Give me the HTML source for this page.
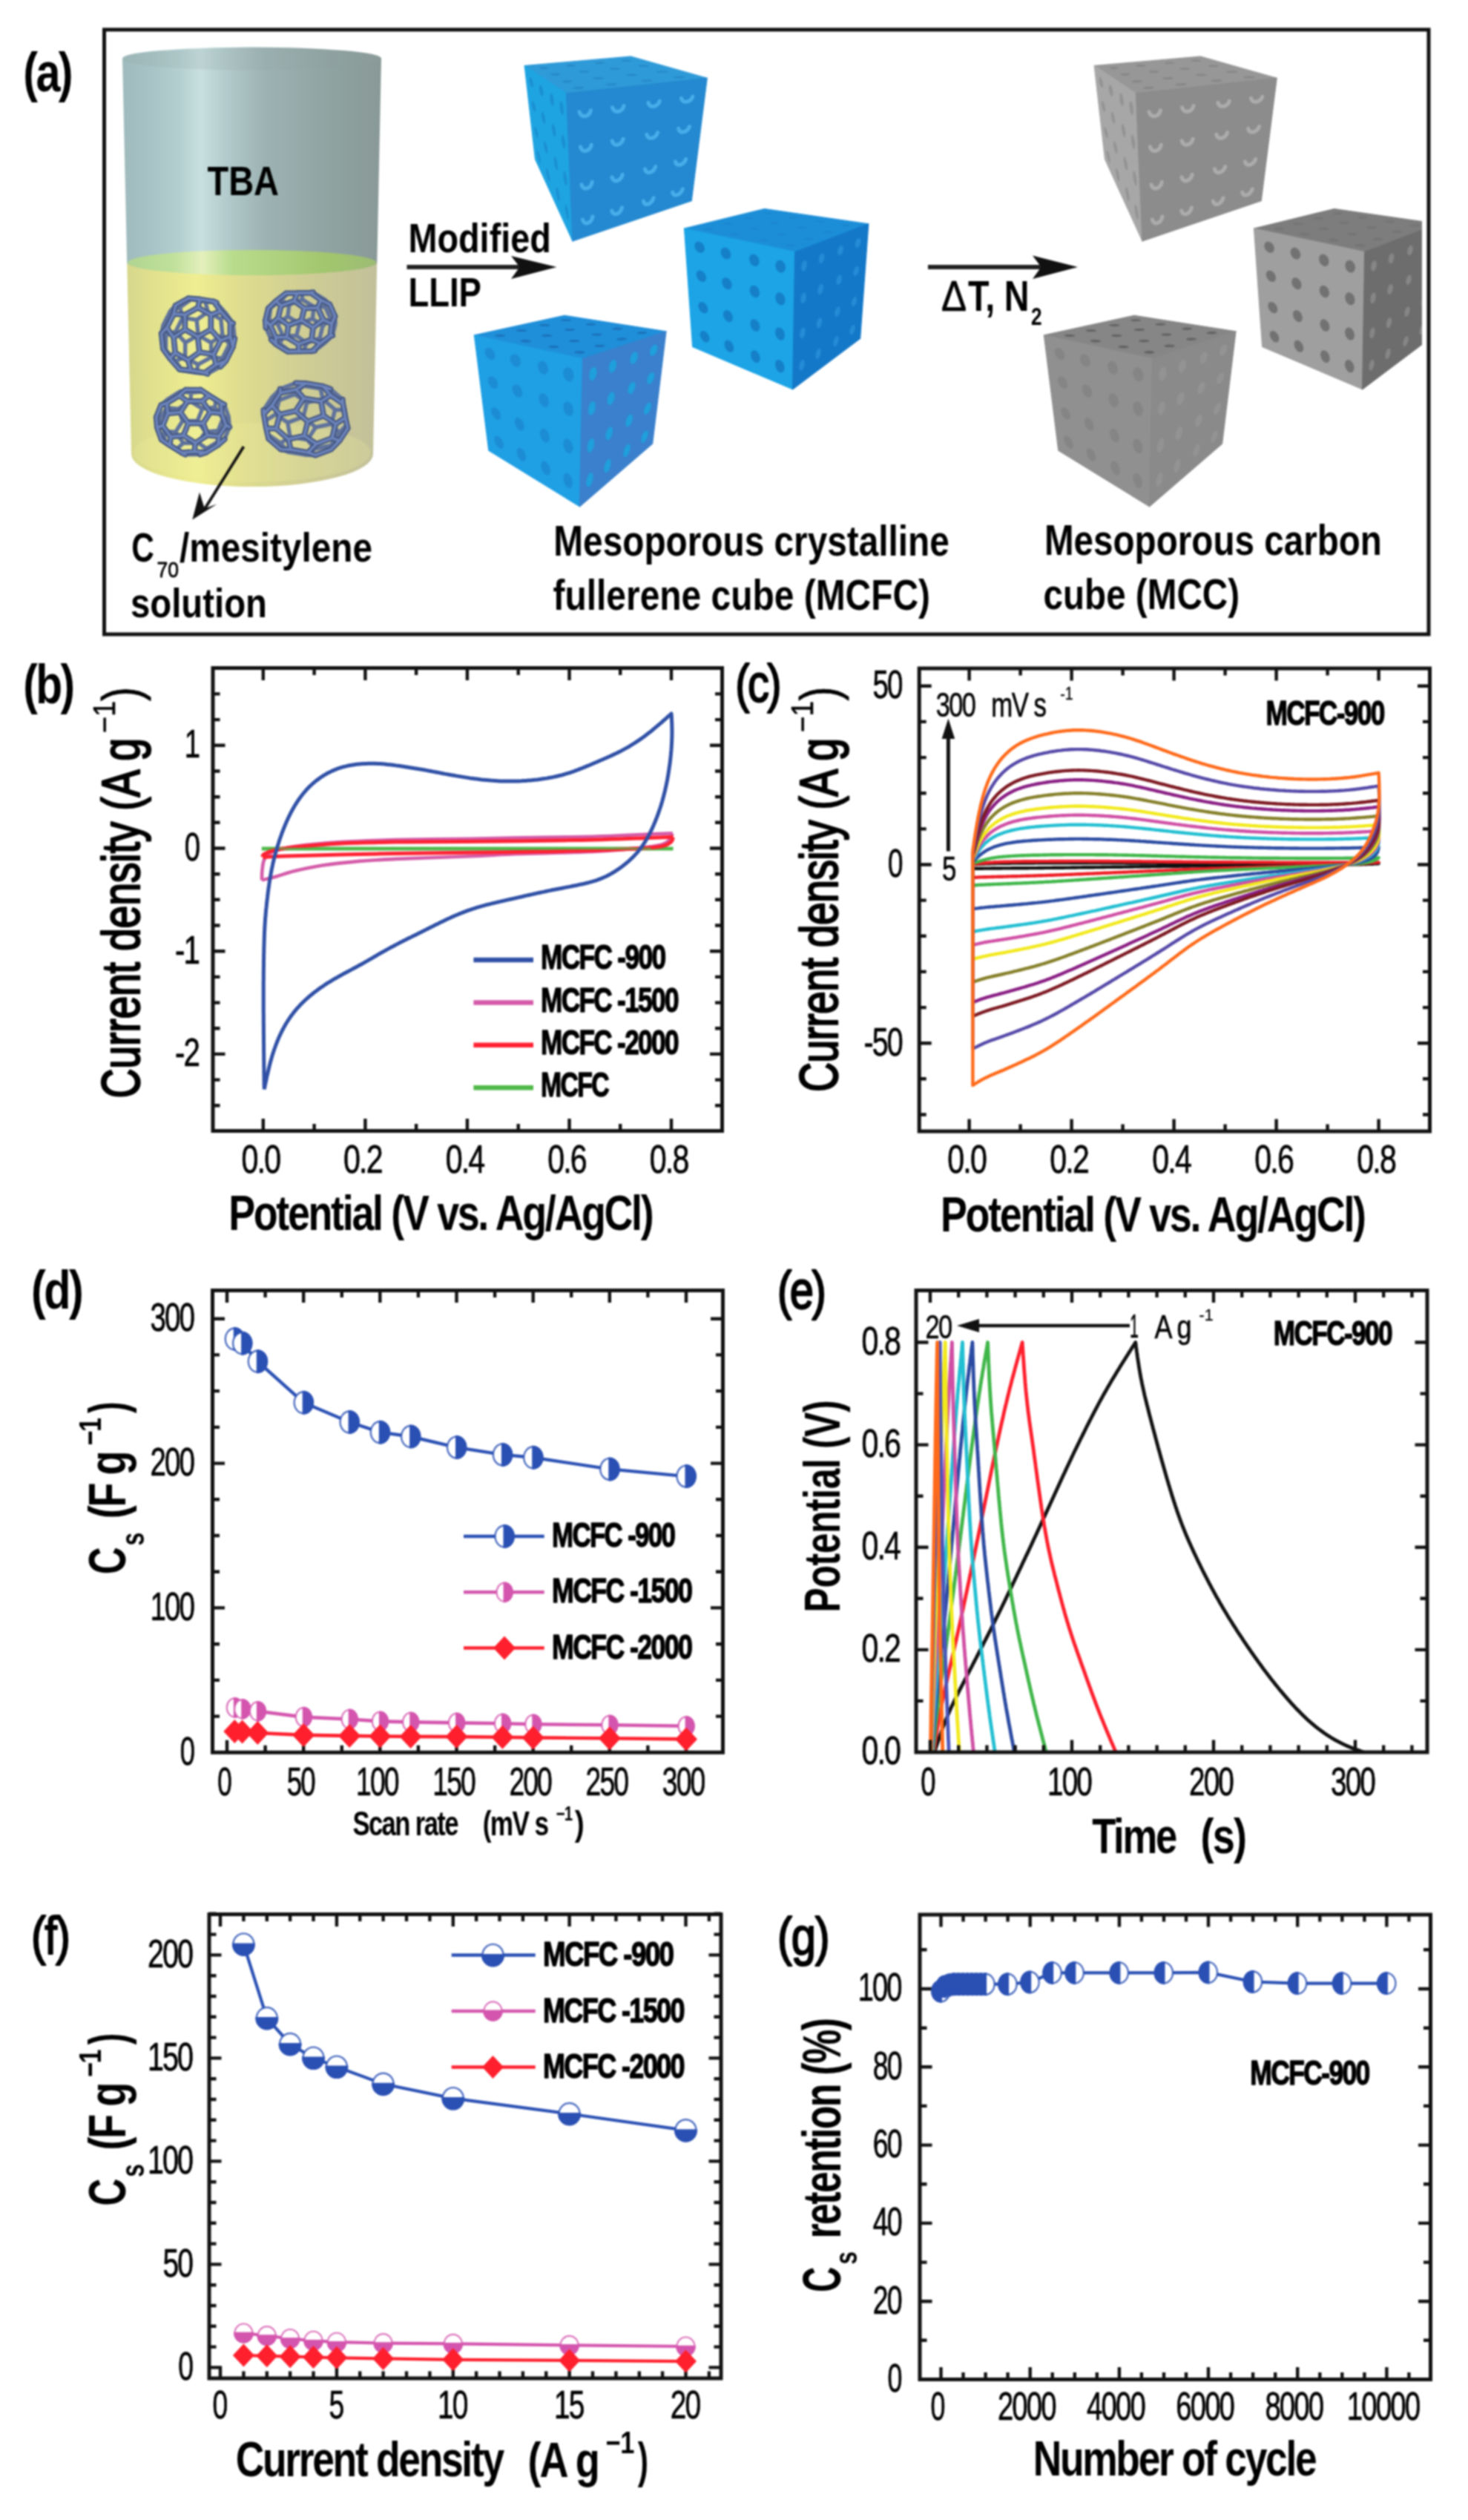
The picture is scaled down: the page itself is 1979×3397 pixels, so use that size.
<!DOCTYPE html>
<html><head><meta charset="utf-8"><title>Figure</title>
<style>
html,body{margin:0;padding:0;background:#fff;}
svg{display:block;font-family:"Liberation Sans",sans-serif;filter:blur(0.9px);}
</style></head><body>
<svg width="1979" height="3397" viewBox="0 0 1979 3397">
<defs><filter id="soft" x="0" y="0" width="1979" height="3397" filterUnits="userSpaceOnUse"><feGaussianBlur stdDeviation="0.9"/></filter></defs>
<rect width="1979" height="3397" fill="#fff"/>
<g id="fig">
<defs>
<linearGradient id="gTBA" x1="0" x2="1" y1="0" y2="0">
<stop offset="0" stop-color="#9fbabc"/><stop offset="0.10" stop-color="#a6c2c4"/><stop offset="0.22" stop-color="#b4cfd0"/>
<stop offset="0.30" stop-color="#c8e0df"/><stop offset="0.40" stop-color="#b3cbcc"/><stop offset="0.55" stop-color="#9db3b3"/>
<stop offset="0.80" stop-color="#8fa3a1"/><stop offset="1" stop-color="#899997"/>
</linearGradient>
<linearGradient id="gYEL" x1="0" x2="1" y1="0" y2="0">
<stop offset="0" stop-color="#d6d78c"/><stop offset="0.12" stop-color="#e2e28e"/><stop offset="0.28" stop-color="#efee92"/>
<stop offset="0.45" stop-color="#dfdd8e"/><stop offset="0.70" stop-color="#d0ce94"/><stop offset="1" stop-color="#c2c09a"/>
</linearGradient>
<linearGradient id="gGRN" x1="0" x2="1" y1="0" y2="0">
<stop offset="0" stop-color="#b0d590"/><stop offset="0.18" stop-color="#bfe09a"/><stop offset="0.30" stop-color="#e4f0bc"/>
<stop offset="0.42" stop-color="#b8dc8c"/><stop offset="0.80" stop-color="#a2c66e"/><stop offset="1" stop-color="#9cbd74"/>
</linearGradient>
<clipPath id="clipA"><rect x="143" y="42" width="1774" height="810"/></clipPath>
</defs>
<rect x="140.5" y="40" width="1785.5" height="815" fill="#fff" stroke="#111" stroke-width="5"/>
<path d="M171.2 354.0L508.3 354.0L503.0 612.0A163.0 44 0 0 1 177.0 612.0Z" fill="url(#gYEL)"/>
<ellipse cx="340.0" cy="610.0" rx="160.0" ry="40" fill="#f2f0a0" opacity="0.22"/>
<path d="M165.0 78.6A174.5 15 0 0 1 514.0 78.6L508.3 354.0A168.6 17 0 0 1 171.2 354.0Z" fill="url(#gTBA)"/>
<ellipse cx="339.5" cy="79.6" rx="173.5" ry="15" fill="#8fa09e" opacity="0.18"/>
<ellipse cx="339.8" cy="354.0" rx="167.6" ry="17" fill="url(#gGRN)"/>
<path d="M309.2 464.2L316.4 456.5M309.2 464.2L299.7 483.0M309.2 464.2L299.9 451.1M297.4 494.2L279.9 504.0M297.4 494.2L299.7 483.0M316.4 456.5L314.2 435.8M284.7 461.9L267.3 452.0M284.7 461.9L284.6 481.6M284.7 461.9L299.9 451.1M220.0 438.3L223.6 452.1M220.0 438.3L229.5 419.4M220.0 438.3L217.6 449.5M257.8 403.6L254.1 402.0M257.8 403.6L242.6 414.4M257.8 403.6L276.7 406.6M236.5 486.5L245.8 499.6M236.5 486.5L249.6 481.5M236.5 486.5L223.5 471.9M304.9 422.7L297.8 430.4M304.9 422.7L291.9 408.0M304.9 422.7L314.2 435.8M245.8 499.6L242.1 498.0M245.8 499.6L264.7 502.6M279.9 504.0L264.7 502.6M297.8 430.4L280.4 420.4M297.8 430.4L299.9 451.1M265.1 431.2L267.3 452.0M265.1 431.2L246.2 428.2M265.1 431.2L280.4 420.4M267.3 452.0L249.7 461.8M291.9 408.0L276.7 406.6M246.2 428.2L242.6 414.4M246.2 428.2L236.7 447.1M223.6 452.1L236.7 447.1M223.6 452.1L223.5 471.9M249.6 481.5L267.0 491.4M249.6 481.5L249.7 461.8M280.4 420.4L276.7 406.6M267.0 491.4L284.6 481.6M267.0 491.4L264.7 502.6M299.7 483.0L284.6 481.6M249.7 461.8L236.7 447.1M242.6 414.4L229.5 419.4M236.6 411.8L229.5 419.4M219.8 470.2L223.5 471.9" stroke="#5f729c" stroke-width="5.4" stroke-linecap="round" fill="none"/>
<path d="M297.4 494.2L304.5 486.6M253.6 485.6L268.9 474.8M253.6 485.6L257.3 499.4M253.6 485.6L236.2 475.6M316.4 456.5L314.0 467.7M304.5 486.6L314.0 467.7M304.5 486.6L291.4 491.6M267.0 414.6L249.4 424.4M267.0 414.6L269.3 403.4M267.0 414.6L284.4 424.5M268.9 474.8L266.7 454.0M268.9 474.8L287.8 477.8M266.7 454.0L284.3 444.2M266.7 454.0L249.3 444.1M276.2 502.4L279.9 504.0M276.2 502.4L257.3 499.4M276.2 502.4L291.4 491.6M242.1 498.0L257.3 499.4M242.1 498.0L229.1 483.3M249.4 424.4L234.3 423.0M249.4 424.4L249.3 444.1M288.2 406.4L291.9 408.0M288.2 406.4L269.3 403.4M288.2 406.4L297.5 419.5M314.0 467.7L310.4 453.9M269.3 403.4L254.1 402.0M297.5 419.5L310.5 434.1M297.5 419.5L284.4 424.5M314.2 435.8L310.5 434.1M254.1 402.0L236.6 411.8M310.4 453.9L297.3 458.9M310.4 453.9L310.5 434.1M234.1 454.9L236.2 475.6M234.1 454.9L249.3 444.1M234.1 454.9L224.8 441.8M284.3 444.2L297.3 458.9M284.3 444.2L284.4 424.5M297.3 458.9L287.8 477.8M229.1 483.3L236.2 475.6M229.1 483.3L219.8 470.2M234.3 423.0L224.8 441.8M234.3 423.0L236.6 411.8M291.4 491.6L287.8 477.8M224.8 441.8L217.6 449.5M217.6 449.5L219.8 470.2" stroke="#42547f" stroke-width="7.6" stroke-linecap="round" fill="none"/>
<path d="M297.4 494.2L304.5 486.6M253.6 485.6L268.9 474.8M253.6 485.6L257.3 499.4M253.6 485.6L236.2 475.6M316.4 456.5L314.0 467.7M304.5 486.6L314.0 467.7M304.5 486.6L291.4 491.6M267.0 414.6L249.4 424.4M267.0 414.6L269.3 403.4M267.0 414.6L284.4 424.5M268.9 474.8L266.7 454.0M268.9 474.8L287.8 477.8M266.7 454.0L284.3 444.2M266.7 454.0L249.3 444.1M276.2 502.4L279.9 504.0M276.2 502.4L257.3 499.4M276.2 502.4L291.4 491.6M242.1 498.0L257.3 499.4M242.1 498.0L229.1 483.3M249.4 424.4L234.3 423.0M249.4 424.4L249.3 444.1M288.2 406.4L291.9 408.0M288.2 406.4L269.3 403.4M288.2 406.4L297.5 419.5M314.0 467.7L310.4 453.9M269.3 403.4L254.1 402.0M297.5 419.5L310.5 434.1M297.5 419.5L284.4 424.5M314.2 435.8L310.5 434.1M254.1 402.0L236.6 411.8M310.4 453.9L297.3 458.9M310.4 453.9L310.5 434.1M234.1 454.9L236.2 475.6M234.1 454.9L249.3 444.1M234.1 454.9L224.8 441.8M284.3 444.2L297.3 458.9M284.3 444.2L284.4 424.5M297.3 458.9L287.8 477.8M229.1 483.3L236.2 475.6M229.1 483.3L219.8 470.2M234.3 423.0L224.8 441.8M234.3 423.0L236.6 411.8M291.4 491.6L287.8 477.8M224.8 441.8L217.6 449.5M217.6 449.5L219.8 470.2" stroke="#6c84bb" stroke-width="3.6" stroke-linecap="round" fill="none"/>
<path d="M437.8 462.3L448.3 452.3M437.8 462.3L424.2 472.8M437.8 462.3L431.1 455.9M448.3 452.3L452.2 435.9M413.4 462.4L399.7 452.5M413.4 462.4L409.1 472.9M413.4 462.4L431.1 455.9M364.8 415.2L362.7 431.4M364.8 415.2L378.4 404.8M364.8 415.2L361.7 415.7M407.6 403.9L407.0 394.2M407.6 403.9L389.9 410.4M407.6 403.9L423.3 413.5M365.7 457.9L377.3 463.5M365.7 457.9L358.4 441.8M445.6 429.5L435.0 439.5M445.6 429.5L438.3 413.4M445.6 429.5L452.2 435.9M435.0 439.5L421.3 429.6M435.0 439.5L431.1 455.9M403.6 436.1L399.7 452.5M403.6 436.1L387.9 426.5M403.6 436.1L421.3 429.6M437.7 403.7L438.3 413.4M437.7 403.7L422.0 394.1M437.7 403.7L444.3 410.1M399.7 452.5L381.6 453.1M438.3 413.4L423.3 413.5M422.0 394.1L407.0 394.2M387.9 426.5L389.9 410.4M387.9 426.5L374.3 437.0M362.7 431.4L374.3 437.0M362.7 431.4L358.4 441.8M452.2 435.9L451.6 426.2M377.3 463.5L391.0 473.4M377.3 463.5L381.6 453.1M421.3 429.6L423.3 413.5M391.0 473.4L409.1 472.9M391.0 473.4L388.0 473.9M407.0 394.2L388.9 394.8M424.2 472.8L409.1 472.9M381.6 453.1L374.3 437.0M389.9 410.4L378.4 404.8M385.8 395.2L388.9 394.8M388.9 394.8L378.4 404.8" stroke="#5f729c" stroke-width="5.4" stroke-linecap="round" fill="none"/>
<path d="M421.1 473.2L431.6 463.2M421.1 473.2L403.0 473.8M421.1 473.2L424.2 472.8M388.7 438.4L406.4 431.9M388.7 438.4L386.7 454.5M388.7 438.4L375.0 428.5M448.3 452.3L445.2 452.8M431.6 463.2L445.2 452.8M431.6 463.2L420.1 457.6M419.0 394.6L400.9 395.1M419.0 394.6L422.0 394.1M419.0 394.6L432.7 404.5M365.7 457.9L372.3 464.3M406.4 431.9L410.3 415.5M406.4 431.9L422.1 441.5M410.3 415.5L428.4 414.9M410.3 415.5L396.6 405.6M402.4 464.1L403.0 473.8M402.4 464.1L386.7 454.5M402.4 464.1L420.1 457.6M372.3 464.3L371.7 454.6M372.3 464.3L388.0 473.9M403.0 473.8L388.0 473.9M371.7 454.6L386.7 454.5M371.7 454.6L364.4 438.5M400.9 395.1L385.8 395.2M400.9 395.1L396.6 405.6M445.2 452.8L447.3 436.6M444.3 410.1L451.6 426.2M444.3 410.1L432.7 404.5M447.3 436.6L435.7 431.0M447.3 436.6L451.6 426.2M378.9 412.1L375.0 428.5M378.9 412.1L396.6 405.6M378.9 412.1L372.2 405.7M428.4 414.9L435.7 431.0M428.4 414.9L432.7 404.5M435.7 431.0L422.1 441.5M364.4 438.5L375.0 428.5M364.4 438.5L357.8 432.1M385.8 395.2L372.2 405.7M420.1 457.6L422.1 441.5M372.2 405.7L361.7 415.7M361.7 415.7L357.8 432.1M357.8 432.1L358.4 441.8" stroke="#42547f" stroke-width="7.6" stroke-linecap="round" fill="none"/>
<path d="M421.1 473.2L431.6 463.2M421.1 473.2L403.0 473.8M421.1 473.2L424.2 472.8M388.7 438.4L406.4 431.9M388.7 438.4L386.7 454.5M388.7 438.4L375.0 428.5M448.3 452.3L445.2 452.8M431.6 463.2L445.2 452.8M431.6 463.2L420.1 457.6M419.0 394.6L400.9 395.1M419.0 394.6L422.0 394.1M419.0 394.6L432.7 404.5M365.7 457.9L372.3 464.3M406.4 431.9L410.3 415.5M406.4 431.9L422.1 441.5M410.3 415.5L428.4 414.9M410.3 415.5L396.6 405.6M402.4 464.1L403.0 473.8M402.4 464.1L386.7 454.5M402.4 464.1L420.1 457.6M372.3 464.3L371.7 454.6M372.3 464.3L388.0 473.9M403.0 473.8L388.0 473.9M371.7 454.6L386.7 454.5M371.7 454.6L364.4 438.5M400.9 395.1L385.8 395.2M400.9 395.1L396.6 405.6M445.2 452.8L447.3 436.6M444.3 410.1L451.6 426.2M444.3 410.1L432.7 404.5M447.3 436.6L435.7 431.0M447.3 436.6L451.6 426.2M378.9 412.1L375.0 428.5M378.9 412.1L396.6 405.6M378.9 412.1L372.2 405.7M428.4 414.9L435.7 431.0M428.4 414.9L432.7 404.5M435.7 431.0L422.1 441.5M364.4 438.5L375.0 428.5M364.4 438.5L357.8 432.1M385.8 395.2L372.2 405.7M420.1 457.6L422.1 441.5M372.2 405.7L361.7 415.7M361.7 415.7L357.8 432.1M357.8 432.1L358.4 441.8" stroke="#6c84bb" stroke-width="3.6" stroke-linecap="round" fill="none"/>
<path d="M294.0 580.6L300.6 564.2M294.0 580.6L295.1 594.5M294.0 580.6L276.8 582.2M302.8 592.1L309.4 575.7M302.8 592.1L295.1 594.5M300.6 564.2L308.2 561.7M300.6 564.2L289.9 549.3M309.4 575.7L308.2 561.7M267.3 597.1L247.2 597.3M267.3 597.1L278.6 604.8M267.3 597.1L276.8 582.2M250.2 525.5L242.5 527.9M224.8 549.8L226.0 538.2M224.8 549.8L215.3 564.7M224.8 549.8L240.2 551.2M272.7 550.9L266.2 567.4M272.7 550.9L256.7 540.9M272.7 550.9L289.9 549.3M266.2 567.4L246.1 567.5M266.2 567.4L276.8 582.2M236.6 582.4L247.2 597.3M236.6 582.4L221.2 581.1M236.6 582.4L246.1 567.5M257.8 529.3L256.7 540.9M257.8 529.3L242.5 527.9M257.8 529.3L275.0 527.7M308.2 561.7L302.4 545.4M247.2 597.3L238.4 605.0M256.7 540.9L240.2 551.2M242.5 527.9L226.0 538.2M221.2 581.1L215.3 564.7M221.2 581.1L222.3 595.0M217.6 592.6L222.3 595.0M275.0 527.7L291.1 537.7M275.0 527.7L270.3 525.3M289.9 549.3L291.1 537.7M249.7 612.7L269.8 612.5M249.7 612.7L238.4 605.0M246.1 567.5L240.2 551.2M269.8 612.5L278.6 604.8M226.0 538.2L217.2 545.9M302.4 545.4L291.1 537.7M295.1 594.5L278.6 604.8M238.4 605.0L222.3 595.0M215.3 564.7L210.6 562.3" stroke="#5f729c" stroke-width="5.4" stroke-linecap="round" fill="none"/>
<path d="M302.8 592.1L294.0 599.8M273.9 570.5L283.4 555.6M273.9 570.5L279.8 586.8M273.9 570.5L253.8 570.6M309.4 575.7L304.7 573.3M211.8 576.3L217.6 592.6M211.8 576.3L210.6 562.3M211.8 576.3L219.4 573.8M250.2 525.5L241.4 533.2M250.2 525.5L270.3 525.3M245.0 610.3L262.2 608.7M245.0 610.3L249.7 612.7M245.0 610.3L228.9 600.3M283.4 555.6L272.8 540.7M283.4 555.6L298.8 556.9M272.8 540.7L281.6 533.0M272.8 540.7L252.7 540.9M295.2 588.2L294.0 599.8M295.2 588.2L279.8 586.8M295.2 588.2L304.7 573.3M262.2 608.7L263.3 597.1M262.2 608.7L277.5 610.1M294.0 599.8L277.5 610.1M263.3 597.1L279.8 586.8M263.3 597.1L247.3 587.1M241.4 533.2L224.9 543.5M241.4 533.2L252.7 540.9M217.6 592.6L228.9 600.3M269.8 612.5L277.5 610.1M302.4 545.4L297.7 543.0M243.2 555.8L253.8 570.6M243.2 555.8L252.7 540.9M243.2 555.8L226.0 557.4M281.6 533.0L297.7 543.0M281.6 533.0L270.3 525.3M297.7 543.0L298.8 556.9M247.3 587.1L253.8 570.6M247.3 587.1L230.1 588.7M224.9 543.5L226.0 557.4M224.9 543.5L217.2 545.9M304.7 573.3L298.8 556.9M226.0 557.4L219.4 573.8M217.2 545.9L210.6 562.3M219.4 573.8L230.1 588.7M230.1 588.7L228.9 600.3" stroke="#42547f" stroke-width="7.6" stroke-linecap="round" fill="none"/>
<path d="M302.8 592.1L294.0 599.8M273.9 570.5L283.4 555.6M273.9 570.5L279.8 586.8M273.9 570.5L253.8 570.6M309.4 575.7L304.7 573.3M211.8 576.3L217.6 592.6M211.8 576.3L210.6 562.3M211.8 576.3L219.4 573.8M250.2 525.5L241.4 533.2M250.2 525.5L270.3 525.3M245.0 610.3L262.2 608.7M245.0 610.3L249.7 612.7M245.0 610.3L228.9 600.3M283.4 555.6L272.8 540.7M283.4 555.6L298.8 556.9M272.8 540.7L281.6 533.0M272.8 540.7L252.7 540.9M295.2 588.2L294.0 599.8M295.2 588.2L279.8 586.8M295.2 588.2L304.7 573.3M262.2 608.7L263.3 597.1M262.2 608.7L277.5 610.1M294.0 599.8L277.5 610.1M263.3 597.1L279.8 586.8M263.3 597.1L247.3 587.1M241.4 533.2L224.9 543.5M241.4 533.2L252.7 540.9M217.6 592.6L228.9 600.3M269.8 612.5L277.5 610.1M302.4 545.4L297.7 543.0M243.2 555.8L253.8 570.6M243.2 555.8L252.7 540.9M243.2 555.8L226.0 557.4M281.6 533.0L297.7 543.0M281.6 533.0L270.3 525.3M297.7 543.0L298.8 556.9M247.3 587.1L253.8 570.6M247.3 587.1L230.1 588.7M224.9 543.5L226.0 557.4M224.9 543.5L217.2 545.9M304.7 573.3L298.8 556.9M226.0 557.4L219.4 573.8M217.2 545.9L210.6 562.3M219.4 573.8L230.1 588.7M230.1 588.7L228.9 600.3" stroke="#6c84bb" stroke-width="3.6" stroke-linecap="round" fill="none"/>
<path d="M425.5 576.0L446.8 571.3M425.5 576.0L414.4 592.9M425.5 576.0L409.0 561.7M424.8 605.0L446.2 600.3M424.8 605.0L411.8 613.2M424.8 605.0L414.4 592.9M446.8 571.3L457.2 583.4M446.8 571.3L451.7 552.2M446.2 600.3L457.2 583.4M446.2 600.3L446.4 605.6M387.8 569.6L371.4 558.6M387.8 569.6L391.1 588.9M387.8 569.6L409.0 561.7M398.8 516.4L377.6 524.4M398.8 516.4L408.8 520.0M362.1 591.4L361.8 586.1M435.2 537.9L413.8 542.6M435.2 537.9L432.1 523.9M435.2 537.9L451.7 552.2M425.2 613.6L411.8 613.2M378.6 605.7L388.5 609.3M411.8 613.2L388.5 609.3M413.8 542.6L397.5 531.5M413.8 542.6L409.0 561.7M376.3 539.5L371.4 558.6M376.3 539.5L366.3 535.9M376.3 539.5L397.5 531.5M445.4 524.3L432.1 523.9M445.4 524.3L461.9 538.6M457.2 583.4L468.4 571.9M371.4 558.6L358.5 566.8M432.1 523.9L408.8 520.0M366.3 535.9L377.6 524.4M366.3 535.9L355.3 552.8M461.9 538.6L465.1 552.6M451.7 552.2L465.1 552.6M361.8 586.1L378.2 597.2M361.8 586.1L358.5 566.8M397.5 531.5L408.8 520.0M378.2 597.2L391.1 588.9M378.2 597.2L388.5 609.3M468.4 571.9L468.7 577.2M468.4 571.9L465.1 552.6M414.4 592.9L391.1 588.9M358.5 566.8L355.3 552.8" stroke="#5f729c" stroke-width="5.4" stroke-linecap="round" fill="none"/>
<path d="M426.5 598.5L447.7 590.5M426.5 598.5L415.2 610.0M426.5 598.5L410.2 587.4M366.8 546.6L355.6 558.1M366.8 546.6L377.8 529.7M366.8 546.6L377.2 558.7M445.8 532.8L432.9 541.1M445.8 532.8L435.5 520.7M445.8 532.8L462.2 543.9M398.8 516.4L412.2 516.8M362.1 591.4L378.6 605.7M362.1 591.4L358.9 577.4M447.7 590.5L452.6 571.4M447.7 590.5L457.7 594.1M452.6 571.4L465.5 563.2M452.6 571.4L436.2 560.4M425.2 613.6L415.2 610.0M425.2 613.6L446.4 605.6M378.6 605.7L391.9 606.1M391.9 606.1L415.2 610.0M391.9 606.1L388.8 592.1M432.9 541.1L409.6 537.1M432.9 541.1L436.2 560.4M445.4 524.3L435.5 520.7M435.5 520.7L412.2 516.8M355.6 558.1L355.3 552.8M355.6 558.1L358.9 577.4M461.9 538.6L462.2 543.9M412.2 516.8L399.2 525.0M415.0 568.3L410.2 587.4M415.0 568.3L436.2 560.4M415.0 568.3L398.5 554.0M465.5 563.2L468.7 577.2M465.5 563.2L462.2 543.9M468.7 577.2L457.7 594.1M388.8 592.1L410.2 587.4M388.8 592.1L372.3 577.8M377.6 524.4L377.8 529.7M409.6 537.1L398.5 554.0M409.6 537.1L399.2 525.0M446.4 605.6L457.7 594.1M398.5 554.0L377.2 558.7M399.2 525.0L377.8 529.7M377.2 558.7L372.3 577.8M372.3 577.8L358.9 577.4" stroke="#42547f" stroke-width="7.6" stroke-linecap="round" fill="none"/>
<path d="M426.5 598.5L447.7 590.5M426.5 598.5L415.2 610.0M426.5 598.5L410.2 587.4M366.8 546.6L355.6 558.1M366.8 546.6L377.8 529.7M366.8 546.6L377.2 558.7M445.8 532.8L432.9 541.1M445.8 532.8L435.5 520.7M445.8 532.8L462.2 543.9M398.8 516.4L412.2 516.8M362.1 591.4L378.6 605.7M362.1 591.4L358.9 577.4M447.7 590.5L452.6 571.4M447.7 590.5L457.7 594.1M452.6 571.4L465.5 563.2M452.6 571.4L436.2 560.4M425.2 613.6L415.2 610.0M425.2 613.6L446.4 605.6M378.6 605.7L391.9 606.1M391.9 606.1L415.2 610.0M391.9 606.1L388.8 592.1M432.9 541.1L409.6 537.1M432.9 541.1L436.2 560.4M445.4 524.3L435.5 520.7M435.5 520.7L412.2 516.8M355.6 558.1L355.3 552.8M355.6 558.1L358.9 577.4M461.9 538.6L462.2 543.9M412.2 516.8L399.2 525.0M415.0 568.3L410.2 587.4M415.0 568.3L436.2 560.4M415.0 568.3L398.5 554.0M465.5 563.2L468.7 577.2M465.5 563.2L462.2 543.9M468.7 577.2L457.7 594.1M388.8 592.1L410.2 587.4M388.8 592.1L372.3 577.8M377.6 524.4L377.8 529.7M409.6 537.1L398.5 554.0M409.6 537.1L399.2 525.0M446.4 605.6L457.7 594.1M398.5 554.0L377.2 558.7M399.2 525.0L377.8 529.7M377.2 558.7L372.3 577.8M372.3 577.8L358.9 577.4" stroke="#6c84bb" stroke-width="3.6" stroke-linecap="round" fill="none"/>
<path d="M328.5 602L275.3 686.9" stroke="#111" stroke-width="3.8" fill="none"/>
<path d="M259.3 700.4L269 663.6L275.8 685.5L292.4 679.5Z" fill="#111"/>
<path d="M548.5 360H704" stroke="#222" stroke-width="6" fill="none"/>
<path d="M750.5 360L689 345L700.5 360L689 376Z" fill="#111"/>
<path d="M1251 360H1406" stroke="#222" stroke-width="6" fill="none"/>
<path d="M1453 360L1392 344.5L1403.5 360L1392 376Z" fill="#111"/>
<polygon points="707.2,88.6 850.2,76.2 953.2,105.4 763.4,125.8" fill="#2f9ad8" stroke="#2f9ad8" stroke-width="1.2" stroke-linejoin="round"/>
<polygon points="707.2,88.6 763.4,125.8 772.0,325.0 721.5,214.5" fill="#1fa4e2" stroke="#1fa4e2" stroke-width="1.2" stroke-linejoin="round"/>
<polygon points="763.4,125.8 953.2,105.4 932.2,270.8 772.0,325.0" fill="#2489d0" stroke="#2489d0" stroke-width="1.2" stroke-linejoin="round"/>
<path d="M736.4 93.1L739.4 92.5L740.4 91.6L738.8 90.7L735.3 90.2L731.4 90.2L728.4 90.8L727.5 91.7L729.0 92.7L732.4 93.2ZM772.6 89.8L775.6 89.2L776.3 88.4L774.4 87.5L770.8 87.0L766.7 87.1L763.8 87.7L763.1 88.5L764.9 89.4L768.5 89.9ZM811.9 86.3L814.7 85.7L815.2 84.9L813.0 84.1L809.1 83.6L805.0 83.7L802.2 84.2L801.7 85.1L803.8 85.9L807.7 86.3ZM848.1 83.0L850.9 82.4L851.1 81.6L848.7 80.9L844.5 80.5L840.3 80.5L837.6 81.1L837.4 81.9L839.7 82.6L843.8 83.0ZM751.3 101.8L754.7 101.2L755.7 100.2L754.1 99.3L750.6 98.8L746.3 98.9L743.1 99.6L742.0 100.5L743.5 101.4L747.0 101.9ZM790.3 98.1L793.5 97.4L794.3 96.5L792.5 95.7L788.7 95.2L784.4 95.3L781.2 95.9L780.3 96.8L782.1 97.7L785.9 98.2ZM832.4 94.0L835.6 93.4L836.2 92.5L834.0 91.7L830.0 91.3L825.6 91.4L822.5 92.0L821.9 92.9L823.9 93.7L828.0 94.1ZM871.3 90.2L874.4 89.6L874.8 88.8L872.3 88.0L868.1 87.7L863.6 87.8L860.6 88.4L860.2 89.2L862.5 90.0L866.8 90.3ZM767.5 111.2L771.1 110.5L772.4 109.5L770.8 108.7L767.0 108.2L762.5 108.3L759.0 109.0L757.7 110.0L759.2 110.9L763.0 111.4ZM809.4 107.0L812.9 106.3L813.9 105.3L812.1 104.5L808.1 104.1L803.5 104.2L800.0 104.9L799.0 105.8L800.8 106.7L804.7 107.1ZM854.7 102.3L858.1 101.7L858.9 100.8L856.8 100.0L852.5 99.6L847.8 99.8L844.5 100.4L843.7 101.3L845.7 102.1L850.0 102.5ZM896.5 98.1L899.9 97.4L900.4 96.6L898.0 95.8L893.6 95.5L888.8 95.7L885.5 96.3L884.9 97.1L887.3 97.9L891.7 98.3ZM782.5 119.9L786.3 119.2L787.8 118.2L786.2 117.3L782.2 116.8L777.5 117.0L773.7 117.7L772.2 118.7L773.7 119.6L777.6 120.1ZM827.0 115.2L830.8 114.4L832.0 113.5L830.1 112.6L826.0 112.2L821.1 112.4L817.4 113.1L816.2 114.1L818.0 115.0L822.1 115.4ZM875.3 110.1L879.0 109.3L879.9 108.4L877.7 107.6L873.3 107.3L868.4 107.5L864.8 108.2L863.8 109.1L865.9 109.9L870.3 110.3ZM919.8 105.3L923.4 104.6L924.1 103.8L921.7 103.0L917.1 102.7L912.1 102.9L908.5 103.6L907.8 104.5L910.1 105.2L914.7 105.6Z" fill="#2689c8"/>
<path d="M719.0 113.4L718.9 117.0L717.8 118.3L716.1 116.7L714.4 113.0L713.5 108.7L713.6 105.3L714.8 103.9L716.5 105.3L718.1 108.9ZM722.2 146.8L722.1 150.2L721.0 151.0L719.3 148.9L717.7 144.8L716.8 140.3L716.9 137.0L718.0 136.2L719.7 138.0L721.3 142.1ZM725.7 182.9L725.6 186.2L724.5 186.5L722.9 183.9L721.3 179.3L720.4 174.6L720.5 171.5L721.6 171.1L723.2 173.6L724.8 178.1ZM728.9 216.3L728.8 219.4L727.7 219.3L726.2 216.1L724.6 211.1L723.7 206.2L723.8 203.3L724.9 203.3L726.5 206.3L728.0 211.3ZM732.4 124.6L732.2 128.7L731.0 130.3L729.3 128.8L727.7 124.8L726.8 119.9L727.0 116.0L728.1 114.3L729.9 115.6L731.5 119.6ZM735.2 162.2L735.0 166.2L733.9 167.3L732.3 165.2L730.7 160.8L729.8 155.8L730.0 152.0L731.1 150.8L732.8 152.6L734.3 157.0ZM738.3 202.9L738.2 206.7L737.1 207.4L735.4 204.7L733.9 199.8L733.0 194.6L733.2 191.0L734.3 190.3L735.9 192.7L737.5 197.6ZM741.2 240.5L741.0 244.2L740.0 244.4L738.4 241.2L736.9 235.8L736.0 230.4L736.2 227.0L737.2 226.7L738.8 229.7L740.3 235.0ZM746.8 136.7L746.5 141.4L745.4 143.4L743.7 141.8L742.1 137.5L741.2 132.1L741.4 127.5L742.6 125.6L744.4 126.9L745.9 131.2ZM749.3 178.9L749.1 183.5L747.9 184.9L746.2 182.8L744.7 178.1L743.9 172.5L744.1 168.1L745.2 166.6L746.9 168.5L748.4 173.2ZM752.0 224.6L751.8 229.0L750.7 230.0L749.1 227.3L747.5 222.0L746.7 216.3L746.9 212.1L748.0 211.0L749.7 213.5L751.2 218.7ZM754.5 266.8L754.3 271.0L753.2 271.5L751.6 268.3L750.2 262.6L749.4 256.7L749.5 252.7L750.6 252.1L752.2 255.1L753.7 260.7ZM760.1 148.0L759.8 153.2L758.6 155.4L756.9 153.9L755.3 149.2L754.5 143.3L754.8 138.2L756.0 135.9L757.7 137.3L759.3 141.9ZM762.3 194.4L762.0 199.4L760.8 201.2L759.2 199.1L757.6 194.0L756.8 187.9L757.1 183.1L758.3 181.2L759.9 183.1L761.5 188.1ZM764.6 244.6L764.4 249.5L763.2 250.8L761.6 248.1L760.1 242.6L759.3 236.3L759.6 231.6L760.7 230.2L762.4 232.7L763.8 238.2ZM766.8 291.0L766.6 295.7L765.5 296.6L763.9 293.4L762.4 287.4L761.7 280.9L761.9 276.4L763.0 275.5L764.6 278.5L766.0 284.4Z" fill="#1a8fd2"/>
<path d="M796.4 148.7L795.1 152.4L792.4 155.3L788.9 156.7L785.3 156.3L782.5 154.2L781.0 150.8M797.3 195.1L796.0 198.9L793.4 201.9L790.0 203.4L786.6 203.2L783.9 201.2L782.5 197.9M798.2 245.4L797.0 249.2L794.5 252.3L791.3 254.1L788.0 254.0L785.4 252.1L784.0 248.9M799.0 291.8L797.9 295.7L795.5 298.9L792.4 300.8L789.3 300.9L786.8 299.2L785.4 296.0M841.0 142.7L839.6 146.3L836.8 149.0L833.2 150.4L829.7 150.0L827.0 148.0L825.6 144.8M840.2 187.2L838.7 190.8L836.1 193.7L832.7 195.2L829.3 195.0L826.6 193.1L825.3 189.9M839.2 235.4L837.9 239.0L835.3 242.0L832.0 243.7L828.8 243.7L826.3 241.9L825.0 238.8M838.4 279.8L837.1 283.6L834.6 286.7L831.5 288.5L828.4 288.6L826.0 287.0L824.8 284.0M889.3 136.2L887.7 139.6L884.8 142.2L881.2 143.5L877.8 143.2L875.1 141.3L873.9 138.3M886.6 178.6L885.1 182.0L882.3 184.8L878.8 186.2L875.5 186.1L873.0 184.3L871.8 181.3M883.7 224.5L882.2 228.0L879.5 230.9L876.2 232.5L873.0 232.5L870.6 230.9L869.5 227.9M881.0 266.8L879.5 270.4L877.0 273.4L873.8 275.2L870.7 275.4L868.4 273.8L867.4 271.0M933.9 130.2L932.2 133.4L929.2 136.0L925.6 137.3L922.1 137.0L919.6 135.2L918.5 132.3M929.5 170.6L927.8 173.9L924.9 176.6L921.5 178.0L918.1 177.9L915.7 176.2L914.7 173.4M924.7 214.4L923.1 217.8L920.3 220.6L917.0 222.2L913.8 222.2L911.5 220.7L910.5 217.9M920.3 254.8L918.7 258.2L916.1 261.2L912.9 262.9L909.9 263.1L907.6 261.7L906.7 259.0" fill="none" stroke="#48aeea" stroke-width="5" stroke-linecap="round"/>
<polygon points="922.5,308.0 1030.8,281.5 1170.8,301.9 1071.7,339.7" fill="#1c8ed8" stroke="#1c8ed8" stroke-width="1.2" stroke-linejoin="round"/>
<polygon points="922.5,308.0 1071.7,339.7 1068.6,524.7 933.7,467.4" fill="#1ca4e6" stroke="#1ca4e6" stroke-width="1.2" stroke-linejoin="round"/>
<polygon points="1071.7,339.7 1170.8,301.9 1159.6,456.2 1068.6,524.7" fill="#1478c8" stroke="#1478c8" stroke-width="1.2" stroke-linejoin="round"/>
<path d="M961.7 309.7L963.1 308.8L961.7 307.8L958.1 307.1L953.6 306.9L949.9 307.3L948.5 308.2L949.9 309.2L953.6 309.9L958.1 310.1ZM987.4 302.9L988.8 302.0L987.4 301.0L983.8 300.4L979.3 300.2L975.7 300.7L974.3 301.5L975.6 302.5L979.3 303.2L983.7 303.3ZM1015.1 295.5L1016.5 294.6L1015.2 293.7L1011.7 293.1L1007.3 293.1L1003.6 293.5L1002.2 294.4L1003.5 295.3L1007.1 295.9L1011.5 296.0ZM1040.7 288.7L1042.2 287.8L1040.9 287.0L1037.4 286.5L1033.0 286.4L1029.4 286.9L1028.0 287.7L1029.3 288.6L1032.8 289.1L1037.1 289.2ZM997.3 316.9L998.6 316.0L997.2 314.9L993.5 314.2L989.0 314.0L985.4 314.5L984.1 315.5L985.5 316.5L989.2 317.3L993.7 317.4ZM1022.3 309.5L1023.7 308.5L1022.3 307.5L1018.7 306.9L1014.3 306.8L1010.7 307.3L1009.3 308.2L1010.7 309.2L1014.3 309.9L1018.8 310.0ZM1049.5 301.4L1050.9 300.5L1049.5 299.5L1046.0 298.9L1041.6 298.9L1038.1 299.4L1036.7 300.3L1038.0 301.3L1041.6 301.9L1046.0 301.9ZM1074.6 293.9L1076.0 293.0L1074.7 292.1L1071.2 291.6L1066.9 291.6L1063.3 292.2L1061.9 293.0L1063.2 293.9L1066.7 294.5L1071.1 294.5ZM1035.7 324.8L1037.0 323.8L1035.5 322.7L1031.9 322.0L1027.4 321.8L1023.9 322.4L1022.6 323.4L1024.1 324.5L1027.8 325.3L1032.2 325.4ZM1060.3 316.6L1061.5 315.6L1060.1 314.6L1056.5 313.9L1052.1 313.9L1048.6 314.4L1047.3 315.4L1048.7 316.5L1052.3 317.2L1056.7 317.2ZM1086.8 307.8L1088.1 306.8L1086.7 305.8L1083.2 305.2L1078.8 305.2L1075.3 305.8L1074.0 306.8L1075.4 307.8L1079.0 308.4L1083.3 308.4ZM1111.3 299.6L1112.6 298.6L1111.3 297.7L1107.8 297.2L1103.5 297.2L1100.0 297.8L1098.7 298.8L1100.0 299.7L1103.5 300.3L1107.8 300.2ZM1071.3 332.1L1072.5 331.0L1071.0 329.8L1067.3 329.1L1062.9 329.0L1059.4 329.6L1058.2 330.7L1059.7 331.9L1063.4 332.6L1067.8 332.7ZM1095.2 323.2L1096.5 322.2L1095.0 321.1L1091.4 320.4L1087.1 320.4L1083.6 321.0L1082.3 322.1L1083.8 323.2L1087.4 323.9L1091.8 323.9ZM1121.2 313.7L1122.5 312.6L1121.1 311.6L1117.5 311.0L1113.2 311.0L1109.8 311.7L1108.5 312.7L1109.9 313.8L1113.5 314.4L1117.8 314.3ZM1145.2 304.8L1146.5 303.8L1145.1 302.9L1141.6 302.3L1137.4 302.4L1133.9 303.1L1132.6 304.1L1134.0 305.1L1137.5 305.6L1141.8 305.5Z" fill="#1a88d0"/>
<path d="M950.0 334.9L949.0 339.1L945.7 341.1L941.4 340.0L937.8 336.4L936.2 331.6L937.2 327.5L940.5 325.5L944.8 326.5L948.5 330.1ZM952.1 374.3L951.1 378.4L947.9 380.2L943.7 379.0L940.2 375.2L938.6 370.4L939.6 366.3L942.8 364.5L947.0 365.6L950.6 369.4ZM954.4 416.9L953.4 421.0L950.2 422.6L946.2 421.2L942.7 417.3L941.2 412.4L942.2 408.4L945.3 406.7L949.4 408.0L952.9 411.9ZM956.5 456.2L955.5 460.3L952.4 461.8L948.5 460.2L945.1 456.1L943.6 451.2L944.5 447.2L947.6 445.7L951.6 447.2L955.0 451.2ZM985.4 343.3L984.2 347.7L980.9 349.8L976.6 348.7L973.0 345.0L971.5 340.0L972.7 335.7L976.1 333.6L980.4 334.6L983.9 338.3ZM986.7 384.1L985.5 388.5L982.2 390.4L978.1 389.1L974.6 385.3L973.1 380.3L974.2 376.0L977.5 374.1L981.7 375.2L985.2 379.1ZM988.0 428.4L986.9 432.6L983.7 434.4L979.7 433.0L976.3 428.9L974.8 423.9L975.9 419.7L979.1 417.9L983.2 419.2L986.6 423.2ZM989.3 469.2L988.2 473.4L985.1 475.0L981.1 473.4L977.8 469.2L976.4 464.1L977.5 460.0L980.6 458.3L984.6 459.9L987.9 464.0ZM1023.7 352.4L1022.4 357.0L1019.0 359.2L1014.7 358.1L1011.3 354.3L1009.9 349.1L1011.1 344.6L1014.5 342.5L1018.8 343.4L1022.3 347.2ZM1024.1 394.9L1022.8 399.4L1019.5 401.4L1015.3 400.1L1011.9 396.2L1010.5 391.0L1011.8 386.5L1015.1 384.5L1019.3 385.7L1022.7 389.6ZM1024.5 440.8L1023.3 445.2L1020.0 447.1L1015.9 445.7L1012.6 441.6L1011.3 436.3L1012.5 431.9L1015.7 430.0L1019.8 431.4L1023.2 435.5ZM1024.8 483.2L1023.6 487.6L1020.5 489.3L1016.5 487.7L1013.3 483.5L1012.0 478.1L1013.1 473.8L1016.3 472.1L1020.3 473.6L1023.6 477.9ZM1059.1 360.8L1057.7 365.6L1054.2 367.8L1050.0 366.8L1046.5 362.9L1045.2 357.6L1046.6 352.9L1050.0 350.6L1054.3 351.6L1057.8 355.5ZM1058.6 404.7L1057.3 409.4L1053.9 411.5L1049.7 410.3L1046.4 406.2L1045.1 400.9L1046.4 396.2L1049.8 394.1L1054.0 395.3L1057.4 399.3ZM1058.1 452.3L1056.8 456.9L1053.5 458.9L1049.4 457.4L1046.2 453.2L1044.9 447.8L1046.2 443.2L1049.5 441.2L1053.6 442.6L1056.9 446.8ZM1057.7 496.2L1056.4 500.7L1053.1 502.6L1049.2 501.0L1046.0 496.6L1044.8 491.1L1046.0 486.6L1049.3 484.7L1053.3 486.3L1056.5 490.6Z" fill="#157fc8"/>
<path d="M1088.0 356.6L1087.1 361.2L1085.1 364.7L1082.7 365.7L1080.8 363.9L1080.1 360.0L1081.0 355.4L1083.0 351.9L1085.4 350.9L1087.3 352.7ZM1086.9 399.8L1086.1 404.4L1084.1 408.0L1081.7 409.3L1079.8 407.6L1079.2 403.7L1080.0 399.1L1082.0 395.5L1084.4 394.3L1086.3 395.9ZM1085.7 446.5L1084.9 451.2L1083.0 455.0L1080.7 456.4L1078.8 454.9L1078.2 451.1L1079.0 446.4L1081.0 442.6L1083.3 441.2L1085.1 442.7ZM1084.7 489.7L1083.8 494.4L1081.9 498.3L1079.7 500.0L1077.9 498.6L1077.3 494.8L1078.1 490.1L1080.0 486.2L1082.3 484.6L1084.1 485.9ZM1111.5 346.6L1110.6 351.0L1108.6 354.4L1106.1 355.4L1104.3 353.7L1103.7 350.0L1104.5 345.5L1106.6 342.2L1109.0 341.2L1110.9 342.9ZM1110.0 388.0L1109.1 392.4L1107.1 395.9L1104.7 397.2L1102.9 395.7L1102.3 391.9L1103.1 387.4L1105.2 383.9L1107.5 382.8L1109.4 384.3ZM1108.3 432.8L1107.4 437.3L1105.5 441.0L1103.1 442.4L1101.3 441.1L1100.8 437.4L1101.6 432.9L1103.6 429.2L1105.9 427.8L1107.7 429.2ZM1106.7 474.2L1105.9 478.8L1104.0 482.6L1101.7 484.2L1099.9 483.0L1099.4 479.4L1100.2 474.8L1102.2 471.0L1104.4 469.4L1106.2 470.6ZM1137.0 335.8L1136.0 339.9L1134.0 343.2L1131.5 344.3L1129.7 342.7L1129.1 339.1L1130.1 334.9L1132.2 331.6L1134.6 330.6L1136.4 332.2ZM1134.9 375.2L1134.0 379.5L1132.0 382.9L1129.6 384.1L1127.8 382.7L1127.3 379.1L1128.2 374.9L1130.2 371.5L1132.6 370.3L1134.4 371.7ZM1132.7 418.0L1131.8 422.3L1129.8 425.8L1127.5 427.3L1125.7 426.0L1125.2 422.5L1126.1 418.2L1128.1 414.6L1130.4 413.3L1132.2 414.5ZM1130.7 457.4L1129.8 461.8L1127.8 465.5L1125.6 467.1L1123.8 466.0L1123.3 462.6L1124.2 458.2L1126.2 454.5L1128.5 452.9L1130.2 454.1ZM1160.5 325.7L1159.5 329.7L1157.4 332.9L1155.0 333.9L1153.2 332.5L1152.7 329.1L1153.7 325.0L1155.8 321.9L1158.2 320.9L1160.0 322.3ZM1158.0 363.4L1157.0 367.5L1155.0 370.8L1152.6 372.0L1150.8 370.7L1150.3 367.3L1151.3 363.2L1153.4 360.0L1155.7 358.8L1157.5 360.1ZM1155.3 404.3L1154.3 408.4L1152.3 411.8L1150.0 413.3L1148.3 412.1L1147.8 408.8L1148.7 404.6L1150.7 401.2L1153.1 399.8L1154.8 401.0ZM1152.8 441.9L1151.8 446.1L1149.8 449.7L1147.6 451.4L1145.9 450.4L1145.4 447.1L1146.3 442.9L1148.3 439.3L1150.6 437.7L1152.3 438.7Z" fill="#248cd6"/>
<polygon points="639.4,451.9 761.0,425.3 898.0,446.8 785.5,483.6" fill="#1f8fda" stroke="#1f8fda" stroke-width="1.2" stroke-linejoin="round"/>
<polygon points="639.4,451.9 785.5,483.6 781.5,682.8 658.8,607.2" fill="#1f9fe4" stroke="#1f9fe4" stroke-width="1.2" stroke-linejoin="round"/>
<polygon points="785.5,483.6 898.0,446.8 879.6,598.0 781.5,682.8" fill="#3a80cc" stroke="#3a80cc" stroke-width="1.2" stroke-linejoin="round"/>
<path d="M679.8 453.6L681.6 452.7L680.4 451.7L676.8 451.0L672.2 450.8L668.3 451.2L666.5 452.1L667.7 453.1L671.3 453.8L675.9 454.0ZM708.7 446.8L710.4 445.9L709.3 445.0L705.8 444.3L701.2 444.1L697.2 444.6L695.5 445.4L696.6 446.4L700.1 447.1L704.7 447.3ZM739.9 439.4L741.6 438.6L740.6 437.7L737.1 437.1L732.6 437.0L728.6 437.4L726.9 438.3L727.9 439.2L731.4 439.8L736.0 439.9ZM768.7 432.6L770.5 431.8L769.4 430.9L766.0 430.4L761.5 430.3L757.6 430.8L755.8 431.6L756.9 432.5L760.3 433.1L764.8 433.1ZM714.6 460.9L716.3 459.9L715.1 458.9L711.5 458.2L706.9 458.0L703.0 458.5L701.4 459.4L702.5 460.5L706.1 461.2L710.7 461.4ZM742.9 453.5L744.6 452.6L743.5 451.6L739.9 450.9L735.4 450.8L731.5 451.3L729.8 452.2L730.9 453.2L734.5 453.9L739.0 454.0ZM773.6 445.5L775.3 444.6L774.2 443.6L770.7 443.0L766.2 443.0L762.3 443.5L760.6 444.4L761.7 445.3L765.2 446.0L769.7 446.0ZM801.8 438.1L803.6 437.2L802.5 436.3L799.1 435.8L794.6 435.8L790.8 436.3L789.1 437.2L790.1 438.1L793.5 438.6L798.0 438.7ZM752.3 468.8L753.9 467.8L752.7 466.7L749.1 466.0L744.5 465.8L740.7 466.4L739.1 467.4L740.3 468.5L743.9 469.2L748.5 469.3ZM780.0 460.8L781.6 459.8L780.5 458.7L777.0 458.1L772.4 458.0L768.6 458.5L767.0 459.5L768.1 460.6L771.7 461.3L776.2 461.3ZM810.1 452.1L811.7 451.1L810.6 450.1L807.1 449.5L802.6 449.5L798.8 450.1L797.2 451.0L798.3 452.0L801.8 452.6L806.3 452.7ZM837.8 444.1L839.4 443.1L838.4 442.2L835.0 441.6L830.5 441.6L826.7 442.2L825.0 443.2L826.1 444.1L829.6 444.7L834.0 444.7ZM787.1 476.1L788.6 475.0L787.4 473.9L783.8 473.1L779.3 473.1L775.5 473.7L773.9 474.7L775.2 475.8L778.8 476.6L783.3 476.7ZM814.3 467.5L815.9 466.4L814.7 465.3L811.1 464.7L806.6 464.6L802.9 465.2L801.3 466.3L802.5 467.4L806.0 468.1L810.5 468.1ZM843.7 458.1L845.3 457.1L844.2 456.1L840.7 455.5L836.3 455.5L832.5 456.1L830.9 457.1L832.1 458.2L835.5 458.8L840.0 458.8ZM870.9 449.5L872.5 448.5L871.4 447.5L868.0 447.0L863.6 447.1L859.9 447.7L858.3 448.7L859.4 449.7L862.8 450.3L867.2 450.2Z" fill="#1b72ba"/>
<path d="M667.7 478.8L666.8 483.2L663.5 485.2L659.1 484.0L655.2 480.1L653.4 475.1L654.2 470.8L657.5 468.7L662.0 469.8L665.9 473.7ZM671.3 518.0L670.5 522.3L667.3 524.0L663.1 522.5L659.4 518.3L657.6 513.2L658.4 509.0L661.5 507.2L665.8 508.6L669.6 512.7ZM675.3 560.4L674.5 564.6L671.5 566.1L667.5 564.2L663.9 559.7L662.1 554.5L662.9 550.4L665.9 548.9L670.0 550.7L673.6 555.1ZM678.9 599.6L678.2 603.7L675.3 604.9L671.5 602.6L668.0 597.9L666.3 592.6L667.0 588.6L669.9 587.4L673.8 589.5L677.3 594.1ZM702.0 487.8L700.9 492.5L697.6 494.7L693.2 493.5L689.4 489.4L687.7 484.1L688.7 479.4L692.1 477.2L696.6 478.3L700.4 482.3ZM704.3 529.5L703.3 534.1L700.0 536.0L695.8 534.5L692.2 530.1L690.6 524.7L691.5 520.2L694.8 518.2L699.1 519.7L702.7 523.9ZM706.8 574.7L705.8 579.2L702.7 580.8L698.7 578.9L695.3 574.3L693.7 568.7L694.6 564.3L697.7 562.7L701.8 564.4L705.3 569.0ZM709.1 616.4L708.2 620.8L705.2 622.1L701.4 619.9L698.1 615.0L696.5 609.4L697.4 605.1L700.3 603.7L704.3 605.8L707.6 610.6ZM739.2 497.5L737.9 502.6L734.5 505.0L730.1 503.7L726.4 499.5L724.9 493.8L726.1 488.8L729.6 486.4L734.1 487.5L737.7 491.7ZM740.0 542.0L738.8 546.9L735.5 549.0L731.3 547.5L727.8 543.0L726.3 537.2L727.4 532.3L730.8 530.2L735.1 531.6L738.6 536.1ZM740.9 590.1L739.8 595.0L736.6 596.8L732.6 594.9L729.2 590.1L727.8 584.2L728.9 579.4L732.1 577.5L736.2 579.3L739.6 584.1ZM741.8 634.5L740.7 639.3L737.6 640.9L733.8 638.6L730.6 633.5L729.2 627.5L730.2 622.9L733.3 621.3L737.2 623.4L740.5 628.4ZM773.5 506.5L772.1 511.9L768.5 514.4L764.1 513.2L760.6 508.8L759.2 502.8L760.6 497.5L764.2 494.9L768.7 496.0L772.2 500.4ZM773.0 553.5L771.7 558.7L768.2 561.0L764.0 559.5L760.6 554.8L759.3 548.7L760.6 543.5L764.1 541.2L768.3 542.6L771.8 547.3ZM772.5 604.3L771.2 609.5L767.9 611.5L763.8 609.6L760.6 604.6L759.3 598.4L760.6 593.3L763.9 591.3L768.0 593.1L771.3 598.0ZM772.0 651.3L770.7 656.4L767.6 658.1L763.7 655.9L760.6 650.6L759.4 644.3L760.6 639.4L763.8 637.6L767.7 639.7L770.8 644.9Z" fill="#1c8cd4"/>
<path d="M804.7 501.8L803.5 507.6L800.7 512.0L797.5 513.4L794.9 511.1L794.1 506.0L795.2 500.1L798.0 495.7L801.3 494.5L803.8 496.8ZM803.1 547.6L801.9 553.5L799.3 558.2L796.1 559.9L793.6 557.8L792.8 552.8L793.9 546.8L796.6 542.2L799.8 540.6L802.3 542.7ZM801.4 597.2L800.3 603.2L797.7 608.2L794.6 610.2L792.3 608.5L791.5 603.6L792.6 597.5L795.1 592.5L798.2 590.6L800.6 592.4ZM799.8 642.9L798.7 649.0L796.2 654.3L793.3 656.7L791.0 655.2L790.2 650.5L791.3 644.2L793.8 639.0L796.8 636.7L799.1 638.2ZM831.2 491.5L829.9 497.0L827.1 501.2L823.9 502.5L821.4 500.4L820.6 495.6L821.9 490.1L824.7 485.9L828.0 484.7L830.5 486.8ZM828.8 534.5L827.6 540.1L824.8 544.6L821.7 546.2L819.3 544.4L818.5 539.7L819.8 534.1L822.5 529.6L825.7 528.1L828.1 529.9ZM826.2 581.1L825.0 586.8L822.3 591.5L819.3 593.6L817.0 592.1L816.3 587.5L817.5 581.7L820.1 577.0L823.2 575.0L825.5 576.6ZM823.8 624.1L822.6 629.9L820.1 634.9L817.1 637.3L814.9 636.1L814.2 631.6L815.4 625.7L817.9 620.7L820.9 618.4L823.2 619.7ZM860.0 480.3L858.6 485.4L855.7 489.4L852.4 490.8L850.0 488.9L849.4 484.4L850.7 479.2L853.6 475.3L856.9 474.1L859.4 476.0ZM856.7 520.3L855.3 525.5L852.5 529.8L849.4 531.5L847.0 529.9L846.4 525.6L847.7 520.2L850.5 516.0L853.7 514.4L856.1 516.1ZM853.1 563.6L851.8 569.0L849.1 573.5L846.0 575.6L843.8 574.3L843.2 570.1L844.5 564.6L847.2 560.1L850.3 558.2L852.5 559.5ZM849.8 603.6L848.5 609.1L845.9 613.9L842.9 616.3L840.8 615.3L840.2 611.2L841.5 605.6L844.1 600.8L847.1 598.6L849.3 599.6ZM886.5 470.0L885.0 474.8L882.1 478.6L878.8 479.9L876.5 478.2L875.9 474.1L877.4 469.2L880.3 465.5L883.6 464.3L886.0 466.0ZM882.4 507.2L880.9 512.1L878.1 516.2L874.9 517.9L872.6 516.5L872.1 512.5L873.5 507.5L876.4 503.4L879.6 501.9L881.9 503.3ZM877.9 547.6L876.5 552.6L873.7 556.9L870.7 559.0L868.5 557.9L868.0 554.0L869.4 548.9L872.2 544.5L875.3 542.6L877.5 543.8ZM873.8 584.8L872.4 589.9L869.7 594.5L866.8 596.9L864.7 596.1L864.2 592.3L865.6 587.1L868.3 582.5L871.2 580.2L873.4 581.1Z" fill="#1f9fdc"/>
<polygon points="1475.2,88.6 1618.2,76.2 1721.2,105.4 1531.4,125.8" fill="#979797" stroke="#979797" stroke-width="1.2" stroke-linejoin="round"/>
<polygon points="1475.2,88.6 1531.4,125.8 1540.0,325.0 1489.5,214.5" fill="#a7a7a7" stroke="#a7a7a7" stroke-width="1.2" stroke-linejoin="round"/>
<polygon points="1531.4,125.8 1721.2,105.4 1700.2,270.8 1540.0,325.0" fill="#8c8c8c" stroke="#8c8c8c" stroke-width="1.2" stroke-linejoin="round"/>
<path d="M1504.4 93.1L1507.4 92.5L1508.4 91.6L1506.8 90.7L1503.3 90.2L1499.4 90.2L1496.4 90.8L1495.5 91.7L1497.0 92.7L1500.4 93.2ZM1540.6 89.8L1543.6 89.2L1544.3 88.4L1542.4 87.5L1538.8 87.0L1534.7 87.1L1531.8 87.7L1531.1 88.5L1532.9 89.4L1536.5 89.9ZM1579.9 86.3L1582.7 85.7L1583.2 84.9L1581.0 84.1L1577.1 83.6L1573.0 83.7L1570.2 84.2L1569.7 85.1L1571.8 85.9L1575.7 86.3ZM1616.1 83.0L1618.9 82.4L1619.1 81.6L1616.7 80.9L1612.5 80.5L1608.3 80.5L1605.6 81.1L1605.4 81.9L1607.7 82.6L1611.8 83.0ZM1519.3 101.8L1522.7 101.2L1523.7 100.2L1522.1 99.3L1518.6 98.8L1514.3 98.9L1511.1 99.6L1510.0 100.5L1511.5 101.4L1515.0 101.9ZM1558.3 98.1L1561.5 97.4L1562.3 96.5L1560.5 95.7L1556.7 95.2L1552.4 95.3L1549.2 95.9L1548.3 96.8L1550.1 97.7L1553.9 98.2ZM1600.4 94.0L1603.6 93.4L1604.2 92.5L1602.0 91.7L1598.0 91.3L1593.6 91.4L1590.5 92.0L1589.9 92.9L1591.9 93.7L1596.0 94.1ZM1639.3 90.2L1642.4 89.6L1642.8 88.8L1640.3 88.0L1636.1 87.7L1631.6 87.8L1628.6 88.4L1628.2 89.2L1630.5 90.0L1634.8 90.3ZM1535.5 111.2L1539.1 110.5L1540.4 109.5L1538.8 108.7L1535.0 108.2L1530.5 108.3L1527.0 109.0L1525.7 110.0L1527.2 110.9L1531.0 111.4ZM1577.4 107.0L1580.9 106.3L1581.9 105.3L1580.1 104.5L1576.1 104.1L1571.5 104.2L1568.0 104.9L1567.0 105.8L1568.8 106.7L1572.7 107.1ZM1622.7 102.3L1626.1 101.7L1626.9 100.8L1624.8 100.0L1620.5 99.6L1615.8 99.8L1612.5 100.4L1611.7 101.3L1613.7 102.1L1618.0 102.5ZM1664.5 98.1L1667.9 97.4L1668.4 96.6L1666.0 95.8L1661.6 95.5L1656.8 95.7L1653.5 96.3L1652.9 97.1L1655.3 97.9L1659.7 98.3ZM1550.5 119.9L1554.3 119.2L1555.8 118.2L1554.2 117.3L1550.2 116.8L1545.5 117.0L1541.7 117.7L1540.2 118.7L1541.7 119.6L1545.6 120.1ZM1595.0 115.2L1598.8 114.4L1600.0 113.5L1598.1 112.6L1594.0 112.2L1589.1 112.4L1585.4 113.1L1584.2 114.1L1586.0 115.0L1590.1 115.4ZM1643.3 110.1L1647.0 109.3L1647.9 108.4L1645.7 107.6L1641.3 107.3L1636.4 107.5L1632.8 108.2L1631.8 109.1L1633.9 109.9L1638.3 110.3ZM1687.8 105.3L1691.4 104.6L1692.1 103.8L1689.7 103.0L1685.1 102.7L1680.1 102.9L1676.5 103.6L1675.8 104.5L1678.1 105.2L1682.7 105.6Z" fill="#868686"/>
<path d="M1487.0 113.4L1486.9 117.0L1485.8 118.3L1484.1 116.7L1482.4 113.0L1481.5 108.7L1481.6 105.3L1482.8 103.9L1484.5 105.3L1486.1 108.9ZM1490.2 146.8L1490.1 150.2L1489.0 151.0L1487.3 148.9L1485.7 144.8L1484.8 140.3L1484.9 137.0L1486.0 136.2L1487.7 138.0L1489.3 142.1ZM1493.7 182.9L1493.6 186.2L1492.5 186.5L1490.9 183.9L1489.3 179.3L1488.4 174.6L1488.5 171.5L1489.6 171.1L1491.2 173.6L1492.8 178.1ZM1496.9 216.3L1496.8 219.4L1495.7 219.3L1494.2 216.1L1492.6 211.1L1491.7 206.2L1491.8 203.3L1492.9 203.3L1494.5 206.3L1496.0 211.3ZM1500.4 124.6L1500.2 128.7L1499.0 130.3L1497.3 128.8L1495.7 124.8L1494.8 119.9L1495.0 116.0L1496.1 114.3L1497.9 115.6L1499.5 119.6ZM1503.2 162.2L1503.0 166.2L1501.9 167.3L1500.3 165.2L1498.7 160.8L1497.8 155.8L1498.0 152.0L1499.1 150.8L1500.8 152.6L1502.3 157.0ZM1506.3 202.9L1506.2 206.7L1505.1 207.4L1503.4 204.7L1501.9 199.8L1501.0 194.6L1501.2 191.0L1502.3 190.3L1503.9 192.7L1505.5 197.6ZM1509.2 240.5L1509.0 244.2L1508.0 244.4L1506.4 241.2L1504.9 235.8L1504.0 230.4L1504.2 227.0L1505.2 226.7L1506.8 229.7L1508.3 235.0ZM1514.8 136.7L1514.5 141.4L1513.4 143.4L1511.7 141.8L1510.1 137.5L1509.2 132.1L1509.4 127.5L1510.6 125.6L1512.4 126.9L1513.9 131.2ZM1517.3 178.9L1517.1 183.5L1515.9 184.9L1514.2 182.8L1512.7 178.1L1511.9 172.5L1512.1 168.1L1513.2 166.6L1514.9 168.5L1516.4 173.2ZM1520.0 224.6L1519.8 229.0L1518.7 230.0L1517.1 227.3L1515.5 222.0L1514.7 216.3L1514.9 212.1L1516.0 211.0L1517.7 213.5L1519.2 218.7ZM1522.5 266.8L1522.3 271.0L1521.2 271.5L1519.6 268.3L1518.2 262.6L1517.4 256.7L1517.5 252.7L1518.6 252.1L1520.2 255.1L1521.7 260.7ZM1528.1 148.0L1527.8 153.2L1526.6 155.4L1524.9 153.9L1523.3 149.2L1522.5 143.3L1522.8 138.2L1524.0 135.9L1525.7 137.3L1527.3 141.9ZM1530.3 194.4L1530.0 199.4L1528.8 201.2L1527.2 199.1L1525.6 194.0L1524.8 187.9L1525.1 183.1L1526.3 181.2L1527.9 183.1L1529.5 188.1ZM1532.6 244.6L1532.4 249.5L1531.2 250.8L1529.6 248.1L1528.1 242.6L1527.3 236.3L1527.6 231.6L1528.7 230.2L1530.4 232.7L1531.8 238.2ZM1534.8 291.0L1534.6 295.7L1533.5 296.6L1531.9 293.4L1530.4 287.4L1529.7 280.9L1529.9 276.4L1531.0 275.5L1532.6 278.5L1534.0 284.4Z" fill="#939393"/>
<path d="M1564.4 148.7L1563.1 152.4L1560.4 155.3L1556.9 156.7L1553.3 156.3L1550.5 154.2L1549.0 150.8M1565.3 195.1L1564.0 198.9L1561.4 201.9L1558.0 203.4L1554.6 203.2L1551.9 201.2L1550.5 197.9M1566.2 245.4L1565.0 249.2L1562.5 252.3L1559.3 254.1L1556.0 254.0L1553.4 252.1L1552.0 248.9M1567.0 291.8L1565.9 295.7L1563.5 298.9L1560.4 300.8L1557.3 300.9L1554.8 299.2L1553.4 296.0M1609.0 142.7L1607.6 146.3L1604.8 149.0L1601.2 150.4L1597.7 150.0L1595.0 148.0L1593.6 144.8M1608.2 187.2L1606.7 190.8L1604.1 193.7L1600.7 195.2L1597.3 195.0L1594.6 193.1L1593.3 189.9M1607.2 235.4L1605.9 239.0L1603.3 242.0L1600.0 243.7L1596.8 243.7L1594.3 241.9L1593.0 238.8M1606.4 279.8L1605.1 283.6L1602.6 286.7L1599.5 288.5L1596.4 288.6L1594.0 287.0L1592.8 284.0M1657.3 136.2L1655.7 139.6L1652.8 142.2L1649.2 143.5L1645.8 143.2L1643.1 141.3L1641.9 138.3M1654.6 178.6L1653.1 182.0L1650.3 184.8L1646.8 186.2L1643.5 186.1L1641.0 184.3L1639.8 181.3M1651.7 224.5L1650.2 228.0L1647.5 230.9L1644.2 232.5L1641.0 232.5L1638.6 230.9L1637.5 227.9M1649.0 266.8L1647.5 270.4L1645.0 273.4L1641.8 275.2L1638.7 275.4L1636.4 273.8L1635.4 271.0M1701.9 130.2L1700.2 133.4L1697.2 136.0L1693.6 137.3L1690.1 137.0L1687.6 135.2L1686.5 132.3M1697.5 170.6L1695.8 173.9L1692.9 176.6L1689.5 178.0L1686.1 177.9L1683.7 176.2L1682.7 173.4M1692.7 214.4L1691.1 217.8L1688.3 220.6L1685.0 222.2L1681.8 222.2L1679.5 220.7L1678.5 217.9M1688.3 254.8L1686.7 258.2L1684.1 261.2L1680.9 262.9L1677.9 263.1L1675.6 261.7L1674.7 259.0" fill="none" stroke="#acacac" stroke-width="5" stroke-linecap="round"/>
<g clip-path="url(#clipA)"><polygon points="1690.5,308.0 1798.8,281.5 1938.8,301.9 1839.7,339.7" fill="#7d7d7d" stroke="#7d7d7d" stroke-width="1.2" stroke-linejoin="round"/>
<polygon points="1690.5,308.0 1839.7,339.7 1836.6,524.7 1701.7,467.4" fill="#9f9f9f" stroke="#9f9f9f" stroke-width="1.2" stroke-linejoin="round"/>
<polygon points="1839.7,339.7 1938.8,301.9 1927.6,456.2 1836.6,524.7" fill="#6d6d6d" stroke="#6d6d6d" stroke-width="1.2" stroke-linejoin="round"/>
<path d="M1729.7 309.7L1731.1 308.8L1729.7 307.8L1726.1 307.1L1721.6 306.9L1717.9 307.3L1716.5 308.2L1717.9 309.2L1721.6 309.9L1726.1 310.1ZM1755.4 302.9L1756.8 302.0L1755.4 301.0L1751.8 300.4L1747.3 300.2L1743.7 300.7L1742.3 301.5L1743.6 302.5L1747.3 303.2L1751.7 303.3ZM1783.1 295.5L1784.5 294.6L1783.2 293.7L1779.7 293.1L1775.3 293.1L1771.6 293.5L1770.2 294.4L1771.5 295.3L1775.1 295.9L1779.5 296.0ZM1808.7 288.7L1810.2 287.8L1808.9 287.0L1805.4 286.5L1801.0 286.4L1797.4 286.9L1796.0 287.7L1797.3 288.6L1800.8 289.1L1805.1 289.2ZM1765.3 316.9L1766.6 316.0L1765.2 314.9L1761.5 314.2L1757.0 314.0L1753.4 314.5L1752.1 315.5L1753.5 316.5L1757.2 317.3L1761.7 317.4ZM1790.3 309.5L1791.7 308.5L1790.3 307.5L1786.7 306.9L1782.3 306.8L1778.7 307.3L1777.3 308.2L1778.7 309.2L1782.3 309.9L1786.8 310.0ZM1817.5 301.4L1818.9 300.5L1817.5 299.5L1814.0 298.9L1809.6 298.9L1806.1 299.4L1804.7 300.3L1806.0 301.3L1809.6 301.9L1814.0 301.9ZM1842.6 293.9L1844.0 293.0L1842.7 292.1L1839.2 291.6L1834.9 291.6L1831.3 292.2L1829.9 293.0L1831.2 293.9L1834.7 294.5L1839.1 294.5ZM1803.7 324.8L1805.0 323.8L1803.5 322.7L1799.9 322.0L1795.4 321.8L1791.9 322.4L1790.6 323.4L1792.1 324.5L1795.8 325.3L1800.2 325.4ZM1828.3 316.6L1829.5 315.6L1828.1 314.6L1824.5 313.9L1820.1 313.9L1816.6 314.4L1815.3 315.4L1816.7 316.5L1820.3 317.2L1824.7 317.2ZM1854.8 307.8L1856.1 306.8L1854.7 305.8L1851.2 305.2L1846.8 305.2L1843.3 305.8L1842.0 306.8L1843.4 307.8L1847.0 308.4L1851.3 308.4ZM1879.3 299.6L1880.6 298.6L1879.3 297.7L1875.8 297.2L1871.5 297.2L1868.0 297.8L1866.7 298.8L1868.0 299.7L1871.5 300.3L1875.8 300.2ZM1839.3 332.1L1840.5 331.0L1839.0 329.8L1835.3 329.1L1830.9 329.0L1827.4 329.6L1826.2 330.7L1827.7 331.9L1831.4 332.6L1835.8 332.7ZM1863.2 323.2L1864.5 322.2L1863.0 321.1L1859.4 320.4L1855.1 320.4L1851.6 321.0L1850.3 322.1L1851.8 323.2L1855.4 323.9L1859.8 323.9ZM1889.2 313.7L1890.5 312.6L1889.1 311.6L1885.5 311.0L1881.2 311.0L1877.8 311.7L1876.5 312.7L1877.9 313.8L1881.5 314.4L1885.8 314.3ZM1913.2 304.8L1914.5 303.8L1913.1 302.9L1909.6 302.3L1905.4 302.4L1901.9 303.1L1900.6 304.1L1902.0 305.1L1905.5 305.6L1909.8 305.5Z" fill="#747474"/>
<path d="M1718.0 334.9L1717.0 339.1L1713.7 341.1L1709.4 340.0L1705.8 336.4L1704.2 331.6L1705.2 327.5L1708.5 325.5L1712.8 326.5L1716.5 330.1ZM1720.1 374.3L1719.1 378.4L1715.9 380.2L1711.7 379.0L1708.2 375.2L1706.6 370.4L1707.6 366.3L1710.8 364.5L1715.0 365.6L1718.6 369.4ZM1722.4 416.9L1721.4 421.0L1718.2 422.6L1714.2 421.2L1710.7 417.3L1709.2 412.4L1710.2 408.4L1713.3 406.7L1717.4 408.0L1720.9 411.9ZM1724.5 456.2L1723.5 460.3L1720.4 461.8L1716.5 460.2L1713.1 456.1L1711.6 451.2L1712.5 447.2L1715.6 445.7L1719.6 447.2L1723.0 451.2ZM1753.4 343.3L1752.2 347.7L1748.9 349.8L1744.6 348.7L1741.0 345.0L1739.5 340.0L1740.7 335.7L1744.1 333.6L1748.4 334.6L1751.9 338.3ZM1754.7 384.1L1753.5 388.5L1750.2 390.4L1746.1 389.1L1742.6 385.3L1741.1 380.3L1742.2 376.0L1745.5 374.1L1749.7 375.2L1753.2 379.1ZM1756.0 428.4L1754.9 432.6L1751.7 434.4L1747.7 433.0L1744.3 428.9L1742.8 423.9L1743.9 419.7L1747.1 417.9L1751.2 419.2L1754.6 423.2ZM1757.3 469.2L1756.2 473.4L1753.1 475.0L1749.1 473.4L1745.8 469.2L1744.4 464.1L1745.5 460.0L1748.6 458.3L1752.6 459.9L1755.9 464.0ZM1791.7 352.4L1790.4 357.0L1787.0 359.2L1782.7 358.1L1779.3 354.3L1777.9 349.1L1779.1 344.6L1782.5 342.5L1786.8 343.4L1790.3 347.2ZM1792.1 394.9L1790.8 399.4L1787.5 401.4L1783.3 400.1L1779.9 396.2L1778.5 391.0L1779.8 386.5L1783.1 384.5L1787.3 385.7L1790.7 389.6ZM1792.5 440.8L1791.3 445.2L1788.0 447.1L1783.9 445.7L1780.6 441.6L1779.3 436.3L1780.5 431.9L1783.7 430.0L1787.8 431.4L1791.2 435.5ZM1792.8 483.2L1791.6 487.6L1788.5 489.3L1784.5 487.7L1781.3 483.5L1780.0 478.1L1781.1 473.8L1784.3 472.1L1788.3 473.6L1791.6 477.9ZM1827.1 360.8L1825.7 365.6L1822.2 367.8L1818.0 366.8L1814.5 362.9L1813.2 357.6L1814.6 352.9L1818.0 350.6L1822.3 351.6L1825.8 355.5ZM1826.6 404.7L1825.3 409.4L1821.9 411.5L1817.7 410.3L1814.4 406.2L1813.1 400.9L1814.4 396.2L1817.8 394.1L1822.0 395.3L1825.4 399.3ZM1826.1 452.3L1824.8 456.9L1821.5 458.9L1817.4 457.4L1814.2 453.2L1812.9 447.8L1814.2 443.2L1817.5 441.2L1821.6 442.6L1824.9 446.8ZM1825.7 496.2L1824.4 500.7L1821.1 502.6L1817.2 501.0L1814.0 496.6L1812.8 491.1L1814.0 486.6L1817.3 484.7L1821.3 486.3L1824.5 490.6Z" fill="#727272"/>
<path d="M1856.0 356.6L1855.1 361.2L1853.1 364.7L1850.7 365.7L1848.8 363.9L1848.1 360.0L1849.0 355.4L1851.0 351.9L1853.4 350.9L1855.3 352.7ZM1854.9 399.8L1854.1 404.4L1852.1 408.0L1849.7 409.3L1847.8 407.6L1847.2 403.7L1848.0 399.1L1850.0 395.5L1852.4 394.3L1854.3 395.9ZM1853.7 446.5L1852.9 451.2L1851.0 455.0L1848.7 456.4L1846.8 454.9L1846.2 451.1L1847.0 446.4L1849.0 442.6L1851.3 441.2L1853.1 442.7ZM1852.7 489.7L1851.8 494.4L1849.9 498.3L1847.7 500.0L1845.9 498.6L1845.3 494.8L1846.1 490.1L1848.0 486.2L1850.3 484.6L1852.1 485.9ZM1879.5 346.6L1878.6 351.0L1876.6 354.4L1874.1 355.4L1872.3 353.7L1871.7 350.0L1872.5 345.5L1874.6 342.2L1877.0 341.2L1878.9 342.9ZM1878.0 388.0L1877.1 392.4L1875.1 395.9L1872.7 397.2L1870.9 395.7L1870.3 391.9L1871.1 387.4L1873.2 383.9L1875.5 382.8L1877.4 384.3ZM1876.3 432.8L1875.4 437.3L1873.5 441.0L1871.1 442.4L1869.3 441.1L1868.8 437.4L1869.6 432.9L1871.6 429.2L1873.9 427.8L1875.7 429.2ZM1874.7 474.2L1873.9 478.8L1872.0 482.6L1869.7 484.2L1867.9 483.0L1867.4 479.4L1868.2 474.8L1870.2 471.0L1872.4 469.4L1874.2 470.6ZM1905.0 335.8L1904.0 339.9L1902.0 343.2L1899.5 344.3L1897.7 342.7L1897.1 339.1L1898.1 334.9L1900.2 331.6L1902.6 330.6L1904.4 332.2ZM1902.9 375.2L1902.0 379.5L1900.0 382.9L1897.6 384.1L1895.8 382.7L1895.3 379.1L1896.2 374.9L1898.2 371.5L1900.6 370.3L1902.4 371.7ZM1900.7 418.0L1899.8 422.3L1897.8 425.8L1895.5 427.3L1893.7 426.0L1893.2 422.5L1894.1 418.2L1896.1 414.6L1898.4 413.3L1900.2 414.5ZM1898.7 457.4L1897.8 461.8L1895.8 465.5L1893.6 467.1L1891.8 466.0L1891.3 462.6L1892.2 458.2L1894.2 454.5L1896.5 452.9L1898.2 454.1ZM1928.5 325.7L1927.5 329.7L1925.4 332.9L1923.0 333.9L1921.2 332.5L1920.7 329.1L1921.7 325.0L1923.8 321.9L1926.2 320.9L1928.0 322.3ZM1926.0 363.4L1925.0 367.5L1923.0 370.8L1920.6 372.0L1918.8 370.7L1918.3 367.3L1919.3 363.2L1921.4 360.0L1923.7 358.8L1925.5 360.1ZM1923.3 404.3L1922.3 408.4L1920.3 411.8L1918.0 413.3L1916.3 412.1L1915.8 408.8L1916.7 404.6L1918.7 401.2L1921.1 399.8L1922.8 401.0ZM1920.8 441.9L1919.8 446.1L1917.8 449.7L1915.6 451.4L1913.9 450.4L1913.4 447.1L1914.3 442.9L1916.3 439.3L1918.6 437.7L1920.3 438.7Z" fill="#868686"/></g>
<polygon points="1407.4,451.9 1529.0,425.3 1666.0,446.8 1553.5,483.6" fill="#868686" stroke="#868686" stroke-width="1.2" stroke-linejoin="round"/>
<polygon points="1407.4,451.9 1553.5,483.6 1549.5,682.8 1426.8,607.2" fill="#909090" stroke="#909090" stroke-width="1.2" stroke-linejoin="round"/>
<polygon points="1553.5,483.6 1666.0,446.8 1647.6,598.0 1549.5,682.8" fill="#8a8a8a" stroke="#8a8a8a" stroke-width="1.2" stroke-linejoin="round"/>
<path d="M1447.8 453.6L1449.6 452.7L1448.4 451.7L1444.8 451.0L1440.2 450.8L1436.3 451.2L1434.5 452.1L1435.7 453.1L1439.3 453.8L1443.9 454.0ZM1476.7 446.8L1478.4 445.9L1477.3 445.0L1473.8 444.3L1469.2 444.1L1465.2 444.6L1463.5 445.4L1464.6 446.4L1468.1 447.1L1472.7 447.3ZM1507.9 439.4L1509.6 438.6L1508.6 437.7L1505.1 437.1L1500.6 437.0L1496.6 437.4L1494.9 438.3L1495.9 439.2L1499.4 439.8L1504.0 439.9ZM1536.7 432.6L1538.5 431.8L1537.4 430.9L1534.0 430.4L1529.5 430.3L1525.6 430.8L1523.8 431.6L1524.9 432.5L1528.3 433.1L1532.8 433.1ZM1482.6 460.9L1484.3 459.9L1483.1 458.9L1479.5 458.2L1474.9 458.0L1471.0 458.5L1469.4 459.4L1470.5 460.5L1474.1 461.2L1478.7 461.4ZM1510.9 453.5L1512.6 452.6L1511.5 451.6L1507.9 450.9L1503.4 450.8L1499.5 451.3L1497.8 452.2L1498.9 453.2L1502.5 453.9L1507.0 454.0ZM1541.6 445.5L1543.3 444.6L1542.2 443.6L1538.7 443.0L1534.2 443.0L1530.3 443.5L1528.6 444.4L1529.7 445.3L1533.2 446.0L1537.7 446.0ZM1569.8 438.1L1571.6 437.2L1570.5 436.3L1567.1 435.8L1562.6 435.8L1558.8 436.3L1557.1 437.2L1558.1 438.1L1561.5 438.6L1566.0 438.7ZM1520.3 468.8L1521.9 467.8L1520.7 466.7L1517.1 466.0L1512.5 465.8L1508.7 466.4L1507.1 467.4L1508.3 468.5L1511.9 469.2L1516.5 469.3ZM1548.0 460.8L1549.6 459.8L1548.5 458.7L1545.0 458.1L1540.4 458.0L1536.6 458.5L1535.0 459.5L1536.1 460.6L1539.7 461.3L1544.2 461.3ZM1578.1 452.1L1579.7 451.1L1578.6 450.1L1575.1 449.5L1570.6 449.5L1566.8 450.1L1565.2 451.0L1566.3 452.0L1569.8 452.6L1574.3 452.7ZM1605.8 444.1L1607.4 443.1L1606.4 442.2L1603.0 441.6L1598.5 441.6L1594.7 442.2L1593.0 443.2L1594.1 444.1L1597.6 444.7L1602.0 444.7ZM1555.1 476.1L1556.6 475.0L1555.4 473.9L1551.8 473.1L1547.3 473.1L1543.5 473.7L1541.9 474.7L1543.2 475.8L1546.8 476.6L1551.3 476.7ZM1582.3 467.5L1583.9 466.4L1582.7 465.3L1579.1 464.7L1574.6 464.6L1570.9 465.2L1569.3 466.3L1570.5 467.4L1574.0 468.1L1578.5 468.1ZM1611.7 458.1L1613.3 457.1L1612.2 456.1L1608.7 455.5L1604.3 455.5L1600.5 456.1L1598.9 457.1L1600.1 458.2L1603.5 458.8L1608.0 458.8ZM1638.9 449.5L1640.5 448.5L1639.4 447.5L1636.0 447.0L1631.6 447.1L1627.9 447.7L1626.3 448.7L1627.4 449.7L1630.8 450.3L1635.2 450.2Z" fill="#626262"/>
<path d="M1435.7 478.8L1434.8 483.2L1431.5 485.2L1427.1 484.0L1423.2 480.1L1421.4 475.1L1422.2 470.8L1425.5 468.7L1430.0 469.8L1433.9 473.7ZM1439.3 518.0L1438.5 522.3L1435.3 524.0L1431.1 522.5L1427.4 518.3L1425.6 513.2L1426.4 509.0L1429.5 507.2L1433.8 508.6L1437.6 512.7ZM1443.3 560.4L1442.5 564.6L1439.5 566.1L1435.5 564.2L1431.9 559.7L1430.1 554.5L1430.9 550.4L1433.9 548.9L1438.0 550.7L1441.6 555.1ZM1446.9 599.6L1446.2 603.7L1443.3 604.9L1439.5 602.6L1436.0 597.9L1434.3 592.6L1435.0 588.6L1437.9 587.4L1441.8 589.5L1445.3 594.1ZM1470.0 487.8L1468.9 492.5L1465.6 494.7L1461.2 493.5L1457.4 489.4L1455.7 484.1L1456.7 479.4L1460.1 477.2L1464.6 478.3L1468.4 482.3ZM1472.3 529.5L1471.3 534.1L1468.0 536.0L1463.8 534.5L1460.2 530.1L1458.6 524.7L1459.5 520.2L1462.8 518.2L1467.1 519.7L1470.7 523.9ZM1474.8 574.7L1473.8 579.2L1470.7 580.8L1466.7 578.9L1463.3 574.3L1461.7 568.7L1462.6 564.3L1465.7 562.7L1469.8 564.4L1473.3 569.0ZM1477.1 616.4L1476.2 620.8L1473.2 622.1L1469.4 619.9L1466.1 615.0L1464.5 609.4L1465.4 605.1L1468.3 603.7L1472.3 605.8L1475.6 610.6ZM1507.2 497.5L1505.9 502.6L1502.5 505.0L1498.1 503.7L1494.4 499.5L1492.9 493.8L1494.1 488.8L1497.6 486.4L1502.1 487.5L1505.7 491.7ZM1508.0 542.0L1506.8 546.9L1503.5 549.0L1499.3 547.5L1495.8 543.0L1494.3 537.2L1495.4 532.3L1498.8 530.2L1503.1 531.6L1506.6 536.1ZM1508.9 590.1L1507.8 595.0L1504.6 596.8L1500.6 594.9L1497.2 590.1L1495.8 584.2L1496.9 579.4L1500.1 577.5L1504.2 579.3L1507.6 584.1ZM1509.8 634.5L1508.7 639.3L1505.6 640.9L1501.8 638.6L1498.6 633.5L1497.2 627.5L1498.2 622.9L1501.3 621.3L1505.2 623.4L1508.5 628.4ZM1541.5 506.5L1540.1 511.9L1536.5 514.4L1532.1 513.2L1528.6 508.8L1527.2 502.8L1528.6 497.5L1532.2 494.9L1536.7 496.0L1540.2 500.4ZM1541.0 553.5L1539.7 558.7L1536.2 561.0L1532.0 559.5L1528.6 554.8L1527.3 548.7L1528.6 543.5L1532.1 541.2L1536.3 542.6L1539.8 547.3ZM1540.5 604.3L1539.2 609.5L1535.9 611.5L1531.8 609.6L1528.6 604.6L1527.3 598.4L1528.6 593.3L1531.9 591.3L1536.0 593.1L1539.3 598.0ZM1540.0 651.3L1538.7 656.4L1535.6 658.1L1531.7 655.9L1528.6 650.6L1527.4 644.3L1528.6 639.4L1531.8 637.6L1535.7 639.7L1538.8 644.9Z" fill="#858585"/>
<path d="M1572.7 501.8L1571.5 507.6L1568.7 512.0L1565.5 513.4L1562.9 511.1L1562.1 506.0L1563.2 500.1L1566.0 495.7L1569.3 494.5L1571.8 496.8ZM1571.1 547.6L1569.9 553.5L1567.3 558.2L1564.1 559.9L1561.6 557.8L1560.8 552.8L1561.9 546.8L1564.6 542.2L1567.8 540.6L1570.3 542.7ZM1569.4 597.2L1568.3 603.2L1565.7 608.2L1562.6 610.2L1560.3 608.5L1559.5 603.6L1560.6 597.5L1563.1 592.5L1566.2 590.6L1568.6 592.4ZM1567.8 642.9L1566.7 649.0L1564.2 654.3L1561.3 656.7L1559.0 655.2L1558.2 650.5L1559.3 644.2L1561.8 639.0L1564.8 636.7L1567.1 638.2ZM1599.2 491.5L1597.9 497.0L1595.1 501.2L1591.9 502.5L1589.4 500.4L1588.6 495.6L1589.9 490.1L1592.7 485.9L1596.0 484.7L1598.5 486.8ZM1596.8 534.5L1595.6 540.1L1592.8 544.6L1589.7 546.2L1587.3 544.4L1586.5 539.7L1587.8 534.1L1590.5 529.6L1593.7 528.1L1596.1 529.9ZM1594.2 581.1L1593.0 586.8L1590.3 591.5L1587.3 593.6L1585.0 592.1L1584.3 587.5L1585.5 581.7L1588.1 577.0L1591.2 575.0L1593.5 576.6ZM1591.8 624.1L1590.6 629.9L1588.1 634.9L1585.1 637.3L1582.9 636.1L1582.2 631.6L1583.4 625.7L1585.9 620.7L1588.9 618.4L1591.2 619.7ZM1628.0 480.3L1626.6 485.4L1623.7 489.4L1620.4 490.8L1618.0 488.9L1617.4 484.4L1618.7 479.2L1621.6 475.3L1624.9 474.1L1627.4 476.0ZM1624.7 520.3L1623.3 525.5L1620.5 529.8L1617.4 531.5L1615.0 529.9L1614.4 525.6L1615.7 520.2L1618.5 516.0L1621.7 514.4L1624.1 516.1ZM1621.1 563.6L1619.8 569.0L1617.1 573.5L1614.0 575.6L1611.8 574.3L1611.2 570.1L1612.5 564.6L1615.2 560.1L1618.3 558.2L1620.5 559.5ZM1617.8 603.6L1616.5 609.1L1613.9 613.9L1610.9 616.3L1608.8 615.3L1608.2 611.2L1609.5 605.6L1612.1 600.8L1615.1 598.6L1617.3 599.6ZM1654.5 470.0L1653.0 474.8L1650.1 478.6L1646.8 479.9L1644.5 478.2L1643.9 474.1L1645.4 469.2L1648.3 465.5L1651.6 464.3L1654.0 466.0ZM1650.4 507.2L1648.9 512.1L1646.1 516.2L1642.9 517.9L1640.6 516.5L1640.1 512.5L1641.5 507.5L1644.4 503.4L1647.6 501.9L1649.9 503.3ZM1645.9 547.6L1644.5 552.6L1641.7 556.9L1638.7 559.0L1636.5 557.9L1636.0 554.0L1637.4 548.9L1640.2 544.5L1643.3 542.6L1645.5 543.8ZM1641.8 584.8L1640.4 589.9L1637.7 594.5L1634.8 596.9L1632.7 596.1L1632.2 592.3L1633.6 587.1L1636.3 582.5L1639.2 580.2L1641.4 581.1Z" fill="#939393"/>
<text transform="translate(31.3,123.0) scale(0.7914,1)" font-size="75.0" textLength="85.04" lengthAdjust="spacing" font-weight="bold">(a)</text>
<text transform="translate(279.4,262.5) scale(0.8555,1)" font-size="55.0" textLength="113.04" lengthAdjust="spacing" font-weight="bold">TBA</text>
<text transform="translate(550.4,339.6) scale(0.8438,1)" font-size="55.5" textLength="228.13" lengthAdjust="spacing" font-weight="bold">Modified</text>
<text transform="translate(550.4,412.8) scale(0.8200,1)" font-size="55.5" textLength="120.24" lengthAdjust="spacing" font-weight="bold">LLIP</text>
<text transform="translate(1269.0,419.0) scale(0.8930,1)" font-size="57.0" textLength="38.07" lengthAdjust="spacing" stroke="#000" stroke-width="0.74" stroke-linejoin="round">Δ</text>
<text transform="translate(1305.0,419.0) scale(0.8200,1)" font-size="57.0" textLength="100.61" lengthAdjust="spacing" font-weight="bold">T, N</text>
<text transform="translate(1390.0,437.7) scale(0.7955,1)" font-size="33.0" textLength="18.35" lengthAdjust="spacing" font-weight="bold">2</text>
<text transform="translate(177.2,757.4) scale(0.7566,1)" font-size="56.0" textLength="40.44" lengthAdjust="spacing" font-weight="bold">C</text>
<text transform="translate(211.5,777.8) scale(0.8840,1)" font-size="30.0" textLength="33.37" lengthAdjust="spacing" stroke="#000" stroke-width="0.80" stroke-linejoin="round">70</text>
<text transform="translate(242.0,757.4) scale(0.8523,1)" font-size="56.0" textLength="305.05" lengthAdjust="spacing" font-weight="bold">/mesitylene</text>
<text transform="translate(176.0,831.7) scale(0.8450,1)" font-size="56.0" textLength="217.74" lengthAdjust="spacing" font-weight="bold">solution</text>
<text transform="translate(746.3,748.5) scale(0.8379,1)" font-size="57.0" textLength="636.70" lengthAdjust="spacing" font-weight="bold">Mesoporous crystalline</text>
<text transform="translate(745.5,822.0) scale(0.8406,1)" font-size="57.0" textLength="604.89" lengthAdjust="spacing" font-weight="bold">fullerene cube (MCFC)</text>
<text transform="translate(1407.9,747.5) scale(0.8353,1)" font-size="57.0" textLength="544.74" lengthAdjust="spacing" font-weight="bold">Mesoporous carbon</text>
<text transform="translate(1406.5,821.0) scale(0.8353,1)" font-size="57.0" textLength="316.66" lengthAdjust="spacing" font-weight="bold">cube (MCC)</text>
<path d="M352.8 1144.0L907.5 1144.0" stroke="#4fb848" stroke-width="5" fill="none"/>
<path d="M353.0 1186.5C356.3 1185.6 365.4 1183.6 372.8 1181.5C380.2 1179.4 387.3 1176.5 397.6 1174.1C407.9 1171.6 420.3 1168.8 434.8 1166.6C449.3 1164.4 467.9 1162.4 484.4 1160.9C500.9 1159.5 509.2 1159.1 534.0 1157.9C558.8 1156.8 605.5 1155.4 633.2 1154.2C661.0 1153.1 672.7 1152.0 700.4 1151.0C728.1 1150.0 770.7 1149.5 799.6 1148.0C828.5 1146.5 857.5 1143.9 874.0 1141.8C890.6 1139.7 893.4 1138.7 898.8 1135.6C904.3 1132.5 905.4 1125.3 906.8 1123.2 M906.8 1123.2C901.3 1123.4 891.9 1123.7 874.0 1124.5C856.2 1125.2 828.5 1126.9 799.6 1127.7C770.7 1128.5 728.1 1128.9 700.4 1129.4C672.7 1129.9 661.0 1130.2 633.2 1130.7C605.5 1131.1 563.0 1131.4 534.0 1132.1C505.1 1132.9 482.3 1133.6 459.6 1135.1C436.9 1136.6 412.9 1138.9 397.6 1141.1C382.3 1143.2 374.7 1145.2 367.8 1148.0C361.0 1150.8 359.1 1153.8 356.7 1157.9C354.3 1162.1 354.1 1168.1 353.5 1172.8C352.8 1177.6 353.0 1184.2 353.0 1186.5" stroke="#d45aa8" stroke-width="4.6" fill="none" stroke-linejoin="round"/>
<path d="M354.2 1155.5C359.4 1155.2 367.6 1154.5 385.2 1154.0C402.8 1153.4 434.8 1152.6 459.6 1152.0C484.4 1151.4 505.1 1151.0 534.0 1150.5C563.0 1150.0 601.4 1149.7 633.2 1149.3C665.1 1148.8 693.3 1148.6 725.2 1148.0C757.1 1147.4 797.5 1146.6 824.4 1145.5C851.3 1144.5 873.2 1143.5 886.4 1141.8C899.6 1140.2 900.3 1137.9 903.8 1135.6C907.3 1133.3 906.9 1129.4 907.5 1128.2 M907.5 1128.2C901.9 1128.4 896.1 1128.7 874.0 1129.4C851.9 1130.2 816.1 1131.8 774.8 1132.6C733.5 1133.5 666.1 1134.0 626.0 1134.4C585.9 1134.8 561.7 1134.7 534.0 1135.1C506.3 1135.5 482.3 1135.7 459.6 1136.9C436.9 1138.0 412.9 1140.2 397.6 1141.8C382.3 1143.5 374.9 1145.1 367.8 1146.8C360.8 1148.4 357.7 1150.3 355.4 1151.7C353.2 1153.2 354.4 1154.8 354.2 1155.5" stroke="#ff2233" stroke-width="5" fill="none" stroke-linejoin="round"/>
<path d="M375.4 1144.0L877.5 1144.0" stroke="#4fb848" stroke-width="2.5" fill="none" opacity="0.8"/>
<path d="M356.2 1468.5L356.2 1465.3L356.1 1462.1L356.1 1459.0L356.0 1455.8L356.0 1452.7L356.0 1449.5L355.9 1446.4L355.9 1443.2L355.9 1440.1L355.8 1436.9L355.8 1433.8L355.8 1430.6L355.7 1427.5L355.7 1424.3L355.7 1421.2L355.6 1418.0L355.6 1414.9L355.6 1411.7L355.6 1408.5L355.5 1405.4L355.5 1402.2L355.5 1399.1L355.5 1395.9L355.4 1392.8L355.4 1389.6L355.4 1386.5L355.4 1383.3L355.3 1380.2L355.3 1377.0L355.3 1373.9L355.3 1370.7L355.3 1367.6L355.2 1364.4L355.2 1361.3L355.2 1358.1L355.2 1354.9L355.2 1351.8L355.2 1348.6L355.2 1345.5L355.2 1342.3L355.2 1339.2L355.2 1336.0L355.2 1332.9L355.2 1329.7L355.2 1326.6L355.2 1323.4L355.3 1320.3L355.3 1317.1L355.3 1314.0L355.3 1310.8L355.4 1307.7L355.4 1304.5L355.5 1301.3L355.5 1298.2L355.5 1295.0L355.6 1291.9L355.6 1288.7L355.7 1285.6L355.8 1282.4L355.8 1279.3L355.9 1276.1L356.0 1273.0L356.1 1269.8L356.2 1266.7L356.3 1263.5L356.4 1260.4L356.5 1257.2L356.7 1254.1L356.8 1250.9L357.0 1247.8L357.2 1244.6L357.4 1241.5L357.6 1238.4L357.9 1235.2L358.2 1232.1L358.4 1228.9L358.7 1225.8L359.1 1222.7L359.4 1219.5L359.7 1216.4L360.1 1213.3L360.5 1210.1L360.8 1207.0L361.2 1203.9L361.6 1200.7L362.0 1197.6L362.5 1194.5L362.9 1191.4L363.4 1188.3L363.9 1185.2L364.4 1182.1L364.9 1178.9L365.5 1175.9L366.1 1172.8L366.7 1169.7L367.4 1166.6L368.0 1163.5L368.8 1160.5L369.5 1157.4L370.3 1154.4L371.1 1151.3L371.9 1148.3L372.8 1145.3L373.7 1142.2L374.6 1139.2L375.6 1136.2L376.5 1133.2L377.5 1130.2L378.6 1127.3L379.6 1124.3L380.7 1121.4L381.9 1118.4L383.0 1115.5L384.2 1112.6L385.4 1109.7L386.7 1106.8L388.0 1104.0L389.3 1101.1L390.7 1098.3L392.1 1095.5L393.6 1092.7L395.1 1090.0L396.7 1087.3L398.3 1084.6L400.0 1081.9L401.7 1079.3L403.5 1076.8L405.3 1074.2L407.2 1071.8L409.2 1069.3L411.2 1066.9L413.2 1064.6L415.4 1062.3L417.5 1060.1L419.8 1058.0L422.1 1055.9L424.5 1053.9L426.9 1051.9L429.4 1050.1L431.9 1048.3L434.5 1046.5L437.1 1044.9L439.8 1043.3L442.5 1041.8L445.3 1040.4L448.1 1039.1L450.9 1037.9L453.8 1036.7L456.7 1035.7L459.7 1034.7L462.6 1033.8L465.6 1033.1L468.7 1032.3L471.7 1031.7L474.8 1031.2L477.9 1030.7L481.0 1030.3L484.1 1030.0L487.2 1029.7L490.3 1029.5L493.4 1029.4L496.6 1029.3L499.7 1029.2L502.9 1029.3L506.0 1029.3L509.1 1029.4L512.3 1029.6L515.4 1029.8L518.5 1030.1L521.7 1030.4L524.8 1030.7L527.9 1031.0L531.0 1031.4L534.1 1031.9L537.3 1032.3L540.4 1032.7L543.5 1033.2L546.6 1033.7L549.7 1034.2L552.8 1034.7L555.9 1035.2L559.0 1035.7L562.1 1036.2L565.3 1036.8L568.4 1037.3L571.5 1037.8L574.6 1038.4L577.7 1039.0L580.8 1039.5L583.9 1040.1L587.0 1040.7L590.1 1041.3L593.1 1041.9L596.2 1042.5L599.3 1043.1L602.4 1043.6L605.5 1044.2L608.6 1044.8L611.7 1045.3L614.9 1045.9L618.0 1046.4L621.1 1046.9L624.2 1047.4L627.3 1047.9L630.4 1048.4L633.5 1048.9L636.6 1049.3L639.8 1049.7L642.9 1050.1L646.0 1050.5L649.1 1050.9L652.3 1051.2L655.4 1051.5L658.5 1051.8L661.7 1052.1L664.8 1052.3L668.0 1052.5L671.1 1052.7L674.3 1052.9L677.4 1053.0L680.5 1053.1L683.7 1053.1L686.8 1053.1L690.0 1053.1L693.1 1053.1L696.3 1053.0L699.4 1052.9L702.6 1052.8L705.7 1052.6L708.8 1052.4L712.0 1052.1L715.1 1051.9L718.3 1051.6L721.4 1051.2L724.5 1050.9L727.6 1050.5L730.8 1050.0L733.9 1049.6L737.0 1049.1L740.1 1048.5L743.2 1048.0L746.2 1047.4L749.3 1046.7L752.4 1046.0L755.4 1045.3L758.5 1044.5L761.5 1043.6L764.5 1042.7L767.5 1041.8L770.4 1040.8L773.4 1039.8L776.4 1038.7L779.3 1037.6L782.2 1036.4L785.2 1035.3L788.1 1034.1L791.0 1032.9L793.9 1031.7L796.8 1030.5L799.7 1029.2L802.6 1028.0L805.5 1026.8L808.4 1025.5L811.3 1024.3L814.2 1023.0L817.1 1021.8L819.9 1020.5L822.8 1019.2L825.7 1017.9L828.5 1016.6L831.4 1015.2L834.2 1013.8L837.0 1012.4L839.8 1010.9L842.5 1009.4L845.3 1007.9L848.0 1006.3L850.7 1004.7L853.3 1003.0L856.0 1001.3L858.6 999.6L861.2 997.9L863.8 996.1L866.4 994.3L868.9 992.4L871.4 990.5L873.9 988.6L876.4 986.7L878.9 984.7L881.3 982.7L883.7 980.7L886.1 978.7L888.5 976.6L890.9 974.6L893.3 972.5L895.6 970.4L898.0 968.3L900.3 966.2L902.7 964.1L905.0 962.0L905.0 962.0L905.2 964.8L905.4 967.5L905.5 970.3L905.6 973.0L905.8 975.8L905.8 978.5L905.9 981.3L905.9 984.1L906.0 986.8L905.9 989.6L905.9 992.3L905.8 995.1L905.7 997.9L905.6 1000.6L905.4 1003.4L905.3 1006.1L905.1 1008.9L904.9 1011.7L904.6 1014.4L904.4 1017.2L904.1 1019.9L903.8 1022.7L903.5 1025.4L903.2 1028.2L902.8 1030.9L902.4 1033.6L902.0 1036.4L901.6 1039.1L901.2 1041.8L900.7 1044.6L900.3 1047.3L899.8 1050.0L899.3 1052.7L898.7 1055.4L898.2 1058.1L897.6 1060.8L897.0 1063.5L896.4 1066.2L895.7 1068.9L895.0 1071.6L894.3 1074.3L893.6 1076.9L892.9 1079.6L892.1 1082.3L891.3 1084.9L890.5 1087.5L889.6 1090.2L888.7 1092.8L887.8 1095.4L886.9 1098.0L885.9 1100.6L884.9 1103.2L883.9 1105.7L882.9 1108.3L881.8 1110.8L880.7 1113.4L879.6 1115.9L878.4 1118.4L877.2 1120.9L876.0 1123.3L874.7 1125.8L873.4 1128.2L872.1 1130.6L870.7 1133.0L869.2 1135.3L867.8 1137.6L866.2 1139.9L864.7 1142.1L863.0 1144.3L861.3 1146.5L859.6 1148.6L857.8 1150.6L855.9 1152.6L854.1 1154.6L852.1 1156.5L850.1 1158.4L848.1 1160.3L846.0 1162.1L843.9 1163.8L841.8 1165.6L839.6 1167.3L837.4 1168.9L835.2 1170.5L832.9 1172.1L830.6 1173.6L828.3 1175.1L826.0 1176.5L823.6 1177.9L821.2 1179.2L818.8 1180.5L816.3 1181.7L813.8 1182.8L811.3 1183.9L808.8 1184.9L806.2 1185.9L803.6 1186.8L801.0 1187.6L798.4 1188.4L795.7 1189.1L793.1 1189.8L790.4 1190.5L787.7 1191.2L785.0 1191.8L782.3 1192.3L779.6 1192.9L776.9 1193.5L774.2 1194.0L771.5 1194.5L768.8 1195.1L766.1 1195.6L763.3 1196.1L760.6 1196.6L757.9 1197.2L755.2 1197.7L752.5 1198.2L749.8 1198.7L747.0 1199.3L744.3 1199.8L741.6 1200.4L738.9 1200.9L736.2 1201.5L733.5 1202.1L730.8 1202.6L728.1 1203.2L725.4 1203.8L722.7 1204.4L720.0 1205.0L717.3 1205.6L714.6 1206.2L711.9 1206.8L709.2 1207.4L706.5 1208.0L703.8 1208.7L701.1 1209.3L698.4 1209.9L695.7 1210.5L693.0 1211.1L690.3 1211.7L687.6 1212.3L684.9 1212.9L682.2 1213.5L679.5 1214.1L676.8 1214.7L674.1 1215.4L671.4 1216.0L668.7 1216.6L666.0 1217.3L663.3 1217.9L660.6 1218.6L657.9 1219.2L655.3 1219.9L652.6 1220.7L649.9 1221.4L647.3 1222.1L644.6 1222.9L642.0 1223.7L639.3 1224.6L636.7 1225.4L634.1 1226.3L631.5 1227.2L628.9 1228.1L626.3 1229.1L623.7 1230.1L621.1 1231.1L618.6 1232.1L616.0 1233.2L613.5 1234.3L611.0 1235.4L608.4 1236.5L605.9 1237.7L603.4 1238.8L600.9 1240.0L598.4 1241.2L595.9 1242.4L593.5 1243.6L591.0 1244.9L588.5 1246.1L586.0 1247.3L583.5 1248.6L581.1 1249.8L578.6 1251.0L576.1 1252.3L573.6 1253.5L571.2 1254.7L568.7 1256.0L566.2 1257.2L563.7 1258.4L561.3 1259.7L558.8 1260.9L556.3 1262.1L553.8 1263.4L551.3 1264.6L548.9 1265.8L546.4 1267.1L543.9 1268.3L541.5 1269.6L539.0 1270.8L536.5 1272.1L534.1 1273.4L531.6 1274.7L529.2 1276.0L526.7 1277.3L524.3 1278.6L521.9 1279.9L519.5 1281.3L517.1 1282.6L514.6 1284.0L512.2 1285.3L509.8 1286.7L507.5 1288.1L505.1 1289.5L502.7 1290.9L500.3 1292.3L497.9 1293.7L495.5 1295.1L493.1 1296.4L490.7 1297.8L488.3 1299.2L485.9 1300.5L483.4 1301.8L481.0 1303.2L478.6 1304.5L476.1 1305.8L473.7 1307.1L471.3 1308.4L468.8 1309.7L466.4 1311.0L463.9 1312.3L461.5 1313.6L459.1 1315.0L456.7 1316.3L454.3 1317.7L451.9 1319.0L449.5 1320.4L447.1 1321.8L444.8 1323.3L442.4 1324.7L440.1 1326.2L437.8 1327.7L435.5 1329.3L433.2 1330.8L430.9 1332.4L428.7 1334.0L426.5 1335.7L424.3 1337.3L422.1 1339.0L420.0 1340.8L417.8 1342.5L415.7 1344.3L413.7 1346.1L411.6 1348.0L409.6 1349.9L407.7 1351.8L405.7 1353.8L403.8 1355.8L402.0 1357.8L400.1 1359.8L398.4 1361.9L396.6 1364.0L394.9 1366.2L393.3 1368.4L391.6 1370.6L390.1 1372.9L388.5 1375.2L387.1 1377.5L385.6 1379.8L384.2 1382.2L382.9 1384.6L381.6 1387.0L380.3 1389.5L379.1 1391.9L377.9 1394.4L376.7 1396.9L375.6 1399.4L374.5 1402.0L373.5 1404.5L372.5 1407.1L371.5 1409.7L370.6 1412.3L369.6 1414.9L368.8 1417.5L367.9 1420.1L367.1 1422.7L366.3 1425.4L365.6 1428.0L364.8 1430.7L364.1 1433.4L363.4 1436.1L362.8 1438.7L362.1 1441.4L361.5 1444.1L360.9 1446.8L360.2 1449.5L359.6 1452.2L359.1 1454.9L358.5 1457.6L357.9 1460.3L357.3 1463.0L356.8 1465.7L356.2 1468.5" stroke="#2f50a6" stroke-width="5" fill="none" stroke-linejoin="round"/>
<path d="M354.8 1524.5v-16.5M354.8 900.5v16.5M492.4 1524.5v-16.5M492.4 900.5v16.5M629.9 1524.5v-16.5M629.9 900.5v16.5M767.5 1524.5v-16.5M767.5 900.5v16.5M905.0 1524.5v-16.5M905.0 900.5v16.5M423.6 1524.5v-9.5M423.6 900.5v9.5M561.1 1524.5v-9.5M561.1 900.5v9.5M698.7 1524.5v-9.5M698.7 900.5v9.5M836.2 1524.5v-9.5M836.2 900.5v9.5M287.0 1004.8h16.5M973.5 1004.8h-16.5M287.0 1143.5h16.5M973.5 1143.5h-16.5M287.0 1282.2h16.5M973.5 1282.2h-16.5M287.0 1420.9h16.5M973.5 1420.9h-16.5M287.0 1490.2h9.5M973.5 1490.2h-9.5M287.0 1455.6h9.5M973.5 1455.6h-9.5M287.0 1386.2h9.5M973.5 1386.2h-9.5M287.0 1351.6h9.5M973.5 1351.6h-9.5M287.0 1316.9h9.5M973.5 1316.9h-9.5M287.0 1247.5h9.5M973.5 1247.5h-9.5M287.0 1212.8h9.5M973.5 1212.8h-9.5M287.0 1178.2h9.5M973.5 1178.2h-9.5M287.0 1108.8h9.5M973.5 1108.8h-9.5M287.0 1074.2h9.5M973.5 1074.2h-9.5M287.0 1039.5h9.5M973.5 1039.5h-9.5M287.0 970.1h9.5M973.5 970.1h-9.5M287.0 935.4h9.5M973.5 935.4h-9.5" stroke="#111" stroke-width="4.4" fill="none"/>
<rect x="287.0" y="900.5" width="686.5" height="624.0" fill="none" stroke="#111" stroke-width="5.0"/>
<text transform="translate(248.7,1021.2) scale(0.7211,1)" font-size="53.0" textLength="29.48" lengthAdjust="spacing" stroke="#000" stroke-width="0.69" stroke-linejoin="round">1</text>
<text transform="translate(248.7,1159.9) scale(0.7211,1)" font-size="53.0" textLength="29.48" lengthAdjust="spacing" stroke="#000" stroke-width="0.69" stroke-linejoin="round">0</text>
<text transform="translate(236.0,1298.6) scale(0.7605,1)" font-size="53.0" textLength="44.69" lengthAdjust="spacing" stroke="#000" stroke-width="0.69" stroke-linejoin="round">-1</text>
<text transform="translate(236.0,1437.3) scale(0.7605,1)" font-size="53.0" textLength="44.69" lengthAdjust="spacing" stroke="#000" stroke-width="0.69" stroke-linejoin="round">-2</text>
<text transform="translate(325.6,1580.5) scale(0.7765,1)" font-size="53.0" textLength="68.90" lengthAdjust="spacing" stroke="#000" stroke-width="0.69" stroke-linejoin="round">0.0</text>
<text transform="translate(463.1,1580.5) scale(0.7765,1)" font-size="53.0" textLength="68.90" lengthAdjust="spacing" stroke="#000" stroke-width="0.69" stroke-linejoin="round">0.2</text>
<text transform="translate(600.7,1580.5) scale(0.7765,1)" font-size="53.0" textLength="68.90" lengthAdjust="spacing" stroke="#000" stroke-width="0.69" stroke-linejoin="round">0.4</text>
<text transform="translate(738.2,1580.5) scale(0.7765,1)" font-size="53.0" textLength="68.90" lengthAdjust="spacing" stroke="#000" stroke-width="0.69" stroke-linejoin="round">0.6</text>
<text transform="translate(875.8,1580.5) scale(0.7765,1)" font-size="53.0" textLength="68.90" lengthAdjust="spacing" stroke="#000" stroke-width="0.69" stroke-linejoin="round">0.8</text>
<text transform="translate(308.2,1658.0) scale(0.8154,1)" font-size="66.0" textLength="703.31" lengthAdjust="spacing" font-weight="bold">Potential (V vs. Ag/AgCl)</text>
<text transform="translate(188.0,1480.5) rotate(-90) translate(0.0,0) scale(0.7600,1)" font-size="73.0" textLength="639.08" lengthAdjust="spacing" stroke="#000" stroke-width="2.40" stroke-linejoin="round">Current density (A g</text>
<text transform="translate(155.0,988.0) rotate(-90) translate(0.0,0) scale(0.8980,1)" font-size="42.0" textLength="47.89" lengthAdjust="spacing" stroke="#000" stroke-width="0.55" stroke-linejoin="round">−1</text>
<text transform="translate(188.0,945.0) rotate(-90) translate(0.0,0) scale(0.7815,1)" font-size="73.0" textLength="24.31" lengthAdjust="spacing" stroke="#000" stroke-width="0.95" stroke-linejoin="round">)</text>
<text transform="translate(31.3,947.5) scale(0.7836,1)" font-size="75.0" textLength="89.07" lengthAdjust="spacing" font-weight="bold">(b)</text>
<path d="M638.4 1294.0H719" stroke="#2f50a6" stroke-width="6.5" fill="none"/>
<text transform="translate(729.0,1306.2) scale(0.7500,1)" font-size="47.0" textLength="225.33" lengthAdjust="spacing" font-weight="bold" stroke="#000" stroke-width="1.40" stroke-linejoin="round">MCFC -900</text>
<path d="M638.4 1351.4H719" stroke="#d45aa8" stroke-width="6.5" fill="none"/>
<text transform="translate(729.0,1363.6) scale(0.7483,1)" font-size="47.0" textLength="249.23" lengthAdjust="spacing" font-weight="bold" stroke="#000" stroke-width="1.40" stroke-linejoin="round">MCFC -1500</text>
<path d="M638.4 1408.8H719" stroke="#ff2233" stroke-width="6.5" fill="none"/>
<text transform="translate(729.0,1421.0) scale(0.7483,1)" font-size="47.0" textLength="249.23" lengthAdjust="spacing" font-weight="bold" stroke="#000" stroke-width="1.40" stroke-linejoin="round">MCFC -2000</text>
<path d="M638.4 1466.2H719" stroke="#4fb848" stroke-width="6.5" fill="none"/>
<text transform="translate(729.0,1478.4) scale(0.7185,1)" font-size="47.0" textLength="128.88" lengthAdjust="spacing" font-weight="bold" stroke="#000" stroke-width="1.40" stroke-linejoin="round">MCFC</text>
<path d="M1311.4 1170.8L1311.4 1165.3L1313.9 1165.1L1316.4 1165.0L1318.9 1164.9L1321.4 1164.7L1323.8 1164.6L1326.3 1164.5L1328.8 1164.4L1331.3 1164.3L1333.8 1164.2L1336.3 1164.1L1338.8 1164.1L1341.2 1164.0L1343.7 1163.9L1346.2 1163.9L1348.7 1163.8L1351.2 1163.8L1353.7 1163.8L1356.2 1163.7L1358.6 1163.7L1361.1 1163.7L1363.6 1163.6L1366.1 1163.6L1368.6 1163.6L1371.1 1163.6L1373.6 1163.6L1376.1 1163.5L1378.5 1163.5L1381.0 1163.5L1383.5 1163.5L1386.0 1163.5L1388.5 1163.5L1391.0 1163.5L1393.5 1163.5L1396.0 1163.4L1398.4 1163.4L1400.9 1163.4L1403.4 1163.4L1405.9 1163.4L1408.4 1163.4L1410.9 1163.4L1413.4 1163.4L1415.9 1163.4L1418.3 1163.4L1420.8 1163.4L1423.3 1163.4L1425.8 1163.4L1428.3 1163.4L1430.8 1163.4L1433.3 1163.4L1435.8 1163.4L1438.2 1163.3L1440.7 1163.3L1443.2 1163.3L1445.7 1163.3L1448.2 1163.3L1450.7 1163.3L1453.2 1163.3L1455.7 1163.3L1458.1 1163.3L1460.6 1163.3L1463.1 1163.3L1465.6 1163.3L1468.1 1163.3L1470.6 1163.3L1473.1 1163.4L1475.6 1163.4L1478.0 1163.4L1480.5 1163.4L1483.0 1163.4L1485.5 1163.4L1488.0 1163.4L1490.5 1163.4L1493.0 1163.4L1495.5 1163.4L1497.9 1163.4L1500.4 1163.4L1502.9 1163.4L1505.4 1163.4L1507.9 1163.4L1510.4 1163.4L1512.9 1163.4L1515.4 1163.4L1517.8 1163.5L1520.3 1163.5L1522.8 1163.5L1525.3 1163.5L1527.8 1163.5L1530.3 1163.5L1532.8 1163.5L1535.2 1163.5L1537.7 1163.5L1540.2 1163.5L1542.7 1163.6L1545.2 1163.6L1547.7 1163.6L1550.2 1163.6L1552.7 1163.6L1555.1 1163.6L1557.6 1163.6L1560.1 1163.6L1562.6 1163.6L1565.1 1163.6L1567.6 1163.7L1570.1 1163.7L1572.6 1163.7L1575.0 1163.7L1577.5 1163.7L1580.0 1163.7L1582.5 1163.7L1585.0 1163.7L1587.5 1163.7L1590.0 1163.8L1592.5 1163.8L1594.9 1163.8L1597.4 1163.8L1599.9 1163.8L1602.4 1163.8L1604.9 1163.8L1607.4 1163.8L1609.9 1163.8L1612.4 1163.8L1614.8 1163.9L1617.3 1163.9L1619.8 1163.9L1622.3 1163.9L1624.8 1163.9L1627.3 1163.9L1629.8 1163.9L1632.3 1163.9L1634.7 1163.9L1637.2 1163.9L1639.7 1163.9L1642.2 1164.0L1644.7 1164.0L1647.2 1164.0L1649.7 1164.0L1652.2 1164.0L1654.6 1164.0L1657.1 1164.0L1659.6 1164.0L1662.1 1164.0L1664.6 1164.0L1667.1 1164.0L1669.6 1164.0L1672.1 1164.0L1674.5 1164.0L1677.0 1164.0L1679.5 1164.0L1682.0 1164.0L1684.5 1164.1L1687.0 1164.1L1689.5 1164.1L1691.9 1164.1L1694.4 1164.1L1696.9 1164.1L1699.4 1164.1L1701.9 1164.1L1704.4 1164.1L1706.9 1164.1L1709.4 1164.1L1711.8 1164.1L1714.3 1164.1L1716.8 1164.1L1719.3 1164.1L1721.8 1164.1L1724.3 1164.1L1726.8 1164.1L1729.3 1164.1L1731.7 1164.1L1734.2 1164.1L1736.7 1164.1L1739.2 1164.1L1741.7 1164.1L1744.2 1164.1L1746.7 1164.1L1749.2 1164.1L1751.6 1164.1L1754.1 1164.1L1756.6 1164.1L1759.1 1164.1L1761.6 1164.1L1764.1 1164.1L1766.6 1164.1L1769.1 1164.1L1771.5 1164.1L1774.0 1164.1L1776.5 1164.1L1779.0 1164.1L1781.5 1164.1L1784.0 1164.1L1786.5 1164.1L1789.0 1164.1L1791.4 1164.1L1793.9 1164.1L1796.4 1164.1L1798.9 1164.1L1801.4 1164.1L1803.9 1164.1L1806.4 1164.1L1808.9 1164.1L1811.3 1164.1L1813.8 1164.1L1816.3 1164.1L1818.8 1164.1L1821.3 1164.1L1823.8 1164.1L1826.3 1164.1L1828.8 1164.1L1831.2 1164.1L1833.7 1164.1L1836.2 1164.1L1838.7 1164.1L1841.2 1164.1L1843.7 1164.1L1846.2 1164.1L1848.7 1164.0L1851.1 1164.0L1853.6 1164.0L1856.1 1164.0L1858.6 1164.0L1858.6 1164.0L1857.0 1164.2L1855.3 1164.3L1853.5 1164.4L1851.7 1164.5L1849.8 1164.7L1847.8 1164.8L1845.8 1164.8L1843.8 1164.9L1841.7 1165.0L1839.6 1165.1L1837.5 1165.1L1835.4 1165.2L1833.2 1165.2L1831.1 1165.3L1829.0 1165.3L1826.9 1165.3L1824.8 1165.4L1822.7 1165.4L1820.6 1165.4L1818.5 1165.5L1816.3 1165.5L1814.2 1165.5L1812.1 1165.5L1810.0 1165.6L1807.9 1165.6L1805.8 1165.6L1803.7 1165.6L1801.6 1165.7L1799.4 1165.7L1797.3 1165.7L1795.2 1165.7L1793.1 1165.7L1791.0 1165.8L1788.9 1165.8L1786.8 1165.8L1784.7 1165.8L1782.5 1165.8L1780.4 1165.9L1778.3 1165.9L1776.2 1165.9L1774.1 1165.9L1772.0 1165.9L1769.9 1165.9L1767.8 1166.0L1765.6 1166.0L1763.5 1166.0L1761.4 1166.0L1759.3 1166.0L1757.2 1166.0L1755.1 1166.1L1753.0 1166.1L1750.9 1166.1L1748.7 1166.1L1746.6 1166.1L1744.5 1166.1L1742.4 1166.2L1740.3 1166.2L1738.2 1166.2L1736.1 1166.2L1734.0 1166.2L1731.8 1166.2L1729.7 1166.3L1727.6 1166.3L1725.5 1166.3L1723.4 1166.3L1721.3 1166.3L1719.2 1166.3L1717.0 1166.4L1714.9 1166.4L1712.8 1166.4L1710.7 1166.4L1708.6 1166.4L1706.5 1166.4L1704.4 1166.5L1702.3 1166.5L1700.1 1166.5L1698.0 1166.5L1695.9 1166.5L1693.8 1166.6L1691.7 1166.6L1689.6 1166.6L1687.5 1166.6L1685.4 1166.6L1683.2 1166.7L1681.1 1166.7L1679.0 1166.7L1676.9 1166.7L1674.8 1166.7L1672.7 1166.7L1670.6 1166.8L1668.5 1166.8L1666.3 1166.8L1664.2 1166.8L1662.1 1166.8L1660.0 1166.9L1657.9 1166.9L1655.8 1166.9L1653.7 1166.9L1651.6 1166.9L1649.4 1167.0L1647.3 1167.0L1645.2 1167.0L1643.1 1167.0L1641.0 1167.0L1638.9 1167.1L1636.8 1167.1L1634.7 1167.1L1632.5 1167.1L1630.4 1167.2L1628.3 1167.2L1626.2 1167.2L1624.1 1167.2L1622.0 1167.2L1619.9 1167.3L1617.8 1167.3L1615.6 1167.3L1613.5 1167.3L1611.4 1167.4L1609.3 1167.4L1607.2 1167.4L1605.1 1167.4L1603.0 1167.5L1600.9 1167.5L1598.7 1167.5L1596.6 1167.5L1594.5 1167.6L1592.4 1167.6L1590.3 1167.6L1588.2 1167.7L1586.1 1167.7L1584.0 1167.7L1581.8 1167.7L1579.7 1167.8L1577.6 1167.8L1575.5 1167.8L1573.4 1167.9L1571.3 1167.9L1569.2 1167.9L1567.1 1167.9L1564.9 1168.0L1562.8 1168.0L1560.7 1168.0L1558.6 1168.1L1556.5 1168.1L1554.4 1168.1L1552.3 1168.1L1550.2 1168.2L1548.0 1168.2L1545.9 1168.2L1543.8 1168.3L1541.7 1168.3L1539.6 1168.3L1537.5 1168.3L1535.4 1168.4L1533.3 1168.4L1531.1 1168.4L1529.0 1168.4L1526.9 1168.5L1524.8 1168.5L1522.7 1168.5L1520.6 1168.6L1518.5 1168.6L1516.4 1168.6L1514.2 1168.6L1512.1 1168.7L1510.0 1168.7L1507.9 1168.7L1505.8 1168.8L1503.7 1168.8L1501.6 1168.8L1499.5 1168.8L1497.3 1168.9L1495.2 1168.9L1493.1 1168.9L1491.0 1168.9L1488.9 1169.0L1486.8 1169.0L1484.7 1169.0L1482.6 1169.1L1480.4 1169.1L1478.3 1169.1L1476.2 1169.1L1474.1 1169.2L1472.0 1169.2L1469.9 1169.2L1467.8 1169.2L1465.7 1169.3L1463.5 1169.3L1461.4 1169.3L1459.3 1169.3L1457.2 1169.4L1455.1 1169.4L1453.0 1169.4L1450.9 1169.5L1448.8 1169.5L1446.6 1169.5L1444.5 1169.5L1442.4 1169.6L1440.3 1169.6L1438.2 1169.6L1436.1 1169.6L1434.0 1169.7L1431.9 1169.7L1429.7 1169.7L1427.6 1169.7L1425.5 1169.8L1423.4 1169.8L1421.3 1169.8L1419.2 1169.8L1417.1 1169.9L1414.9 1169.9L1412.8 1169.9L1410.7 1169.9L1408.6 1169.9L1406.5 1170.0L1404.4 1170.0L1402.3 1170.0L1400.2 1170.0L1398.0 1170.1L1395.9 1170.1L1393.8 1170.1L1391.7 1170.1L1389.6 1170.1L1387.5 1170.1L1385.4 1170.2L1383.3 1170.2L1381.1 1170.2L1379.0 1170.2L1376.9 1170.2L1374.8 1170.3L1372.7 1170.3L1370.6 1170.3L1368.5 1170.3L1366.4 1170.3L1364.2 1170.3L1362.1 1170.4L1360.0 1170.4L1357.9 1170.4L1355.8 1170.4L1353.7 1170.4L1351.6 1170.4L1349.5 1170.5L1347.3 1170.5L1345.2 1170.5L1343.1 1170.5L1341.0 1170.5L1338.9 1170.5L1336.8 1170.5L1334.7 1170.6L1332.6 1170.6L1330.4 1170.6L1328.3 1170.6L1326.2 1170.6L1324.1 1170.7L1322.0 1170.7L1319.9 1170.7L1317.8 1170.7L1315.7 1170.7L1313.5 1170.8L1311.4 1170.8Z" stroke="#111111" stroke-width="4.4" fill="none" stroke-linejoin="round"/>
<path d="M1311.4 1182.8L1311.4 1165.0L1313.9 1164.7L1316.4 1164.4L1318.8 1164.2L1321.3 1163.9L1323.8 1163.6L1326.2 1163.4L1328.7 1163.2L1331.2 1163.0L1333.7 1162.8L1336.2 1162.6L1338.6 1162.5L1341.1 1162.3L1343.6 1162.2L1346.1 1162.1L1348.6 1162.0L1351.1 1161.9L1353.6 1161.8L1356.0 1161.8L1358.5 1161.7L1361.0 1161.6L1363.5 1161.6L1366.0 1161.5L1368.5 1161.5L1371.0 1161.5L1373.5 1161.4L1375.9 1161.4L1378.4 1161.3L1380.9 1161.3L1383.4 1161.3L1385.9 1161.3L1388.4 1161.2L1390.9 1161.2L1393.4 1161.2L1395.8 1161.2L1398.3 1161.2L1400.8 1161.1L1403.3 1161.1L1405.8 1161.1L1408.3 1161.1L1410.8 1161.1L1413.3 1161.1L1415.7 1161.0L1418.2 1161.0L1420.7 1161.0L1423.2 1161.0L1425.7 1161.0L1428.2 1161.0L1430.7 1161.0L1433.2 1161.0L1435.6 1161.0L1438.1 1161.0L1440.6 1161.0L1443.1 1160.9L1445.6 1160.9L1448.1 1160.9L1450.6 1160.9L1453.1 1160.9L1455.6 1160.9L1458.0 1160.9L1460.5 1160.9L1463.0 1160.9L1465.5 1160.9L1468.0 1161.0L1470.5 1161.0L1473.0 1161.0L1475.5 1161.0L1477.9 1161.0L1480.4 1161.0L1482.9 1161.0L1485.4 1161.0L1487.9 1161.0L1490.4 1161.0L1492.9 1161.0L1495.4 1161.0L1497.8 1161.1L1500.3 1161.1L1502.8 1161.1L1505.3 1161.1L1507.8 1161.1L1510.3 1161.1L1512.8 1161.1L1515.3 1161.2L1517.8 1161.2L1520.2 1161.2L1522.7 1161.2L1525.2 1161.2L1527.7 1161.3L1530.2 1161.3L1532.7 1161.3L1535.2 1161.3L1537.7 1161.3L1540.1 1161.4L1542.6 1161.4L1545.1 1161.4L1547.6 1161.4L1550.1 1161.5L1552.6 1161.5L1555.1 1161.5L1557.6 1161.5L1560.0 1161.5L1562.5 1161.6L1565.0 1161.6L1567.5 1161.6L1570.0 1161.6L1572.5 1161.7L1575.0 1161.7L1577.5 1161.7L1579.9 1161.7L1582.4 1161.8L1584.9 1161.8L1587.4 1161.8L1589.9 1161.8L1592.4 1161.8L1594.9 1161.9L1597.4 1161.9L1599.9 1161.9L1602.3 1161.9L1604.8 1162.0L1607.3 1162.0L1609.8 1162.0L1612.3 1162.0L1614.8 1162.0L1617.3 1162.1L1619.8 1162.1L1622.2 1162.1L1624.7 1162.1L1627.2 1162.1L1629.7 1162.1L1632.2 1162.2L1634.7 1162.2L1637.2 1162.2L1639.7 1162.2L1642.1 1162.2L1644.6 1162.2L1647.1 1162.3L1649.6 1162.3L1652.1 1162.3L1654.6 1162.3L1657.1 1162.3L1659.6 1162.3L1662.0 1162.3L1664.5 1162.4L1667.0 1162.4L1669.5 1162.4L1672.0 1162.4L1674.5 1162.4L1677.0 1162.4L1679.5 1162.4L1682.0 1162.4L1684.4 1162.4L1686.9 1162.5L1689.4 1162.5L1691.9 1162.5L1694.4 1162.5L1696.9 1162.5L1699.4 1162.5L1701.9 1162.5L1704.3 1162.5L1706.8 1162.5L1709.3 1162.5L1711.8 1162.5L1714.3 1162.5L1716.8 1162.5L1719.3 1162.6L1721.8 1162.6L1724.2 1162.6L1726.7 1162.6L1729.2 1162.6L1731.7 1162.6L1734.2 1162.6L1736.7 1162.6L1739.2 1162.6L1741.7 1162.6L1744.2 1162.6L1746.6 1162.6L1749.1 1162.6L1751.6 1162.6L1754.1 1162.6L1756.6 1162.6L1759.1 1162.6L1761.6 1162.6L1764.1 1162.6L1766.5 1162.6L1769.0 1162.6L1771.5 1162.6L1774.0 1162.6L1776.5 1162.6L1779.0 1162.6L1781.5 1162.6L1784.0 1162.6L1786.4 1162.6L1788.9 1162.6L1791.4 1162.6L1793.9 1162.6L1796.4 1162.6L1798.9 1162.6L1801.4 1162.6L1803.9 1162.6L1806.4 1162.6L1808.8 1162.6L1811.3 1162.6L1813.8 1162.6L1816.3 1162.6L1818.8 1162.6L1821.3 1162.5L1823.8 1162.5L1826.3 1162.5L1828.7 1162.5L1831.2 1162.5L1833.7 1162.5L1836.2 1162.5L1838.7 1162.5L1841.2 1162.5L1843.7 1162.5L1846.2 1162.4L1848.6 1162.4L1851.1 1162.4L1853.6 1162.4L1856.1 1162.4L1858.6 1162.4L1858.6 1162.4L1857.0 1162.5L1855.3 1162.6L1853.6 1162.7L1851.8 1162.8L1850.0 1163.0L1848.0 1163.2L1846.0 1163.4L1844.0 1163.6L1841.9 1163.8L1839.8 1164.0L1837.7 1164.2L1835.6 1164.4L1833.5 1164.6L1831.4 1164.7L1829.3 1164.8L1827.2 1164.9L1825.0 1165.1L1822.9 1165.2L1820.8 1165.3L1818.7 1165.4L1816.6 1165.5L1814.5 1165.6L1812.4 1165.6L1810.3 1165.7L1808.1 1165.8L1806.0 1165.9L1803.9 1166.0L1801.8 1166.0L1799.7 1166.1L1797.6 1166.2L1795.5 1166.2L1793.3 1166.3L1791.2 1166.4L1789.1 1166.4L1787.0 1166.5L1784.9 1166.6L1782.8 1166.6L1780.7 1166.7L1778.5 1166.7L1776.4 1166.8L1774.3 1166.8L1772.2 1166.9L1770.1 1166.9L1768.0 1167.0L1765.9 1167.0L1763.7 1167.1L1761.6 1167.1L1759.5 1167.2L1757.4 1167.3L1755.3 1167.3L1753.2 1167.4L1751.1 1167.4L1748.9 1167.5L1746.8 1167.5L1744.7 1167.6L1742.6 1167.6L1740.5 1167.7L1738.4 1167.7L1736.3 1167.8L1734.1 1167.9L1732.0 1167.9L1729.9 1168.0L1727.8 1168.0L1725.7 1168.1L1723.6 1168.1L1721.5 1168.2L1719.3 1168.2L1717.2 1168.3L1715.1 1168.4L1713.0 1168.4L1710.9 1168.5L1708.8 1168.5L1706.7 1168.6L1704.5 1168.7L1702.4 1168.7L1700.3 1168.8L1698.2 1168.8L1696.1 1168.9L1694.0 1169.0L1691.9 1169.0L1689.7 1169.1L1687.6 1169.1L1685.5 1169.2L1683.4 1169.3L1681.3 1169.3L1679.2 1169.4L1677.1 1169.5L1674.9 1169.5L1672.8 1169.6L1670.7 1169.6L1668.6 1169.7L1666.5 1169.8L1664.4 1169.8L1662.3 1169.9L1660.2 1170.0L1658.0 1170.0L1655.9 1170.1L1653.8 1170.2L1651.7 1170.2L1649.6 1170.3L1647.5 1170.4L1645.4 1170.4L1643.2 1170.5L1641.1 1170.6L1639.0 1170.6L1636.9 1170.7L1634.8 1170.8L1632.7 1170.8L1630.6 1170.9L1628.4 1171.0L1626.3 1171.1L1624.2 1171.1L1622.1 1171.2L1620.0 1171.3L1617.9 1171.4L1615.8 1171.4L1613.6 1171.5L1611.5 1171.6L1609.4 1171.7L1607.3 1171.8L1605.2 1171.8L1603.1 1171.9L1601.0 1172.0L1598.9 1172.1L1596.7 1172.2L1594.6 1172.3L1592.5 1172.4L1590.4 1172.5L1588.3 1172.6L1586.2 1172.7L1584.1 1172.8L1582.0 1172.8L1579.8 1172.9L1577.7 1173.0L1575.6 1173.1L1573.5 1173.2L1571.4 1173.3L1569.3 1173.4L1567.2 1173.5L1565.0 1173.6L1562.9 1173.7L1560.8 1173.8L1558.7 1173.9L1556.6 1174.0L1554.5 1174.1L1552.4 1174.2L1550.3 1174.2L1548.1 1174.3L1546.0 1174.4L1543.9 1174.5L1541.8 1174.6L1539.7 1174.7L1537.6 1174.8L1535.5 1174.9L1533.4 1175.0L1531.2 1175.1L1529.1 1175.1L1527.0 1175.2L1524.9 1175.3L1522.8 1175.4L1520.7 1175.5L1518.6 1175.6L1516.4 1175.7L1514.3 1175.8L1512.2 1175.9L1510.1 1176.0L1508.0 1176.0L1505.9 1176.1L1503.8 1176.2L1501.7 1176.3L1499.5 1176.4L1497.4 1176.5L1495.3 1176.6L1493.2 1176.7L1491.1 1176.8L1489.0 1176.8L1486.9 1176.9L1484.8 1177.0L1482.6 1177.1L1480.5 1177.2L1478.4 1177.3L1476.3 1177.4L1474.2 1177.5L1472.1 1177.6L1470.0 1177.6L1467.8 1177.7L1465.7 1177.8L1463.6 1177.9L1461.5 1178.0L1459.4 1178.1L1457.3 1178.2L1455.2 1178.3L1453.1 1178.3L1450.9 1178.4L1448.8 1178.5L1446.7 1178.6L1444.6 1178.7L1442.5 1178.8L1440.4 1178.9L1438.3 1178.9L1436.2 1179.0L1434.0 1179.1L1431.9 1179.2L1429.8 1179.3L1427.7 1179.4L1425.6 1179.4L1423.5 1179.5L1421.4 1179.6L1419.2 1179.7L1417.1 1179.8L1415.0 1179.8L1412.9 1179.9L1410.8 1180.0L1408.7 1180.1L1406.6 1180.1L1404.4 1180.2L1402.3 1180.3L1400.2 1180.3L1398.1 1180.4L1396.0 1180.5L1393.9 1180.5L1391.8 1180.6L1389.7 1180.6L1387.5 1180.7L1385.4 1180.8L1383.3 1180.8L1381.2 1180.9L1379.1 1180.9L1377.0 1181.0L1374.9 1181.1L1372.7 1181.1L1370.6 1181.2L1368.5 1181.2L1366.4 1181.3L1364.3 1181.3L1362.2 1181.4L1360.1 1181.4L1357.9 1181.5L1355.8 1181.6L1353.7 1181.6L1351.6 1181.7L1349.5 1181.7L1347.4 1181.8L1345.3 1181.8L1343.1 1181.9L1341.0 1181.9L1338.9 1182.0L1336.8 1182.0L1334.7 1182.1L1332.6 1182.1L1330.5 1182.2L1328.3 1182.2L1326.2 1182.3L1324.1 1182.4L1322.0 1182.4L1319.9 1182.5L1317.8 1182.6L1315.7 1182.7L1313.5 1182.7L1311.4 1182.8Z" stroke="#ee1c24" stroke-width="4.4" fill="none" stroke-linejoin="round"/>
<path d="M1311.4 1193.4L1311.4 1164.2L1313.8 1163.3L1316.1 1162.4L1318.4 1161.6L1320.8 1160.8L1323.1 1160.1L1325.5 1159.4L1327.9 1158.8L1330.3 1158.2L1332.7 1157.6L1335.1 1157.1L1337.6 1156.7L1340.0 1156.3L1342.5 1155.9L1345.0 1155.6L1347.4 1155.3L1349.9 1155.1L1352.4 1154.8L1354.9 1154.6L1357.4 1154.4L1359.8 1154.2L1362.3 1154.1L1364.8 1153.9L1367.3 1153.8L1369.8 1153.6L1372.3 1153.5L1374.8 1153.4L1377.3 1153.3L1379.8 1153.2L1382.3 1153.1L1384.8 1153.0L1387.2 1153.0L1389.7 1152.9L1392.2 1152.8L1394.7 1152.8L1397.2 1152.7L1399.7 1152.7L1402.2 1152.6L1404.7 1152.6L1407.2 1152.5L1409.7 1152.5L1412.2 1152.4L1414.7 1152.4L1417.2 1152.3L1419.7 1152.3L1422.2 1152.3L1424.7 1152.2L1427.1 1152.2L1429.6 1152.2L1432.1 1152.2L1434.6 1152.1L1437.1 1152.1L1439.6 1152.1L1442.1 1152.1L1444.6 1152.1L1447.1 1152.1L1449.6 1152.1L1452.1 1152.1L1454.6 1152.1L1457.1 1152.1L1459.6 1152.1L1462.1 1152.1L1464.6 1152.1L1467.1 1152.1L1469.5 1152.1L1472.0 1152.1L1474.5 1152.1L1477.0 1152.2L1479.5 1152.2L1482.0 1152.2L1484.5 1152.2L1487.0 1152.3L1489.5 1152.3L1492.0 1152.3L1494.5 1152.4L1497.0 1152.4L1499.5 1152.4L1502.0 1152.5L1504.5 1152.5L1507.0 1152.6L1509.5 1152.6L1511.9 1152.6L1514.4 1152.7L1516.9 1152.7L1519.4 1152.8L1521.9 1152.9L1524.4 1152.9L1526.9 1153.0L1529.4 1153.0L1531.9 1153.1L1534.4 1153.1L1536.9 1153.2L1539.4 1153.3L1541.9 1153.3L1544.4 1153.4L1546.9 1153.5L1549.3 1153.5L1551.8 1153.6L1554.3 1153.7L1556.8 1153.8L1559.3 1153.8L1561.8 1153.9L1564.3 1154.0L1566.8 1154.0L1569.3 1154.1L1571.8 1154.2L1574.3 1154.2L1576.8 1154.3L1579.3 1154.4L1581.8 1154.4L1584.3 1154.5L1586.7 1154.6L1589.2 1154.6L1591.7 1154.7L1594.2 1154.8L1596.7 1154.8L1599.2 1154.9L1601.7 1155.0L1604.2 1155.0L1606.7 1155.1L1609.2 1155.1L1611.7 1155.2L1614.2 1155.3L1616.7 1155.3L1619.2 1155.4L1621.7 1155.4L1624.2 1155.5L1626.6 1155.5L1629.1 1155.6L1631.6 1155.6L1634.1 1155.7L1636.6 1155.8L1639.1 1155.8L1641.6 1155.8L1644.1 1155.9L1646.6 1155.9L1649.1 1156.0L1651.6 1156.0L1654.1 1156.1L1656.6 1156.1L1659.1 1156.2L1661.6 1156.2L1664.1 1156.2L1666.5 1156.3L1669.0 1156.3L1671.5 1156.3L1674.0 1156.4L1676.5 1156.4L1679.0 1156.4L1681.5 1156.5L1684.0 1156.5L1686.5 1156.5L1689.0 1156.6L1691.5 1156.6L1694.0 1156.6L1696.5 1156.6L1699.0 1156.7L1701.5 1156.7L1704.0 1156.7L1706.5 1156.7L1708.9 1156.7L1711.4 1156.8L1713.9 1156.8L1716.4 1156.8L1718.9 1156.8L1721.4 1156.8L1723.9 1156.8L1726.4 1156.9L1728.9 1156.9L1731.4 1156.9L1733.9 1156.9L1736.4 1156.9L1738.9 1156.9L1741.4 1156.9L1743.9 1156.9L1746.4 1157.0L1748.9 1157.0L1751.3 1157.0L1753.8 1157.0L1756.3 1157.0L1758.8 1157.0L1761.3 1157.0L1763.8 1157.0L1766.3 1157.0L1768.8 1157.0L1771.3 1157.0L1773.8 1157.0L1776.3 1157.0L1778.8 1157.0L1781.3 1157.0L1783.8 1157.0L1786.3 1157.0L1788.8 1157.0L1791.3 1157.0L1793.8 1156.9L1796.2 1156.9L1798.7 1156.9L1801.2 1156.9L1803.7 1156.9L1806.2 1156.9L1808.7 1156.9L1811.2 1156.9L1813.7 1156.8L1816.2 1156.8L1818.7 1156.8L1821.2 1156.8L1823.7 1156.8L1826.2 1156.7L1828.7 1156.7L1831.2 1156.7L1833.7 1156.7L1836.2 1156.6L1838.6 1156.6L1841.1 1156.6L1843.6 1156.5L1846.1 1156.5L1848.6 1156.5L1851.1 1156.4L1853.6 1156.4L1856.1 1156.4L1858.6 1156.3L1858.6 1156.3L1857.3 1157.3L1856.0 1158.2L1854.5 1159.0L1853.0 1159.8L1851.3 1160.5L1849.4 1161.1L1847.5 1161.6L1845.5 1162.1L1843.5 1162.5L1841.4 1162.9L1839.3 1163.2L1837.2 1163.5L1835.1 1163.8L1833.0 1164.0L1830.9 1164.3L1828.8 1164.5L1826.7 1164.7L1824.6 1164.8L1822.5 1165.0L1820.3 1165.2L1818.2 1165.3L1816.1 1165.5L1814.0 1165.6L1811.9 1165.8L1809.8 1165.9L1807.6 1166.0L1805.5 1166.1L1803.4 1166.3L1801.3 1166.4L1799.1 1166.5L1797.0 1166.6L1794.9 1166.7L1792.8 1166.8L1790.7 1166.9L1788.5 1167.0L1786.4 1167.1L1784.3 1167.2L1782.2 1167.3L1780.1 1167.4L1777.9 1167.5L1775.8 1167.6L1773.7 1167.7L1771.6 1167.8L1769.4 1167.8L1767.3 1167.9L1765.2 1168.0L1763.1 1168.1L1761.0 1168.2L1758.8 1168.3L1756.7 1168.4L1754.6 1168.4L1752.5 1168.5L1750.3 1168.6L1748.2 1168.7L1746.1 1168.8L1744.0 1168.9L1741.9 1169.0L1739.7 1169.1L1737.6 1169.1L1735.5 1169.2L1733.4 1169.3L1731.2 1169.4L1729.1 1169.5L1727.0 1169.6L1724.9 1169.7L1722.8 1169.8L1720.6 1169.9L1718.5 1170.0L1716.4 1170.1L1714.3 1170.1L1712.2 1170.2L1710.0 1170.3L1707.9 1170.4L1705.8 1170.5L1703.7 1170.6L1701.5 1170.7L1699.4 1170.8L1697.3 1170.9L1695.2 1171.0L1693.1 1171.1L1690.9 1171.2L1688.8 1171.3L1686.7 1171.4L1684.6 1171.5L1682.4 1171.6L1680.3 1171.7L1678.2 1171.8L1676.1 1171.9L1674.0 1172.0L1671.8 1172.1L1669.7 1172.2L1667.6 1172.3L1665.5 1172.4L1663.4 1172.5L1661.2 1172.6L1659.1 1172.8L1657.0 1172.9L1654.9 1173.0L1652.7 1173.1L1650.6 1173.2L1648.5 1173.3L1646.4 1173.4L1644.3 1173.5L1642.1 1173.6L1640.0 1173.7L1637.9 1173.8L1635.8 1173.9L1633.7 1174.1L1631.5 1174.2L1629.4 1174.3L1627.3 1174.4L1625.2 1174.5L1623.1 1174.6L1620.9 1174.8L1618.8 1174.9L1616.7 1175.0L1614.6 1175.1L1612.5 1175.3L1610.3 1175.4L1608.2 1175.5L1606.1 1175.7L1604.0 1175.8L1601.9 1175.9L1599.7 1176.1L1597.6 1176.2L1595.5 1176.4L1593.4 1176.5L1591.3 1176.7L1589.1 1176.8L1587.0 1177.0L1584.9 1177.1L1582.8 1177.3L1580.7 1177.4L1578.6 1177.6L1576.4 1177.7L1574.3 1177.9L1572.2 1178.0L1570.1 1178.2L1568.0 1178.3L1565.8 1178.5L1563.7 1178.6L1561.6 1178.8L1559.5 1178.9L1557.4 1179.1L1555.2 1179.2L1553.1 1179.4L1551.0 1179.5L1548.9 1179.7L1546.8 1179.8L1544.7 1180.0L1542.5 1180.1L1540.4 1180.3L1538.3 1180.4L1536.2 1180.6L1534.1 1180.7L1531.9 1180.9L1529.8 1181.0L1527.7 1181.1L1525.6 1181.3L1523.5 1181.4L1521.3 1181.6L1519.2 1181.7L1517.1 1181.9L1515.0 1182.0L1512.9 1182.2L1510.8 1182.3L1508.6 1182.4L1506.5 1182.6L1504.4 1182.7L1502.3 1182.9L1500.2 1183.0L1498.0 1183.2L1495.9 1183.3L1493.8 1183.5L1491.7 1183.6L1489.6 1183.7L1487.4 1183.9L1485.3 1184.0L1483.2 1184.2L1481.1 1184.3L1479.0 1184.5L1476.8 1184.6L1474.7 1184.8L1472.6 1184.9L1470.5 1185.0L1468.4 1185.2L1466.3 1185.3L1464.1 1185.5L1462.0 1185.6L1459.9 1185.7L1457.8 1185.9L1455.7 1186.0L1453.5 1186.2L1451.4 1186.3L1449.3 1186.4L1447.2 1186.6L1445.1 1186.7L1442.9 1186.9L1440.8 1187.0L1438.7 1187.1L1436.6 1187.3L1434.5 1187.4L1432.3 1187.5L1430.2 1187.7L1428.1 1187.8L1426.0 1187.9L1423.9 1188.1L1421.7 1188.2L1419.6 1188.3L1417.5 1188.5L1415.4 1188.6L1413.3 1188.7L1411.1 1188.8L1409.0 1188.9L1406.9 1189.1L1404.8 1189.2L1402.7 1189.3L1400.5 1189.4L1398.4 1189.5L1396.3 1189.6L1394.2 1189.7L1392.1 1189.8L1389.9 1189.9L1387.8 1190.0L1385.7 1190.1L1383.6 1190.2L1381.4 1190.3L1379.3 1190.4L1377.2 1190.5L1375.1 1190.6L1373.0 1190.6L1370.8 1190.7L1368.7 1190.8L1366.6 1190.9L1364.5 1191.0L1362.3 1191.1L1360.2 1191.2L1358.1 1191.3L1356.0 1191.4L1353.9 1191.4L1351.7 1191.5L1349.6 1191.6L1347.5 1191.7L1345.4 1191.8L1343.2 1191.9L1341.1 1191.9L1339.0 1192.0L1336.9 1192.1L1334.8 1192.2L1332.6 1192.3L1330.5 1192.4L1328.4 1192.5L1326.3 1192.6L1324.2 1192.7L1322.0 1192.8L1319.9 1192.9L1317.8 1193.0L1315.7 1193.2L1313.5 1193.3L1311.4 1193.4Z" stroke="#3fb649" stroke-width="4.4" fill="none" stroke-linejoin="round"/>
<path d="M1311.4 1225.2L1311.4 1162.0L1313.2 1160.2L1314.9 1158.4L1316.7 1156.7L1318.5 1155.0L1320.3 1153.3L1322.2 1151.7L1324.2 1150.2L1326.2 1148.8L1328.3 1147.4L1330.4 1146.2L1332.6 1145.0L1334.8 1143.9L1337.1 1142.9L1339.4 1141.9L1341.7 1141.1L1344.1 1140.3L1346.5 1139.6L1348.9 1138.9L1351.3 1138.3L1353.8 1137.7L1356.2 1137.2L1358.7 1136.7L1361.2 1136.3L1363.7 1135.9L1366.2 1135.5L1368.7 1135.1L1371.2 1134.8L1373.7 1134.5L1376.2 1134.3L1378.7 1134.0L1381.2 1133.8L1383.7 1133.6L1386.3 1133.4L1388.8 1133.2L1391.3 1133.0L1393.8 1132.8L1396.4 1132.7L1398.9 1132.5L1401.4 1132.4L1403.9 1132.3L1406.4 1132.1L1409.0 1132.0L1411.5 1131.9L1414.0 1131.8L1416.6 1131.7L1419.1 1131.6L1421.6 1131.5L1424.1 1131.4L1426.7 1131.3L1429.2 1131.3L1431.7 1131.2L1434.2 1131.2L1436.8 1131.1L1439.3 1131.1L1441.8 1131.0L1444.3 1131.0L1446.9 1131.0L1449.4 1130.9L1451.9 1130.9L1454.5 1130.9L1457.0 1130.9L1459.5 1131.0L1462.0 1131.0L1464.6 1131.0L1467.1 1131.0L1469.6 1131.1L1472.2 1131.1L1474.7 1131.2L1477.2 1131.2L1479.7 1131.3L1482.3 1131.3L1484.8 1131.4L1487.3 1131.5L1489.8 1131.6L1492.4 1131.7L1494.9 1131.7L1497.4 1131.8L1499.9 1131.9L1502.5 1132.0L1505.0 1132.1L1507.5 1132.3L1510.1 1132.4L1512.6 1132.5L1515.1 1132.6L1517.6 1132.7L1520.2 1132.9L1522.7 1133.0L1525.2 1133.2L1527.7 1133.3L1530.2 1133.5L1532.8 1133.6L1535.3 1133.8L1537.8 1134.0L1540.3 1134.1L1542.9 1134.3L1545.4 1134.5L1547.9 1134.7L1550.4 1134.8L1552.9 1135.0L1555.5 1135.2L1558.0 1135.4L1560.5 1135.6L1563.0 1135.7L1565.6 1135.9L1568.1 1136.1L1570.6 1136.3L1573.1 1136.4L1575.6 1136.6L1578.2 1136.8L1580.7 1137.0L1583.2 1137.2L1585.7 1137.3L1588.3 1137.5L1590.8 1137.7L1593.3 1137.8L1595.8 1138.0L1598.3 1138.2L1600.9 1138.3L1603.4 1138.5L1605.9 1138.7L1608.4 1138.8L1611.0 1139.0L1613.5 1139.1L1616.0 1139.3L1618.5 1139.4L1621.1 1139.6L1623.6 1139.7L1626.1 1139.9L1628.6 1140.0L1631.2 1140.1L1633.7 1140.3L1636.2 1140.4L1638.7 1140.5L1641.2 1140.7L1643.8 1140.8L1646.3 1140.9L1648.8 1141.0L1651.4 1141.1L1653.9 1141.3L1656.4 1141.4L1658.9 1141.5L1661.5 1141.6L1664.0 1141.7L1666.5 1141.8L1669.0 1141.9L1671.6 1142.0L1674.1 1142.0L1676.6 1142.1L1679.1 1142.2L1681.7 1142.3L1684.2 1142.4L1686.7 1142.4L1689.2 1142.5L1691.8 1142.6L1694.3 1142.6L1696.8 1142.7L1699.4 1142.8L1701.9 1142.8L1704.4 1142.9L1706.9 1142.9L1709.5 1143.0L1712.0 1143.0L1714.5 1143.1L1717.0 1143.1L1719.6 1143.2L1722.1 1143.2L1724.6 1143.3L1727.2 1143.3L1729.7 1143.3L1732.2 1143.4L1734.7 1143.4L1737.3 1143.4L1739.8 1143.5L1742.3 1143.5L1744.9 1143.5L1747.4 1143.5L1749.9 1143.5L1752.4 1143.6L1755.0 1143.6L1757.5 1143.6L1760.0 1143.6L1762.6 1143.6L1765.1 1143.6L1767.6 1143.6L1770.1 1143.6L1772.7 1143.6L1775.2 1143.6L1777.7 1143.6L1780.3 1143.6L1782.8 1143.6L1785.3 1143.6L1787.8 1143.5L1790.4 1143.5L1792.9 1143.5L1795.4 1143.5L1797.9 1143.5L1800.5 1143.4L1803.0 1143.4L1805.5 1143.4L1808.1 1143.3L1810.6 1143.3L1813.1 1143.3L1815.6 1143.2L1818.2 1143.2L1820.7 1143.1L1823.2 1143.0L1825.8 1143.0L1828.3 1142.9L1830.8 1142.9L1833.3 1142.8L1835.9 1142.7L1838.4 1142.6L1840.9 1142.5L1843.4 1142.5L1846.0 1142.4L1848.5 1142.3L1851.0 1142.2L1853.5 1142.1L1856.1 1142.0L1858.6 1141.9L1858.6 1141.9L1858.3 1143.9L1857.9 1145.7L1857.4 1147.6L1856.7 1149.3L1855.7 1150.9L1854.5 1152.4L1853.1 1153.8L1851.6 1155.0L1849.8 1156.1L1848.0 1157.2L1846.1 1158.1L1844.2 1158.9L1842.2 1159.7L1840.1 1160.4L1838.1 1161.0L1836.0 1161.6L1833.9 1162.1L1831.8 1162.6L1829.7 1163.1L1827.6 1163.5L1825.4 1163.9L1823.3 1164.3L1821.2 1164.7L1819.0 1165.0L1816.9 1165.3L1814.7 1165.7L1812.6 1166.0L1810.5 1166.3L1808.3 1166.5L1806.2 1166.8L1804.0 1167.1L1801.9 1167.3L1799.7 1167.6L1797.5 1167.8L1795.4 1168.1L1793.2 1168.3L1791.1 1168.5L1788.9 1168.7L1786.8 1168.9L1784.6 1169.1L1782.5 1169.3L1780.3 1169.5L1778.1 1169.7L1776.0 1169.9L1773.8 1170.1L1771.7 1170.3L1769.5 1170.5L1767.4 1170.7L1765.2 1170.9L1763.0 1171.1L1760.9 1171.2L1758.7 1171.4L1756.6 1171.6L1754.4 1171.8L1752.2 1172.0L1750.1 1172.2L1747.9 1172.4L1745.8 1172.6L1743.6 1172.8L1741.5 1173.0L1739.3 1173.1L1737.1 1173.3L1735.0 1173.5L1732.8 1173.7L1730.7 1173.9L1728.5 1174.1L1726.3 1174.3L1724.2 1174.5L1722.0 1174.7L1719.9 1174.9L1717.7 1175.1L1715.6 1175.3L1713.4 1175.5L1711.2 1175.7L1709.1 1175.9L1706.9 1176.1L1704.8 1176.3L1702.6 1176.5L1700.5 1176.8L1698.3 1177.0L1696.2 1177.2L1694.0 1177.4L1691.8 1177.6L1689.7 1177.8L1687.5 1178.0L1685.4 1178.3L1683.2 1178.5L1681.1 1178.7L1678.9 1178.9L1676.8 1179.1L1674.6 1179.4L1672.4 1179.6L1670.3 1179.8L1668.1 1180.0L1666.0 1180.3L1663.8 1180.5L1661.7 1180.7L1659.5 1181.0L1657.4 1181.2L1655.2 1181.4L1653.1 1181.7L1650.9 1181.9L1648.7 1182.1L1646.6 1182.4L1644.4 1182.6L1642.3 1182.8L1640.1 1183.1L1638.0 1183.3L1635.8 1183.5L1633.7 1183.8L1631.5 1184.0L1629.4 1184.3L1627.2 1184.5L1625.1 1184.8L1622.9 1185.1L1620.8 1185.3L1618.6 1185.6L1616.5 1185.9L1614.3 1186.1L1612.2 1186.4L1610.0 1186.7L1607.9 1187.0L1605.7 1187.3L1603.6 1187.6L1601.4 1187.9L1599.3 1188.2L1597.1 1188.5L1595.0 1188.8L1592.9 1189.1L1590.7 1189.5L1588.6 1189.8L1586.4 1190.1L1584.3 1190.4L1582.2 1190.8L1580.0 1191.1L1577.9 1191.4L1575.7 1191.8L1573.6 1192.1L1571.4 1192.4L1569.3 1192.8L1567.2 1193.1L1565.0 1193.4L1562.9 1193.7L1560.7 1194.1L1558.6 1194.4L1556.5 1194.7L1554.3 1195.0L1552.2 1195.3L1550.0 1195.7L1547.9 1196.0L1545.7 1196.3L1543.6 1196.6L1541.5 1196.9L1539.3 1197.2L1537.2 1197.6L1535.0 1197.9L1532.9 1198.2L1530.7 1198.5L1528.6 1198.8L1526.4 1199.1L1524.3 1199.4L1522.2 1199.8L1520.0 1200.1L1517.9 1200.4L1515.7 1200.7L1513.6 1201.0L1511.4 1201.3L1509.3 1201.6L1507.2 1201.9L1505.0 1202.3L1502.9 1202.6L1500.7 1202.9L1498.6 1203.2L1496.4 1203.5L1494.3 1203.8L1492.1 1204.1L1490.0 1204.4L1487.9 1204.8L1485.7 1205.1L1483.6 1205.4L1481.4 1205.7L1479.3 1206.0L1477.1 1206.3L1475.0 1206.6L1472.8 1206.9L1470.7 1207.2L1468.6 1207.5L1466.4 1207.8L1464.3 1208.2L1462.1 1208.5L1460.0 1208.8L1457.8 1209.1L1455.7 1209.4L1453.5 1209.7L1451.4 1210.0L1449.3 1210.3L1447.1 1210.6L1445.0 1210.9L1442.8 1211.2L1440.7 1211.5L1438.5 1211.8L1436.4 1212.1L1434.2 1212.4L1432.1 1212.7L1429.9 1212.9L1427.8 1213.2L1425.6 1213.5L1423.5 1213.8L1421.3 1214.1L1419.2 1214.4L1417.0 1214.6L1414.9 1214.9L1412.7 1215.2L1410.6 1215.4L1408.4 1215.7L1406.3 1215.9L1404.1 1216.2L1402.0 1216.4L1399.8 1216.6L1397.7 1216.9L1395.5 1217.1L1393.4 1217.3L1391.2 1217.5L1389.1 1217.7L1386.9 1217.9L1384.7 1218.2L1382.6 1218.4L1380.4 1218.6L1378.3 1218.8L1376.1 1219.0L1374.0 1219.2L1371.8 1219.4L1369.6 1219.6L1367.5 1219.8L1365.3 1220.0L1363.2 1220.2L1361.0 1220.3L1358.9 1220.5L1356.7 1220.7L1354.5 1220.9L1352.4 1221.1L1350.2 1221.3L1348.1 1221.5L1345.9 1221.6L1343.7 1221.8L1341.6 1222.0L1339.4 1222.2L1337.3 1222.4L1335.1 1222.5L1332.9 1222.7L1330.8 1222.9L1328.6 1223.1L1326.5 1223.4L1324.3 1223.6L1322.2 1223.8L1320.0 1224.1L1317.9 1224.4L1315.7 1224.6L1313.6 1224.9L1311.4 1225.2Z" stroke="#2b4ba2" stroke-width="4.4" fill="none" stroke-linejoin="round"/>
<path d="M1311.4 1256.0L1311.4 1160.1L1312.7 1157.9L1314.0 1155.7L1315.3 1153.5L1316.6 1151.3L1318.0 1149.1L1319.4 1147.0L1320.9 1145.0L1322.4 1143.0L1324.1 1141.1L1325.8 1139.2L1327.5 1137.4L1329.4 1135.7L1331.3 1134.1L1333.3 1132.6L1335.3 1131.1L1337.5 1129.7L1339.6 1128.4L1341.8 1127.2L1344.1 1126.1L1346.4 1125.1L1348.8 1124.1L1351.1 1123.2L1353.5 1122.3L1356.0 1121.5L1358.4 1120.8L1360.9 1120.1L1363.4 1119.5L1365.9 1118.9L1368.4 1118.3L1370.9 1117.8L1373.4 1117.4L1375.9 1116.9L1378.5 1116.5L1381.0 1116.2L1383.6 1115.8L1386.1 1115.5L1388.7 1115.2L1391.2 1114.9L1393.8 1114.7L1396.3 1114.4L1398.9 1114.2L1401.5 1114.0L1404.0 1113.8L1406.6 1113.6L1409.2 1113.4L1411.7 1113.2L1414.3 1113.1L1416.9 1112.9L1419.4 1112.8L1422.0 1112.6L1424.6 1112.5L1427.2 1112.4L1429.7 1112.2L1432.3 1112.1L1434.9 1112.1L1437.4 1112.0L1440.0 1111.9L1442.6 1111.8L1445.2 1111.8L1447.7 1111.8L1450.3 1111.7L1452.9 1111.7L1455.4 1111.7L1458.0 1111.7L1460.6 1111.8L1463.2 1111.8L1465.7 1111.9L1468.3 1111.9L1470.9 1112.0L1473.5 1112.0L1476.0 1112.1L1478.6 1112.2L1481.2 1112.3L1483.7 1112.4L1486.3 1112.5L1488.9 1112.7L1491.4 1112.8L1494.0 1112.9L1496.6 1113.1L1499.2 1113.2L1501.7 1113.4L1504.3 1113.6L1506.9 1113.7L1509.4 1113.9L1512.0 1114.1L1514.6 1114.3L1517.1 1114.5L1519.7 1114.7L1522.2 1114.9L1524.8 1115.2L1527.4 1115.4L1529.9 1115.7L1532.5 1115.9L1535.1 1116.2L1537.6 1116.4L1540.2 1116.7L1542.7 1117.0L1545.3 1117.3L1547.9 1117.5L1550.4 1117.8L1553.0 1118.1L1555.5 1118.4L1558.1 1118.7L1560.6 1118.9L1563.2 1119.2L1565.8 1119.5L1568.3 1119.8L1570.9 1120.1L1573.4 1120.3L1576.0 1120.6L1578.5 1120.9L1581.1 1121.2L1583.7 1121.5L1586.2 1121.7L1588.8 1122.0L1591.3 1122.3L1593.9 1122.5L1596.5 1122.8L1599.0 1123.1L1601.6 1123.3L1604.1 1123.6L1606.7 1123.8L1609.3 1124.1L1611.8 1124.3L1614.4 1124.6L1617.0 1124.8L1619.5 1125.0L1622.1 1125.3L1624.6 1125.5L1627.2 1125.7L1629.8 1125.9L1632.3 1126.2L1634.9 1126.4L1637.5 1126.6L1640.0 1126.8L1642.6 1127.0L1645.2 1127.2L1647.7 1127.4L1650.3 1127.5L1652.9 1127.7L1655.4 1127.9L1658.0 1128.1L1660.6 1128.2L1663.1 1128.4L1665.7 1128.5L1668.3 1128.7L1670.8 1128.8L1673.4 1129.0L1676.0 1129.1L1678.5 1129.2L1681.1 1129.4L1683.7 1129.5L1686.3 1129.6L1688.8 1129.7L1691.4 1129.8L1694.0 1129.9L1696.5 1130.0L1699.1 1130.1L1701.7 1130.2L1704.3 1130.3L1706.8 1130.4L1709.4 1130.5L1712.0 1130.6L1714.5 1130.6L1717.1 1130.7L1719.7 1130.8L1722.3 1130.9L1724.8 1130.9L1727.4 1131.0L1730.0 1131.0L1732.6 1131.1L1735.1 1131.1L1737.7 1131.2L1740.3 1131.2L1742.9 1131.3L1745.4 1131.3L1748.0 1131.3L1750.6 1131.3L1753.1 1131.4L1755.7 1131.4L1758.3 1131.4L1760.9 1131.4L1763.4 1131.4L1766.0 1131.4L1768.6 1131.4L1771.2 1131.4L1773.7 1131.4L1776.3 1131.4L1778.9 1131.4L1781.5 1131.4L1784.0 1131.4L1786.6 1131.4L1789.2 1131.3L1791.7 1131.3L1794.3 1131.3L1796.9 1131.2L1799.5 1131.2L1802.0 1131.1L1804.6 1131.1L1807.2 1131.0L1809.8 1131.0L1812.3 1130.9L1814.9 1130.8L1817.5 1130.8L1820.0 1130.7L1822.6 1130.6L1825.2 1130.5L1827.8 1130.4L1830.3 1130.3L1832.9 1130.2L1835.5 1130.1L1838.0 1129.9L1840.6 1129.8L1843.2 1129.7L1845.8 1129.5L1848.3 1129.4L1850.9 1129.3L1853.5 1129.1L1856.0 1129.0L1858.6 1128.8L1858.6 1128.8L1858.7 1131.0L1858.7 1133.2L1858.6 1135.3L1858.4 1137.4L1858.0 1139.4L1857.4 1141.4L1856.6 1143.3L1855.6 1145.2L1854.5 1146.9L1853.1 1148.5L1851.6 1150.1L1850.1 1151.5L1848.4 1152.8L1846.6 1154.1L1844.7 1155.3L1842.8 1156.4L1840.9 1157.4L1838.9 1158.4L1836.9 1159.2L1834.8 1160.1L1832.8 1160.8L1830.7 1161.5L1828.6 1162.2L1826.4 1162.8L1824.3 1163.4L1822.2 1164.0L1820.0 1164.5L1817.9 1165.0L1815.7 1165.5L1813.5 1166.0L1811.4 1166.5L1809.2 1166.9L1807.0 1167.3L1804.8 1167.7L1802.6 1168.1L1800.5 1168.5L1798.3 1168.9L1796.1 1169.3L1793.9 1169.6L1791.7 1170.0L1789.5 1170.3L1787.3 1170.6L1785.1 1171.0L1782.9 1171.3L1780.7 1171.6L1778.5 1171.9L1776.3 1172.2L1774.1 1172.5L1771.9 1172.8L1769.7 1173.1L1767.5 1173.3L1765.3 1173.6L1763.1 1173.9L1760.9 1174.2L1758.7 1174.5L1756.5 1174.8L1754.3 1175.1L1752.1 1175.4L1749.9 1175.7L1747.7 1176.0L1745.5 1176.3L1743.3 1176.6L1741.1 1176.8L1738.9 1177.1L1736.7 1177.4L1734.5 1177.7L1732.3 1178.0L1730.1 1178.3L1727.9 1178.6L1725.7 1178.9L1723.5 1179.2L1721.3 1179.6L1719.1 1179.9L1716.9 1180.2L1714.7 1180.5L1712.5 1180.8L1710.3 1181.1L1708.2 1181.4L1706.0 1181.8L1703.8 1182.1L1701.6 1182.4L1699.4 1182.7L1697.2 1183.1L1695.0 1183.4L1692.8 1183.7L1690.6 1184.0L1688.4 1184.4L1686.2 1184.7L1684.0 1185.1L1681.8 1185.4L1679.6 1185.7L1677.4 1186.1L1675.2 1186.4L1673.0 1186.8L1670.9 1187.1L1668.7 1187.5L1666.5 1187.8L1664.3 1188.2L1662.1 1188.5L1659.9 1188.9L1657.7 1189.2L1655.5 1189.6L1653.3 1189.9L1651.1 1190.3L1648.9 1190.7L1646.8 1191.0L1644.6 1191.4L1642.4 1191.8L1640.2 1192.1L1638.0 1192.5L1635.8 1192.9L1633.6 1193.2L1631.4 1193.6L1629.3 1194.0L1627.1 1194.4L1624.9 1194.8L1622.7 1195.2L1620.5 1195.6L1618.3 1196.0L1616.2 1196.4L1614.0 1196.8L1611.8 1197.3L1609.6 1197.7L1607.5 1198.2L1605.3 1198.6L1603.1 1199.1L1600.9 1199.5L1598.8 1200.0L1596.6 1200.5L1594.4 1201.0L1592.3 1201.5L1590.1 1202.0L1588.0 1202.5L1585.8 1203.0L1583.6 1203.5L1581.5 1204.0L1579.3 1204.5L1577.2 1205.0L1575.0 1205.5L1572.8 1206.0L1570.7 1206.5L1568.5 1207.0L1566.3 1207.5L1564.2 1208.0L1562.0 1208.5L1559.9 1209.0L1557.7 1209.5L1555.5 1210.0L1553.4 1210.5L1551.2 1211.0L1549.0 1211.5L1546.9 1211.9L1544.7 1212.4L1542.5 1212.9L1540.4 1213.4L1538.2 1213.9L1536.0 1214.4L1533.9 1214.8L1531.7 1215.3L1529.5 1215.8L1527.4 1216.3L1525.2 1216.8L1523.0 1217.2L1520.9 1217.7L1518.7 1218.2L1516.5 1218.7L1514.4 1219.2L1512.2 1219.6L1510.0 1220.1L1507.9 1220.6L1505.7 1221.1L1503.5 1221.5L1501.4 1222.0L1499.2 1222.5L1497.0 1223.0L1494.9 1223.5L1492.7 1223.9L1490.5 1224.4L1488.4 1224.9L1486.2 1225.4L1484.0 1225.9L1481.9 1226.3L1479.7 1226.8L1477.5 1227.3L1475.4 1227.8L1473.2 1228.2L1471.0 1228.7L1468.9 1229.2L1466.7 1229.6L1464.5 1230.1L1462.3 1230.6L1460.2 1231.0L1458.0 1231.5L1455.8 1232.0L1453.7 1232.4L1451.5 1232.9L1449.3 1233.4L1447.2 1233.8L1445.0 1234.3L1442.8 1234.7L1440.6 1235.2L1438.5 1235.7L1436.3 1236.1L1434.1 1236.6L1432.0 1237.0L1429.8 1237.5L1427.6 1237.9L1425.4 1238.4L1423.3 1238.8L1421.1 1239.2L1418.9 1239.6L1416.7 1240.1L1414.5 1240.5L1412.4 1240.9L1410.2 1241.3L1408.0 1241.6L1405.8 1242.0L1403.6 1242.4L1401.4 1242.8L1399.2 1243.1L1397.0 1243.5L1394.8 1243.8L1392.7 1244.2L1390.5 1244.5L1388.3 1244.8L1386.1 1245.1L1383.9 1245.5L1381.7 1245.8L1379.5 1246.1L1377.3 1246.4L1375.1 1246.7L1372.9 1247.0L1370.7 1247.3L1368.5 1247.6L1366.3 1247.9L1364.1 1248.2L1361.9 1248.5L1359.7 1248.8L1357.5 1249.1L1355.3 1249.4L1353.1 1249.7L1350.9 1250.0L1348.7 1250.3L1346.5 1250.5L1344.3 1250.8L1342.1 1251.1L1339.9 1251.4L1337.7 1251.6L1335.5 1251.9L1333.3 1252.2L1331.1 1252.5L1328.9 1252.9L1326.7 1253.2L1324.5 1253.6L1322.3 1253.9L1320.1 1254.3L1318.0 1254.7L1315.8 1255.1L1313.6 1255.6L1311.4 1256.0Z" stroke="#22bfd2" stroke-width="4.4" fill="none" stroke-linejoin="round"/>
<path d="M1311.4 1273.8L1311.4 1158.8L1312.5 1156.4L1313.5 1154.0L1314.6 1151.7L1315.7 1149.3L1316.8 1147.0L1318.0 1144.7L1319.2 1142.4L1320.5 1140.2L1321.8 1138.0L1323.3 1135.8L1324.8 1133.8L1326.3 1131.7L1328.0 1129.8L1329.7 1127.9L1331.5 1126.0L1333.3 1124.3L1335.3 1122.6L1337.3 1121.1L1339.3 1119.5L1341.5 1118.1L1343.6 1116.8L1345.9 1115.5L1348.2 1114.3L1350.5 1113.2L1352.8 1112.2L1355.2 1111.2L1357.6 1110.3L1360.1 1109.4L1362.6 1108.6L1365.0 1107.9L1367.5 1107.2L1370.1 1106.6L1372.6 1106.0L1375.1 1105.4L1377.7 1104.9L1380.2 1104.4L1382.8 1104.0L1385.4 1103.6L1388.0 1103.2L1390.5 1102.9L1393.1 1102.5L1395.7 1102.2L1398.3 1101.9L1400.9 1101.6L1403.5 1101.4L1406.1 1101.1L1408.7 1100.9L1411.3 1100.7L1413.9 1100.5L1416.5 1100.3L1419.1 1100.1L1421.7 1099.9L1424.3 1099.7L1426.9 1099.6L1429.5 1099.4L1432.1 1099.3L1434.7 1099.2L1437.3 1099.1L1439.9 1099.0L1442.5 1098.9L1445.1 1098.9L1447.7 1098.8L1450.3 1098.8L1453.0 1098.8L1455.6 1098.8L1458.2 1098.8L1460.8 1098.8L1463.4 1098.9L1466.0 1098.9L1468.6 1099.0L1471.2 1099.1L1473.8 1099.2L1476.4 1099.3L1479.0 1099.4L1481.6 1099.5L1484.2 1099.7L1486.8 1099.8L1489.4 1100.0L1492.0 1100.1L1494.7 1100.3L1497.3 1100.5L1499.9 1100.7L1502.5 1100.9L1505.1 1101.1L1507.7 1101.3L1510.3 1101.6L1512.8 1101.8L1515.4 1102.1L1518.0 1102.3L1520.6 1102.6L1523.2 1102.9L1525.8 1103.2L1528.4 1103.5L1531.0 1103.8L1533.6 1104.1L1536.2 1104.4L1538.8 1104.8L1541.4 1105.1L1543.9 1105.4L1546.5 1105.8L1549.1 1106.1L1551.7 1106.5L1554.3 1106.8L1556.9 1107.2L1559.4 1107.5L1562.0 1107.9L1564.6 1108.3L1567.2 1108.6L1569.8 1109.0L1572.4 1109.3L1575.0 1109.7L1577.5 1110.0L1580.1 1110.4L1582.7 1110.7L1585.3 1111.1L1587.9 1111.4L1590.5 1111.7L1593.1 1112.1L1595.6 1112.4L1598.2 1112.7L1600.8 1113.1L1603.4 1113.4L1606.0 1113.7L1608.6 1114.0L1611.2 1114.3L1613.8 1114.6L1616.4 1114.9L1619.0 1115.2L1621.6 1115.5L1624.1 1115.8L1626.7 1116.1L1629.3 1116.4L1631.9 1116.6L1634.5 1116.9L1637.1 1117.1L1639.7 1117.4L1642.3 1117.7L1644.9 1117.9L1647.5 1118.1L1650.1 1118.4L1652.7 1118.6L1655.3 1118.8L1657.9 1119.0L1660.5 1119.2L1663.1 1119.4L1665.7 1119.6L1668.3 1119.8L1670.9 1120.0L1673.5 1120.2L1676.1 1120.3L1678.7 1120.5L1681.3 1120.7L1683.9 1120.8L1686.5 1121.0L1689.1 1121.1L1691.7 1121.2L1694.4 1121.4L1697.0 1121.5L1699.6 1121.6L1702.2 1121.7L1704.8 1121.9L1707.4 1122.0L1710.0 1122.1L1712.6 1122.2L1715.2 1122.3L1717.8 1122.4L1720.4 1122.4L1723.0 1122.5L1725.6 1122.6L1728.2 1122.7L1730.9 1122.7L1733.5 1122.8L1736.1 1122.9L1738.7 1122.9L1741.3 1123.0L1743.9 1123.0L1746.5 1123.1L1749.1 1123.1L1751.7 1123.1L1754.3 1123.2L1756.9 1123.2L1759.5 1123.2L1762.2 1123.2L1764.8 1123.2L1767.4 1123.2L1770.0 1123.2L1772.6 1123.2L1775.2 1123.2L1777.8 1123.2L1780.4 1123.2L1783.0 1123.2L1785.6 1123.1L1788.2 1123.1L1790.9 1123.1L1793.5 1123.0L1796.1 1123.0L1798.7 1122.9L1801.3 1122.9L1803.9 1122.8L1806.5 1122.7L1809.1 1122.7L1811.7 1122.6L1814.3 1122.5L1816.9 1122.4L1819.5 1122.3L1822.1 1122.2L1824.7 1122.1L1827.4 1121.9L1830.0 1121.8L1832.6 1121.7L1835.2 1121.5L1837.8 1121.4L1840.4 1121.2L1843.0 1121.1L1845.6 1120.9L1848.2 1120.7L1850.8 1120.5L1853.4 1120.4L1856.0 1120.2L1858.6 1120.0L1858.6 1120.0L1858.7 1122.2L1858.9 1124.5L1858.9 1126.7L1858.9 1128.9L1858.8 1131.1L1858.5 1133.3L1858.1 1135.4L1857.5 1137.5L1856.7 1139.5L1855.8 1141.4L1854.7 1143.3L1853.4 1145.1L1852.1 1146.8L1850.6 1148.4L1849.0 1149.9L1847.3 1151.4L1845.5 1152.7L1843.7 1154.0L1841.8 1155.3L1839.9 1156.4L1838.0 1157.5L1835.9 1158.5L1833.9 1159.4L1831.8 1160.3L1829.7 1161.1L1827.6 1161.9L1825.5 1162.6L1823.3 1163.3L1821.2 1164.0L1819.0 1164.6L1816.8 1165.2L1814.7 1165.8L1812.5 1166.4L1810.3 1166.9L1808.1 1167.4L1805.9 1167.9L1803.7 1168.4L1801.5 1168.9L1799.3 1169.3L1797.0 1169.8L1794.8 1170.2L1792.6 1170.7L1790.4 1171.1L1788.2 1171.5L1785.9 1171.9L1783.7 1172.3L1781.5 1172.6L1779.3 1173.0L1777.0 1173.4L1774.8 1173.7L1772.6 1174.1L1770.3 1174.4L1768.1 1174.8L1765.9 1175.1L1763.6 1175.5L1761.4 1175.8L1759.2 1176.2L1756.9 1176.6L1754.7 1176.9L1752.5 1177.3L1750.3 1177.6L1748.0 1178.0L1745.8 1178.3L1743.6 1178.7L1741.3 1179.0L1739.1 1179.4L1736.9 1179.8L1734.6 1180.1L1732.4 1180.5L1730.2 1180.9L1727.9 1181.2L1725.7 1181.6L1723.5 1182.0L1721.3 1182.3L1719.0 1182.7L1716.8 1183.1L1714.6 1183.5L1712.4 1183.8L1710.1 1184.2L1707.9 1184.6L1705.7 1185.0L1703.4 1185.4L1701.2 1185.8L1699.0 1186.2L1696.8 1186.6L1694.5 1187.0L1692.3 1187.4L1690.1 1187.8L1687.9 1188.2L1685.7 1188.6L1683.4 1189.0L1681.2 1189.4L1679.0 1189.8L1676.8 1190.2L1674.6 1190.7L1672.3 1191.1L1670.1 1191.5L1667.9 1191.9L1665.7 1192.4L1663.5 1192.8L1661.2 1193.2L1659.0 1193.6L1656.8 1194.1L1654.6 1194.5L1652.4 1194.9L1650.1 1195.4L1647.9 1195.8L1645.7 1196.3L1643.5 1196.7L1641.3 1197.1L1639.1 1197.6L1636.9 1198.0L1634.6 1198.5L1632.4 1198.9L1630.2 1199.4L1628.0 1199.9L1625.8 1200.4L1623.6 1200.8L1621.4 1201.3L1619.2 1201.8L1617.0 1202.3L1614.8 1202.8L1612.6 1203.3L1610.4 1203.9L1608.2 1204.4L1606.0 1205.0L1603.8 1205.5L1601.6 1206.1L1599.4 1206.6L1597.2 1207.2L1595.1 1207.8L1592.9 1208.4L1590.7 1209.0L1588.5 1209.6L1586.3 1210.2L1584.2 1210.8L1582.0 1211.4L1579.8 1212.0L1577.6 1212.6L1575.5 1213.2L1573.3 1213.9L1571.1 1214.5L1568.9 1215.1L1566.8 1215.7L1564.6 1216.3L1562.4 1216.9L1560.2 1217.5L1558.0 1218.1L1555.9 1218.7L1553.7 1219.2L1551.5 1219.8L1549.3 1220.4L1547.1 1221.0L1545.0 1221.6L1542.8 1222.2L1540.6 1222.8L1538.4 1223.3L1536.2 1223.9L1534.0 1224.5L1531.9 1225.1L1529.7 1225.7L1527.5 1226.2L1525.3 1226.8L1523.1 1227.4L1520.9 1228.0L1518.8 1228.6L1516.6 1229.1L1514.4 1229.7L1512.2 1230.3L1510.0 1230.9L1507.8 1231.4L1505.6 1232.0L1503.5 1232.6L1501.3 1233.2L1499.1 1233.8L1496.9 1234.3L1494.7 1234.9L1492.5 1235.5L1490.4 1236.1L1488.2 1236.6L1486.0 1237.2L1483.8 1237.8L1481.6 1238.4L1479.4 1238.9L1477.2 1239.5L1475.1 1240.1L1472.9 1240.7L1470.7 1241.2L1468.5 1241.8L1466.3 1242.4L1464.1 1242.9L1461.9 1243.5L1459.7 1244.1L1457.6 1244.6L1455.4 1245.2L1453.2 1245.7L1451.0 1246.3L1448.8 1246.9L1446.6 1247.4L1444.4 1248.0L1442.2 1248.5L1440.0 1249.1L1437.8 1249.6L1435.7 1250.2L1433.5 1250.7L1431.3 1251.3L1429.1 1251.8L1426.9 1252.3L1424.7 1252.9L1422.5 1253.4L1420.3 1253.9L1418.1 1254.4L1415.9 1254.9L1413.7 1255.4L1411.5 1255.9L1409.3 1256.4L1407.0 1256.8L1404.8 1257.3L1402.6 1257.7L1400.4 1258.2L1398.2 1258.6L1396.0 1259.0L1393.7 1259.4L1391.5 1259.8L1389.3 1260.2L1387.1 1260.6L1384.8 1261.0L1382.6 1261.4L1380.4 1261.8L1378.2 1262.2L1375.9 1262.5L1373.7 1262.9L1371.5 1263.3L1369.3 1263.7L1367.0 1264.0L1364.8 1264.4L1362.6 1264.8L1360.3 1265.1L1358.1 1265.5L1355.9 1265.8L1353.6 1266.2L1351.4 1266.5L1349.2 1266.9L1346.9 1267.2L1344.7 1267.5L1342.5 1267.9L1340.2 1268.2L1338.0 1268.6L1335.8 1268.9L1333.5 1269.3L1331.3 1269.6L1329.1 1270.0L1326.9 1270.4L1324.7 1270.9L1322.4 1271.3L1320.2 1271.8L1318.0 1272.3L1315.8 1272.8L1313.6 1273.3L1311.4 1273.8Z" stroke="#d04fa4" stroke-width="4.4" fill="none" stroke-linejoin="round"/>
<path d="M1311.4 1293.1L1311.4 1157.6L1312.3 1155.1L1313.2 1152.6L1314.1 1150.2L1315.0 1147.7L1316.0 1145.2L1317.0 1142.8L1318.0 1140.4L1319.1 1138.0L1320.3 1135.6L1321.5 1133.3L1322.7 1131.0L1324.1 1128.8L1325.5 1126.6L1326.9 1124.4L1328.5 1122.3L1330.1 1120.3L1331.8 1118.3L1333.5 1116.4L1335.4 1114.6L1337.3 1112.8L1339.3 1111.2L1341.3 1109.6L1343.4 1108.1L1345.6 1106.6L1347.8 1105.3L1350.1 1104.0L1352.4 1102.8L1354.7 1101.6L1357.1 1100.5L1359.5 1099.5L1362.0 1098.6L1364.5 1097.7L1367.0 1096.9L1369.5 1096.1L1372.0 1095.4L1374.5 1094.8L1377.1 1094.1L1379.7 1093.6L1382.3 1093.0L1384.8 1092.5L1387.4 1092.1L1390.1 1091.7L1392.7 1091.3L1395.3 1090.9L1397.9 1090.5L1400.5 1090.2L1403.1 1089.9L1405.8 1089.6L1408.4 1089.3L1411.0 1089.1L1413.7 1088.8L1416.3 1088.5L1418.9 1088.3L1421.6 1088.1L1424.2 1087.9L1426.8 1087.7L1429.5 1087.5L1432.1 1087.4L1434.7 1087.3L1437.4 1087.1L1440.0 1087.0L1442.7 1086.9L1445.3 1086.9L1448.0 1086.8L1450.6 1086.8L1453.2 1086.8L1455.9 1086.8L1458.5 1086.8L1461.2 1086.8L1463.8 1086.9L1466.5 1087.0L1469.1 1087.1L1471.7 1087.2L1474.4 1087.3L1477.0 1087.4L1479.7 1087.6L1482.3 1087.7L1484.9 1087.9L1487.6 1088.1L1490.2 1088.2L1492.8 1088.5L1495.5 1088.7L1498.1 1088.9L1500.7 1089.1L1503.4 1089.4L1506.0 1089.6L1508.6 1089.9L1511.3 1090.2L1513.9 1090.5L1516.5 1090.8L1519.2 1091.1L1521.8 1091.4L1524.4 1091.8L1527.0 1092.1L1529.6 1092.5L1532.3 1092.9L1534.9 1093.2L1537.5 1093.6L1540.1 1094.0L1542.7 1094.4L1545.3 1094.9L1547.9 1095.3L1550.5 1095.7L1553.2 1096.1L1555.8 1096.5L1558.4 1097.0L1561.0 1097.4L1563.6 1097.8L1566.2 1098.2L1568.8 1098.6L1571.4 1099.1L1574.0 1099.5L1576.7 1099.9L1579.3 1100.3L1581.9 1100.7L1584.5 1101.1L1587.1 1101.5L1589.7 1101.9L1592.3 1102.4L1594.9 1102.8L1597.6 1103.2L1600.2 1103.5L1602.8 1103.9L1605.4 1104.3L1608.0 1104.7L1610.6 1105.1L1613.3 1105.4L1615.9 1105.8L1618.5 1106.1L1621.1 1106.5L1623.7 1106.8L1626.4 1107.1L1629.0 1107.5L1631.6 1107.8L1634.2 1108.1L1636.9 1108.4L1639.5 1108.7L1642.1 1109.0L1644.7 1109.3L1647.4 1109.6L1650.0 1109.9L1652.6 1110.2L1655.3 1110.4L1657.9 1110.7L1660.5 1110.9L1663.2 1111.2L1665.8 1111.4L1668.4 1111.6L1671.1 1111.8L1673.7 1112.0L1676.3 1112.2L1679.0 1112.4L1681.6 1112.6L1684.3 1112.8L1686.9 1113.0L1689.5 1113.1L1692.2 1113.3L1694.8 1113.5L1697.4 1113.6L1700.1 1113.8L1702.7 1113.9L1705.4 1114.0L1708.0 1114.2L1710.7 1114.3L1713.3 1114.4L1715.9 1114.5L1718.6 1114.6L1721.2 1114.7L1723.9 1114.8L1726.5 1114.9L1729.1 1115.0L1731.8 1115.1L1734.4 1115.2L1737.1 1115.2L1739.7 1115.3L1742.4 1115.3L1745.0 1115.4L1747.7 1115.4L1750.3 1115.5L1752.9 1115.5L1755.6 1115.5L1758.2 1115.6L1760.9 1115.6L1763.5 1115.6L1766.2 1115.6L1768.8 1115.6L1771.5 1115.6L1774.1 1115.6L1776.7 1115.6L1779.4 1115.6L1782.0 1115.6L1784.7 1115.5L1787.3 1115.5L1790.0 1115.5L1792.6 1115.4L1795.2 1115.4L1797.9 1115.3L1800.5 1115.2L1803.2 1115.2L1805.8 1115.1L1808.5 1115.0L1811.1 1114.9L1813.8 1114.8L1816.4 1114.7L1819.0 1114.6L1821.7 1114.4L1824.3 1114.3L1827.0 1114.1L1829.6 1114.0L1832.2 1113.8L1834.9 1113.6L1837.5 1113.5L1840.1 1113.3L1842.8 1113.1L1845.4 1112.9L1848.1 1112.7L1850.7 1112.5L1853.3 1112.2L1856.0 1112.0L1858.6 1111.8L1858.6 1111.8L1858.8 1114.1L1858.9 1116.4L1859.0 1118.7L1859.1 1121.0L1859.0 1123.2L1858.9 1125.5L1858.7 1127.7L1858.3 1130.0L1857.8 1132.1L1857.2 1134.2L1856.4 1136.3L1855.4 1138.3L1854.4 1140.3L1853.1 1142.2L1851.8 1144.0L1850.4 1145.7L1848.8 1147.4L1847.2 1149.0L1845.6 1150.5L1843.8 1152.0L1842.0 1153.4L1840.1 1154.7L1838.2 1155.9L1836.3 1157.1L1834.3 1158.2L1832.2 1159.2L1830.1 1160.2L1828.0 1161.1L1825.9 1161.9L1823.8 1162.8L1821.6 1163.5L1819.4 1164.3L1817.3 1165.0L1815.1 1165.7L1812.9 1166.4L1810.7 1167.0L1808.5 1167.7L1806.2 1168.3L1804.0 1168.8L1801.8 1169.4L1799.5 1170.0L1797.3 1170.5L1795.1 1171.0L1792.8 1171.5L1790.6 1172.0L1788.3 1172.5L1786.1 1173.0L1783.8 1173.4L1781.6 1173.9L1779.3 1174.3L1777.0 1174.8L1774.8 1175.2L1772.5 1175.6L1770.3 1176.0L1768.0 1176.5L1765.7 1176.9L1763.5 1177.3L1761.2 1177.7L1758.9 1178.1L1756.7 1178.6L1754.4 1179.0L1752.2 1179.4L1749.9 1179.8L1747.6 1180.3L1745.4 1180.7L1743.1 1181.1L1740.8 1181.5L1738.6 1182.0L1736.3 1182.4L1734.1 1182.8L1731.8 1183.3L1729.5 1183.7L1727.3 1184.1L1725.0 1184.6L1722.8 1185.0L1720.5 1185.5L1718.3 1185.9L1716.0 1186.4L1713.7 1186.8L1711.5 1187.3L1709.2 1187.7L1707.0 1188.2L1704.7 1188.7L1702.5 1189.1L1700.2 1189.6L1698.0 1190.1L1695.7 1190.6L1693.5 1191.0L1691.2 1191.5L1689.0 1192.0L1686.7 1192.5L1684.5 1193.0L1682.2 1193.5L1680.0 1193.9L1677.7 1194.4L1675.5 1194.9L1673.2 1195.4L1671.0 1195.9L1668.7 1196.4L1666.5 1196.9L1664.2 1197.5L1662.0 1198.0L1659.8 1198.5L1657.5 1199.0L1655.3 1199.5L1653.0 1200.0L1650.8 1200.5L1648.5 1201.1L1646.3 1201.6L1644.1 1202.1L1641.8 1202.6L1639.6 1203.2L1637.3 1203.7L1635.1 1204.2L1632.9 1204.8L1630.6 1205.3L1628.4 1205.9L1626.2 1206.5L1623.9 1207.0L1621.7 1207.6L1619.5 1208.2L1617.3 1208.8L1615.0 1209.4L1612.8 1210.0L1610.6 1210.6L1608.4 1211.3L1606.2 1211.9L1604.0 1212.6L1601.8 1213.2L1599.6 1213.9L1597.4 1214.6L1595.2 1215.3L1593.0 1216.0L1590.8 1216.7L1588.6 1217.4L1586.4 1218.1L1584.2 1218.8L1582.1 1219.5L1579.9 1220.3L1577.7 1221.0L1575.5 1221.7L1573.3 1222.4L1571.1 1223.2L1568.9 1223.9L1566.8 1224.6L1564.6 1225.3L1562.4 1226.0L1560.2 1226.7L1558.0 1227.4L1555.8 1228.1L1553.6 1228.8L1551.4 1229.5L1549.2 1230.2L1547.0 1230.9L1544.8 1231.6L1542.6 1232.3L1540.4 1233.0L1538.2 1233.7L1536.0 1234.4L1533.9 1235.0L1531.7 1235.7L1529.5 1236.4L1527.3 1237.1L1525.1 1237.8L1522.9 1238.5L1520.7 1239.2L1518.5 1239.9L1516.3 1240.5L1514.1 1241.2L1511.9 1241.9L1509.7 1242.6L1507.5 1243.3L1505.3 1244.0L1503.1 1244.6L1500.9 1245.3L1498.7 1246.0L1496.5 1246.7L1494.3 1247.4L1492.1 1248.1L1489.9 1248.7L1487.7 1249.4L1485.5 1250.1L1483.3 1250.8L1481.1 1251.5L1478.9 1252.2L1476.7 1252.8L1474.5 1253.5L1472.3 1254.2L1470.1 1254.9L1467.9 1255.5L1465.7 1256.2L1463.5 1256.9L1461.3 1257.5L1459.1 1258.2L1456.9 1258.9L1454.7 1259.5L1452.5 1260.2L1450.3 1260.9L1448.1 1261.5L1445.9 1262.2L1443.7 1262.8L1441.5 1263.5L1439.3 1264.2L1437.1 1264.8L1434.9 1265.5L1432.6 1266.1L1430.4 1266.8L1428.2 1267.4L1426.0 1268.0L1423.8 1268.6L1421.6 1269.3L1419.4 1269.9L1417.1 1270.5L1414.9 1271.1L1412.7 1271.6L1410.5 1272.2L1408.2 1272.8L1406.0 1273.3L1403.8 1273.9L1401.5 1274.4L1399.3 1274.9L1397.0 1275.4L1394.8 1275.9L1392.5 1276.4L1390.3 1276.9L1388.0 1277.3L1385.8 1277.8L1383.5 1278.3L1381.3 1278.7L1379.0 1279.2L1376.8 1279.6L1374.5 1280.1L1372.2 1280.5L1370.0 1281.0L1367.7 1281.4L1365.5 1281.9L1363.2 1282.3L1360.9 1282.7L1358.7 1283.1L1356.4 1283.6L1354.2 1284.0L1351.9 1284.4L1349.6 1284.8L1347.4 1285.2L1345.1 1285.6L1342.8 1286.0L1340.6 1286.4L1338.3 1286.8L1336.0 1287.2L1333.8 1287.7L1331.5 1288.1L1329.3 1288.6L1327.0 1289.1L1324.8 1289.6L1322.5 1290.1L1320.3 1290.7L1318.1 1291.2L1315.9 1291.8L1313.6 1292.5L1311.4 1293.1Z" stroke="#f2e91c" stroke-width="4.4" fill="none" stroke-linejoin="round"/>
<path d="M1311.4 1323.9L1311.4 1155.8L1312.2 1153.2L1312.9 1150.7L1313.6 1148.1L1314.4 1145.5L1315.2 1142.9L1316.0 1140.3L1316.8 1137.8L1317.7 1135.2L1318.6 1132.7L1319.6 1130.2L1320.6 1127.7L1321.6 1125.2L1322.7 1122.8L1323.9 1120.4L1325.1 1118.0L1326.4 1115.7L1327.8 1113.4L1329.2 1111.1L1330.7 1108.9L1332.3 1106.8L1333.9 1104.7L1335.6 1102.7L1337.4 1100.7L1339.3 1098.8L1341.2 1097.0L1343.2 1095.3L1345.3 1093.6L1347.4 1092.0L1349.6 1090.5L1351.8 1089.1L1354.1 1087.7L1356.5 1086.4L1358.8 1085.2L1361.2 1084.0L1363.7 1082.9L1366.2 1081.9L1368.7 1081.0L1371.2 1080.1L1373.7 1079.3L1376.3 1078.5L1378.9 1077.8L1381.5 1077.1L1384.1 1076.5L1386.7 1075.9L1389.4 1075.4L1392.0 1074.9L1394.7 1074.4L1397.3 1074.0L1400.0 1073.5L1402.7 1073.2L1405.3 1072.8L1408.0 1072.4L1410.7 1072.1L1413.4 1071.8L1416.1 1071.5L1418.7 1071.2L1421.4 1070.9L1424.1 1070.6L1426.8 1070.4L1429.5 1070.2L1432.2 1070.0L1434.9 1069.8L1437.6 1069.7L1440.3 1069.6L1442.9 1069.5L1445.6 1069.4L1448.3 1069.3L1451.0 1069.3L1453.7 1069.3L1456.4 1069.3L1459.1 1069.3L1461.8 1069.4L1464.5 1069.4L1467.2 1069.5L1469.9 1069.6L1472.6 1069.8L1475.3 1069.9L1478.0 1070.1L1480.7 1070.3L1483.4 1070.5L1486.1 1070.7L1488.8 1070.9L1491.5 1071.2L1494.1 1071.4L1496.8 1071.7L1499.5 1072.0L1502.2 1072.3L1504.9 1072.6L1507.5 1072.9L1510.2 1073.3L1512.9 1073.6L1515.6 1074.0L1518.2 1074.4L1520.9 1074.8L1523.6 1075.2L1526.2 1075.7L1528.9 1076.1L1531.6 1076.6L1534.2 1077.0L1536.9 1077.5L1539.5 1078.0L1542.2 1078.5L1544.8 1079.0L1547.5 1079.6L1550.1 1080.1L1552.8 1080.6L1555.4 1081.1L1558.1 1081.6L1560.7 1082.2L1563.4 1082.7L1566.0 1083.2L1568.7 1083.7L1571.3 1084.2L1574.0 1084.8L1576.6 1085.3L1579.3 1085.8L1581.9 1086.3L1584.6 1086.8L1587.2 1087.3L1589.9 1087.8L1592.5 1088.3L1595.2 1088.8L1597.8 1089.3L1600.5 1089.8L1603.1 1090.3L1605.8 1090.8L1608.5 1091.2L1611.1 1091.7L1613.8 1092.1L1616.5 1092.6L1619.1 1093.0L1621.8 1093.4L1624.4 1093.9L1627.1 1094.3L1629.8 1094.7L1632.5 1095.1L1635.1 1095.5L1637.8 1095.8L1640.5 1096.2L1643.1 1096.6L1645.8 1097.0L1648.5 1097.3L1651.2 1097.6L1653.9 1098.0L1656.5 1098.3L1659.2 1098.6L1661.9 1098.9L1664.6 1099.2L1667.3 1099.5L1670.0 1099.8L1672.6 1100.0L1675.3 1100.3L1678.0 1100.5L1680.7 1100.8L1683.4 1101.0L1686.1 1101.2L1688.8 1101.4L1691.5 1101.6L1694.2 1101.8L1696.9 1102.0L1699.5 1102.2L1702.2 1102.4L1704.9 1102.6L1707.6 1102.7L1710.3 1102.9L1713.0 1103.0L1715.7 1103.2L1718.4 1103.3L1721.1 1103.4L1723.8 1103.5L1726.5 1103.7L1729.2 1103.8L1731.9 1103.9L1734.6 1103.9L1737.3 1104.0L1740.0 1104.1L1742.7 1104.2L1745.4 1104.2L1748.1 1104.3L1750.8 1104.4L1753.5 1104.4L1756.2 1104.4L1758.9 1104.5L1761.6 1104.5L1764.3 1104.5L1767.0 1104.5L1769.7 1104.5L1772.4 1104.5L1775.1 1104.5L1777.8 1104.5L1780.5 1104.5L1783.2 1104.4L1785.9 1104.4L1788.6 1104.3L1791.3 1104.3L1794.0 1104.2L1796.7 1104.2L1799.4 1104.1L1802.1 1104.0L1804.8 1103.9L1807.5 1103.8L1810.2 1103.7L1812.9 1103.5L1815.6 1103.4L1818.3 1103.3L1820.9 1103.1L1823.6 1102.9L1826.3 1102.7L1829.0 1102.5L1831.7 1102.3L1834.4 1102.1L1837.1 1101.9L1839.8 1101.7L1842.5 1101.4L1845.2 1101.2L1847.9 1100.9L1850.5 1100.7L1853.2 1100.4L1855.9 1100.1L1858.6 1099.9L1858.6 1099.9L1858.8 1102.2L1858.9 1104.6L1859.0 1107.0L1859.1 1109.3L1859.2 1111.7L1859.2 1114.0L1859.1 1116.4L1858.9 1118.7L1858.6 1121.0L1858.3 1123.3L1857.8 1125.6L1857.1 1127.8L1856.4 1130.0L1855.5 1132.2L1854.5 1134.3L1853.5 1136.4L1852.3 1138.4L1851.0 1140.3L1849.6 1142.2L1848.2 1144.1L1846.6 1145.9L1845.0 1147.6L1843.4 1149.2L1841.7 1150.8L1839.9 1152.4L1838.0 1153.8L1836.1 1155.2L1834.2 1156.5L1832.2 1157.7L1830.1 1158.9L1828.0 1160.0L1825.9 1161.1L1823.8 1162.1L1821.6 1163.1L1819.5 1164.0L1817.3 1164.9L1815.1 1165.8L1812.9 1166.6L1810.6 1167.4L1808.4 1168.2L1806.2 1169.0L1803.9 1169.7L1801.6 1170.4L1799.4 1171.1L1797.1 1171.8L1794.8 1172.4L1792.5 1173.1L1790.2 1173.7L1788.0 1174.3L1785.7 1174.9L1783.4 1175.5L1781.1 1176.0L1778.8 1176.6L1776.5 1177.2L1774.1 1177.7L1771.8 1178.2L1769.5 1178.8L1767.2 1179.3L1764.9 1179.8L1762.6 1180.4L1760.3 1180.9L1758.0 1181.4L1755.7 1182.0L1753.4 1182.5L1751.0 1183.0L1748.7 1183.6L1746.4 1184.1L1744.1 1184.7L1741.8 1185.2L1739.5 1185.7L1737.2 1186.3L1734.9 1186.8L1732.6 1187.4L1730.3 1187.9L1728.0 1188.5L1725.7 1189.0L1723.4 1189.6L1721.1 1190.2L1718.7 1190.7L1716.4 1191.3L1714.1 1191.9L1711.8 1192.5L1709.5 1193.0L1707.2 1193.6L1705.0 1194.2L1702.7 1194.8L1700.4 1195.4L1698.1 1196.0L1695.8 1196.6L1693.5 1197.2L1691.2 1197.8L1688.9 1198.4L1686.6 1199.0L1684.3 1199.6L1682.0 1200.3L1679.7 1200.9L1677.4 1201.5L1675.2 1202.1L1672.9 1202.8L1670.6 1203.4L1668.3 1204.0L1666.0 1204.7L1663.7 1205.3L1661.5 1206.0L1659.2 1206.6L1656.9 1207.3L1654.6 1207.9L1652.3 1208.6L1650.1 1209.2L1647.8 1209.9L1645.5 1210.5L1643.2 1211.2L1640.9 1211.9L1638.7 1212.5L1636.4 1213.2L1634.1 1213.9L1631.9 1214.6L1629.6 1215.3L1627.3 1216.0L1625.1 1216.7L1622.8 1217.4L1620.6 1218.2L1618.3 1218.9L1616.1 1219.6L1613.8 1220.4L1611.6 1221.2L1609.3 1222.0L1607.1 1222.8L1604.9 1223.6L1602.7 1224.4L1600.4 1225.3L1598.2 1226.1L1596.0 1227.0L1593.8 1227.8L1591.6 1228.7L1589.4 1229.6L1587.2 1230.5L1585.0 1231.4L1582.8 1232.3L1580.6 1233.2L1578.4 1234.1L1576.2 1235.0L1574.0 1235.9L1571.8 1236.8L1569.7 1237.7L1567.5 1238.6L1565.3 1239.5L1563.1 1240.4L1560.9 1241.2L1558.7 1242.1L1556.5 1243.0L1554.2 1243.9L1552.0 1244.7L1549.8 1245.6L1547.6 1246.5L1545.4 1247.3L1543.2 1248.2L1541.0 1249.1L1538.8 1249.9L1536.6 1250.8L1534.4 1251.6L1532.2 1252.5L1530.0 1253.4L1527.7 1254.2L1525.5 1255.1L1523.3 1255.9L1521.1 1256.8L1518.9 1257.6L1516.7 1258.5L1514.5 1259.4L1512.3 1260.2L1510.1 1261.1L1507.8 1261.9L1505.6 1262.8L1503.4 1263.6L1501.2 1264.5L1499.0 1265.3L1496.8 1266.2L1494.6 1267.1L1492.4 1267.9L1490.1 1268.8L1487.9 1269.6L1485.7 1270.5L1483.5 1271.3L1481.3 1272.2L1479.1 1273.0L1476.9 1273.9L1474.7 1274.7L1472.4 1275.6L1470.2 1276.4L1468.0 1277.3L1465.8 1278.1L1463.6 1278.9L1461.3 1279.8L1459.1 1280.6L1456.9 1281.4L1454.7 1282.3L1452.5 1283.1L1450.2 1283.9L1448.0 1284.7L1445.8 1285.6L1443.6 1286.4L1441.3 1287.2L1439.1 1288.0L1436.9 1288.9L1434.7 1289.7L1432.4 1290.5L1430.2 1291.3L1428.0 1292.1L1425.7 1292.9L1423.5 1293.7L1421.3 1294.4L1419.0 1295.2L1416.8 1295.9L1414.5 1296.7L1412.3 1297.4L1410.0 1298.1L1407.7 1298.8L1405.5 1299.5L1403.2 1300.2L1400.9 1300.9L1398.6 1301.5L1396.4 1302.1L1394.1 1302.8L1391.8 1303.4L1389.5 1304.0L1387.2 1304.6L1384.9 1305.2L1382.6 1305.7L1380.3 1306.3L1378.0 1306.9L1375.7 1307.5L1373.4 1308.0L1371.1 1308.6L1368.8 1309.1L1366.5 1309.7L1364.2 1310.3L1361.9 1310.8L1359.6 1311.4L1357.2 1311.9L1354.9 1312.4L1352.6 1313.0L1350.3 1313.5L1348.0 1314.0L1345.7 1314.5L1343.4 1315.0L1341.0 1315.5L1338.7 1316.0L1336.4 1316.6L1334.1 1317.1L1331.8 1317.7L1329.5 1318.2L1327.2 1318.9L1324.9 1319.5L1322.7 1320.2L1320.4 1320.9L1318.2 1321.6L1315.9 1322.3L1313.7 1323.1L1311.4 1323.9Z" stroke="#86802a" stroke-width="4.4" fill="none" stroke-linejoin="round"/>
<path d="M1311.4 1351.3L1311.4 1154.0L1312.0 1151.4L1312.7 1148.7L1313.3 1146.0L1313.9 1143.3L1314.6 1140.6L1315.3 1137.9L1316.0 1135.3L1316.7 1132.6L1317.4 1130.0L1318.2 1127.3L1319.1 1124.7L1319.9 1122.1L1320.8 1119.5L1321.7 1116.9L1322.7 1114.3L1323.8 1111.8L1324.8 1109.3L1326.0 1106.8L1327.2 1104.3L1328.4 1101.9L1329.8 1099.5L1331.1 1097.1L1332.6 1094.8L1334.1 1092.6L1335.7 1090.4L1337.4 1088.3L1339.2 1086.2L1341.0 1084.2L1342.9 1082.2L1344.9 1080.4L1346.9 1078.6L1349.0 1076.8L1351.1 1075.2L1353.4 1073.6L1355.6 1072.1L1357.9 1070.6L1360.3 1069.3L1362.7 1068.0L1365.1 1066.8L1367.6 1065.6L1370.1 1064.5L1372.7 1063.5L1375.3 1062.6L1377.8 1061.7L1380.5 1060.9L1383.1 1060.1L1385.8 1059.4L1388.4 1058.8L1391.1 1058.1L1393.8 1057.6L1396.5 1057.0L1399.2 1056.5L1401.9 1056.0L1404.6 1055.6L1407.4 1055.1L1410.1 1054.7L1412.8 1054.3L1415.5 1053.9L1418.3 1053.6L1421.0 1053.3L1423.8 1053.0L1426.5 1052.7L1429.2 1052.4L1432.0 1052.2L1434.7 1052.0L1437.5 1051.8L1440.2 1051.6L1443.0 1051.5L1445.8 1051.4L1448.5 1051.3L1451.3 1051.3L1454.0 1051.3L1456.8 1051.3L1459.5 1051.3L1462.3 1051.4L1465.1 1051.5L1467.8 1051.6L1470.6 1051.8L1473.3 1051.9L1476.1 1052.1L1478.8 1052.3L1481.6 1052.6L1484.3 1052.8L1487.1 1053.1L1489.8 1053.4L1492.5 1053.7L1495.3 1054.0L1498.0 1054.3L1500.8 1054.7L1503.5 1055.1L1506.2 1055.4L1509.0 1055.8L1511.7 1056.3L1514.4 1056.7L1517.1 1057.2L1519.8 1057.7L1522.6 1058.2L1525.3 1058.7L1528.0 1059.2L1530.7 1059.8L1533.4 1060.3L1536.1 1060.9L1538.8 1061.5L1541.5 1062.1L1544.1 1062.7L1546.8 1063.3L1549.5 1064.0L1552.2 1064.6L1554.9 1065.2L1557.6 1065.8L1560.3 1066.5L1563.0 1067.1L1565.7 1067.7L1568.3 1068.3L1571.0 1069.0L1573.7 1069.6L1576.4 1070.2L1579.1 1070.8L1581.8 1071.5L1584.5 1072.1L1587.2 1072.7L1589.9 1073.3L1592.6 1073.9L1595.2 1074.5L1597.9 1075.1L1600.6 1075.7L1603.3 1076.3L1606.0 1076.8L1608.7 1077.4L1611.4 1077.9L1614.2 1078.5L1616.9 1079.0L1619.6 1079.5L1622.3 1080.1L1625.0 1080.6L1627.7 1081.1L1630.4 1081.5L1633.1 1082.0L1635.9 1082.5L1638.6 1082.9L1641.3 1083.4L1644.0 1083.8L1646.8 1084.3L1649.5 1084.7L1652.2 1085.1L1654.9 1085.5L1657.7 1085.9L1660.4 1086.3L1663.2 1086.6L1665.9 1087.0L1668.6 1087.3L1671.4 1087.6L1674.1 1087.9L1676.9 1088.3L1679.6 1088.5L1682.3 1088.8L1685.1 1089.1L1687.8 1089.4L1690.6 1089.6L1693.3 1089.8L1696.1 1090.1L1698.8 1090.3L1701.6 1090.5L1704.3 1090.7L1707.1 1090.9L1709.8 1091.1L1712.6 1091.3L1715.4 1091.5L1718.1 1091.6L1720.9 1091.8L1723.6 1091.9L1726.4 1092.1L1729.1 1092.2L1731.9 1092.3L1734.7 1092.4L1737.4 1092.5L1740.2 1092.6L1742.9 1092.7L1745.7 1092.8L1748.4 1092.9L1751.2 1092.9L1754.0 1093.0L1756.7 1093.0L1759.5 1093.1L1762.2 1093.1L1765.0 1093.1L1767.8 1093.1L1770.5 1093.1L1773.3 1093.1L1776.0 1093.1L1778.8 1093.1L1781.6 1093.0L1784.3 1093.0L1787.1 1092.9L1789.8 1092.9L1792.6 1092.8L1795.4 1092.7L1798.1 1092.6L1800.9 1092.5L1803.6 1092.4L1806.4 1092.3L1809.1 1092.2L1811.9 1092.0L1814.7 1091.8L1817.4 1091.7L1820.2 1091.5L1822.9 1091.3L1825.7 1091.1L1828.4 1090.8L1831.2 1090.6L1833.9 1090.3L1836.7 1090.0L1839.4 1089.8L1842.1 1089.5L1844.9 1089.2L1847.6 1088.9L1850.4 1088.6L1853.1 1088.2L1855.9 1087.9L1858.6 1087.6L1858.6 1087.6L1858.8 1090.0L1858.9 1092.5L1859.0 1094.9L1859.1 1097.4L1859.2 1099.8L1859.3 1102.2L1859.3 1104.7L1859.2 1107.1L1859.1 1109.5L1858.9 1112.0L1858.7 1114.4L1858.3 1116.8L1857.8 1119.1L1857.3 1121.5L1856.6 1123.8L1855.8 1126.1L1854.9 1128.3L1854.0 1130.5L1852.9 1132.7L1851.7 1134.8L1850.5 1136.9L1849.2 1139.0L1847.8 1141.0L1846.4 1142.9L1844.9 1144.8L1843.3 1146.6L1841.6 1148.4L1839.9 1150.1L1838.1 1151.8L1836.3 1153.3L1834.4 1154.8L1832.4 1156.2L1830.4 1157.6L1828.3 1158.9L1826.2 1160.1L1824.1 1161.3L1822.0 1162.5L1819.8 1163.6L1817.6 1164.6L1815.4 1165.7L1813.1 1166.7L1810.9 1167.6L1808.6 1168.6L1806.4 1169.5L1804.1 1170.3L1801.8 1171.2L1799.5 1172.0L1797.2 1172.8L1794.9 1173.6L1792.5 1174.4L1790.2 1175.1L1787.9 1175.8L1785.5 1176.6L1783.2 1177.3L1780.8 1177.9L1778.5 1178.6L1776.1 1179.3L1773.8 1179.9L1771.4 1180.6L1769.0 1181.2L1766.7 1181.8L1764.3 1182.5L1762.0 1183.1L1759.6 1183.7L1757.2 1184.4L1754.9 1185.0L1752.5 1185.7L1750.2 1186.3L1747.8 1187.0L1745.4 1187.6L1743.1 1188.3L1740.7 1188.9L1738.4 1189.6L1736.0 1190.2L1733.6 1190.9L1731.3 1191.5L1728.9 1192.2L1726.6 1192.9L1724.2 1193.5L1721.9 1194.2L1719.5 1194.9L1717.2 1195.6L1714.8 1196.3L1712.5 1196.9L1710.1 1197.6L1707.8 1198.3L1705.4 1199.0L1703.1 1199.7L1700.8 1200.5L1698.4 1201.2L1696.1 1201.9L1693.7 1202.6L1691.4 1203.3L1689.1 1204.1L1686.7 1204.8L1684.4 1205.5L1682.1 1206.3L1679.7 1207.0L1677.4 1207.8L1675.1 1208.5L1672.8 1209.3L1670.4 1210.0L1668.1 1210.8L1665.8 1211.5L1663.5 1212.3L1661.1 1213.1L1658.8 1213.9L1656.5 1214.6L1654.2 1215.4L1651.9 1216.2L1649.5 1217.0L1647.2 1217.8L1644.9 1218.5L1642.6 1219.3L1640.3 1220.1L1638.0 1220.9L1635.7 1221.7L1633.3 1222.6L1631.0 1223.4L1628.7 1224.2L1626.4 1225.1L1624.2 1225.9L1621.9 1226.8L1619.6 1227.6L1617.3 1228.5L1615.0 1229.4L1612.8 1230.4L1610.5 1231.3L1608.2 1232.2L1606.0 1233.2L1603.7 1234.2L1601.5 1235.1L1599.3 1236.1L1597.0 1237.2L1594.8 1238.2L1592.6 1239.2L1590.4 1240.2L1588.2 1241.3L1586.0 1242.3L1583.8 1243.4L1581.6 1244.5L1579.4 1245.5L1577.1 1246.6L1574.9 1247.7L1572.7 1248.7L1570.5 1249.8L1568.3 1250.8L1566.1 1251.9L1563.9 1252.9L1561.7 1254.0L1559.5 1255.0L1557.3 1256.0L1555.0 1257.1L1552.8 1258.1L1550.6 1259.1L1548.4 1260.1L1546.2 1261.2L1543.9 1262.2L1541.7 1263.2L1539.5 1264.2L1537.3 1265.2L1535.0 1266.3L1532.8 1267.3L1530.6 1268.3L1528.4 1269.3L1526.1 1270.3L1523.9 1271.3L1521.7 1272.3L1519.4 1273.4L1517.2 1274.4L1515.0 1275.4L1512.8 1276.4L1510.5 1277.4L1508.3 1278.4L1506.1 1279.4L1503.9 1280.4L1501.6 1281.4L1499.4 1282.5L1497.2 1283.5L1494.9 1284.5L1492.7 1285.5L1490.5 1286.5L1488.3 1287.5L1486.0 1288.5L1483.8 1289.5L1481.6 1290.5L1479.3 1291.5L1477.1 1292.5L1474.9 1293.6L1472.6 1294.6L1470.4 1295.5L1468.2 1296.5L1465.9 1297.5L1463.7 1298.5L1461.5 1299.5L1459.2 1300.5L1457.0 1301.5L1454.7 1302.5L1452.5 1303.4L1450.3 1304.4L1448.0 1305.4L1445.8 1306.4L1443.5 1307.4L1441.3 1308.3L1439.0 1309.3L1436.8 1310.3L1434.5 1311.2L1432.3 1312.2L1430.0 1313.2L1427.8 1314.1L1425.5 1315.0L1423.3 1316.0L1421.0 1316.9L1418.7 1317.8L1416.4 1318.7L1414.2 1319.6L1411.9 1320.4L1409.6 1321.3L1407.3 1322.1L1405.0 1322.9L1402.7 1323.7L1400.3 1324.5L1398.0 1325.3L1395.7 1326.0L1393.4 1326.8L1391.0 1327.5L1388.7 1328.2L1386.3 1328.9L1384.0 1329.6L1381.7 1330.3L1379.3 1331.0L1377.0 1331.7L1374.6 1332.4L1372.3 1333.0L1369.9 1333.7L1367.5 1334.4L1365.2 1335.0L1362.8 1335.7L1360.5 1336.4L1358.1 1337.0L1355.8 1337.7L1353.4 1338.3L1351.0 1338.9L1348.7 1339.5L1346.3 1340.1L1343.9 1340.8L1341.6 1341.4L1339.2 1342.0L1336.8 1342.6L1334.5 1343.3L1332.1 1343.9L1329.8 1344.6L1327.4 1345.4L1325.1 1346.1L1322.8 1346.9L1320.5 1347.7L1318.2 1348.6L1316.0 1349.5L1313.7 1350.4L1311.4 1351.3Z" stroke="#8a1f84" stroke-width="4.4" fill="none" stroke-linejoin="round"/>
<path d="M1311.4 1370.1L1311.4 1152.7L1312.0 1150.0L1312.5 1147.2L1313.1 1144.5L1313.7 1141.8L1314.3 1139.0L1314.9 1136.3L1315.5 1133.5L1316.2 1130.8L1316.8 1128.1L1317.5 1125.4L1318.3 1122.7L1319.0 1120.0L1319.8 1117.3L1320.6 1114.6L1321.5 1111.9L1322.4 1109.3L1323.3 1106.7L1324.3 1104.0L1325.3 1101.5L1326.4 1098.9L1327.5 1096.3L1328.7 1093.8L1330.0 1091.3L1331.3 1088.9L1332.7 1086.5L1334.1 1084.1L1335.6 1081.8L1337.2 1079.5L1338.9 1077.3L1340.7 1075.2L1342.5 1073.1L1344.4 1071.1L1346.3 1069.1L1348.3 1067.3L1350.4 1065.4L1352.6 1063.7L1354.8 1062.0L1357.0 1060.4L1359.3 1058.9L1361.7 1057.5L1364.1 1056.1L1366.6 1054.8L1369.1 1053.6L1371.6 1052.4L1374.2 1051.4L1376.7 1050.3L1379.4 1049.4L1382.0 1048.5L1384.7 1047.7L1387.4 1046.9L1390.1 1046.2L1392.8 1045.6L1395.5 1044.9L1398.2 1044.4L1401.0 1043.8L1403.7 1043.3L1406.5 1042.8L1409.2 1042.3L1412.0 1041.8L1414.8 1041.4L1417.6 1041.0L1420.3 1040.6L1423.1 1040.3L1425.9 1040.0L1428.7 1039.7L1431.5 1039.4L1434.3 1039.1L1437.1 1038.9L1439.9 1038.8L1442.7 1038.6L1445.5 1038.5L1448.2 1038.4L1451.1 1038.4L1453.9 1038.3L1456.7 1038.4L1459.5 1038.4L1462.3 1038.5L1465.1 1038.6L1467.9 1038.7L1470.7 1038.9L1473.4 1039.1L1476.2 1039.3L1479.0 1039.5L1481.8 1039.8L1484.6 1040.1L1487.4 1040.4L1490.2 1040.7L1493.0 1041.0L1495.8 1041.4L1498.5 1041.8L1501.3 1042.2L1504.1 1042.6L1506.8 1043.1L1509.6 1043.5L1512.4 1044.0L1515.1 1044.5L1517.9 1045.0L1520.6 1045.6L1523.4 1046.2L1526.1 1046.7L1528.9 1047.3L1531.6 1048.0L1534.3 1048.6L1537.0 1049.3L1539.8 1050.0L1542.5 1050.6L1545.2 1051.3L1547.9 1052.0L1550.6 1052.7L1553.4 1053.4L1556.1 1054.1L1558.8 1054.8L1561.5 1055.6L1564.2 1056.3L1566.9 1057.0L1569.7 1057.7L1572.4 1058.4L1575.1 1059.1L1577.8 1059.8L1580.5 1060.5L1583.2 1061.2L1586.0 1061.9L1588.7 1062.5L1591.4 1063.2L1594.1 1063.9L1596.8 1064.6L1599.6 1065.2L1602.3 1065.9L1605.0 1066.5L1607.8 1067.2L1610.5 1067.8L1613.2 1068.4L1616.0 1069.0L1618.7 1069.6L1621.5 1070.2L1624.2 1070.8L1627.0 1071.3L1629.7 1071.9L1632.5 1072.4L1635.2 1072.9L1638.0 1073.5L1640.7 1074.0L1643.5 1074.5L1646.2 1075.0L1649.0 1075.4L1651.8 1075.9L1654.5 1076.4L1657.3 1076.8L1660.1 1077.2L1662.9 1077.6L1665.6 1078.0L1668.4 1078.4L1671.2 1078.8L1674.0 1079.1L1676.8 1079.5L1679.6 1079.8L1682.3 1080.1L1685.1 1080.4L1687.9 1080.7L1690.7 1081.0L1693.5 1081.3L1696.3 1081.5L1699.1 1081.8L1701.9 1082.0L1704.7 1082.3L1707.5 1082.5L1710.3 1082.7L1713.1 1082.9L1715.9 1083.1L1718.7 1083.3L1721.5 1083.5L1724.3 1083.6L1727.1 1083.8L1729.9 1083.9L1732.7 1084.1L1735.5 1084.2L1738.3 1084.3L1741.1 1084.4L1743.9 1084.5L1746.7 1084.6L1749.5 1084.6L1752.3 1084.7L1755.1 1084.8L1757.9 1084.8L1760.7 1084.8L1763.5 1084.9L1766.3 1084.9L1769.1 1084.9L1771.9 1084.9L1774.7 1084.9L1777.5 1084.9L1780.4 1084.8L1783.2 1084.8L1786.0 1084.7L1788.8 1084.7L1791.6 1084.6L1794.4 1084.5L1797.2 1084.4L1800.0 1084.3L1802.8 1084.2L1805.6 1084.0L1808.4 1083.9L1811.2 1083.7L1814.0 1083.5L1816.8 1083.3L1819.6 1083.1L1822.4 1082.9L1825.2 1082.6L1828.0 1082.4L1830.8 1082.1L1833.5 1081.8L1836.3 1081.5L1839.1 1081.2L1841.9 1080.9L1844.7 1080.5L1847.5 1080.2L1850.3 1079.8L1853.0 1079.5L1855.8 1079.1L1858.6 1078.8L1858.6 1078.8L1858.7 1081.3L1858.9 1083.7L1859.0 1086.2L1859.1 1088.7L1859.2 1091.2L1859.3 1093.7L1859.3 1096.2L1859.3 1098.7L1859.3 1101.2L1859.2 1103.7L1859.0 1106.2L1858.8 1108.7L1858.5 1111.2L1858.1 1113.6L1857.6 1116.0L1857.0 1118.4L1856.3 1120.8L1855.5 1123.1L1854.7 1125.5L1853.7 1127.7L1852.7 1130.0L1851.5 1132.2L1850.3 1134.4L1849.1 1136.5L1847.8 1138.7L1846.4 1140.7L1844.9 1142.7L1843.4 1144.7L1841.8 1146.6L1840.1 1148.4L1838.4 1150.2L1836.6 1151.9L1834.7 1153.5L1832.8 1155.1L1830.8 1156.5L1828.7 1158.0L1826.7 1159.3L1824.5 1160.7L1822.4 1161.9L1820.2 1163.1L1818.0 1164.3L1815.8 1165.5L1813.5 1166.6L1811.3 1167.7L1809.0 1168.7L1806.7 1169.7L1804.4 1170.7L1802.1 1171.6L1799.8 1172.5L1797.5 1173.4L1795.1 1174.3L1792.8 1175.2L1790.4 1176.0L1788.0 1176.8L1785.7 1177.6L1783.3 1178.4L1780.9 1179.2L1778.5 1179.9L1776.1 1180.7L1773.7 1181.4L1771.3 1182.1L1768.9 1182.8L1766.5 1183.5L1764.1 1184.2L1761.7 1184.9L1759.3 1185.7L1756.9 1186.4L1754.5 1187.1L1752.1 1187.8L1749.7 1188.5L1747.3 1189.3L1744.9 1190.0L1742.6 1190.7L1740.2 1191.5L1737.8 1192.2L1735.4 1192.9L1733.0 1193.6L1730.6 1194.4L1728.2 1195.1L1725.8 1195.9L1723.4 1196.6L1721.0 1197.4L1718.6 1198.1L1716.3 1198.9L1713.9 1199.7L1711.5 1200.4L1709.1 1201.2L1706.7 1202.0L1704.4 1202.8L1702.0 1203.6L1699.6 1204.4L1697.2 1205.2L1694.9 1206.0L1692.5 1206.8L1690.1 1207.6L1687.8 1208.4L1685.4 1209.2L1683.0 1210.0L1680.7 1210.9L1678.3 1211.7L1675.9 1212.5L1673.6 1213.4L1671.2 1214.2L1668.9 1215.1L1666.5 1215.9L1664.2 1216.8L1661.8 1217.6L1659.5 1218.5L1657.1 1219.4L1654.8 1220.2L1652.4 1221.1L1650.1 1222.0L1647.7 1222.8L1645.4 1223.7L1643.0 1224.6L1640.7 1225.5L1638.4 1226.4L1636.0 1227.3L1633.7 1228.2L1631.4 1229.1L1629.0 1230.0L1626.7 1231.0L1624.4 1231.9L1622.1 1232.9L1619.8 1233.8L1617.5 1234.8L1615.2 1235.8L1612.9 1236.8L1610.6 1237.9L1608.4 1238.9L1606.1 1240.0L1603.8 1241.1L1601.6 1242.1L1599.3 1243.3L1597.1 1244.4L1594.9 1245.5L1592.6 1246.6L1590.4 1247.8L1588.2 1248.9L1586.0 1250.1L1583.8 1251.3L1581.5 1252.5L1579.3 1253.6L1577.1 1254.8L1574.9 1256.0L1572.7 1257.1L1570.5 1258.3L1568.3 1259.5L1566.0 1260.6L1563.8 1261.8L1561.6 1262.9L1559.4 1264.1L1557.2 1265.2L1554.9 1266.4L1552.7 1267.5L1550.5 1268.7L1548.2 1269.8L1546.0 1270.9L1543.8 1272.0L1541.5 1273.2L1539.3 1274.3L1537.1 1275.4L1534.8 1276.5L1532.6 1277.7L1530.3 1278.8L1528.1 1279.9L1525.9 1281.0L1523.6 1282.2L1521.4 1283.3L1519.2 1284.4L1516.9 1285.5L1514.7 1286.6L1512.4 1287.8L1510.2 1288.9L1508.0 1290.0L1505.7 1291.1L1503.5 1292.2L1501.2 1293.4L1499.0 1294.5L1496.8 1295.6L1494.5 1296.7L1492.3 1297.8L1490.0 1298.9L1487.8 1300.1L1485.6 1301.2L1483.3 1302.3L1481.1 1303.4L1478.8 1304.5L1476.6 1305.6L1474.4 1306.7L1472.1 1307.9L1469.9 1309.0L1467.6 1310.1L1465.4 1311.2L1463.1 1312.3L1460.9 1313.3L1458.6 1314.4L1456.4 1315.5L1454.1 1316.6L1451.8 1317.7L1449.6 1318.8L1447.3 1319.9L1445.1 1321.0L1442.8 1322.0L1440.6 1323.1L1438.3 1324.2L1436.0 1325.3L1433.8 1326.3L1431.5 1327.4L1429.2 1328.4L1427.0 1329.5L1424.7 1330.5L1422.4 1331.5L1420.1 1332.6L1417.8 1333.6L1415.5 1334.5L1413.2 1335.5L1410.9 1336.5L1408.6 1337.4L1406.2 1338.3L1403.9 1339.2L1401.6 1340.1L1399.2 1341.0L1396.9 1341.8L1394.5 1342.6L1392.1 1343.5L1389.8 1344.3L1387.4 1345.1L1385.0 1345.9L1382.6 1346.6L1380.3 1347.4L1377.9 1348.2L1375.5 1348.9L1373.1 1349.7L1370.7 1350.4L1368.3 1351.2L1365.9 1351.9L1363.6 1352.7L1361.2 1353.4L1358.8 1354.2L1356.4 1354.9L1354.0 1355.6L1351.6 1356.3L1349.2 1357.0L1346.8 1357.7L1344.3 1358.3L1341.9 1359.0L1339.5 1359.7L1337.1 1360.4L1334.7 1361.2L1332.4 1361.9L1330.0 1362.7L1327.6 1363.5L1325.3 1364.3L1322.9 1365.2L1320.6 1366.1L1318.3 1367.1L1316.0 1368.1L1313.7 1369.1L1311.4 1370.1Z" stroke="#7e1a22" stroke-width="4.4" fill="none" stroke-linejoin="round"/>
<path d="M1311.4 1413.9L1311.4 1149.9L1311.9 1147.0L1312.4 1144.2L1312.8 1141.3L1313.3 1138.4L1313.8 1135.6L1314.3 1132.7L1314.8 1129.8L1315.3 1127.0L1315.9 1124.1L1316.4 1121.3L1317.0 1118.4L1317.6 1115.6L1318.2 1112.7L1318.9 1109.9L1319.6 1107.1L1320.2 1104.2L1321.0 1101.4L1321.7 1098.6L1322.5 1095.8L1323.3 1093.0L1324.2 1090.2L1325.0 1087.5L1326.0 1084.7L1326.9 1082.0L1327.9 1079.3L1329.0 1076.6L1330.1 1073.9L1331.3 1071.3L1332.5 1068.7L1333.8 1066.1L1335.2 1063.5L1336.6 1061.0L1338.1 1058.6L1339.7 1056.2L1341.3 1053.8L1343.0 1051.5L1344.8 1049.2L1346.7 1047.0L1348.6 1044.9L1350.6 1042.8L1352.6 1040.8L1354.7 1038.9L1356.9 1037.0L1359.1 1035.2L1361.4 1033.5L1363.8 1031.9L1366.2 1030.3L1368.7 1028.9L1371.2 1027.5L1373.7 1026.1L1376.3 1024.9L1379.0 1023.7L1381.6 1022.7L1384.3 1021.6L1387.1 1020.7L1389.8 1019.8L1392.6 1018.9L1395.4 1018.2L1398.2 1017.4L1401.0 1016.7L1403.8 1016.1L1406.6 1015.4L1409.5 1014.8L1412.3 1014.3L1415.2 1013.7L1418.1 1013.2L1420.9 1012.8L1423.8 1012.3L1426.7 1011.9L1429.6 1011.6L1432.4 1011.2L1435.3 1010.9L1438.2 1010.7L1441.1 1010.5L1444.0 1010.3L1446.9 1010.2L1449.8 1010.1L1452.7 1010.1L1455.6 1010.1L1458.5 1010.1L1461.4 1010.2L1464.3 1010.3L1467.2 1010.5L1470.1 1010.7L1473.0 1010.9L1475.9 1011.2L1478.8 1011.5L1481.7 1011.8L1484.6 1012.2L1487.4 1012.5L1490.3 1012.9L1493.2 1013.4L1496.1 1013.8L1498.9 1014.3L1501.8 1014.8L1504.7 1015.4L1507.5 1016.0L1510.3 1016.5L1513.2 1017.2L1516.0 1017.8L1518.9 1018.5L1521.7 1019.2L1524.5 1019.9L1527.3 1020.6L1530.1 1021.4L1532.9 1022.2L1535.7 1023.0L1538.5 1023.8L1541.3 1024.7L1544.0 1025.5L1546.8 1026.4L1549.6 1027.3L1552.4 1028.2L1555.1 1029.0L1557.9 1029.9L1560.7 1030.8L1563.5 1031.7L1566.2 1032.6L1569.0 1033.5L1571.8 1034.3L1574.5 1035.2L1577.3 1036.1L1580.1 1037.0L1582.9 1037.8L1585.7 1038.7L1588.4 1039.5L1591.2 1040.4L1594.0 1041.2L1596.8 1042.1L1599.6 1042.9L1602.4 1043.7L1605.2 1044.5L1608.0 1045.3L1610.8 1046.1L1613.6 1046.9L1616.4 1047.6L1619.2 1048.4L1622.0 1049.1L1624.8 1049.8L1627.6 1050.5L1630.5 1051.2L1633.3 1051.9L1636.1 1052.5L1639.0 1053.2L1641.8 1053.8L1644.6 1054.5L1647.5 1055.1L1650.3 1055.7L1653.2 1056.2L1656.0 1056.8L1658.9 1057.3L1661.8 1057.9L1664.6 1058.4L1667.5 1058.9L1670.4 1059.3L1673.2 1059.8L1676.1 1060.2L1679.0 1060.6L1681.9 1061.0L1684.8 1061.4L1687.6 1061.8L1690.5 1062.2L1693.4 1062.5L1696.3 1062.8L1699.2 1063.2L1702.1 1063.5L1705.0 1063.8L1707.9 1064.0L1710.8 1064.3L1713.7 1064.6L1716.6 1064.8L1719.5 1065.0L1722.4 1065.3L1725.3 1065.5L1728.2 1065.6L1731.1 1065.8L1734.0 1066.0L1736.9 1066.1L1739.8 1066.3L1742.7 1066.4L1745.6 1066.5L1748.5 1066.6L1751.4 1066.7L1754.3 1066.8L1757.2 1066.8L1760.1 1066.9L1763.1 1066.9L1766.0 1066.9L1768.9 1066.9L1771.8 1066.9L1774.7 1066.9L1777.6 1066.9L1780.5 1066.8L1783.4 1066.8L1786.3 1066.7L1789.2 1066.6L1792.1 1066.5L1795.0 1066.4L1797.9 1066.3L1800.9 1066.1L1803.8 1066.0L1806.7 1065.8L1809.6 1065.6L1812.5 1065.4L1815.4 1065.1L1818.3 1064.9L1821.2 1064.6L1824.0 1064.3L1826.9 1064.0L1829.8 1063.6L1832.7 1063.3L1835.6 1062.9L1838.5 1062.5L1841.4 1062.1L1844.2 1061.7L1847.1 1061.2L1850.0 1060.8L1852.9 1060.4L1855.7 1059.9L1858.6 1059.4L1858.6 1059.4L1858.7 1062.1L1858.8 1064.7L1859.0 1067.3L1859.1 1070.0L1859.2 1072.6L1859.3 1075.3L1859.3 1077.9L1859.4 1080.5L1859.4 1083.2L1859.4 1085.8L1859.3 1088.4L1859.3 1091.1L1859.1 1093.7L1858.9 1096.3L1858.7 1098.9L1858.4 1101.6L1858.0 1104.1L1857.5 1106.7L1856.9 1109.3L1856.3 1111.8L1855.6 1114.3L1854.8 1116.8L1853.9 1119.3L1853.0 1121.8L1852.0 1124.2L1851.0 1126.6L1849.8 1129.0L1848.7 1131.4L1847.4 1133.7L1846.1 1136.0L1844.8 1138.2L1843.3 1140.4L1841.8 1142.6L1840.3 1144.6L1838.6 1146.7L1836.9 1148.7L1835.1 1150.6L1833.3 1152.4L1831.3 1154.2L1829.3 1155.9L1827.3 1157.5L1825.2 1159.1L1823.1 1160.7L1820.9 1162.2L1818.7 1163.6L1816.5 1165.0L1814.2 1166.4L1812.0 1167.7L1809.7 1169.0L1807.3 1170.3L1805.0 1171.5L1802.7 1172.7L1800.3 1173.8L1797.9 1174.9L1795.5 1176.0L1793.1 1177.1L1790.7 1178.1L1788.2 1179.2L1785.8 1180.2L1783.3 1181.1L1780.9 1182.1L1778.4 1183.0L1775.9 1184.0L1773.5 1184.9L1771.0 1185.8L1768.5 1186.7L1766.0 1187.6L1763.5 1188.5L1761.0 1189.4L1758.6 1190.3L1756.1 1191.2L1753.6 1192.1L1751.1 1193.0L1748.6 1193.9L1746.2 1194.8L1743.7 1195.7L1741.2 1196.6L1738.7 1197.5L1736.3 1198.5L1733.8 1199.4L1731.3 1200.3L1728.8 1201.2L1726.4 1202.2L1723.9 1203.1L1721.4 1204.0L1719.0 1205.0L1716.5 1206.0L1714.1 1206.9L1711.6 1207.9L1709.1 1208.9L1706.7 1209.8L1704.2 1210.8L1701.8 1211.8L1699.3 1212.8L1696.9 1213.8L1694.5 1214.8L1692.0 1215.8L1689.6 1216.8L1687.2 1217.8L1684.7 1218.9L1682.3 1219.9L1679.9 1220.9L1677.4 1222.0L1675.0 1223.0L1672.6 1224.1L1670.2 1225.1L1667.7 1226.2L1665.3 1227.2L1662.9 1228.3L1660.5 1229.4L1658.1 1230.5L1655.7 1231.5L1653.3 1232.6L1650.9 1233.7L1648.5 1234.8L1646.1 1235.9L1643.7 1237.0L1641.3 1238.1L1638.9 1239.2L1636.5 1240.3L1634.1 1241.4L1631.7 1242.6L1629.3 1243.7L1626.9 1244.9L1624.6 1246.0L1622.2 1247.2L1619.9 1248.4L1617.5 1249.7L1615.2 1250.9L1612.9 1252.1L1610.6 1253.4L1608.3 1254.7L1606.0 1256.0L1603.7 1257.3L1601.4 1258.7L1599.1 1260.0L1596.9 1261.4L1594.6 1262.8L1592.4 1264.2L1590.2 1265.6L1587.9 1267.0L1585.7 1268.4L1583.5 1269.8L1581.3 1271.2L1579.0 1272.7L1576.8 1274.1L1574.6 1275.5L1572.4 1277.0L1570.2 1278.4L1567.9 1279.8L1565.7 1281.2L1563.5 1282.6L1561.2 1284.0L1559.0 1285.4L1556.8 1286.8L1554.5 1288.2L1552.3 1289.6L1550.0 1291.0L1547.8 1292.4L1545.5 1293.8L1543.3 1295.2L1541.0 1296.5L1538.8 1297.9L1536.5 1299.3L1534.3 1300.7L1532.0 1302.0L1529.8 1303.4L1527.5 1304.8L1525.3 1306.2L1523.0 1307.5L1520.7 1308.9L1518.5 1310.3L1516.2 1311.6L1514.0 1313.0L1511.7 1314.4L1509.5 1315.7L1507.2 1317.1L1504.9 1318.5L1502.7 1319.9L1500.4 1321.2L1498.2 1322.6L1495.9 1324.0L1493.7 1325.3L1491.4 1326.7L1489.1 1328.1L1486.9 1329.4L1484.6 1330.8L1482.4 1332.2L1480.1 1333.5L1477.8 1334.9L1475.6 1336.3L1473.3 1337.6L1471.0 1339.0L1468.8 1340.3L1466.5 1341.7L1464.2 1343.0L1462.0 1344.4L1459.7 1345.7L1457.4 1347.0L1455.1 1348.4L1452.9 1349.7L1450.6 1351.0L1448.3 1352.4L1446.0 1353.7L1443.7 1355.0L1441.5 1356.3L1439.2 1357.7L1436.9 1359.0L1434.6 1360.3L1432.3 1361.6L1430.0 1362.9L1427.7 1364.2L1425.4 1365.5L1423.1 1366.7L1420.7 1368.0L1418.4 1369.2L1416.1 1370.4L1413.7 1371.6L1411.4 1372.8L1409.0 1374.0L1406.6 1375.1L1404.2 1376.3L1401.8 1377.4L1399.4 1378.4L1397.0 1379.5L1394.6 1380.5L1392.1 1381.6L1389.7 1382.6L1387.3 1383.6L1384.8 1384.6L1382.4 1385.5L1379.9 1386.5L1377.4 1387.5L1375.0 1388.4L1372.5 1389.4L1370.1 1390.3L1367.6 1391.2L1365.1 1392.2L1362.7 1393.1L1360.2 1394.0L1357.7 1394.9L1355.2 1395.8L1352.7 1396.7L1350.2 1397.6L1347.7 1398.5L1345.3 1399.3L1342.8 1400.2L1340.3 1401.1L1337.8 1401.9L1335.3 1402.8L1332.8 1403.8L1330.4 1404.7L1327.9 1405.7L1325.5 1406.8L1323.1 1407.9L1320.8 1409.0L1318.4 1410.2L1316.1 1411.4L1313.7 1412.6L1311.4 1413.9Z" stroke="#5549a8" stroke-width="4.4" fill="none" stroke-linejoin="round"/>
<path d="M1311.4 1463.0L1311.4 1147.3L1311.8 1144.3L1312.2 1141.3L1312.7 1138.4L1313.1 1135.4L1313.5 1132.4L1313.9 1129.4L1314.4 1126.4L1314.8 1123.5L1315.3 1120.5L1315.8 1117.5L1316.3 1114.6L1316.8 1111.6L1317.3 1108.6L1317.9 1105.7L1318.4 1102.7L1319.0 1099.8L1319.6 1096.8L1320.2 1093.9L1320.9 1090.9L1321.5 1088.0L1322.2 1085.1L1322.9 1082.2L1323.7 1079.3L1324.4 1076.3L1325.2 1073.4L1326.1 1070.6L1326.9 1067.7L1327.8 1064.8L1328.8 1062.0L1329.8 1059.2L1330.8 1056.4L1331.9 1053.6L1333.1 1050.8L1334.3 1048.1L1335.6 1045.4L1336.9 1042.7L1338.3 1040.1L1339.8 1037.5L1341.3 1034.9L1342.9 1032.4L1344.6 1029.9L1346.3 1027.5L1348.1 1025.2L1350.0 1022.8L1352.0 1020.6L1354.0 1018.4L1356.1 1016.3L1358.2 1014.3L1360.4 1012.3L1362.7 1010.4L1365.1 1008.6L1367.5 1006.9L1369.9 1005.2L1372.5 1003.7L1375.0 1002.2L1377.7 1000.8L1380.3 999.5L1383.0 998.2L1385.8 997.1L1388.6 996.0L1391.4 995.0L1394.2 994.0L1397.1 993.1L1399.9 992.2L1402.8 991.4L1405.7 990.7L1408.6 989.9L1411.6 989.3L1414.5 988.6L1417.4 988.0L1420.4 987.4L1423.3 986.9L1426.3 986.4L1429.3 986.0L1432.2 985.6L1435.2 985.2L1438.2 984.9L1441.2 984.7L1444.2 984.5L1447.2 984.3L1450.2 984.3L1453.2 984.2L1456.2 984.2L1459.2 984.3L1462.2 984.4L1465.2 984.6L1468.1 984.8L1471.1 985.0L1474.1 985.3L1477.1 985.6L1480.1 986.0L1483.1 986.4L1486.0 986.8L1489.0 987.3L1492.0 987.8L1494.9 988.4L1497.9 988.9L1500.8 989.6L1503.7 990.2L1506.7 990.9L1509.6 991.6L1512.5 992.3L1515.4 993.0L1518.3 993.8L1521.2 994.7L1524.1 995.5L1527.0 996.4L1529.8 997.3L1532.7 998.3L1535.5 999.2L1538.4 1000.2L1541.2 1001.2L1544.0 1002.2L1546.9 1003.3L1549.7 1004.3L1552.5 1005.3L1555.3 1006.4L1558.2 1007.4L1561.0 1008.5L1563.8 1009.5L1566.6 1010.6L1569.4 1011.6L1572.3 1012.6L1575.1 1013.7L1577.9 1014.7L1580.7 1015.8L1583.6 1016.8L1586.4 1017.8L1589.2 1018.8L1592.1 1019.8L1594.9 1020.8L1597.7 1021.8L1600.6 1022.8L1603.4 1023.8L1606.3 1024.7L1609.1 1025.7L1612.0 1026.6L1614.9 1027.5L1617.7 1028.4L1620.6 1029.3L1623.5 1030.1L1626.4 1031.0L1629.3 1031.8L1632.2 1032.6L1635.1 1033.4L1638.0 1034.2L1640.9 1035.0L1643.8 1035.7L1646.7 1036.5L1649.6 1037.2L1652.6 1037.9L1655.5 1038.5L1658.4 1039.2L1661.4 1039.8L1664.3 1040.4L1667.3 1041.0L1670.2 1041.6L1673.2 1042.1L1676.1 1042.7L1679.1 1043.2L1682.1 1043.6L1685.1 1044.1L1688.0 1044.6L1691.0 1045.0L1694.0 1045.4L1697.0 1045.8L1699.9 1046.2L1702.9 1046.6L1705.9 1046.9L1708.9 1047.2L1711.9 1047.6L1714.9 1047.9L1717.9 1048.1L1720.9 1048.4L1723.9 1048.7L1726.9 1048.9L1729.9 1049.1L1732.9 1049.3L1735.9 1049.5L1738.9 1049.7L1741.9 1049.8L1744.9 1050.0L1747.9 1050.1L1750.9 1050.2L1753.9 1050.3L1756.9 1050.4L1759.9 1050.4L1762.9 1050.5L1766.0 1050.5L1769.0 1050.5L1772.0 1050.5L1775.0 1050.5L1778.0 1050.4L1781.0 1050.4L1784.0 1050.3L1787.0 1050.2L1790.0 1050.1L1793.0 1050.0L1796.0 1049.8L1799.0 1049.7L1802.0 1049.5L1805.0 1049.3L1808.0 1049.1L1811.0 1048.8L1814.0 1048.5L1817.0 1048.2L1820.0 1047.9L1823.0 1047.5L1826.0 1047.2L1828.9 1046.8L1831.9 1046.3L1834.9 1045.9L1837.9 1045.4L1840.8 1044.9L1843.8 1044.4L1846.8 1043.9L1849.7 1043.4L1852.7 1042.9L1855.6 1042.3L1858.6 1041.8L1858.6 1041.8L1858.7 1044.6L1858.9 1047.3L1859.0 1050.1L1859.1 1052.9L1859.2 1055.7L1859.3 1058.5L1859.3 1061.3L1859.4 1064.1L1859.4 1066.9L1859.4 1069.7L1859.4 1072.5L1859.4 1075.2L1859.3 1078.0L1859.1 1080.8L1858.9 1083.6L1858.7 1086.4L1858.4 1089.1L1858.1 1091.9L1857.7 1094.6L1857.2 1097.4L1856.7 1100.1L1856.0 1102.8L1855.4 1105.5L1854.6 1108.2L1853.8 1110.9L1853.0 1113.5L1852.0 1116.1L1851.1 1118.8L1850.1 1121.4L1849.0 1123.9L1847.9 1126.5L1846.8 1129.0L1845.5 1131.5L1844.2 1134.0L1842.9 1136.4L1841.5 1138.8L1840.0 1141.1L1838.4 1143.4L1836.8 1145.6L1835.0 1147.8L1833.2 1149.9L1831.4 1152.0L1829.4 1153.9L1827.4 1155.9L1825.4 1157.7L1823.3 1159.6L1821.1 1161.3L1819.0 1163.1L1816.7 1164.8L1814.5 1166.4L1812.2 1168.0L1809.9 1169.6L1807.6 1171.1L1805.2 1172.5L1802.8 1174.0L1800.4 1175.4L1798.0 1176.8L1795.5 1178.1L1793.0 1179.4L1790.6 1180.7L1788.1 1181.9L1785.6 1183.2L1783.0 1184.4L1780.5 1185.5L1778.0 1186.7L1775.4 1187.8L1772.9 1189.0L1770.3 1190.1L1767.8 1191.2L1765.2 1192.3L1762.6 1193.4L1760.1 1194.5L1757.5 1195.6L1754.9 1196.7L1752.4 1197.9L1749.8 1199.0L1747.3 1200.1L1744.7 1201.2L1742.2 1202.4L1739.6 1203.5L1737.1 1204.6L1734.5 1205.8L1732.0 1206.9L1729.4 1208.0L1726.9 1209.2L1724.3 1210.3L1721.8 1211.5L1719.3 1212.7L1716.7 1213.9L1714.2 1215.0L1711.7 1216.2L1709.1 1217.4L1706.6 1218.6L1704.1 1219.8L1701.6 1221.1L1699.1 1222.3L1696.6 1223.5L1694.1 1224.7L1691.6 1226.0L1689.1 1227.2L1686.6 1228.5L1684.1 1229.7L1681.6 1231.0L1679.1 1232.3L1676.6 1233.6L1674.1 1234.8L1671.7 1236.1L1669.2 1237.4L1666.7 1238.7L1664.3 1240.0L1661.8 1241.3L1659.3 1242.7L1656.9 1244.0L1654.4 1245.3L1651.9 1246.6L1649.5 1247.9L1647.0 1249.3L1644.6 1250.6L1642.1 1252.0L1639.7 1253.3L1637.2 1254.7L1634.8 1256.0L1632.4 1257.4L1630.0 1258.8L1627.6 1260.2L1625.2 1261.6L1622.8 1263.1L1620.4 1264.5L1618.0 1266.0L1615.6 1267.5L1613.3 1269.0L1611.0 1270.5L1608.6 1272.1L1606.3 1273.6L1604.0 1275.2L1601.7 1276.8L1599.5 1278.5L1597.2 1280.1L1595.0 1281.7L1592.7 1283.4L1590.5 1285.1L1588.3 1286.8L1586.1 1288.5L1583.8 1290.2L1581.6 1291.9L1579.4 1293.6L1577.2 1295.3L1575.0 1297.0L1572.8 1298.7L1570.6 1300.4L1568.3 1302.1L1566.1 1303.8L1563.9 1305.5L1561.7 1307.2L1559.4 1308.8L1557.2 1310.5L1555.0 1312.2L1552.7 1313.8L1550.5 1315.5L1548.2 1317.1L1546.0 1318.8L1543.7 1320.5L1541.5 1322.1L1539.2 1323.8L1537.0 1325.4L1534.7 1327.1L1532.5 1328.7L1530.2 1330.4L1527.9 1332.0L1525.7 1333.6L1523.4 1335.3L1521.2 1336.9L1518.9 1338.6L1516.7 1340.2L1514.4 1341.9L1512.1 1343.5L1509.9 1345.1L1507.6 1346.8L1505.4 1348.4L1503.1 1350.1L1500.8 1351.7L1498.6 1353.3L1496.3 1355.0L1494.1 1356.6L1491.8 1358.3L1489.5 1359.9L1487.3 1361.5L1485.0 1363.2L1482.8 1364.8L1480.5 1366.5L1478.2 1368.1L1476.0 1369.7L1473.7 1371.4L1471.4 1373.0L1469.2 1374.6L1466.9 1376.2L1464.6 1377.8L1462.3 1379.4L1460.0 1381.1L1457.8 1382.7L1455.5 1384.3L1453.2 1385.9L1450.9 1387.5L1448.6 1389.1L1446.3 1390.7L1444.0 1392.3L1441.7 1393.9L1439.4 1395.5L1437.1 1397.0L1434.8 1398.6L1432.5 1400.2L1430.2 1401.8L1427.9 1403.3L1425.6 1404.9L1423.2 1406.4L1420.9 1407.9L1418.5 1409.4L1416.2 1410.9L1413.8 1412.3L1411.4 1413.8L1409.0 1415.2L1406.6 1416.6L1404.2 1417.9L1401.7 1419.3L1399.2 1420.6L1396.8 1421.9L1394.3 1423.2L1391.8 1424.4L1389.3 1425.7L1386.8 1426.9L1384.3 1428.1L1381.7 1429.3L1379.2 1430.5L1376.7 1431.7L1374.2 1432.8L1371.6 1434.0L1369.1 1435.2L1366.5 1436.3L1364.0 1437.5L1361.4 1438.6L1358.9 1439.8L1356.3 1440.9L1353.8 1442.0L1351.2 1443.1L1348.6 1444.1L1346.0 1445.2L1343.5 1446.3L1340.9 1447.4L1338.3 1448.5L1335.8 1449.6L1333.2 1450.7L1330.7 1451.9L1328.2 1453.1L1325.7 1454.4L1323.3 1455.7L1320.9 1457.1L1318.5 1458.5L1316.1 1460.0L1313.8 1461.5L1311.4 1463.0Z" stroke="#ff6a1a" stroke-width="4.4" fill="none" stroke-linejoin="round"/>
<path d="M1306.6 1525.0v-16.5M1306.6 901.0v16.5M1444.6 1525.0v-16.5M1444.6 901.0v16.5M1582.6 1525.0v-16.5M1582.6 901.0v16.5M1720.6 1525.0v-16.5M1720.6 901.0v16.5M1858.6 1525.0v-16.5M1858.6 901.0v16.5M1375.6 1525.0v-9.5M1375.6 901.0v9.5M1513.6 1525.0v-9.5M1513.6 901.0v9.5M1651.6 1525.0v-9.5M1651.6 901.0v9.5M1789.6 1525.0v-9.5M1789.6 901.0v9.5M1239.2 924.8h16.5M1927.5 924.8h-16.5M1239.2 1165.5h16.5M1927.5 1165.5h-16.5M1239.2 1406.2h16.5M1927.5 1406.2h-16.5M1239.2 972.9h9.5M1927.5 972.9h-9.5M1239.2 1021.1h9.5M1927.5 1021.1h-9.5M1239.2 1069.2h9.5M1927.5 1069.2h-9.5M1239.2 1117.4h9.5M1927.5 1117.4h-9.5M1239.2 1213.6h9.5M1927.5 1213.6h-9.5M1239.2 1261.8h9.5M1927.5 1261.8h-9.5M1239.2 1309.9h9.5M1927.5 1309.9h-9.5M1239.2 1358.1h9.5M1927.5 1358.1h-9.5M1239.2 1454.3h9.5M1927.5 1454.3h-9.5M1239.2 1502.5h9.5M1927.5 1502.5h-9.5" stroke="#111" stroke-width="4.4" fill="none"/>
<rect x="1239.2" y="901.0" width="688.3" height="624.0" fill="none" stroke="#111" stroke-width="5.0"/>
<text transform="translate(1176.6,941.2) scale(0.7249,1)" font-size="53.0" textLength="56.40" lengthAdjust="spacing" stroke="#000" stroke-width="0.69" stroke-linejoin="round">50</text>
<text transform="translate(1197.1,1181.9) scale(0.6934,1)" font-size="53.0" textLength="29.48" lengthAdjust="spacing" stroke="#000" stroke-width="0.69" stroke-linejoin="round">0</text>
<text transform="translate(1164.4,1422.6) scale(0.7418,1)" font-size="53.0" textLength="71.60" lengthAdjust="spacing" stroke="#000" stroke-width="0.69" stroke-linejoin="round">-50</text>
<text transform="translate(1277.3,1580.5) scale(0.7765,1)" font-size="53.0" textLength="68.90" lengthAdjust="spacing" stroke="#000" stroke-width="0.69" stroke-linejoin="round">0.0</text>
<text transform="translate(1415.3,1580.5) scale(0.7765,1)" font-size="53.0" textLength="68.90" lengthAdjust="spacing" stroke="#000" stroke-width="0.69" stroke-linejoin="round">0.2</text>
<text transform="translate(1553.3,1580.5) scale(0.7765,1)" font-size="53.0" textLength="68.90" lengthAdjust="spacing" stroke="#000" stroke-width="0.69" stroke-linejoin="round">0.4</text>
<text transform="translate(1691.3,1580.5) scale(0.7765,1)" font-size="53.0" textLength="68.90" lengthAdjust="spacing" stroke="#000" stroke-width="0.69" stroke-linejoin="round">0.6</text>
<text transform="translate(1829.3,1580.5) scale(0.7765,1)" font-size="53.0" textLength="68.90" lengthAdjust="spacing" stroke="#000" stroke-width="0.69" stroke-linejoin="round">0.8</text>
<text transform="translate(1268.0,1660.0) scale(0.8161,1)" font-size="66.0" textLength="703.36" lengthAdjust="spacing" font-weight="bold">Potential (V vs. Ag/AgCl)</text>
<text transform="translate(1129.3,1472.0) rotate(-90) translate(0.0,0) scale(0.7600,1)" font-size="73.0" textLength="627.63" lengthAdjust="spacing" stroke="#000" stroke-width="2.40" stroke-linejoin="round">Current density (A g</text>
<text transform="translate(1096.0,987.0) rotate(-90) translate(0.0,0) scale(0.8771,1)" font-size="42.0" textLength="47.89" lengthAdjust="spacing" stroke="#000" stroke-width="0.55" stroke-linejoin="round">−1</text>
<text transform="translate(1129.3,944.5) rotate(-90) translate(0.0,0) scale(0.7815,1)" font-size="73.0" textLength="24.31" lengthAdjust="spacing" stroke="#000" stroke-width="0.95" stroke-linejoin="round">)</text>
<text transform="translate(991.2,946.4) scale(0.8033,1)" font-size="72.0" textLength="77.68" lengthAdjust="spacing" stroke="#000" stroke-width="2.20" stroke-linejoin="round">(c)</text>
<text transform="translate(1261.7,965.6) scale(0.7501,1)" font-size="45.7" textLength="71.99" lengthAdjust="spacing" stroke="#000" stroke-width="0.59" stroke-linejoin="round">300</text>
<text transform="translate(1336.3,965.6) scale(0.7627,1)" font-size="45.7" textLength="97.81" lengthAdjust="spacing" stroke="#000" stroke-width="0.59" stroke-linejoin="round">mV s</text>
<text transform="translate(1429.3,943.0) scale(0.8200,1)" font-size="24.0" textLength="21.10" lengthAdjust="spacing" stroke="#000" stroke-width="0.31" stroke-linejoin="round">-1</text>
<text transform="translate(1269.9,1187.4) scale(0.7633,1)" font-size="45.7" textLength="25.42" lengthAdjust="spacing" stroke="#000" stroke-width="0.59" stroke-linejoin="round">5</text>
<path d="M1278.4 1147.5V990" stroke="#111" stroke-width="5" fill="none"/>
<path d="M1278.4 968.5L1269.6 996H1287.2Z" fill="#111"/>
<text transform="translate(1706.4,977.0) scale(0.7582,1)" font-size="46.5" textLength="212.35" lengthAdjust="spacing" font-weight="bold" stroke="#000" stroke-width="1.40" stroke-linejoin="round">MCFC-900</text>
<path d="M306.0 2362.3v-16.5M306.0 1739.5v16.5M409.2 2362.3v-16.5M409.2 1739.5v16.5M512.3 2362.3v-16.5M512.3 1739.5v16.5M615.5 2362.3v-16.5M615.5 1739.5v16.5M718.7 2362.3v-16.5M718.7 1739.5v16.5M821.8 2362.3v-16.5M821.8 1739.5v16.5M925.0 2362.3v-16.5M925.0 1739.5v16.5M357.6 2362.3v-9.5M357.6 1739.5v9.5M460.8 2362.3v-9.5M460.8 1739.5v9.5M563.9 2362.3v-9.5M563.9 1739.5v9.5M667.1 2362.3v-9.5M667.1 1739.5v9.5M770.2 2362.3v-9.5M770.2 1739.5v9.5M873.4 2362.3v-9.5M873.4 1739.5v9.5M286.5 2167.4h16.5M974.5 2167.4h-16.5M286.5 1972.6h16.5M974.5 1972.6h-16.5M286.5 1777.7h16.5M974.5 1777.7h-16.5M286.5 2313.6h9.5M974.5 2313.6h-9.5M286.5 2264.9h9.5M974.5 2264.9h-9.5M286.5 2216.2h9.5M974.5 2216.2h-9.5M286.5 2118.7h9.5M974.5 2118.7h-9.5M286.5 2070.0h9.5M974.5 2070.0h-9.5M286.5 2021.3h9.5M974.5 2021.3h-9.5M286.5 1923.9h9.5M974.5 1923.9h-9.5M286.5 1875.1h9.5M974.5 1875.1h-9.5M286.5 1826.4h9.5M974.5 1826.4h-9.5" stroke="#111" stroke-width="4.4" fill="none"/>
<rect x="286.5" y="1739.5" width="688.0" height="622.8" fill="none" stroke="#111" stroke-width="5.0"/>
<path d="M316.3 1805.0L326.6 1810.8L347.3 1835.2L409.2 1890.7L471.1 1917.0L512.3 1930.7L553.6 1936.5L615.5 1951.1L677.4 1960.9L718.7 1964.8L821.8 1980.4L925.0 1990.1" stroke="#2a50b4" stroke-width="4.4" fill="none"/><ellipse cx="316.3" cy="1805.0" rx="12.5" ry="14.5" fill="#fff" stroke="#2a50b4" stroke-width="2.4" stroke-opacity="0.82"/><path d="M316.3 1790.5A12.5 14.5 0 0 1 316.3 1819.5Z" fill="#2a50b4" stroke="#2a50b4" stroke-width="3.0"/><ellipse cx="326.6" cy="1810.8" rx="12.5" ry="14.5" fill="#fff" stroke="#2a50b4" stroke-width="2.4" stroke-opacity="0.82"/><path d="M326.6 1796.3A12.5 14.5 0 0 1 326.6 1825.3Z" fill="#2a50b4" stroke="#2a50b4" stroke-width="3.0"/><ellipse cx="347.3" cy="1835.2" rx="12.5" ry="14.5" fill="#fff" stroke="#2a50b4" stroke-width="2.4" stroke-opacity="0.82"/><path d="M347.3 1820.7A12.5 14.5 0 0 1 347.3 1849.7Z" fill="#2a50b4" stroke="#2a50b4" stroke-width="3.0"/><ellipse cx="409.2" cy="1890.7" rx="12.5" ry="14.5" fill="#fff" stroke="#2a50b4" stroke-width="2.4" stroke-opacity="0.82"/><path d="M409.2 1876.2A12.5 14.5 0 0 1 409.2 1905.2Z" fill="#2a50b4" stroke="#2a50b4" stroke-width="3.0"/><ellipse cx="471.1" cy="1917.0" rx="12.5" ry="14.5" fill="#fff" stroke="#2a50b4" stroke-width="2.4" stroke-opacity="0.82"/><path d="M471.1 1902.5A12.5 14.5 0 0 1 471.1 1931.5Z" fill="#2a50b4" stroke="#2a50b4" stroke-width="3.0"/><ellipse cx="512.3" cy="1930.7" rx="12.5" ry="14.5" fill="#fff" stroke="#2a50b4" stroke-width="2.4" stroke-opacity="0.82"/><path d="M512.3 1916.2A12.5 14.5 0 0 1 512.3 1945.2Z" fill="#2a50b4" stroke="#2a50b4" stroke-width="3.0"/><ellipse cx="553.6" cy="1936.5" rx="12.5" ry="14.5" fill="#fff" stroke="#2a50b4" stroke-width="2.4" stroke-opacity="0.82"/><path d="M553.6 1922.0A12.5 14.5 0 0 1 553.6 1951.0Z" fill="#2a50b4" stroke="#2a50b4" stroke-width="3.0"/><ellipse cx="615.5" cy="1951.1" rx="12.5" ry="14.5" fill="#fff" stroke="#2a50b4" stroke-width="2.4" stroke-opacity="0.82"/><path d="M615.5 1936.6A12.5 14.5 0 0 1 615.5 1965.6Z" fill="#2a50b4" stroke="#2a50b4" stroke-width="3.0"/><ellipse cx="677.4" cy="1960.9" rx="12.5" ry="14.5" fill="#fff" stroke="#2a50b4" stroke-width="2.4" stroke-opacity="0.82"/><path d="M677.4 1946.4A12.5 14.5 0 0 1 677.4 1975.4Z" fill="#2a50b4" stroke="#2a50b4" stroke-width="3.0"/><ellipse cx="718.7" cy="1964.8" rx="12.5" ry="14.5" fill="#fff" stroke="#2a50b4" stroke-width="2.4" stroke-opacity="0.82"/><path d="M718.7 1950.3A12.5 14.5 0 0 1 718.7 1979.3Z" fill="#2a50b4" stroke="#2a50b4" stroke-width="3.0"/><ellipse cx="821.8" cy="1980.4" rx="12.5" ry="14.5" fill="#fff" stroke="#2a50b4" stroke-width="2.4" stroke-opacity="0.82"/><path d="M821.8 1965.9A12.5 14.5 0 0 1 821.8 1994.9Z" fill="#2a50b4" stroke="#2a50b4" stroke-width="3.0"/><ellipse cx="925.0" cy="1990.1" rx="12.5" ry="14.5" fill="#fff" stroke="#2a50b4" stroke-width="2.4" stroke-opacity="0.82"/><path d="M925.0 1975.6A12.5 14.5 0 0 1 925.0 2004.6Z" fill="#2a50b4" stroke="#2a50b4" stroke-width="3.0"/>
<path d="M316.3 2301.9L326.6 2303.8L347.3 2306.8L409.2 2314.6L471.1 2317.5L512.3 2320.4L553.6 2321.4L615.5 2322.4L677.4 2323.3L718.7 2324.3L821.8 2325.3L925.0 2326.8" stroke="#d455ae" stroke-width="4.6" fill="none"/><ellipse cx="316.3" cy="2301.9" rx="10.5" ry="12.5" fill="#fff" stroke="#d455ae" stroke-width="2.2" stroke-opacity="0.82"/><path d="M316.3 2289.4A10.5 12.5 0 0 1 316.3 2314.4Z" fill="#d455ae" stroke="#d455ae" stroke-width="2.8"/><ellipse cx="326.6" cy="2303.8" rx="10.5" ry="12.5" fill="#fff" stroke="#d455ae" stroke-width="2.2" stroke-opacity="0.82"/><path d="M326.6 2291.3A10.5 12.5 0 0 1 326.6 2316.3Z" fill="#d455ae" stroke="#d455ae" stroke-width="2.8"/><ellipse cx="347.3" cy="2306.8" rx="10.5" ry="12.5" fill="#fff" stroke="#d455ae" stroke-width="2.2" stroke-opacity="0.82"/><path d="M347.3 2294.3A10.5 12.5 0 0 1 347.3 2319.3Z" fill="#d455ae" stroke="#d455ae" stroke-width="2.8"/><ellipse cx="409.2" cy="2314.6" rx="10.5" ry="12.5" fill="#fff" stroke="#d455ae" stroke-width="2.2" stroke-opacity="0.82"/><path d="M409.2 2302.1A10.5 12.5 0 0 1 409.2 2327.1Z" fill="#d455ae" stroke="#d455ae" stroke-width="2.8"/><ellipse cx="471.1" cy="2317.5" rx="10.5" ry="12.5" fill="#fff" stroke="#d455ae" stroke-width="2.2" stroke-opacity="0.82"/><path d="M471.1 2305.0A10.5 12.5 0 0 1 471.1 2330.0Z" fill="#d455ae" stroke="#d455ae" stroke-width="2.8"/><ellipse cx="512.3" cy="2320.4" rx="10.5" ry="12.5" fill="#fff" stroke="#d455ae" stroke-width="2.2" stroke-opacity="0.82"/><path d="M512.3 2307.9A10.5 12.5 0 0 1 512.3 2332.9Z" fill="#d455ae" stroke="#d455ae" stroke-width="2.8"/><ellipse cx="553.6" cy="2321.4" rx="10.5" ry="12.5" fill="#fff" stroke="#d455ae" stroke-width="2.2" stroke-opacity="0.82"/><path d="M553.6 2308.9A10.5 12.5 0 0 1 553.6 2333.9Z" fill="#d455ae" stroke="#d455ae" stroke-width="2.8"/><ellipse cx="615.5" cy="2322.4" rx="10.5" ry="12.5" fill="#fff" stroke="#d455ae" stroke-width="2.2" stroke-opacity="0.82"/><path d="M615.5 2309.9A10.5 12.5 0 0 1 615.5 2334.9Z" fill="#d455ae" stroke="#d455ae" stroke-width="2.8"/><ellipse cx="677.4" cy="2323.3" rx="10.5" ry="12.5" fill="#fff" stroke="#d455ae" stroke-width="2.2" stroke-opacity="0.82"/><path d="M677.4 2310.8A10.5 12.5 0 0 1 677.4 2335.8Z" fill="#d455ae" stroke="#d455ae" stroke-width="2.8"/><ellipse cx="718.7" cy="2324.3" rx="10.5" ry="12.5" fill="#fff" stroke="#d455ae" stroke-width="2.2" stroke-opacity="0.82"/><path d="M718.7 2311.8A10.5 12.5 0 0 1 718.7 2336.8Z" fill="#d455ae" stroke="#d455ae" stroke-width="2.8"/><ellipse cx="821.8" cy="2325.3" rx="10.5" ry="12.5" fill="#fff" stroke="#d455ae" stroke-width="2.2" stroke-opacity="0.82"/><path d="M821.8 2312.8A10.5 12.5 0 0 1 821.8 2337.8Z" fill="#d455ae" stroke="#d455ae" stroke-width="2.8"/><ellipse cx="925.0" cy="2326.8" rx="10.5" ry="12.5" fill="#fff" stroke="#d455ae" stroke-width="2.2" stroke-opacity="0.82"/><path d="M925.0 2314.3A10.5 12.5 0 0 1 925.0 2339.3Z" fill="#d455ae" stroke="#d455ae" stroke-width="2.8"/>
<path d="M316.3 2334.0L326.6 2334.6L347.3 2336.0L409.2 2338.9L471.1 2339.9L512.3 2340.5L553.6 2340.9L615.5 2341.1L677.4 2341.8L718.7 2342.4L821.8 2343.2L925.0 2344.4" stroke="#ff1f2d" stroke-width="4.6" fill="none"/><path d="M316.3 2318.0L331.3 2334.0L316.3 2350.0L301.3 2334.0Z" fill="#ff1f2d"/><path d="M326.6 2318.6L341.6 2334.6L326.6 2350.6L311.6 2334.6Z" fill="#ff1f2d"/><path d="M347.3 2320.0L362.3 2336.0L347.3 2352.0L332.3 2336.0Z" fill="#ff1f2d"/><path d="M409.2 2322.9L424.2 2338.9L409.2 2354.9L394.2 2338.9Z" fill="#ff1f2d"/><path d="M471.1 2323.9L486.1 2339.9L471.1 2355.9L456.1 2339.9Z" fill="#ff1f2d"/><path d="M512.3 2324.5L527.3 2340.5L512.3 2356.5L497.3 2340.5Z" fill="#ff1f2d"/><path d="M553.6 2324.9L568.6 2340.9L553.6 2356.9L538.6 2340.9Z" fill="#ff1f2d"/><path d="M615.5 2325.1L630.5 2341.1L615.5 2357.1L600.5 2341.1Z" fill="#ff1f2d"/><path d="M677.4 2325.8L692.4 2341.8L677.4 2357.8L662.4 2341.8Z" fill="#ff1f2d"/><path d="M718.7 2326.4L733.7 2342.4L718.7 2358.4L703.7 2342.4Z" fill="#ff1f2d"/><path d="M821.8 2327.2L836.8 2343.2L821.8 2359.2L806.8 2343.2Z" fill="#ff1f2d"/><path d="M925.0 2328.4L940.0 2344.4L925.0 2360.4L910.0 2344.4Z" fill="#ff1f2d"/>
<text transform="translate(202.5,1794.1) scale(0.7262,1)" font-size="53.0" textLength="83.32" lengthAdjust="spacing" stroke="#000" stroke-width="0.69" stroke-linejoin="round">300</text>
<text transform="translate(202.5,1989.0) scale(0.7262,1)" font-size="53.0" textLength="83.32" lengthAdjust="spacing" stroke="#000" stroke-width="0.69" stroke-linejoin="round">200</text>
<text transform="translate(202.5,2183.8) scale(0.7262,1)" font-size="53.0" textLength="83.32" lengthAdjust="spacing" stroke="#000" stroke-width="0.69" stroke-linejoin="round">100</text>
<text transform="translate(242.8,2378.7) scale(0.6842,1)" font-size="53.0" textLength="29.48" lengthAdjust="spacing" stroke="#000" stroke-width="0.69" stroke-linejoin="round">0</text>
<text transform="translate(293.3,2420.0) scale(0.6610,1)" font-size="53.0" textLength="29.48" lengthAdjust="spacing" stroke="#000" stroke-width="0.69" stroke-linejoin="round">0</text>
<text transform="translate(386.7,2420.0) scale(0.6925,1)" font-size="53.0" textLength="56.28" lengthAdjust="spacing" stroke="#000" stroke-width="0.69" stroke-linejoin="round">50</text>
<text transform="translate(480.1,2420.0) scale(0.7030,1)" font-size="53.0" textLength="83.15" lengthAdjust="spacing" stroke="#000" stroke-width="0.69" stroke-linejoin="round">100</text>
<text transform="translate(583.3,2420.0) scale(0.7030,1)" font-size="53.0" textLength="83.15" lengthAdjust="spacing" stroke="#000" stroke-width="0.69" stroke-linejoin="round">150</text>
<text transform="translate(686.4,2420.0) scale(0.7030,1)" font-size="53.0" textLength="83.15" lengthAdjust="spacing" stroke="#000" stroke-width="0.69" stroke-linejoin="round">200</text>
<text transform="translate(789.6,2420.0) scale(0.7030,1)" font-size="53.0" textLength="83.15" lengthAdjust="spacing" stroke="#000" stroke-width="0.69" stroke-linejoin="round">250</text>
<text transform="translate(892.8,2420.0) scale(0.7030,1)" font-size="53.0" textLength="83.15" lengthAdjust="spacing" stroke="#000" stroke-width="0.69" stroke-linejoin="round">300</text>
<text transform="translate(475.5,2473.5) scale(0.7423,1)" font-size="46.7" textLength="192.65" lengthAdjust="spacing" font-weight="bold">Scan rate</text>
<text transform="translate(650.7,2473.5) scale(0.7552,1)" font-size="46.7" textLength="118.52" lengthAdjust="spacing" font-weight="bold">(mV s</text>
<text transform="translate(749.7,2453.5) scale(0.7616,1)" font-size="27.0" textLength="29.54" lengthAdjust="spacing" font-weight="bold">−1</text>
<text transform="translate(774.7,2473.5) scale(0.8358,1)" font-size="46.7" textLength="15.55" lengthAdjust="spacing" font-weight="bold">)</text>
<text transform="translate(169.0,2122.3) rotate(-90) translate(0.0,0) scale(0.7177,1)" font-size="71.0" textLength="51.28" lengthAdjust="spacing" font-weight="bold">C</text>
<text transform="translate(193.5,2083.4) rotate(-90) translate(0.0,0) scale(0.7233,1)" font-size="44.0" textLength="24.47" lengthAdjust="spacing" font-weight="bold">s</text>
<text transform="translate(169.0,2047.3) rotate(-90) translate(0.0,0) scale(0.7644,1)" font-size="71.0" textLength="120.36" lengthAdjust="spacing" font-weight="bold">(F g</text>
<text transform="translate(136.3,1948.6) rotate(-90) translate(0.0,0) scale(0.7976,1)" font-size="43.0" textLength="47.14" lengthAdjust="spacing" font-weight="bold">−1</text>
<text transform="translate(169.0,1905.0) rotate(-90) translate(0.0,0) scale(0.6640,1)" font-size="71.0" textLength="23.65" lengthAdjust="spacing" font-weight="bold">)</text>
<text transform="translate(42.1,1764.0) scale(0.8133,1)" font-size="73.0" textLength="86.93" lengthAdjust="spacing" font-weight="bold">(d)</text>
<path d="M625 2071.0H733.7" stroke="#2a50b4" stroke-width="4.5" fill="none"/>
<ellipse cx="680.0" cy="2071.0" rx="12.5" ry="14.5" fill="#fff" stroke="#2a50b4" stroke-width="2.4" stroke-opacity="0.82"/><path d="M680.0 2056.5A12.5 14.5 0 0 1 680.0 2085.5Z" fill="#2a50b4" stroke="#2a50b4" stroke-width="3.0"/>
<text transform="translate(744.0,2085.0) scale(0.7418,1)" font-size="47.0" textLength="225.14" lengthAdjust="spacing" font-weight="bold" stroke="#000" stroke-width="1.40" stroke-linejoin="round">MCFC -900</text>
<path d="M625 2146.3H733.7" stroke="#d455ae" stroke-width="4.5" fill="none"/>
<ellipse cx="680.0" cy="2146.3" rx="10.5" ry="12.5" fill="#fff" stroke="#d455ae" stroke-width="2.2" stroke-opacity="0.82"/><path d="M680.0 2133.8A10.5 12.5 0 0 1 680.0 2158.8Z" fill="#d455ae" stroke="#d455ae" stroke-width="2.8"/>
<text transform="translate(744.0,2160.3) scale(0.7613,1)" font-size="47.0" textLength="249.57" lengthAdjust="spacing" font-weight="bold" stroke="#000" stroke-width="1.40" stroke-linejoin="round">MCFC -1500</text>
<path d="M625 2221.6H733.7" stroke="#ff1f2d" stroke-width="4.5" fill="none"/>
<path d="M680.0 2205.6L695.0 2221.6L680.0 2237.6L665.0 2221.6Z" fill="#ff1f2d"/>
<text transform="translate(744.0,2235.6) scale(0.7613,1)" font-size="47.0" textLength="249.57" lengthAdjust="spacing" font-weight="bold" stroke="#000" stroke-width="1.40" stroke-linejoin="round">MCFC -2000</text>
<path d="M1259.7 2362.0L1260.9 2358.3L1262.1 2354.7L1263.3 2351.0L1264.6 2347.4L1265.8 2343.7L1267.0 2340.1L1268.3 2336.5L1269.6 2332.8L1270.9 2329.2L1272.3 2325.6L1273.7 2322.0L1275.1 2318.5L1276.6 2314.9L1278.1 2311.4L1279.6 2307.8L1281.1 2304.3L1282.7 2300.8L1284.4 2297.3L1286.0 2293.9L1287.7 2290.4L1289.4 2286.9L1291.1 2283.5L1292.8 2280.0L1294.5 2276.6L1296.3 2273.2L1298.0 2269.8L1299.8 2266.3L1301.6 2262.9L1303.3 2259.5L1305.1 2256.0L1306.8 2252.6L1308.6 2249.2L1310.4 2245.8L1312.1 2242.4L1313.9 2238.9L1315.7 2235.5L1317.4 2232.1L1319.2 2228.7L1321.0 2225.2L1322.7 2221.8L1324.5 2218.4L1326.2 2214.9L1328.0 2211.5L1329.7 2208.1L1331.5 2204.6L1333.2 2201.2L1335.0 2197.8L1336.7 2194.3L1338.4 2190.9L1340.1 2187.4L1341.8 2184.0L1343.5 2180.5L1345.2 2177.1L1346.9 2173.6L1348.6 2170.2L1350.3 2166.7L1352.0 2163.2L1353.7 2159.8L1355.4 2156.3L1357.0 2152.8L1358.7 2149.4L1360.4 2145.9L1362.0 2142.4L1363.7 2138.9L1365.3 2135.4L1367.0 2132.0L1368.6 2128.5L1370.3 2125.0L1371.9 2121.5L1373.6 2118.0L1375.2 2114.6L1376.9 2111.1L1378.5 2107.6L1380.1 2104.1L1381.8 2100.6L1383.4 2097.1L1385.1 2093.6L1386.7 2090.2L1388.3 2086.7L1390.0 2083.2L1391.6 2079.7L1393.2 2076.2L1394.8 2072.7L1396.5 2069.2L1398.1 2065.7L1399.7 2062.2L1401.3 2058.7L1402.9 2055.2L1404.5 2051.7L1406.1 2048.2L1407.8 2044.7L1409.4 2041.2L1411.0 2037.7L1412.6 2034.2L1414.2 2030.7L1415.8 2027.2L1417.4 2023.7L1419.0 2020.2L1420.6 2016.7L1422.2 2013.2L1423.8 2009.7L1425.4 2006.2L1427.0 2002.7L1428.6 1999.2L1430.2 1995.7L1431.8 1992.2L1433.4 1988.7L1435.1 1985.2L1436.7 1981.7L1438.3 1978.2L1440.0 1974.7L1441.6 1971.3L1443.3 1967.8L1444.9 1964.3L1446.6 1960.8L1448.2 1957.3L1449.9 1953.9L1451.6 1950.4L1453.3 1946.9L1455.0 1943.5L1456.6 1940.0L1458.4 1936.6L1460.1 1933.1L1461.8 1929.7L1463.5 1926.2L1465.2 1922.8L1467.0 1919.3L1468.7 1915.9L1470.5 1912.5L1472.2 1909.1L1474.0 1905.6L1475.8 1902.2L1477.6 1898.8L1479.4 1895.4L1481.2 1892.0L1483.0 1888.6L1484.9 1885.3L1486.7 1881.9L1488.6 1878.5L1490.5 1875.2L1492.4 1871.8L1494.3 1868.5L1496.3 1865.2L1498.2 1861.8L1500.2 1858.5L1502.2 1855.2L1504.2 1851.9L1506.2 1848.6L1508.2 1845.4L1510.2 1842.1L1512.3 1838.8L1514.3 1835.6L1516.4 1832.3L1518.4 1829.0L1520.5 1825.8L1522.5 1822.5L1524.6 1819.3L1526.6 1816.0L1528.7 1812.8L1530.8 1809.5L1531.2 1812.8L1531.6 1816.0L1532.1 1819.3L1532.5 1822.5L1533.0 1825.8L1533.4 1829.1L1533.9 1832.3L1534.4 1835.6L1534.9 1838.8L1535.4 1842.1L1535.9 1845.3L1536.5 1848.6L1537.0 1851.8L1537.6 1855.0L1538.2 1858.3L1538.9 1861.5L1539.5 1864.7L1540.2 1867.9L1540.9 1871.1L1541.6 1874.3L1542.3 1877.5L1543.0 1880.8L1543.8 1884.0L1544.6 1887.1L1545.4 1890.3L1546.1 1893.5L1547.0 1896.7L1547.8 1899.9L1548.6 1903.1L1549.4 1906.3L1550.2 1909.5L1551.1 1912.7L1551.9 1915.8L1552.7 1919.0L1553.6 1922.2L1554.4 1925.4L1555.3 1928.6L1556.1 1931.7L1557.0 1934.9L1557.8 1938.1L1558.7 1941.3L1559.5 1944.5L1560.4 1947.6L1561.2 1950.8L1562.1 1954.0L1563.0 1957.2L1563.9 1960.3L1564.7 1963.5L1565.6 1966.7L1566.5 1969.8L1567.4 1973.0L1568.3 1976.2L1569.2 1979.3L1570.1 1982.5L1571.0 1985.7L1571.9 1988.8L1572.8 1992.0L1573.7 1995.1L1574.7 1998.3L1575.6 2001.5L1576.6 2004.6L1577.5 2007.8L1578.5 2010.9L1579.4 2014.0L1580.4 2017.2L1581.4 2020.3L1582.4 2023.5L1583.4 2026.6L1584.4 2029.7L1585.5 2032.8L1586.5 2036.0L1587.6 2039.1L1588.7 2042.2L1589.8 2045.3L1590.9 2048.4L1592.0 2051.4L1593.2 2054.5L1594.4 2057.6L1595.6 2060.6L1596.8 2063.7L1598.0 2066.7L1599.3 2069.8L1600.6 2072.8L1601.9 2075.8L1603.2 2078.8L1604.6 2081.8L1605.9 2084.8L1607.3 2087.8L1608.7 2090.8L1610.0 2093.8L1611.5 2096.8L1612.9 2099.7L1614.3 2102.7L1615.7 2105.7L1617.2 2108.6L1618.6 2111.6L1620.1 2114.5L1621.5 2117.5L1623.0 2120.4L1624.5 2123.3L1626.0 2126.3L1627.5 2129.2L1629.0 2132.1L1630.5 2135.0L1632.1 2137.9L1633.6 2140.8L1635.2 2143.7L1636.8 2146.6L1638.3 2149.5L1639.9 2152.4L1641.6 2155.2L1643.2 2158.1L1644.8 2161.0L1646.5 2163.8L1648.1 2166.6L1649.8 2169.5L1651.5 2172.3L1653.2 2175.1L1654.9 2177.9L1656.6 2180.7L1658.3 2183.5L1660.1 2186.3L1661.8 2189.1L1663.6 2191.9L1665.4 2194.6L1667.1 2197.4L1668.9 2200.2L1670.7 2202.9L1672.6 2205.7L1674.4 2208.4L1676.2 2211.2L1678.0 2213.9L1679.9 2216.6L1681.7 2219.3L1683.6 2222.0L1685.5 2224.8L1687.3 2227.5L1689.2 2230.2L1691.1 2232.8L1693.0 2235.5L1694.9 2238.2L1696.8 2240.9L1698.8 2243.5L1700.7 2246.2L1702.6 2248.9L1704.6 2251.5L1706.6 2254.1L1708.6 2256.7L1710.6 2259.4L1712.6 2262.0L1714.6 2264.6L1716.6 2267.1L1718.7 2269.7L1720.7 2272.3L1722.8 2274.8L1724.9 2277.4L1727.0 2279.9L1729.1 2282.4L1731.2 2284.9L1733.4 2287.4L1735.5 2289.9L1737.7 2292.4L1739.9 2294.8L1742.1 2297.3L1744.3 2299.7L1746.5 2302.1L1748.8 2304.5L1751.1 2306.8L1753.4 2309.2L1755.7 2311.5L1758.1 2313.8L1760.4 2316.0L1762.8 2318.3L1765.3 2320.4L1767.7 2322.6L1770.2 2324.7L1772.8 2326.8L1775.3 2328.9L1777.9 2330.9L1780.5 2332.8L1783.2 2334.7L1785.8 2336.6L1788.5 2338.5L1791.3 2340.3L1794.0 2342.0L1796.8 2343.7L1799.6 2345.3L1802.5 2346.9L1805.4 2348.4L1808.3 2349.9L1811.2 2351.3L1814.1 2352.7L1817.1 2354.0L1820.1 2355.2L1823.1 2356.4L1826.2 2357.6L1829.2 2358.7L1832.3 2359.8L1835.4 2360.9L1838.5 2362.0" stroke="#111111" stroke-width="4.8" fill="none" stroke-linejoin="round"/>
<path d="M1258.8 2362.0L1259.3 2358.5L1259.8 2355.0L1260.3 2351.5L1260.8 2348.0L1261.3 2344.5L1261.8 2341.0L1262.4 2337.5L1262.9 2334.0L1263.5 2330.5L1264.1 2327.1L1264.6 2323.6L1265.2 2320.1L1265.9 2316.6L1266.5 2313.1L1267.2 2309.7L1267.8 2306.2L1268.5 2302.7L1269.2 2299.3L1269.9 2295.8L1270.7 2292.4L1271.4 2288.9L1272.2 2285.5L1272.9 2282.0L1273.7 2278.6L1274.4 2275.1L1275.2 2271.7L1276.0 2268.2L1276.8 2264.8L1277.6 2261.3L1278.3 2257.9L1279.1 2254.4L1279.9 2251.0L1280.7 2247.5L1281.5 2244.1L1282.2 2240.6L1283.0 2237.2L1283.8 2233.7L1284.6 2230.3L1285.4 2226.8L1286.2 2223.4L1286.9 2220.0L1287.7 2216.5L1288.5 2213.1L1289.3 2209.6L1290.0 2206.2L1290.8 2202.7L1291.6 2199.3L1292.3 2195.8L1293.1 2192.4L1293.9 2188.9L1294.6 2185.5L1295.4 2182.0L1296.1 2178.5L1296.9 2175.1L1297.6 2171.6L1298.4 2168.2L1299.1 2164.7L1299.8 2161.3L1300.6 2157.8L1301.3 2154.4L1302.0 2150.9L1302.8 2147.4L1303.5 2144.0L1304.2 2140.5L1304.9 2137.1L1305.7 2133.6L1306.4 2130.1L1307.1 2126.7L1307.8 2123.2L1308.6 2119.8L1309.3 2116.3L1310.0 2112.8L1310.7 2109.4L1311.4 2105.9L1312.2 2102.5L1312.9 2099.0L1313.6 2095.5L1314.3 2092.1L1315.0 2088.6L1315.7 2085.2L1316.4 2081.7L1317.1 2078.2L1317.9 2074.8L1318.6 2071.3L1319.3 2067.8L1320.0 2064.4L1320.7 2060.9L1321.4 2057.5L1322.1 2054.0L1322.8 2050.5L1323.5 2047.1L1324.2 2043.6L1324.9 2040.1L1325.6 2036.7L1326.3 2033.2L1327.0 2029.7L1327.7 2026.3L1328.4 2022.8L1329.1 2019.3L1329.8 2015.9L1330.5 2012.4L1331.2 2009.0L1331.9 2005.5L1332.6 2002.0L1333.3 1998.6L1334.0 1995.1L1334.7 1991.6L1335.4 1988.2L1336.1 1984.7L1336.8 1981.2L1337.5 1977.8L1338.2 1974.3L1339.0 1970.9L1339.7 1967.4L1340.4 1963.9L1341.1 1960.5L1341.9 1957.0L1342.6 1953.6L1343.3 1950.1L1344.1 1946.7L1344.8 1943.2L1345.6 1939.8L1346.3 1936.3L1347.1 1932.8L1347.8 1929.4L1348.6 1925.9L1349.3 1922.5L1350.1 1919.0L1350.9 1915.6L1351.7 1912.1L1352.5 1908.7L1353.2 1905.3L1354.0 1901.8L1354.8 1898.4L1355.6 1894.9L1356.5 1891.5L1357.3 1888.0L1358.1 1884.6L1358.9 1881.2L1359.8 1877.8L1360.6 1874.3L1361.5 1870.9L1362.4 1867.5L1363.3 1864.0L1364.1 1860.6L1365.0 1857.2L1366.0 1853.8L1366.9 1850.4L1367.8 1847.0L1368.7 1843.6L1369.6 1840.1L1370.6 1836.7L1371.5 1833.3L1372.5 1829.9L1373.4 1826.5L1374.4 1823.1L1375.3 1819.7L1376.3 1816.3L1377.2 1812.9L1378.2 1809.5L1378.3 1812.3L1378.5 1815.2L1378.7 1818.0L1378.9 1820.9L1379.1 1823.7L1379.3 1826.6L1379.5 1829.4L1379.7 1832.2L1379.9 1835.1L1380.1 1837.9L1380.3 1840.8L1380.5 1843.6L1380.7 1846.5L1380.9 1849.3L1381.1 1852.1L1381.4 1855.0L1381.6 1857.8L1381.8 1860.7L1382.0 1863.5L1382.3 1866.4L1382.5 1869.2L1382.8 1872.0L1383.0 1874.9L1383.3 1877.7L1383.6 1880.5L1383.9 1883.4L1384.2 1886.2L1384.5 1889.0L1384.8 1891.9L1385.1 1894.7L1385.5 1897.5L1385.8 1900.4L1386.1 1903.2L1386.5 1906.0L1386.9 1908.8L1387.2 1911.7L1387.6 1914.5L1388.0 1917.3L1388.4 1920.1L1388.8 1923.0L1389.2 1925.8L1389.6 1928.6L1390.0 1931.4L1390.4 1934.2L1390.8 1937.1L1391.2 1939.9L1391.6 1942.7L1392.0 1945.5L1392.4 1948.4L1392.8 1951.2L1393.2 1954.0L1393.6 1956.8L1393.9 1959.7L1394.3 1962.5L1394.7 1965.3L1395.1 1968.1L1395.5 1971.0L1395.9 1973.8L1396.2 1976.6L1396.6 1979.4L1397.0 1982.2L1397.4 1985.1L1397.8 1987.9L1398.1 1990.7L1398.5 1993.5L1398.9 1996.4L1399.3 1999.2L1399.7 2002.0L1400.1 2004.8L1400.5 2007.7L1400.9 2010.5L1401.3 2013.3L1401.7 2016.1L1402.1 2019.0L1402.5 2021.8L1402.9 2024.6L1403.3 2027.4L1403.7 2030.2L1404.1 2033.1L1404.6 2035.9L1405.0 2038.7L1405.4 2041.5L1405.8 2044.3L1406.3 2047.1L1406.7 2050.0L1407.2 2052.8L1407.6 2055.6L1408.1 2058.4L1408.6 2061.2L1409.1 2064.0L1409.6 2066.8L1410.1 2069.6L1410.6 2072.4L1411.1 2075.2L1411.6 2078.0L1412.2 2080.8L1412.7 2083.6L1413.3 2086.4L1413.9 2089.2L1414.5 2092.0L1415.1 2094.8L1415.7 2097.5L1416.3 2100.3L1416.9 2103.1L1417.6 2105.9L1418.2 2108.7L1418.9 2111.4L1419.6 2114.2L1420.3 2117.0L1421.0 2119.7L1421.6 2122.5L1422.3 2125.3L1423.1 2128.0L1423.8 2130.8L1424.5 2133.5L1425.2 2136.3L1425.9 2139.1L1426.6 2141.8L1427.3 2144.6L1428.1 2147.3L1428.8 2150.1L1429.5 2152.8L1430.3 2155.6L1431.0 2158.3L1431.7 2161.1L1432.5 2163.8L1433.2 2166.6L1434.0 2169.3L1434.8 2172.1L1435.5 2174.8L1436.3 2177.6L1437.1 2180.3L1437.9 2183.0L1438.7 2185.8L1439.6 2188.5L1440.4 2191.2L1441.2 2193.9L1442.1 2196.7L1443.0 2199.4L1443.8 2202.1L1444.7 2204.8L1445.6 2207.5L1446.5 2210.2L1447.4 2212.9L1448.3 2215.6L1449.3 2218.3L1450.2 2221.0L1451.1 2223.7L1452.1 2226.4L1453.0 2229.1L1454.0 2231.7L1454.9 2234.4L1455.9 2237.1L1456.8 2239.8L1457.8 2242.5L1458.7 2245.2L1459.7 2247.9L1460.7 2250.5L1461.6 2253.2L1462.6 2255.9L1463.5 2258.6L1464.5 2261.3L1465.4 2264.0L1466.4 2266.6L1467.4 2269.3L1468.3 2272.0L1469.3 2274.7L1470.3 2277.4L1471.2 2280.0L1472.2 2282.7L1473.2 2285.4L1474.2 2288.1L1475.2 2290.7L1476.2 2293.4L1477.2 2296.1L1478.2 2298.7L1479.2 2301.4L1480.3 2304.1L1481.3 2306.7L1482.3 2309.4L1483.4 2312.0L1484.4 2314.7L1485.5 2317.3L1486.6 2319.9L1487.7 2322.6L1488.7 2325.2L1489.8 2327.9L1490.9 2330.5L1492.0 2333.1L1493.1 2335.7L1494.2 2338.4L1495.3 2341.0L1496.4 2343.6L1497.5 2346.3L1498.6 2348.9L1499.8 2351.5L1500.9 2354.1L1502.0 2356.8L1503.1 2359.4L1504.2 2362.0" stroke="#ff1f2d" stroke-width="4.8" fill="none" stroke-linejoin="round"/>
<path d="M1257.8 2362.0L1258.1 2358.5L1258.4 2355.1L1258.7 2351.6L1259.1 2348.1L1259.4 2344.6L1259.7 2341.2L1260.0 2337.7L1260.4 2334.2L1260.7 2330.8L1261.1 2327.3L1261.4 2323.8L1261.8 2320.4L1262.2 2316.9L1262.6 2313.5L1263.0 2310.0L1263.4 2306.5L1263.8 2303.1L1264.2 2299.6L1264.7 2296.2L1265.1 2292.7L1265.6 2289.3L1266.0 2285.8L1266.5 2282.4L1267.0 2278.9L1267.4 2275.4L1267.9 2272.0L1268.4 2268.5L1268.9 2265.1L1269.4 2261.6L1269.9 2258.2L1270.3 2254.7L1270.8 2251.3L1271.3 2247.8L1271.8 2244.4L1272.3 2240.9L1272.8 2237.5L1273.2 2234.0L1273.7 2230.6L1274.2 2227.1L1274.7 2223.7L1275.2 2220.2L1275.7 2216.8L1276.1 2213.3L1276.6 2209.9L1277.1 2206.4L1277.6 2203.0L1278.0 2199.5L1278.5 2196.1L1279.0 2192.6L1279.5 2189.2L1279.9 2185.7L1280.4 2182.3L1280.8 2178.8L1281.3 2175.4L1281.8 2171.9L1282.2 2168.5L1282.7 2165.0L1283.1 2161.5L1283.6 2158.1L1284.0 2154.6L1284.5 2151.2L1285.0 2147.7L1285.4 2144.3L1285.9 2140.8L1286.3 2137.4L1286.7 2133.9L1287.2 2130.4L1287.6 2127.0L1288.1 2123.5L1288.5 2120.1L1289.0 2116.6L1289.4 2113.2L1289.9 2109.7L1290.3 2106.3L1290.7 2102.8L1291.2 2099.3L1291.6 2095.9L1292.1 2092.4L1292.5 2089.0L1292.9 2085.5L1293.4 2082.1L1293.8 2078.6L1294.3 2075.1L1294.7 2071.7L1295.1 2068.2L1295.6 2064.8L1296.0 2061.3L1296.4 2057.9L1296.9 2054.4L1297.3 2050.9L1297.7 2047.5L1298.2 2044.0L1298.6 2040.6L1299.0 2037.1L1299.5 2033.7L1299.9 2030.2L1300.3 2026.7L1300.8 2023.3L1301.2 2019.8L1301.6 2016.4L1302.0 2012.9L1302.5 2009.5L1302.9 2006.0L1303.3 2002.5L1303.8 1999.1L1304.2 1995.6L1304.6 1992.2L1305.1 1988.7L1305.5 1985.3L1305.9 1981.8L1306.4 1978.3L1306.8 1974.9L1307.3 1971.4L1307.7 1968.0L1308.2 1964.5L1308.6 1961.1L1309.1 1957.6L1309.5 1954.2L1310.0 1950.7L1310.4 1947.2L1310.9 1943.8L1311.3 1940.3L1311.8 1936.9L1312.3 1933.4L1312.7 1930.0L1313.2 1926.5L1313.7 1923.1L1314.2 1919.6L1314.6 1916.2L1315.1 1912.7L1315.6 1909.3L1316.1 1905.8L1316.6 1902.4L1317.1 1898.9L1317.6 1895.5L1318.1 1892.0L1318.6 1888.6L1319.1 1885.1L1319.6 1881.7L1320.1 1878.2L1320.7 1874.8L1321.2 1871.4L1321.7 1867.9L1322.3 1864.5L1322.8 1861.0L1323.4 1857.6L1324.0 1854.2L1324.5 1850.7L1325.1 1847.3L1325.7 1843.8L1326.2 1840.4L1326.8 1837.0L1327.4 1833.5L1328.0 1830.1L1328.6 1826.7L1329.2 1823.2L1329.8 1819.8L1330.4 1816.4L1331.0 1812.9L1331.5 1809.5L1331.7 1812.3L1331.8 1815.1L1331.9 1817.9L1332.0 1820.7L1332.1 1823.5L1332.3 1826.3L1332.4 1829.1L1332.5 1831.9L1332.6 1834.7L1332.7 1837.4L1332.9 1840.2L1333.0 1843.0L1333.1 1845.8L1333.3 1848.6L1333.4 1851.4L1333.5 1854.2L1333.6 1857.0L1333.8 1859.8L1333.9 1862.6L1334.1 1865.4L1334.2 1868.2L1334.4 1871.0L1334.5 1873.8L1334.7 1876.6L1334.9 1879.4L1335.0 1882.1L1335.2 1884.9L1335.4 1887.7L1335.6 1890.5L1335.8 1893.3L1336.0 1896.1L1336.2 1898.9L1336.4 1901.7L1336.6 1904.5L1336.9 1907.3L1337.1 1910.0L1337.3 1912.8L1337.6 1915.6L1337.8 1918.4L1338.1 1921.2L1338.3 1924.0L1338.5 1926.8L1338.8 1929.5L1339.0 1932.3L1339.3 1935.1L1339.5 1937.9L1339.8 1940.7L1340.0 1943.5L1340.3 1946.3L1340.5 1949.1L1340.8 1951.8L1341.0 1954.6L1341.2 1957.4L1341.5 1960.2L1341.7 1963.0L1341.9 1965.8L1342.2 1968.6L1342.4 1971.4L1342.7 1974.1L1342.9 1976.9L1343.1 1979.7L1343.4 1982.5L1343.6 1985.3L1343.8 1988.1L1344.1 1990.9L1344.3 1993.7L1344.5 1996.4L1344.8 1999.2L1345.0 2002.0L1345.3 2004.8L1345.5 2007.6L1345.8 2010.4L1346.0 2013.2L1346.2 2015.9L1346.5 2018.7L1346.7 2021.5L1347.0 2024.3L1347.3 2027.1L1347.5 2029.9L1347.8 2032.7L1348.0 2035.4L1348.3 2038.2L1348.6 2041.0L1348.8 2043.8L1349.1 2046.6L1349.4 2049.4L1349.6 2052.2L1349.9 2054.9L1350.2 2057.7L1350.5 2060.5L1350.8 2063.3L1351.1 2066.1L1351.4 2068.8L1351.7 2071.6L1352.1 2074.4L1352.4 2077.2L1352.7 2080.0L1353.1 2082.7L1353.4 2085.5L1353.8 2088.3L1354.1 2091.0L1354.5 2093.8L1354.9 2096.6L1355.3 2099.4L1355.7 2102.1L1356.1 2104.9L1356.5 2107.7L1356.9 2110.4L1357.3 2113.2L1357.7 2116.0L1358.2 2118.7L1358.6 2121.5L1359.0 2124.3L1359.5 2127.0L1359.9 2129.8L1360.4 2132.5L1360.8 2135.3L1361.3 2138.1L1361.7 2140.8L1362.2 2143.6L1362.6 2146.3L1363.1 2149.1L1363.5 2151.9L1364.0 2154.6L1364.4 2157.4L1364.9 2160.1L1365.4 2162.9L1365.9 2165.7L1366.3 2168.4L1366.8 2171.2L1367.3 2173.9L1367.8 2176.7L1368.3 2179.4L1368.8 2182.2L1369.3 2184.9L1369.8 2187.7L1370.4 2190.4L1370.9 2193.2L1371.4 2195.9L1372.0 2198.7L1372.5 2201.4L1373.1 2204.1L1373.6 2206.9L1374.2 2209.6L1374.8 2212.4L1375.4 2215.1L1376.0 2217.8L1376.5 2220.6L1377.1 2223.3L1377.7 2226.0L1378.3 2228.8L1378.9 2231.5L1379.5 2234.2L1380.2 2237.0L1380.8 2239.7L1381.4 2242.4L1382.0 2245.1L1382.6 2247.9L1383.2 2250.6L1383.8 2253.3L1384.4 2256.1L1385.0 2258.8L1385.6 2261.5L1386.2 2264.3L1386.8 2267.0L1387.5 2269.7L1388.1 2272.4L1388.7 2275.2L1389.3 2277.9L1389.9 2280.6L1390.6 2283.4L1391.2 2286.1L1391.8 2288.8L1392.5 2291.5L1393.1 2294.3L1393.7 2297.0L1394.4 2299.7L1395.1 2302.4L1395.7 2305.1L1396.4 2307.8L1397.0 2310.6L1397.7 2313.3L1398.4 2316.0L1399.1 2318.7L1399.8 2321.4L1400.5 2324.1L1401.2 2326.8L1401.9 2329.5L1402.6 2332.2L1403.3 2335.0L1404.0 2337.7L1404.7 2340.4L1405.4 2343.1L1406.1 2345.8L1406.8 2348.5L1407.6 2351.2L1408.3 2353.9L1409.0 2356.6L1409.7 2359.3L1410.4 2362.0" stroke="#3fb649" stroke-width="4.8" fill="none" stroke-linejoin="round"/>
<path d="M1256.9 2362.0L1257.1 2358.5L1257.3 2355.1L1257.5 2351.6L1257.8 2348.2L1258.0 2344.7L1258.2 2341.2L1258.5 2337.8L1258.7 2334.3L1259.0 2330.8L1259.2 2327.4L1259.5 2323.9L1259.8 2320.5L1260.0 2317.0L1260.3 2313.5L1260.6 2310.1L1260.9 2306.6L1261.2 2303.2L1261.5 2299.7L1261.9 2296.3L1262.2 2292.8L1262.5 2289.4L1262.9 2285.9L1263.2 2282.5L1263.6 2279.0L1263.9 2275.6L1264.3 2272.1L1264.6 2268.6L1265.0 2265.2L1265.3 2261.7L1265.7 2258.3L1266.0 2254.8L1266.4 2251.4L1266.7 2247.9L1267.1 2244.5L1267.5 2241.0L1267.8 2237.6L1268.2 2234.1L1268.5 2230.7L1268.9 2227.2L1269.2 2223.8L1269.6 2220.3L1269.9 2216.9L1270.3 2213.4L1270.6 2210.0L1271.0 2206.5L1271.3 2203.1L1271.7 2199.6L1272.0 2196.2L1272.4 2192.7L1272.7 2189.3L1273.1 2185.8L1273.4 2182.3L1273.7 2178.9L1274.1 2175.4L1274.4 2172.0L1274.8 2168.5L1275.1 2165.1L1275.4 2161.6L1275.8 2158.2L1276.1 2154.7L1276.4 2151.3L1276.7 2147.8L1277.1 2144.4L1277.4 2140.9L1277.7 2137.4L1278.1 2134.0L1278.4 2130.5L1278.7 2127.1L1279.0 2123.6L1279.4 2120.2L1279.7 2116.7L1280.0 2113.3L1280.3 2109.8L1280.7 2106.4L1281.0 2102.9L1281.3 2099.4L1281.6 2096.0L1282.0 2092.5L1282.3 2089.1L1282.6 2085.6L1282.9 2082.2L1283.3 2078.7L1283.6 2075.3L1283.9 2071.8L1284.2 2068.3L1284.5 2064.9L1284.9 2061.4L1285.2 2058.0L1285.5 2054.5L1285.8 2051.1L1286.1 2047.6L1286.4 2044.2L1286.8 2040.7L1287.1 2037.3L1287.4 2033.8L1287.7 2030.3L1288.0 2026.9L1288.3 2023.4L1288.6 2020.0L1289.0 2016.5L1289.3 2013.1L1289.6 2009.6L1289.9 2006.2L1290.2 2002.7L1290.5 1999.2L1290.9 1995.8L1291.2 1992.3L1291.5 1988.9L1291.8 1985.4L1292.1 1982.0L1292.5 1978.5L1292.8 1975.1L1293.1 1971.6L1293.4 1968.1L1293.8 1964.7L1294.1 1961.2L1294.4 1957.8L1294.7 1954.3L1295.1 1950.9L1295.4 1947.4L1295.8 1944.0L1296.1 1940.5L1296.4 1937.1L1296.8 1933.6L1297.1 1930.2L1297.5 1926.7L1297.8 1923.2L1298.1 1919.8L1298.5 1916.3L1298.9 1912.9L1299.2 1909.4L1299.6 1906.0L1299.9 1902.5L1300.3 1899.1L1300.6 1895.6L1301.0 1892.2L1301.4 1888.7L1301.8 1885.3L1302.1 1881.8L1302.5 1878.4L1302.9 1874.9L1303.3 1871.5L1303.7 1868.0L1304.1 1864.6L1304.5 1861.2L1304.9 1857.7L1305.3 1854.3L1305.8 1850.8L1306.2 1847.4L1306.6 1843.9L1307.0 1840.5L1307.5 1837.0L1307.9 1833.6L1308.3 1830.2L1308.7 1826.7L1309.2 1823.3L1309.6 1819.8L1310.0 1816.4L1310.5 1812.9L1310.9 1809.5L1311.0 1812.3L1311.1 1815.1L1311.2 1817.8L1311.3 1820.6L1311.3 1823.4L1311.4 1826.2L1311.5 1829.0L1311.6 1831.7L1311.7 1834.5L1311.8 1837.3L1311.9 1840.1L1312.0 1842.9L1312.0 1845.6L1312.1 1848.4L1312.2 1851.2L1312.3 1854.0L1312.4 1856.7L1312.5 1859.5L1312.6 1862.3L1312.7 1865.1L1312.8 1867.9L1312.9 1870.6L1313.0 1873.4L1313.2 1876.2L1313.3 1879.0L1313.4 1881.7L1313.5 1884.5L1313.7 1887.3L1313.8 1890.1L1313.9 1892.9L1314.1 1895.6L1314.2 1898.4L1314.4 1901.2L1314.5 1904.0L1314.7 1906.7L1314.9 1909.5L1315.0 1912.3L1315.2 1915.1L1315.4 1917.8L1315.5 1920.6L1315.7 1923.4L1315.9 1926.2L1316.1 1928.9L1316.3 1931.7L1316.4 1934.5L1316.6 1937.3L1316.8 1940.0L1317.0 1942.8L1317.1 1945.6L1317.3 1948.4L1317.5 1951.1L1317.6 1953.9L1317.8 1956.7L1318.0 1959.5L1318.2 1962.2L1318.3 1965.0L1318.5 1967.8L1318.7 1970.6L1318.8 1973.3L1319.0 1976.1L1319.2 1978.9L1319.3 1981.7L1319.5 1984.4L1319.7 1987.2L1319.8 1990.0L1320.0 1992.8L1320.2 1995.5L1320.3 1998.3L1320.5 2001.1L1320.7 2003.9L1320.9 2006.6L1321.0 2009.4L1321.2 2012.2L1321.4 2015.0L1321.6 2017.7L1321.7 2020.5L1321.9 2023.3L1322.1 2026.1L1322.3 2028.8L1322.5 2031.6L1322.7 2034.4L1322.8 2037.2L1323.0 2039.9L1323.2 2042.7L1323.4 2045.5L1323.6 2048.3L1323.8 2051.0L1324.0 2053.8L1324.2 2056.6L1324.4 2059.4L1324.6 2062.1L1324.8 2064.9L1325.1 2067.7L1325.3 2070.4L1325.5 2073.2L1325.8 2076.0L1326.0 2078.8L1326.2 2081.5L1326.5 2084.3L1326.7 2087.1L1327.0 2089.8L1327.3 2092.6L1327.5 2095.4L1327.8 2098.1L1328.1 2100.9L1328.4 2103.7L1328.7 2106.4L1329.0 2109.2L1329.3 2112.0L1329.6 2114.7L1329.9 2117.5L1330.2 2120.2L1330.5 2123.0L1330.8 2125.8L1331.1 2128.5L1331.4 2131.3L1331.8 2134.1L1332.1 2136.8L1332.4 2139.6L1332.7 2142.3L1333.0 2145.1L1333.4 2147.9L1333.7 2150.6L1334.0 2153.4L1334.4 2156.2L1334.7 2158.9L1335.0 2161.7L1335.4 2164.4L1335.7 2167.2L1336.0 2170.0L1336.4 2172.7L1336.7 2175.5L1337.1 2178.2L1337.5 2181.0L1337.8 2183.7L1338.2 2186.5L1338.6 2189.2L1338.9 2192.0L1339.3 2194.8L1339.7 2197.5L1340.1 2200.3L1340.5 2203.0L1340.9 2205.8L1341.3 2208.5L1341.7 2211.3L1342.2 2214.0L1342.6 2216.8L1343.0 2219.5L1343.4 2222.3L1343.9 2225.0L1344.3 2227.7L1344.7 2230.5L1345.2 2233.2L1345.6 2236.0L1346.0 2238.7L1346.5 2241.5L1346.9 2244.2L1347.4 2247.0L1347.8 2249.7L1348.2 2252.5L1348.7 2255.2L1349.1 2258.0L1349.5 2260.7L1350.0 2263.4L1350.4 2266.2L1350.9 2268.9L1351.3 2271.7L1351.8 2274.4L1352.2 2277.2L1352.6 2279.9L1353.1 2282.7L1353.6 2285.4L1354.0 2288.1L1354.5 2290.9L1354.9 2293.6L1355.4 2296.4L1355.9 2299.1L1356.3 2301.8L1356.8 2304.6L1357.3 2307.3L1357.8 2310.1L1358.3 2312.8L1358.8 2315.5L1359.2 2318.3L1359.7 2321.0L1360.2 2323.7L1360.8 2326.5L1361.3 2329.2L1361.8 2331.9L1362.3 2334.7L1362.8 2337.4L1363.3 2340.1L1363.8 2342.9L1364.3 2345.6L1364.9 2348.3L1365.4 2351.1L1365.9 2353.8L1366.4 2356.5L1366.9 2359.3L1367.5 2362.0" stroke="#2b4ba2" stroke-width="4.8" fill="none" stroke-linejoin="round"/>
<path d="M1256.3 2362.0L1256.5 2358.5L1256.6 2355.1L1256.8 2351.6L1257.0 2348.2L1257.2 2344.7L1257.3 2341.2L1257.5 2337.8L1257.7 2334.3L1257.9 2330.9L1258.1 2327.4L1258.3 2324.0L1258.5 2320.5L1258.7 2317.0L1258.9 2313.6L1259.2 2310.1L1259.4 2306.7L1259.6 2303.2L1259.9 2299.8L1260.1 2296.3L1260.4 2292.9L1260.6 2289.4L1260.9 2286.0L1261.1 2282.5L1261.4 2279.1L1261.7 2275.6L1261.9 2272.1L1262.2 2268.7L1262.5 2265.2L1262.7 2261.8L1263.0 2258.3L1263.3 2254.9L1263.6 2251.4L1263.8 2248.0L1264.1 2244.5L1264.4 2241.1L1264.6 2237.6L1264.9 2234.2L1265.2 2230.7L1265.5 2227.3L1265.7 2223.8L1266.0 2220.4L1266.3 2216.9L1266.5 2213.5L1266.8 2210.0L1267.1 2206.6L1267.3 2203.1L1267.6 2199.6L1267.9 2196.2L1268.1 2192.7L1268.4 2189.3L1268.7 2185.8L1268.9 2182.4L1269.2 2178.9L1269.4 2175.5L1269.7 2172.0L1269.9 2168.6L1270.2 2165.1L1270.5 2161.7L1270.7 2158.2L1271.0 2154.8L1271.2 2151.3L1271.5 2147.8L1271.7 2144.4L1272.0 2140.9L1272.2 2137.5L1272.5 2134.0L1272.7 2130.6L1273.0 2127.1L1273.2 2123.7L1273.5 2120.2L1273.7 2116.8L1274.0 2113.3L1274.2 2109.9L1274.5 2106.4L1274.7 2102.9L1275.0 2099.5L1275.2 2096.0L1275.4 2092.6L1275.7 2089.1L1275.9 2085.7L1276.2 2082.2L1276.4 2078.8L1276.7 2075.3L1276.9 2071.9L1277.2 2068.4L1277.4 2065.0L1277.6 2061.5L1277.9 2058.0L1278.1 2054.6L1278.4 2051.1L1278.6 2047.7L1278.9 2044.2L1279.1 2040.8L1279.3 2037.3L1279.6 2033.9L1279.8 2030.4L1280.1 2027.0L1280.3 2023.5L1280.5 2020.0L1280.8 2016.6L1281.0 2013.1L1281.3 2009.7L1281.5 2006.2L1281.7 2002.8L1282.0 1999.3L1282.2 1995.9L1282.5 1992.4L1282.7 1989.0L1283.0 1985.5L1283.2 1982.0L1283.5 1978.6L1283.7 1975.1L1283.9 1971.7L1284.2 1968.2L1284.4 1964.8L1284.7 1961.3L1284.9 1957.9L1285.2 1954.4L1285.5 1951.0L1285.7 1947.5L1286.0 1944.1L1286.2 1940.6L1286.5 1937.1L1286.7 1933.7L1287.0 1930.2L1287.3 1926.8L1287.5 1923.3L1287.8 1919.9L1288.1 1916.4L1288.3 1913.0L1288.6 1909.5L1288.9 1906.1L1289.1 1902.6L1289.4 1899.2L1289.7 1895.7L1290.0 1892.3L1290.3 1888.8L1290.6 1885.4L1290.8 1881.9L1291.1 1878.5L1291.4 1875.0L1291.7 1871.6L1292.0 1868.1L1292.3 1864.7L1292.7 1861.2L1293.0 1857.8L1293.3 1854.3L1293.6 1850.9L1293.9 1847.4L1294.2 1844.0L1294.6 1840.5L1294.9 1837.1L1295.2 1833.6L1295.6 1830.2L1295.9 1826.7L1296.2 1823.3L1296.6 1819.8L1296.9 1816.4L1297.2 1812.9L1297.5 1809.5L1297.6 1812.3L1297.7 1815.0L1297.7 1817.8L1297.8 1820.6L1297.9 1823.4L1297.9 1826.1L1298.0 1828.9L1298.1 1831.7L1298.1 1834.5L1298.2 1837.2L1298.3 1840.0L1298.3 1842.8L1298.4 1845.5L1298.5 1848.3L1298.6 1851.1L1298.6 1853.9L1298.7 1856.6L1298.8 1859.4L1298.9 1862.2L1298.9 1864.9L1299.0 1867.7L1299.1 1870.5L1299.2 1873.3L1299.3 1876.0L1299.4 1878.8L1299.5 1881.6L1299.6 1884.4L1299.7 1887.1L1299.8 1889.9L1299.9 1892.7L1300.0 1895.4L1300.1 1898.2L1300.2 1901.0L1300.3 1903.7L1300.5 1906.5L1300.6 1909.3L1300.7 1912.1L1300.9 1914.8L1301.0 1917.6L1301.1 1920.4L1301.3 1923.1L1301.4 1925.9L1301.5 1928.7L1301.7 1931.4L1301.8 1934.2L1301.9 1937.0L1302.1 1939.8L1302.2 1942.5L1302.3 1945.3L1302.5 1948.1L1302.6 1950.8L1302.7 1953.6L1302.9 1956.4L1303.0 1959.1L1303.1 1961.9L1303.3 1964.7L1303.4 1967.5L1303.5 1970.2L1303.7 1973.0L1303.8 1975.8L1303.9 1978.5L1304.0 1981.3L1304.2 1984.1L1304.3 1986.9L1304.4 1989.6L1304.6 1992.4L1304.7 1995.2L1304.8 1997.9L1305.0 2000.7L1305.1 2003.5L1305.2 2006.2L1305.4 2009.0L1305.5 2011.8L1305.6 2014.6L1305.8 2017.3L1305.9 2020.1L1306.0 2022.9L1306.2 2025.6L1306.3 2028.4L1306.5 2031.2L1306.6 2033.9L1306.8 2036.7L1306.9 2039.5L1307.0 2042.3L1307.2 2045.0L1307.3 2047.8L1307.5 2050.6L1307.7 2053.3L1307.8 2056.1L1308.0 2058.9L1308.1 2061.6L1308.3 2064.4L1308.5 2067.2L1308.6 2069.9L1308.8 2072.7L1309.0 2075.5L1309.2 2078.2L1309.4 2081.0L1309.6 2083.8L1309.7 2086.5L1309.9 2089.3L1310.2 2092.1L1310.4 2094.8L1310.6 2097.6L1310.8 2100.4L1311.0 2103.1L1311.2 2105.9L1311.5 2108.7L1311.7 2111.4L1311.9 2114.2L1312.2 2116.9L1312.4 2119.7L1312.6 2122.5L1312.9 2125.2L1313.1 2128.0L1313.4 2130.8L1313.6 2133.5L1313.9 2136.3L1314.1 2139.0L1314.4 2141.8L1314.6 2144.6L1314.9 2147.3L1315.1 2150.1L1315.4 2152.9L1315.6 2155.6L1315.9 2158.4L1316.1 2161.1L1316.4 2163.9L1316.7 2166.7L1316.9 2169.4L1317.2 2172.2L1317.5 2174.9L1317.8 2177.7L1318.0 2180.5L1318.3 2183.2L1318.6 2186.0L1318.9 2188.7L1319.2 2191.5L1319.5 2194.3L1319.8 2197.0L1320.1 2199.8L1320.4 2202.5L1320.7 2205.3L1321.0 2208.0L1321.3 2210.8L1321.7 2213.5L1322.0 2216.3L1322.3 2219.0L1322.6 2221.8L1323.0 2224.6L1323.3 2227.3L1323.7 2230.1L1324.0 2232.8L1324.3 2235.6L1324.7 2238.3L1325.0 2241.1L1325.3 2243.8L1325.7 2246.6L1326.0 2249.3L1326.4 2252.1L1326.7 2254.8L1327.0 2257.6L1327.4 2260.3L1327.7 2263.1L1328.1 2265.8L1328.4 2268.6L1328.8 2271.3L1329.1 2274.1L1329.4 2276.9L1329.8 2279.6L1330.1 2282.4L1330.5 2285.1L1330.8 2287.9L1331.2 2290.6L1331.6 2293.4L1331.9 2296.1L1332.3 2298.9L1332.7 2301.6L1333.0 2304.4L1333.4 2307.1L1333.8 2309.8L1334.1 2312.6L1334.5 2315.3L1334.9 2318.1L1335.3 2320.8L1335.7 2323.6L1336.1 2326.3L1336.5 2329.1L1336.9 2331.8L1337.3 2334.6L1337.7 2337.3L1338.1 2340.0L1338.5 2342.8L1338.9 2345.5L1339.3 2348.3L1339.7 2351.0L1340.1 2353.8L1340.5 2356.5L1340.9 2359.3L1341.3 2362.0" stroke="#22bfd2" stroke-width="4.8" fill="none" stroke-linejoin="round"/>
<path d="M1255.9 2362.0L1256.0 2358.5L1256.1 2355.1L1256.3 2351.6L1256.4 2348.2L1256.5 2344.7L1256.6 2341.3L1256.7 2337.8L1256.9 2334.4L1257.0 2330.9L1257.1 2327.4L1257.2 2324.0L1257.4 2320.5L1257.5 2317.1L1257.7 2313.6L1257.8 2310.2L1258.0 2306.7L1258.1 2303.3L1258.3 2299.8L1258.5 2296.4L1258.6 2292.9L1258.8 2289.5L1259.0 2286.0L1259.1 2282.5L1259.3 2279.1L1259.5 2275.6L1259.7 2272.2L1259.9 2268.7L1260.0 2265.3L1260.2 2261.8L1260.4 2258.4L1260.6 2254.9L1260.8 2251.5L1260.9 2248.0L1261.1 2244.6L1261.3 2241.1L1261.5 2237.7L1261.7 2234.2L1261.8 2230.8L1262.0 2227.3L1262.2 2223.8L1262.4 2220.4L1262.6 2216.9L1262.7 2213.5L1262.9 2210.0L1263.1 2206.6L1263.3 2203.1L1263.4 2199.7L1263.6 2196.2L1263.8 2192.8L1264.0 2189.3L1264.1 2185.9L1264.3 2182.4L1264.5 2179.0L1264.7 2175.5L1264.8 2172.1L1265.0 2168.6L1265.2 2165.1L1265.3 2161.7L1265.5 2158.2L1265.7 2154.8L1265.9 2151.3L1266.0 2147.9L1266.2 2144.4L1266.4 2141.0L1266.5 2137.5L1266.7 2134.1L1266.9 2130.6L1267.0 2127.2L1267.2 2123.7L1267.4 2120.3L1267.5 2116.8L1267.7 2113.3L1267.9 2109.9L1268.0 2106.4L1268.2 2103.0L1268.3 2099.5L1268.5 2096.1L1268.7 2092.6L1268.8 2089.2L1269.0 2085.7L1269.2 2082.3L1269.3 2078.8L1269.5 2075.4L1269.7 2071.9L1269.8 2068.4L1270.0 2065.0L1270.1 2061.5L1270.3 2058.1L1270.5 2054.6L1270.6 2051.2L1270.8 2047.7L1271.0 2044.3L1271.1 2040.8L1271.3 2037.4L1271.4 2033.9L1271.6 2030.5L1271.8 2027.0L1271.9 2023.6L1272.1 2020.1L1272.2 2016.6L1272.4 2013.2L1272.6 2009.7L1272.7 2006.3L1272.9 2002.8L1273.0 1999.4L1273.2 1995.9L1273.4 1992.5L1273.5 1989.0L1273.7 1985.6L1273.8 1982.1L1274.0 1978.7L1274.2 1975.2L1274.3 1971.7L1274.5 1968.3L1274.7 1964.8L1274.8 1961.4L1275.0 1957.9L1275.2 1954.5L1275.3 1951.0L1275.5 1947.6L1275.7 1944.1L1275.9 1940.7L1276.0 1937.2L1276.2 1933.8L1276.4 1930.3L1276.6 1926.9L1276.7 1923.4L1276.9 1919.9L1277.1 1916.5L1277.3 1913.0L1277.4 1909.6L1277.6 1906.1L1277.8 1902.7L1278.0 1899.2L1278.2 1895.8L1278.4 1892.3L1278.6 1888.9L1278.8 1885.4L1278.9 1882.0L1279.1 1878.5L1279.3 1875.1L1279.5 1871.6L1279.7 1868.2L1279.9 1864.7L1280.2 1861.3L1280.4 1857.8L1280.6 1854.4L1280.8 1850.9L1281.0 1847.5L1281.2 1844.0L1281.4 1840.6L1281.6 1837.1L1281.9 1833.7L1282.1 1830.2L1282.3 1826.8L1282.5 1823.3L1282.7 1819.9L1283.0 1816.4L1283.2 1813.0L1283.4 1809.5L1283.5 1812.3L1283.5 1815.0L1283.5 1817.8L1283.6 1820.6L1283.6 1823.3L1283.7 1826.1L1283.7 1828.9L1283.8 1831.6L1283.8 1834.4L1283.9 1837.2L1283.9 1839.9L1283.9 1842.7L1284.0 1845.5L1284.0 1848.2L1284.1 1851.0L1284.1 1853.8L1284.2 1856.5L1284.2 1859.3L1284.3 1862.1L1284.3 1864.8L1284.4 1867.6L1284.4 1870.4L1284.5 1873.1L1284.6 1875.9L1284.6 1878.7L1284.7 1881.4L1284.7 1884.2L1284.8 1887.0L1284.9 1889.7L1285.0 1892.5L1285.0 1895.3L1285.1 1898.0L1285.2 1900.8L1285.3 1903.6L1285.3 1906.3L1285.4 1909.1L1285.5 1911.9L1285.6 1914.6L1285.7 1917.4L1285.8 1920.2L1285.9 1922.9L1286.0 1925.7L1286.0 1928.5L1286.1 1931.2L1286.2 1934.0L1286.3 1936.8L1286.4 1939.5L1286.5 1942.3L1286.6 1945.1L1286.7 1947.8L1286.8 1950.6L1286.9 1953.4L1286.9 1956.1L1287.0 1958.9L1287.1 1961.7L1287.2 1964.4L1287.3 1967.2L1287.4 1969.9L1287.5 1972.7L1287.5 1975.5L1287.6 1978.2L1287.7 1981.0L1287.8 1983.8L1287.9 1986.5L1288.0 1989.3L1288.1 1992.1L1288.1 1994.8L1288.2 1997.6L1288.3 2000.4L1288.4 2003.1L1288.5 2005.9L1288.6 2008.7L1288.7 2011.4L1288.8 2014.2L1288.9 2017.0L1288.9 2019.7L1289.0 2022.5L1289.1 2025.3L1289.2 2028.0L1289.3 2030.8L1289.4 2033.6L1289.5 2036.3L1289.6 2039.1L1289.7 2041.9L1289.8 2044.6L1289.9 2047.4L1290.0 2050.2L1290.1 2052.9L1290.2 2055.7L1290.3 2058.5L1290.4 2061.2L1290.5 2064.0L1290.6 2066.7L1290.8 2069.5L1290.9 2072.3L1291.0 2075.0L1291.1 2077.8L1291.2 2080.6L1291.4 2083.3L1291.5 2086.1L1291.6 2088.9L1291.8 2091.6L1291.9 2094.4L1292.0 2097.2L1292.2 2099.9L1292.3 2102.7L1292.5 2105.4L1292.6 2108.2L1292.8 2111.0L1292.9 2113.7L1293.1 2116.5L1293.2 2119.3L1293.4 2122.0L1293.6 2124.8L1293.7 2127.5L1293.9 2130.3L1294.1 2133.1L1294.2 2135.8L1294.4 2138.6L1294.5 2141.4L1294.7 2144.1L1294.9 2146.9L1295.0 2149.6L1295.2 2152.4L1295.4 2155.2L1295.6 2157.9L1295.7 2160.7L1295.9 2163.5L1296.1 2166.2L1296.3 2169.0L1296.4 2171.7L1296.6 2174.5L1296.8 2177.3L1297.0 2180.0L1297.2 2182.8L1297.4 2185.5L1297.5 2188.3L1297.7 2191.1L1297.9 2193.8L1298.1 2196.6L1298.3 2199.3L1298.5 2202.1L1298.8 2204.9L1299.0 2207.6L1299.2 2210.4L1299.4 2213.1L1299.6 2215.9L1299.8 2218.7L1300.0 2221.4L1300.3 2224.2L1300.5 2226.9L1300.7 2229.7L1300.9 2232.5L1301.2 2235.2L1301.4 2238.0L1301.6 2240.7L1301.8 2243.5L1302.1 2246.2L1302.3 2249.0L1302.5 2251.8L1302.7 2254.5L1303.0 2257.3L1303.2 2260.0L1303.4 2262.8L1303.6 2265.5L1303.9 2268.3L1304.1 2271.1L1304.3 2273.8L1304.6 2276.6L1304.8 2279.3L1305.0 2282.1L1305.3 2284.9L1305.5 2287.6L1305.7 2290.4L1306.0 2293.1L1306.2 2295.9L1306.5 2298.6L1306.7 2301.4L1306.9 2304.1L1307.2 2306.9L1307.4 2309.7L1307.7 2312.4L1307.9 2315.2L1308.2 2317.9L1308.5 2320.7L1308.7 2323.4L1309.0 2326.2L1309.2 2328.9L1309.5 2331.7L1309.8 2334.5L1310.0 2337.2L1310.3 2340.0L1310.6 2342.7L1310.8 2345.5L1311.1 2348.2L1311.4 2351.0L1311.6 2353.7L1311.9 2356.5L1312.2 2359.2L1312.4 2362.0" stroke="#d04fa4" stroke-width="4.8" fill="none" stroke-linejoin="round"/>
<path d="M1255.5 2362.0L1255.6 2358.5L1255.7 2355.1L1255.8 2351.6L1255.8 2348.2L1255.9 2344.7L1256.0 2341.3L1256.1 2337.8L1256.2 2334.4L1256.3 2330.9L1256.3 2327.5L1256.4 2324.0L1256.5 2320.6L1256.6 2317.1L1256.7 2313.6L1256.8 2310.2L1256.9 2306.7L1257.0 2303.3L1257.1 2299.8L1257.3 2296.4L1257.4 2292.9L1257.5 2289.5L1257.6 2286.0L1257.7 2282.6L1257.8 2279.1L1258.0 2275.7L1258.1 2272.2L1258.2 2268.8L1258.3 2265.3L1258.5 2261.8L1258.6 2258.4L1258.7 2254.9L1258.8 2251.5L1258.9 2248.0L1259.1 2244.6L1259.2 2241.1L1259.3 2237.7L1259.4 2234.2L1259.6 2230.8L1259.7 2227.3L1259.8 2223.9L1259.9 2220.4L1260.0 2217.0L1260.2 2213.5L1260.3 2210.1L1260.4 2206.6L1260.5 2203.1L1260.7 2199.7L1260.8 2196.2L1260.9 2192.8L1261.0 2189.3L1261.1 2185.9L1261.3 2182.4L1261.4 2179.0L1261.5 2175.5L1261.6 2172.1L1261.7 2168.6L1261.8 2165.2L1262.0 2161.7L1262.1 2158.3L1262.2 2154.8L1262.3 2151.3L1262.4 2147.9L1262.5 2144.4L1262.6 2141.0L1262.8 2137.5L1262.9 2134.1L1263.0 2130.6L1263.1 2127.2L1263.2 2123.7L1263.3 2120.3L1263.4 2116.8L1263.5 2113.4L1263.7 2109.9L1263.8 2106.5L1263.9 2103.0L1264.0 2099.5L1264.1 2096.1L1264.2 2092.6L1264.3 2089.2L1264.4 2085.7L1264.6 2082.3L1264.7 2078.8L1264.8 2075.4L1264.9 2071.9L1265.0 2068.5L1265.1 2065.0L1265.2 2061.6L1265.3 2058.1L1265.4 2054.7L1265.5 2051.2L1265.7 2047.7L1265.8 2044.3L1265.9 2040.8L1266.0 2037.4L1266.1 2033.9L1266.2 2030.5L1266.3 2027.0L1266.4 2023.6L1266.5 2020.1L1266.6 2016.7L1266.7 2013.2L1266.9 2009.8L1267.0 2006.3L1267.1 2002.9L1267.2 1999.4L1267.3 1995.9L1267.4 1992.5L1267.5 1989.0L1267.6 1985.6L1267.7 1982.1L1267.8 1978.7L1268.0 1975.2L1268.1 1971.8L1268.2 1968.3L1268.3 1964.9L1268.4 1961.4L1268.5 1958.0L1268.6 1954.5L1268.8 1951.1L1268.9 1947.6L1269.0 1944.1L1269.1 1940.7L1269.2 1937.2L1269.3 1933.8L1269.5 1930.3L1269.6 1926.9L1269.7 1923.4L1269.8 1920.0L1269.9 1916.5L1270.1 1913.1L1270.2 1909.6L1270.3 1906.2L1270.4 1902.7L1270.6 1899.3L1270.7 1895.8L1270.8 1892.4L1270.9 1888.9L1271.1 1885.4L1271.2 1882.0L1271.3 1878.5L1271.5 1875.1L1271.6 1871.6L1271.7 1868.2L1271.9 1864.7L1272.0 1861.3L1272.2 1857.8L1272.3 1854.4L1272.5 1850.9L1272.6 1847.5L1272.7 1844.0L1272.9 1840.6L1273.0 1837.1L1273.2 1833.7L1273.3 1830.2L1273.5 1826.8L1273.6 1823.3L1273.8 1819.9L1273.9 1816.4L1274.1 1813.0L1274.2 1809.5L1274.3 1812.3L1274.3 1815.0L1274.3 1817.8L1274.4 1820.6L1274.4 1823.3L1274.4 1826.1L1274.4 1828.9L1274.5 1831.6L1274.5 1834.4L1274.5 1837.1L1274.6 1839.9L1274.6 1842.7L1274.6 1845.4L1274.7 1848.2L1274.7 1851.0L1274.7 1853.7L1274.7 1856.5L1274.8 1859.3L1274.8 1862.0L1274.8 1864.8L1274.9 1867.6L1274.9 1870.3L1275.0 1873.1L1275.0 1875.8L1275.0 1878.6L1275.1 1881.4L1275.1 1884.1L1275.2 1886.9L1275.2 1889.7L1275.3 1892.4L1275.3 1895.2L1275.4 1898.0L1275.4 1900.7L1275.5 1903.5L1275.5 1906.3L1275.6 1909.0L1275.6 1911.8L1275.7 1914.5L1275.7 1917.3L1275.8 1920.1L1275.9 1922.8L1275.9 1925.6L1276.0 1928.4L1276.0 1931.1L1276.1 1933.9L1276.2 1936.7L1276.2 1939.4L1276.3 1942.2L1276.3 1944.9L1276.4 1947.7L1276.4 1950.5L1276.5 1953.2L1276.6 1956.0L1276.6 1958.8L1276.7 1961.5L1276.7 1964.3L1276.8 1967.1L1276.8 1969.8L1276.9 1972.6L1277.0 1975.3L1277.0 1978.1L1277.1 1980.9L1277.1 1983.6L1277.2 1986.4L1277.2 1989.2L1277.3 1991.9L1277.4 1994.7L1277.4 1997.5L1277.5 2000.2L1277.5 2003.0L1277.6 2005.8L1277.6 2008.5L1277.7 2011.3L1277.8 2014.0L1277.8 2016.8L1277.9 2019.6L1277.9 2022.3L1278.0 2025.1L1278.1 2027.9L1278.1 2030.6L1278.2 2033.4L1278.3 2036.2L1278.3 2038.9L1278.4 2041.7L1278.4 2044.4L1278.5 2047.2L1278.6 2050.0L1278.6 2052.7L1278.7 2055.5L1278.8 2058.3L1278.9 2061.0L1278.9 2063.8L1279.0 2066.6L1279.1 2069.3L1279.1 2072.1L1279.2 2074.8L1279.3 2077.6L1279.4 2080.4L1279.5 2083.1L1279.6 2085.9L1279.6 2088.7L1279.7 2091.4L1279.8 2094.2L1279.9 2097.0L1280.0 2099.7L1280.1 2102.5L1280.2 2105.2L1280.3 2108.0L1280.4 2110.8L1280.5 2113.5L1280.6 2116.3L1280.7 2119.1L1280.8 2121.8L1280.9 2124.6L1281.0 2127.3L1281.1 2130.1L1281.2 2132.9L1281.3 2135.6L1281.5 2138.4L1281.6 2141.2L1281.7 2143.9L1281.8 2146.7L1281.9 2149.4L1282.0 2152.2L1282.1 2155.0L1282.2 2157.7L1282.3 2160.5L1282.5 2163.3L1282.6 2166.0L1282.7 2168.8L1282.8 2171.5L1282.9 2174.3L1283.0 2177.1L1283.2 2179.8L1283.3 2182.6L1283.4 2185.3L1283.5 2188.1L1283.7 2190.9L1283.8 2193.6L1283.9 2196.4L1284.1 2199.2L1284.2 2201.9L1284.3 2204.7L1284.5 2207.4L1284.6 2210.2L1284.7 2213.0L1284.9 2215.7L1285.0 2218.5L1285.2 2221.2L1285.3 2224.0L1285.5 2226.8L1285.6 2229.5L1285.8 2232.3L1285.9 2235.0L1286.1 2237.8L1286.2 2240.6L1286.4 2243.3L1286.5 2246.1L1286.7 2248.9L1286.8 2251.6L1287.0 2254.4L1287.1 2257.1L1287.3 2259.9L1287.4 2262.7L1287.6 2265.4L1287.7 2268.2L1287.9 2270.9L1288.0 2273.7L1288.2 2276.5L1288.3 2279.2L1288.5 2282.0L1288.6 2284.7L1288.8 2287.5L1288.9 2290.3L1289.1 2293.0L1289.2 2295.8L1289.4 2298.5L1289.6 2301.3L1289.7 2304.1L1289.9 2306.8L1290.0 2309.6L1290.2 2312.3L1290.4 2315.1L1290.5 2317.9L1290.7 2320.6L1290.9 2323.4L1291.1 2326.1L1291.2 2328.9L1291.4 2331.7L1291.6 2334.4L1291.8 2337.2L1291.9 2339.9L1292.1 2342.7L1292.3 2345.4L1292.5 2348.2L1292.6 2351.0L1292.8 2353.7L1293.0 2356.5L1293.2 2359.2L1293.3 2362.0" stroke="#f2e91c" stroke-width="4.8" fill="none" stroke-linejoin="round"/>
<path d="M1255.0 2362.0L1255.0 2358.5L1255.1 2355.1L1255.1 2351.6L1255.2 2348.2L1255.2 2344.7L1255.3 2341.3L1255.3 2337.8L1255.4 2334.4L1255.4 2330.9L1255.5 2327.5L1255.5 2324.0L1255.6 2320.6L1255.7 2317.1L1255.7 2313.7L1255.8 2310.2L1255.9 2306.7L1255.9 2303.3L1256.0 2299.8L1256.1 2296.4L1256.2 2292.9L1256.2 2289.5L1256.3 2286.0L1256.4 2282.6L1256.5 2279.1L1256.5 2275.7L1256.6 2272.2L1256.7 2268.8L1256.8 2265.3L1256.9 2261.9L1256.9 2258.4L1257.0 2254.9L1257.1 2251.5L1257.2 2248.0L1257.3 2244.6L1257.3 2241.1L1257.4 2237.7L1257.5 2234.2L1257.6 2230.8L1257.7 2227.3L1257.7 2223.9L1257.8 2220.4L1257.9 2217.0L1258.0 2213.5L1258.1 2210.1L1258.1 2206.6L1258.2 2203.2L1258.3 2199.7L1258.4 2196.2L1258.5 2192.8L1258.5 2189.3L1258.6 2185.9L1258.7 2182.4L1258.8 2179.0L1258.8 2175.5L1258.9 2172.1L1259.0 2168.6L1259.1 2165.2L1259.1 2161.7L1259.2 2158.3L1259.3 2154.8L1259.4 2151.4L1259.4 2147.9L1259.5 2144.4L1259.6 2141.0L1259.7 2137.5L1259.7 2134.1L1259.8 2130.6L1259.9 2127.2L1260.0 2123.7L1260.0 2120.3L1260.1 2116.8L1260.2 2113.4L1260.3 2109.9L1260.3 2106.5L1260.4 2103.0L1260.5 2099.6L1260.6 2096.1L1260.6 2092.6L1260.7 2089.2L1260.8 2085.7L1260.8 2082.3L1260.9 2078.8L1261.0 2075.4L1261.1 2071.9L1261.1 2068.5L1261.2 2065.0L1261.3 2061.6L1261.4 2058.1L1261.4 2054.7L1261.5 2051.2L1261.6 2047.8L1261.6 2044.3L1261.7 2040.9L1261.8 2037.4L1261.9 2033.9L1261.9 2030.5L1262.0 2027.0L1262.1 2023.6L1262.1 2020.1L1262.2 2016.7L1262.3 2013.2L1262.4 2009.8L1262.4 2006.3L1262.5 2002.9L1262.6 1999.4L1262.6 1996.0L1262.7 1992.5L1262.8 1989.1L1262.9 1985.6L1262.9 1982.1L1263.0 1978.7L1263.1 1975.2L1263.1 1971.8L1263.2 1968.3L1263.3 1964.9L1263.4 1961.4L1263.4 1958.0L1263.5 1954.5L1263.6 1951.1L1263.7 1947.6L1263.7 1944.2L1263.8 1940.7L1263.9 1937.3L1264.0 1933.8L1264.1 1930.3L1264.1 1926.9L1264.2 1923.4L1264.3 1920.0L1264.4 1916.5L1264.4 1913.1L1264.5 1909.6L1264.6 1906.2L1264.7 1902.7L1264.8 1899.3L1264.9 1895.8L1264.9 1892.4L1265.0 1888.9L1265.1 1885.5L1265.2 1882.0L1265.3 1878.6L1265.4 1875.1L1265.5 1871.6L1265.5 1868.2L1265.6 1864.7L1265.7 1861.3L1265.8 1857.8L1265.9 1854.4L1266.0 1850.9L1266.1 1847.5L1266.2 1844.0L1266.3 1840.6L1266.4 1837.1L1266.5 1833.7L1266.6 1830.2L1266.7 1826.8L1266.8 1823.3L1266.9 1819.9L1267.0 1816.4L1267.1 1813.0L1267.2 1809.5L1267.2 1812.3L1267.2 1815.0L1267.2 1817.8L1267.3 1820.6L1267.3 1823.3L1267.3 1826.1L1267.3 1828.8L1267.3 1831.6L1267.3 1834.4L1267.4 1837.1L1267.4 1839.9L1267.4 1842.7L1267.4 1845.4L1267.4 1848.2L1267.5 1850.9L1267.5 1853.7L1267.5 1856.5L1267.5 1859.2L1267.5 1862.0L1267.6 1864.8L1267.6 1867.5L1267.6 1870.3L1267.6 1873.1L1267.7 1875.8L1267.7 1878.6L1267.7 1881.3L1267.7 1884.1L1267.8 1886.9L1267.8 1889.6L1267.8 1892.4L1267.8 1895.2L1267.9 1897.9L1267.9 1900.7L1267.9 1903.4L1268.0 1906.2L1268.0 1909.0L1268.0 1911.7L1268.1 1914.5L1268.1 1917.3L1268.2 1920.0L1268.2 1922.8L1268.2 1925.6L1268.3 1928.3L1268.3 1931.1L1268.3 1933.8L1268.4 1936.6L1268.4 1939.4L1268.5 1942.1L1268.5 1944.9L1268.5 1947.7L1268.6 1950.4L1268.6 1953.2L1268.6 1955.9L1268.7 1958.7L1268.7 1961.5L1268.7 1964.2L1268.8 1967.0L1268.8 1969.8L1268.9 1972.5L1268.9 1975.3L1268.9 1978.1L1269.0 1980.8L1269.0 1983.6L1269.0 1986.3L1269.1 1989.1L1269.1 1991.9L1269.1 1994.6L1269.2 1997.4L1269.2 2000.2L1269.2 2002.9L1269.3 2005.7L1269.3 2008.4L1269.4 2011.2L1269.4 2014.0L1269.4 2016.7L1269.5 2019.5L1269.5 2022.3L1269.5 2025.0L1269.6 2027.8L1269.6 2030.6L1269.7 2033.3L1269.7 2036.1L1269.7 2038.8L1269.8 2041.6L1269.8 2044.4L1269.9 2047.1L1269.9 2049.9L1269.9 2052.7L1270.0 2055.4L1270.0 2058.2L1270.1 2060.9L1270.1 2063.7L1270.2 2066.5L1270.2 2069.2L1270.3 2072.0L1270.3 2074.8L1270.4 2077.5L1270.4 2080.3L1270.5 2083.0L1270.5 2085.8L1270.6 2088.6L1270.6 2091.3L1270.7 2094.1L1270.7 2096.9L1270.8 2099.6L1270.9 2102.4L1270.9 2105.1L1271.0 2107.9L1271.1 2110.7L1271.1 2113.4L1271.2 2116.2L1271.2 2119.0L1271.3 2121.7L1271.4 2124.5L1271.4 2127.2L1271.5 2130.0L1271.6 2132.8L1271.6 2135.5L1271.7 2138.3L1271.8 2141.1L1271.9 2143.8L1271.9 2146.6L1272.0 2149.3L1272.1 2152.1L1272.1 2154.9L1272.2 2157.6L1272.3 2160.4L1272.3 2163.2L1272.4 2165.9L1272.5 2168.7L1272.6 2171.4L1272.6 2174.2L1272.7 2177.0L1272.8 2179.7L1272.9 2182.5L1272.9 2185.3L1273.0 2188.0L1273.1 2190.8L1273.2 2193.5L1273.3 2196.3L1273.4 2199.1L1273.4 2201.8L1273.5 2204.6L1273.6 2207.4L1273.7 2210.1L1273.8 2212.9L1273.9 2215.6L1274.0 2218.4L1274.1 2221.2L1274.2 2223.9L1274.2 2226.7L1274.3 2229.5L1274.4 2232.2L1274.5 2235.0L1274.6 2237.7L1274.7 2240.5L1274.8 2243.3L1274.9 2246.0L1275.0 2248.8L1275.1 2251.5L1275.2 2254.3L1275.3 2257.1L1275.4 2259.8L1275.5 2262.6L1275.6 2265.4L1275.7 2268.1L1275.7 2270.9L1275.8 2273.6L1275.9 2276.4L1276.0 2279.2L1276.1 2281.9L1276.2 2284.7L1276.3 2287.4L1276.4 2290.2L1276.5 2293.0L1276.6 2295.7L1276.7 2298.5L1276.8 2301.3L1276.9 2304.0L1277.0 2306.8L1277.1 2309.5L1277.2 2312.3L1277.3 2315.1L1277.4 2317.8L1277.6 2320.6L1277.7 2323.3L1277.8 2326.1L1277.9 2328.9L1278.0 2331.6L1278.1 2334.4L1278.2 2337.2L1278.3 2339.9L1278.4 2342.7L1278.5 2345.4L1278.7 2348.2L1278.8 2351.0L1278.9 2353.7L1279.0 2356.5L1279.1 2359.2L1279.2 2362.0" stroke="#4a55b8" stroke-width="4.8" fill="none" stroke-linejoin="round"/>
<path d="M1254.6 2362.0L1254.6 2358.5L1254.6 2355.1L1254.7 2351.6L1254.7 2348.2L1254.8 2344.7L1254.8 2341.3L1254.8 2337.8L1254.9 2334.4L1254.9 2330.9L1255.0 2327.5L1255.0 2324.0L1255.1 2320.6L1255.1 2317.1L1255.1 2313.7L1255.2 2310.2L1255.2 2306.7L1255.3 2303.3L1255.3 2299.8L1255.4 2296.4L1255.5 2292.9L1255.5 2289.5L1255.6 2286.0L1255.6 2282.6L1255.7 2279.1L1255.7 2275.7L1255.8 2272.2L1255.9 2268.8L1255.9 2265.3L1256.0 2261.9L1256.0 2258.4L1256.1 2254.9L1256.2 2251.5L1256.2 2248.0L1256.3 2244.6L1256.3 2241.1L1256.4 2237.7L1256.4 2234.2L1256.5 2230.8L1256.6 2227.3L1256.6 2223.9L1256.7 2220.4L1256.7 2217.0L1256.8 2213.5L1256.9 2210.1L1256.9 2206.6L1257.0 2203.2L1257.0 2199.7L1257.1 2196.2L1257.1 2192.8L1257.2 2189.3L1257.3 2185.9L1257.3 2182.4L1257.4 2179.0L1257.4 2175.5L1257.5 2172.1L1257.5 2168.6L1257.6 2165.2L1257.7 2161.7L1257.7 2158.3L1257.8 2154.8L1257.8 2151.4L1257.9 2147.9L1257.9 2144.5L1258.0 2141.0L1258.0 2137.5L1258.1 2134.1L1258.1 2130.6L1258.2 2127.2L1258.3 2123.7L1258.3 2120.3L1258.4 2116.8L1258.4 2113.4L1258.5 2109.9L1258.5 2106.5L1258.6 2103.0L1258.6 2099.6L1258.7 2096.1L1258.7 2092.7L1258.8 2089.2L1258.8 2085.7L1258.9 2082.3L1259.0 2078.8L1259.0 2075.4L1259.1 2071.9L1259.1 2068.5L1259.2 2065.0L1259.2 2061.6L1259.3 2058.1L1259.3 2054.7L1259.4 2051.2L1259.4 2047.8L1259.5 2044.3L1259.5 2040.9L1259.6 2037.4L1259.6 2033.9L1259.7 2030.5L1259.7 2027.0L1259.8 2023.6L1259.8 2020.1L1259.9 2016.7L1260.0 2013.2L1260.0 2009.8L1260.1 2006.3L1260.1 2002.9L1260.2 1999.4L1260.2 1996.0L1260.3 1992.5L1260.3 1989.1L1260.4 1985.6L1260.4 1982.2L1260.5 1978.7L1260.5 1975.2L1260.6 1971.8L1260.6 1968.3L1260.7 1964.9L1260.8 1961.4L1260.8 1958.0L1260.9 1954.5L1260.9 1951.1L1261.0 1947.6L1261.0 1944.2L1261.1 1940.7L1261.1 1937.3L1261.2 1933.8L1261.3 1930.4L1261.3 1926.9L1261.4 1923.4L1261.4 1920.0L1261.5 1916.5L1261.5 1913.1L1261.6 1909.6L1261.7 1906.2L1261.7 1902.7L1261.8 1899.3L1261.8 1895.8L1261.9 1892.4L1262.0 1888.9L1262.0 1885.5L1262.1 1882.0L1262.2 1878.6L1262.2 1875.1L1262.3 1871.7L1262.3 1868.2L1262.4 1864.7L1262.5 1861.3L1262.6 1857.8L1262.6 1854.4L1262.7 1850.9L1262.8 1847.5L1262.8 1844.0L1262.9 1840.6L1263.0 1837.1L1263.0 1833.7L1263.1 1830.2L1263.2 1826.8L1263.3 1823.3L1263.3 1819.9L1263.4 1816.4L1263.5 1813.0L1263.6 1809.5L1263.6 1812.3L1263.6 1815.0L1263.6 1817.8L1263.6 1820.6L1263.6 1823.3L1263.6 1826.1L1263.6 1828.8L1263.6 1831.6L1263.6 1834.4L1263.7 1837.1L1263.7 1839.9L1263.7 1842.7L1263.7 1845.4L1263.7 1848.2L1263.7 1850.9L1263.7 1853.7L1263.7 1856.5L1263.8 1859.2L1263.8 1862.0L1263.8 1864.8L1263.8 1867.5L1263.8 1870.3L1263.8 1873.0L1263.8 1875.8L1263.9 1878.6L1263.9 1881.3L1263.9 1884.1L1263.9 1886.9L1263.9 1889.6L1263.9 1892.4L1264.0 1895.1L1264.0 1897.9L1264.0 1900.7L1264.0 1903.4L1264.0 1906.2L1264.1 1909.0L1264.1 1911.7L1264.1 1914.5L1264.1 1917.2L1264.1 1920.0L1264.2 1922.8L1264.2 1925.5L1264.2 1928.3L1264.2 1931.1L1264.3 1933.8L1264.3 1936.6L1264.3 1939.3L1264.3 1942.1L1264.3 1944.9L1264.4 1947.6L1264.4 1950.4L1264.4 1953.2L1264.4 1955.9L1264.5 1958.7L1264.5 1961.5L1264.5 1964.2L1264.5 1967.0L1264.5 1969.7L1264.6 1972.5L1264.6 1975.3L1264.6 1978.0L1264.6 1980.8L1264.6 1983.6L1264.7 1986.3L1264.7 1989.1L1264.7 1991.8L1264.7 1994.6L1264.8 1997.4L1264.8 2000.1L1264.8 2002.9L1264.8 2005.7L1264.8 2008.4L1264.9 2011.2L1264.9 2013.9L1264.9 2016.7L1264.9 2019.5L1265.0 2022.2L1265.0 2025.0L1265.0 2027.8L1265.0 2030.5L1265.0 2033.3L1265.1 2036.0L1265.1 2038.8L1265.1 2041.6L1265.1 2044.3L1265.2 2047.1L1265.2 2049.9L1265.2 2052.6L1265.2 2055.4L1265.3 2058.1L1265.3 2060.9L1265.3 2063.7L1265.4 2066.4L1265.4 2069.2L1265.4 2072.0L1265.4 2074.7L1265.5 2077.5L1265.5 2080.2L1265.5 2083.0L1265.6 2085.8L1265.6 2088.5L1265.6 2091.3L1265.7 2094.1L1265.7 2096.8L1265.7 2099.6L1265.8 2102.3L1265.8 2105.1L1265.8 2107.9L1265.9 2110.6L1265.9 2113.4L1266.0 2116.2L1266.0 2118.9L1266.0 2121.7L1266.1 2124.4L1266.1 2127.2L1266.2 2130.0L1266.2 2132.7L1266.2 2135.5L1266.3 2138.3L1266.3 2141.0L1266.4 2143.8L1266.4 2146.5L1266.5 2149.3L1266.5 2152.1L1266.5 2154.8L1266.6 2157.6L1266.6 2160.4L1266.7 2163.1L1266.7 2165.9L1266.8 2168.6L1266.8 2171.4L1266.8 2174.2L1266.9 2176.9L1266.9 2179.7L1267.0 2182.5L1267.0 2185.2L1267.1 2188.0L1267.1 2190.7L1267.2 2193.5L1267.2 2196.3L1267.3 2199.0L1267.3 2201.8L1267.4 2204.6L1267.4 2207.3L1267.5 2210.1L1267.5 2212.8L1267.6 2215.6L1267.6 2218.4L1267.7 2221.1L1267.8 2223.9L1267.8 2226.7L1267.9 2229.4L1267.9 2232.2L1268.0 2234.9L1268.0 2237.7L1268.1 2240.5L1268.2 2243.2L1268.2 2246.0L1268.3 2248.8L1268.3 2251.5L1268.4 2254.3L1268.4 2257.0L1268.5 2259.8L1268.5 2262.6L1268.6 2265.3L1268.7 2268.1L1268.7 2270.9L1268.8 2273.6L1268.8 2276.4L1268.9 2279.1L1268.9 2281.9L1269.0 2284.7L1269.1 2287.4L1269.1 2290.2L1269.2 2292.9L1269.2 2295.7L1269.3 2298.5L1269.4 2301.2L1269.4 2304.0L1269.5 2306.8L1269.6 2309.5L1269.6 2312.3L1269.7 2315.0L1269.7 2317.8L1269.8 2320.6L1269.9 2323.3L1269.9 2326.1L1270.0 2328.9L1270.1 2331.6L1270.1 2334.4L1270.2 2337.1L1270.3 2339.9L1270.3 2342.7L1270.4 2345.4L1270.5 2348.2L1270.5 2351.0L1270.6 2353.7L1270.7 2356.5L1270.7 2359.2L1270.8 2362.0" stroke="#ff6a1a" stroke-width="4.8" fill="none" stroke-linejoin="round"/>
<path d="M1254.0 2362.0v-16.5M1254.0 1739.5v16.5M1445.0 2362.0v-16.5M1445.0 1739.5v16.5M1636.0 2362.0v-16.5M1636.0 1739.5v16.5M1827.0 2362.0v-16.5M1827.0 1739.5v16.5M1292.2 2362.0v-9.5M1292.2 1739.5v9.5M1330.4 2362.0v-9.5M1330.4 1739.5v9.5M1368.6 2362.0v-9.5M1368.6 1739.5v9.5M1406.8 2362.0v-9.5M1406.8 1739.5v9.5M1483.2 2362.0v-9.5M1483.2 1739.5v9.5M1521.4 2362.0v-9.5M1521.4 1739.5v9.5M1559.6 2362.0v-9.5M1559.6 1739.5v9.5M1597.8 2362.0v-9.5M1597.8 1739.5v9.5M1674.2 2362.0v-9.5M1674.2 1739.5v9.5M1712.4 2362.0v-9.5M1712.4 1739.5v9.5M1750.6 2362.0v-9.5M1750.6 1739.5v9.5M1788.8 2362.0v-9.5M1788.8 1739.5v9.5M1865.2 2362.0v-9.5M1865.2 1739.5v9.5M1903.4 2362.0v-9.5M1903.4 1739.5v9.5M1235.0 2223.9h16.5M1924.0 2223.9h-16.5M1235.0 2085.8h16.5M1924.0 2085.8h-16.5M1235.0 1947.6h16.5M1924.0 1947.6h-16.5M1235.0 1809.5h16.5M1924.0 1809.5h-16.5M1235.0 2292.9h9.5M1924.0 2292.9h-9.5M1235.0 2154.8h9.5M1924.0 2154.8h-9.5M1235.0 2016.7h9.5M1924.0 2016.7h-9.5M1235.0 1878.6h9.5M1924.0 1878.6h-9.5" stroke="#111" stroke-width="4.4" fill="none"/>
<rect x="1235.0" y="1739.5" width="689.0" height="622.5" fill="none" stroke="#111" stroke-width="5.0"/>
<text transform="translate(1161.5,2378.4) scale(0.7765,1)" font-size="53.0" textLength="68.90" lengthAdjust="spacing" stroke="#000" stroke-width="0.69" stroke-linejoin="round">0.0</text>
<text transform="translate(1161.5,2240.3) scale(0.7765,1)" font-size="53.0" textLength="68.90" lengthAdjust="spacing" stroke="#000" stroke-width="0.69" stroke-linejoin="round">0.2</text>
<text transform="translate(1161.5,2102.2) scale(0.7765,1)" font-size="53.0" textLength="68.90" lengthAdjust="spacing" stroke="#000" stroke-width="0.69" stroke-linejoin="round">0.4</text>
<text transform="translate(1161.5,1964.0) scale(0.7765,1)" font-size="53.0" textLength="68.90" lengthAdjust="spacing" stroke="#000" stroke-width="0.69" stroke-linejoin="round">0.6</text>
<text transform="translate(1161.5,1825.9) scale(0.7765,1)" font-size="53.0" textLength="68.90" lengthAdjust="spacing" stroke="#000" stroke-width="0.69" stroke-linejoin="round">0.8</text>
<text transform="translate(1241.3,2420.0) scale(0.6888,1)" font-size="53.0" textLength="29.48" lengthAdjust="spacing" stroke="#000" stroke-width="0.69" stroke-linejoin="round">0</text>
<text transform="translate(1412.0,2420.0) scale(0.7308,1)" font-size="53.0" textLength="83.35" lengthAdjust="spacing" stroke="#000" stroke-width="0.69" stroke-linejoin="round">100</text>
<text transform="translate(1603.0,2420.0) scale(0.7308,1)" font-size="53.0" textLength="83.35" lengthAdjust="spacing" stroke="#000" stroke-width="0.69" stroke-linejoin="round">200</text>
<text transform="translate(1794.0,2420.0) scale(0.7308,1)" font-size="53.0" textLength="83.35" lengthAdjust="spacing" stroke="#000" stroke-width="0.69" stroke-linejoin="round">300</text>
<text transform="translate(1472.2,2498.0) scale(0.7977,1)" font-size="66.0" textLength="144.16" lengthAdjust="spacing" font-weight="bold">Time</text>
<text transform="translate(1618.5,2498.0) scale(0.8200,1)" font-size="66.0" textLength="76.34" lengthAdjust="spacing" font-weight="bold">(s)</text>
<text transform="translate(1132.2,2173.4) rotate(-90) translate(0.0,0) scale(0.7200,1)" font-size="69.4" textLength="397.22" lengthAdjust="spacing" font-weight="bold">Potential (V)</text>
<text transform="translate(1048.1,1764.0) scale(0.7925,1)" font-size="73.0" textLength="82.78" lengthAdjust="spacing" stroke="#000" stroke-width="2.40" stroke-linejoin="round">(e)</text>
<text transform="translate(1247.6,1804.0) scale(0.7793,1)" font-size="44.0" textLength="46.97" lengthAdjust="spacing" stroke="#000" stroke-width="0.57" stroke-linejoin="round">20</text>
<text transform="translate(1522.9,1803.0) scale(0.4904,1)" font-size="44.0" textLength="24.47" lengthAdjust="spacing" stroke="#000" stroke-width="0.57" stroke-linejoin="round">1</text>
<text transform="translate(1556.6,1804.0) scale(0.8200,1)" font-size="44.0" textLength="60.98" lengthAdjust="spacing" stroke="#000" stroke-width="0.57" stroke-linejoin="round">A g</text>
<text transform="translate(1616.6,1779.5) scale(0.9712,1)" font-size="22.0" textLength="19.56" lengthAdjust="spacing" stroke="#000" stroke-width="0.29" stroke-linejoin="round">-1</text>
<path d="M1316 1787H1523" stroke="#111" stroke-width="4.4" fill="none"/>
<path d="M1290 1787L1320 1778V1796Z" fill="#111"/>
<text transform="translate(1716.8,1812.5) scale(0.7569,1)" font-size="46.5" textLength="212.33" lengthAdjust="spacing" font-weight="bold" stroke="#000" stroke-width="1.40" stroke-linejoin="round">MCFC-900</text>
<path d="M297.0 3206.0v-16.5M297.0 2580.5v16.5M453.9 3206.0v-16.5M453.9 2580.5v16.5M610.8 3206.0v-16.5M610.8 2580.5v16.5M767.6 3206.0v-16.5M767.6 2580.5v16.5M924.5 3206.0v-16.5M924.5 2580.5v16.5M328.4 3206.0v-9.5M328.4 2580.5v9.5M359.8 3206.0v-9.5M359.8 2580.5v9.5M391.1 3206.0v-9.5M391.1 2580.5v9.5M422.5 3206.0v-9.5M422.5 2580.5v9.5M485.2 3206.0v-9.5M485.2 2580.5v9.5M516.6 3206.0v-9.5M516.6 2580.5v9.5M548.0 3206.0v-9.5M548.0 2580.5v9.5M579.4 3206.0v-9.5M579.4 2580.5v9.5M642.1 3206.0v-9.5M642.1 2580.5v9.5M673.5 3206.0v-9.5M673.5 2580.5v9.5M704.9 3206.0v-9.5M704.9 2580.5v9.5M736.2 3206.0v-9.5M736.2 2580.5v9.5M799.0 3206.0v-9.5M799.0 2580.5v9.5M830.4 3206.0v-9.5M830.4 2580.5v9.5M861.8 3206.0v-9.5M861.8 2580.5v9.5M893.1 3206.0v-9.5M893.1 2580.5v9.5M955.9 3206.0v-9.5M955.9 2580.5v9.5M282.0 3191.4h16.5M972.0 3191.4h-16.5M282.0 3052.4h16.5M972.0 3052.4h-16.5M282.0 2913.4h16.5M972.0 2913.4h-16.5M282.0 2774.4h16.5M972.0 2774.4h-16.5M282.0 2635.4h16.5M972.0 2635.4h-16.5M282.0 3163.6h9.5M972.0 3163.6h-9.5M282.0 3135.8h9.5M972.0 3135.8h-9.5M282.0 3108.0h9.5M972.0 3108.0h-9.5M282.0 3080.2h9.5M972.0 3080.2h-9.5M282.0 3024.6h9.5M972.0 3024.6h-9.5M282.0 2996.8h9.5M972.0 2996.8h-9.5M282.0 2969.0h9.5M972.0 2969.0h-9.5M282.0 2941.2h9.5M972.0 2941.2h-9.5M282.0 2885.6h9.5M972.0 2885.6h-9.5M282.0 2857.8h9.5M972.0 2857.8h-9.5M282.0 2830.0h9.5M972.0 2830.0h-9.5M282.0 2802.2h9.5M972.0 2802.2h-9.5M282.0 2746.6h9.5M972.0 2746.6h-9.5M282.0 2718.8h9.5M972.0 2718.8h-9.5M282.0 2691.0h9.5M972.0 2691.0h-9.5M282.0 2663.2h9.5M972.0 2663.2h-9.5M282.0 2607.6h9.5M972.0 2607.6h-9.5M282.0 2579.8h9.5M972.0 2579.8h-9.5" stroke="#111" stroke-width="4.4" fill="none"/>
<rect x="282.0" y="2580.5" width="690.0" height="625.5" fill="none" stroke="#111" stroke-width="5.0"/>
<path d="M328.4 2620.9L359.8 2720.5L391.1 2755.5L422.5 2774.1L453.9 2786.1L516.6 2809.2L610.8 2828.6L767.6 2849.5L924.5 2871.7" stroke="#2a50b4" stroke-width="4.2" fill="none"/><ellipse cx="328.4" cy="2620.9" rx="14.0" ry="14.5" fill="#fff" stroke="#2a50b4" stroke-width="2.4" stroke-opacity="0.82"/><path d="M314.4 2620.9A14.0 14.5 0 0 0 342.4 2620.9Z" fill="#2a50b4" stroke="#2a50b4" stroke-width="3.0"/><ellipse cx="359.8" cy="2720.5" rx="14.0" ry="14.5" fill="#fff" stroke="#2a50b4" stroke-width="2.4" stroke-opacity="0.82"/><path d="M345.8 2720.5A14.0 14.5 0 0 0 373.8 2720.5Z" fill="#2a50b4" stroke="#2a50b4" stroke-width="3.0"/><ellipse cx="391.1" cy="2755.5" rx="14.0" ry="14.5" fill="#fff" stroke="#2a50b4" stroke-width="2.4" stroke-opacity="0.82"/><path d="M377.1 2755.5A14.0 14.5 0 0 0 405.1 2755.5Z" fill="#2a50b4" stroke="#2a50b4" stroke-width="3.0"/><ellipse cx="422.5" cy="2774.1" rx="14.0" ry="14.5" fill="#fff" stroke="#2a50b4" stroke-width="2.4" stroke-opacity="0.82"/><path d="M408.5 2774.1A14.0 14.5 0 0 0 436.5 2774.1Z" fill="#2a50b4" stroke="#2a50b4" stroke-width="3.0"/><ellipse cx="453.9" cy="2786.1" rx="14.0" ry="14.5" fill="#fff" stroke="#2a50b4" stroke-width="2.4" stroke-opacity="0.82"/><path d="M439.9 2786.1A14.0 14.5 0 0 0 467.9 2786.1Z" fill="#2a50b4" stroke="#2a50b4" stroke-width="3.0"/><ellipse cx="516.6" cy="2809.2" rx="14.0" ry="14.5" fill="#fff" stroke="#2a50b4" stroke-width="2.4" stroke-opacity="0.82"/><path d="M502.6 2809.2A14.0 14.5 0 0 0 530.6 2809.2Z" fill="#2a50b4" stroke="#2a50b4" stroke-width="3.0"/><ellipse cx="610.8" cy="2828.6" rx="14.0" ry="14.5" fill="#fff" stroke="#2a50b4" stroke-width="2.4" stroke-opacity="0.82"/><path d="M596.8 2828.6A14.0 14.5 0 0 0 624.8 2828.6Z" fill="#2a50b4" stroke="#2a50b4" stroke-width="3.0"/><ellipse cx="767.6" cy="2849.5" rx="14.0" ry="14.5" fill="#fff" stroke="#2a50b4" stroke-width="2.4" stroke-opacity="0.82"/><path d="M753.6 2849.5A14.0 14.5 0 0 0 781.6 2849.5Z" fill="#2a50b4" stroke="#2a50b4" stroke-width="3.0"/><ellipse cx="924.5" cy="2871.7" rx="14.0" ry="14.5" fill="#fff" stroke="#2a50b4" stroke-width="2.4" stroke-opacity="0.82"/><path d="M910.5 2871.7A14.0 14.5 0 0 0 938.5 2871.7Z" fill="#2a50b4" stroke="#2a50b4" stroke-width="3.0"/>
<path d="M328.4 3145.0L359.8 3148.6L391.1 3152.5L422.5 3155.3L453.9 3157.2L516.6 3158.6L610.8 3159.4L767.6 3161.4L924.5 3163.0" stroke="#d455ae" stroke-width="4.2" fill="none"/><ellipse cx="328.4" cy="3145.0" rx="12.0" ry="12.5" fill="#fff" stroke="#d455ae" stroke-width="2.1" stroke-opacity="0.82"/><path d="M316.4 3145.0A12.0 12.5 0 0 0 340.4 3145.0Z" fill="#d455ae" stroke="#d455ae" stroke-width="2.6"/><ellipse cx="359.8" cy="3148.6" rx="12.0" ry="12.5" fill="#fff" stroke="#d455ae" stroke-width="2.1" stroke-opacity="0.82"/><path d="M347.8 3148.6A12.0 12.5 0 0 0 371.8 3148.6Z" fill="#d455ae" stroke="#d455ae" stroke-width="2.6"/><ellipse cx="391.1" cy="3152.5" rx="12.0" ry="12.5" fill="#fff" stroke="#d455ae" stroke-width="2.1" stroke-opacity="0.82"/><path d="M379.1 3152.5A12.0 12.5 0 0 0 403.1 3152.5Z" fill="#d455ae" stroke="#d455ae" stroke-width="2.6"/><ellipse cx="422.5" cy="3155.3" rx="12.0" ry="12.5" fill="#fff" stroke="#d455ae" stroke-width="2.1" stroke-opacity="0.82"/><path d="M410.5 3155.3A12.0 12.5 0 0 0 434.5 3155.3Z" fill="#d455ae" stroke="#d455ae" stroke-width="2.6"/><ellipse cx="453.9" cy="3157.2" rx="12.0" ry="12.5" fill="#fff" stroke="#d455ae" stroke-width="2.1" stroke-opacity="0.82"/><path d="M441.9 3157.2A12.0 12.5 0 0 0 465.9 3157.2Z" fill="#d455ae" stroke="#d455ae" stroke-width="2.6"/><ellipse cx="516.6" cy="3158.6" rx="12.0" ry="12.5" fill="#fff" stroke="#d455ae" stroke-width="2.1" stroke-opacity="0.82"/><path d="M504.6 3158.6A12.0 12.5 0 0 0 528.6 3158.6Z" fill="#d455ae" stroke="#d455ae" stroke-width="2.6"/><ellipse cx="610.8" cy="3159.4" rx="12.0" ry="12.5" fill="#fff" stroke="#d455ae" stroke-width="2.1" stroke-opacity="0.82"/><path d="M598.8 3159.4A12.0 12.5 0 0 0 622.8 3159.4Z" fill="#d455ae" stroke="#d455ae" stroke-width="2.6"/><ellipse cx="767.6" cy="3161.4" rx="12.0" ry="12.5" fill="#fff" stroke="#d455ae" stroke-width="2.1" stroke-opacity="0.82"/><path d="M755.6 3161.4A12.0 12.5 0 0 0 779.6 3161.4Z" fill="#d455ae" stroke="#d455ae" stroke-width="2.6"/><ellipse cx="924.5" cy="3163.0" rx="12.0" ry="12.5" fill="#fff" stroke="#d455ae" stroke-width="2.1" stroke-opacity="0.82"/><path d="M912.5 3163.0A12.0 12.5 0 0 0 936.5 3163.0Z" fill="#d455ae" stroke="#d455ae" stroke-width="2.6"/>
<path d="M328.4 3175.0L359.8 3175.8L391.1 3176.7L422.5 3177.5L453.9 3178.3L516.6 3179.4L610.8 3180.8L767.6 3181.9L924.5 3183.1" stroke="#ff1f2d" stroke-width="4.2" fill="none"/><path d="M328.4 3159.5L342.9 3175.0L328.4 3190.5L313.9 3175.0Z" fill="#ff1f2d"/><path d="M359.8 3160.3L374.2 3175.8L359.8 3191.3L345.2 3175.8Z" fill="#ff1f2d"/><path d="M391.1 3161.2L405.6 3176.7L391.1 3192.2L376.6 3176.7Z" fill="#ff1f2d"/><path d="M422.5 3162.0L437.0 3177.5L422.5 3193.0L408.0 3177.5Z" fill="#ff1f2d"/><path d="M453.9 3162.8L468.4 3178.3L453.9 3193.8L439.4 3178.3Z" fill="#ff1f2d"/><path d="M516.6 3163.9L531.1 3179.4L516.6 3194.9L502.1 3179.4Z" fill="#ff1f2d"/><path d="M610.8 3165.3L625.2 3180.8L610.8 3196.3L596.2 3180.8Z" fill="#ff1f2d"/><path d="M767.6 3166.4L782.1 3181.9L767.6 3197.4L753.1 3181.9Z" fill="#ff1f2d"/><path d="M924.5 3167.6L939.0 3183.1L924.5 3198.6L910.0 3183.1Z" fill="#ff1f2d"/>
<text transform="translate(240.3,3207.8) scale(0.7026,1)" font-size="53.0" textLength="29.48" lengthAdjust="spacing" stroke="#000" stroke-width="0.69" stroke-linejoin="round">0</text>
<text transform="translate(219.6,3068.8) scale(0.7341,1)" font-size="53.0" textLength="56.43" lengthAdjust="spacing" stroke="#000" stroke-width="0.69" stroke-linejoin="round">50</text>
<text transform="translate(198.9,2929.8) scale(0.7446,1)" font-size="53.0" textLength="83.45" lengthAdjust="spacing" stroke="#000" stroke-width="0.69" stroke-linejoin="round">100</text>
<text transform="translate(198.9,2790.8) scale(0.7446,1)" font-size="53.0" textLength="83.45" lengthAdjust="spacing" stroke="#000" stroke-width="0.69" stroke-linejoin="round">150</text>
<text transform="translate(198.9,2651.8) scale(0.7446,1)" font-size="53.0" textLength="83.45" lengthAdjust="spacing" stroke="#000" stroke-width="0.69" stroke-linejoin="round">200</text>
<text transform="translate(286.6,3260.0) scale(0.7026,1)" font-size="53.0" textLength="29.48" lengthAdjust="spacing" stroke="#000" stroke-width="0.69" stroke-linejoin="round">0</text>
<text transform="translate(443.5,3260.0) scale(0.7026,1)" font-size="53.0" textLength="29.48" lengthAdjust="spacing" stroke="#000" stroke-width="0.69" stroke-linejoin="round">5</text>
<text transform="translate(590.0,3260.0) scale(0.7341,1)" font-size="53.0" textLength="56.43" lengthAdjust="spacing" stroke="#000" stroke-width="0.69" stroke-linejoin="round">10</text>
<text transform="translate(746.9,3260.0) scale(0.7341,1)" font-size="53.0" textLength="56.43" lengthAdjust="spacing" stroke="#000" stroke-width="0.69" stroke-linejoin="round">15</text>
<text transform="translate(903.8,3260.0) scale(0.7341,1)" font-size="53.0" textLength="56.43" lengthAdjust="spacing" stroke="#000" stroke-width="0.69" stroke-linejoin="round">20</text>
<text transform="translate(317.7,3338.0) scale(0.8093,1)" font-size="66.0" textLength="447.80" lengthAdjust="spacing" font-weight="bold">Current density</text>
<text transform="translate(711.5,3338.5) scale(0.8200,1)" font-size="66.0" textLength="118.78" lengthAdjust="spacing" font-weight="bold">(A g</text>
<text transform="translate(816.4,3306.5) scale(0.8200,1)" font-size="42.0" textLength="47.56" lengthAdjust="spacing" font-weight="bold">−1</text>
<text transform="translate(859.8,3338.5) scale(0.6506,1)" font-size="66.0" textLength="21.98" lengthAdjust="spacing" font-weight="bold">)</text>
<text transform="translate(169.0,2973.6) rotate(-90) translate(0.0,0) scale(0.7177,1)" font-size="71.0" textLength="51.28" lengthAdjust="spacing" font-weight="bold">C</text>
<text transform="translate(193.5,2934.7) rotate(-90) translate(0.0,0) scale(0.7233,1)" font-size="44.0" textLength="24.47" lengthAdjust="spacing" font-weight="bold">s</text>
<text transform="translate(169.0,2898.6) rotate(-90) translate(0.0,0) scale(0.7644,1)" font-size="71.0" textLength="120.36" lengthAdjust="spacing" font-weight="bold">(F g</text>
<text transform="translate(136.3,2799.9) rotate(-90) translate(0.0,0) scale(0.7976,1)" font-size="43.0" textLength="47.14" lengthAdjust="spacing" font-weight="bold">−1</text>
<text transform="translate(169.0,2756.3) rotate(-90) translate(0.0,0) scale(0.6640,1)" font-size="71.0" textLength="23.65" lengthAdjust="spacing" font-weight="bold">)</text>
<text transform="translate(42.1,2634.0) scale(0.8200,1)" font-size="73.0" textLength="64.39" lengthAdjust="spacing" stroke="#000" stroke-width="2.20" stroke-linejoin="round">(f)</text>
<path d="M608.7 2635.4H721.7" stroke="#2a50b4" stroke-width="4.5" fill="none"/>
<ellipse cx="664.5" cy="2635.4" rx="14.0" ry="14.5" fill="#fff" stroke="#2a50b4" stroke-width="2.4" stroke-opacity="0.82"/><path d="M650.5 2635.4A14.0 14.5 0 0 0 678.5 2635.4Z" fill="#2a50b4" stroke="#2a50b4" stroke-width="3.0"/>
<text transform="translate(732.0,2650.4) scale(0.7829,1)" font-size="47.0" textLength="226.07" lengthAdjust="spacing" font-weight="bold" stroke="#000" stroke-width="1.40" stroke-linejoin="round">MCFC -900</text>
<path d="M608.7 2710.9H721.7" stroke="#d455ae" stroke-width="4.5" fill="none"/>
<ellipse cx="664.5" cy="2710.9" rx="12.0" ry="12.5" fill="#fff" stroke="#d455ae" stroke-width="2.1" stroke-opacity="0.82"/><path d="M652.5 2710.9A12.0 12.5 0 0 0 676.5 2710.9Z" fill="#d455ae" stroke="#d455ae" stroke-width="2.6"/>
<text transform="translate(732.0,2725.9) scale(0.7669,1)" font-size="47.0" textLength="249.71" lengthAdjust="spacing" font-weight="bold" stroke="#000" stroke-width="1.40" stroke-linejoin="round">MCFC -1500</text>
<path d="M608.7 2786.4H721.7" stroke="#ff1f2d" stroke-width="4.5" fill="none"/>
<path d="M664.5 2770.9L679.0 2786.4L664.5 2801.9L650.0 2786.4Z" fill="#ff1f2d"/>
<text transform="translate(732.0,2801.4) scale(0.7669,1)" font-size="47.0" textLength="249.71" lengthAdjust="spacing" font-weight="bold" stroke="#000" stroke-width="1.40" stroke-linejoin="round">MCFC -2000</text>
<path d="M1268.5 3207.5v-16.5M1268.5 2581.0v16.5M1388.7 3207.5v-16.5M1388.7 2581.0v16.5M1508.9 3207.5v-16.5M1508.9 2581.0v16.5M1629.0 3207.5v-16.5M1629.0 2581.0v16.5M1749.2 3207.5v-16.5M1749.2 2581.0v16.5M1869.4 3207.5v-16.5M1869.4 2581.0v16.5M1298.5 3207.5v-9.5M1298.5 2581.0v9.5M1328.6 3207.5v-9.5M1328.6 2581.0v9.5M1358.6 3207.5v-9.5M1358.6 2581.0v9.5M1418.7 3207.5v-9.5M1418.7 2581.0v9.5M1448.8 3207.5v-9.5M1448.8 2581.0v9.5M1478.8 3207.5v-9.5M1478.8 2581.0v9.5M1538.9 3207.5v-9.5M1538.9 2581.0v9.5M1569.0 3207.5v-9.5M1569.0 2581.0v9.5M1599.0 3207.5v-9.5M1599.0 2581.0v9.5M1659.1 3207.5v-9.5M1659.1 2581.0v9.5M1689.1 3207.5v-9.5M1689.1 2581.0v9.5M1719.2 3207.5v-9.5M1719.2 2581.0v9.5M1779.3 3207.5v-9.5M1779.3 2581.0v9.5M1809.3 3207.5v-9.5M1809.3 2581.0v9.5M1839.4 3207.5v-9.5M1839.4 2581.0v9.5M1899.4 3207.5v-9.5M1899.4 2581.0v9.5M1240.0 3102.2h16.5M1928.5 3102.2h-16.5M1240.0 2996.9h16.5M1928.5 2996.9h-16.5M1240.0 2891.6h16.5M1928.5 2891.6h-16.5M1240.0 2786.3h16.5M1928.5 2786.3h-16.5M1240.0 2681.0h16.5M1928.5 2681.0h-16.5M1240.0 3154.8h9.5M1928.5 3154.8h-9.5M1240.0 3049.6h9.5M1928.5 3049.6h-9.5M1240.0 2944.2h9.5M1928.5 2944.2h-9.5M1240.0 2838.9h9.5M1928.5 2838.9h-9.5M1240.0 2733.7h9.5M1928.5 2733.7h-9.5M1240.0 2628.3h9.5M1928.5 2628.3h-9.5" stroke="#111" stroke-width="4.4" fill="none"/>
<rect x="1240.0" y="2581.0" width="688.5" height="626.5" fill="none" stroke="#111" stroke-width="5.0"/>
<path d="M1268.5 2684.2L1274.5 2677.8L1280.5 2675.7L1286.5 2674.7L1292.5 2674.7L1298.5 2674.7L1304.6 2674.7L1310.6 2674.7L1316.6 2674.7L1322.6 2674.7L1328.6 2674.7L1358.6 2674.7L1388.7 2672.0L1418.7 2659.4L1448.8 2659.4L1508.9 2659.4L1569.0 2659.4L1629.0 2658.9L1689.1 2671.5L1749.2 2673.6L1809.3 2673.6L1869.4 2673.6" stroke="#2a50b4" stroke-width="4.2" fill="none"/>
<ellipse cx="1268.5" cy="2684.2" rx="12.0" ry="14.0" fill="#fff" stroke="#2a50b4" stroke-width="2.4" stroke-opacity="0.82"/><path d="M1268.5 2670.2A12.0 14.0 0 0 0 1268.5 2698.2Z" fill="#2a50b4" stroke="#2a50b4" stroke-width="3.0"/>
<ellipse cx="1274.5" cy="2677.8" rx="12.0" ry="14.0" fill="#fff" stroke="#2a50b4" stroke-width="2.4" stroke-opacity="0.82"/><path d="M1274.5 2663.8A12.0 14.0 0 0 0 1274.5 2691.8Z" fill="#2a50b4" stroke="#2a50b4" stroke-width="3.0"/>
<ellipse cx="1280.5" cy="2675.7" rx="12.0" ry="14.0" fill="#fff" stroke="#2a50b4" stroke-width="2.4" stroke-opacity="0.82"/><path d="M1280.5 2661.7A12.0 14.0 0 0 0 1280.5 2689.7Z" fill="#2a50b4" stroke="#2a50b4" stroke-width="3.0"/>
<ellipse cx="1286.5" cy="2674.7" rx="12.0" ry="14.0" fill="#fff" stroke="#2a50b4" stroke-width="2.4" stroke-opacity="0.82"/><path d="M1286.5 2660.7A12.0 14.0 0 0 0 1286.5 2688.7Z" fill="#2a50b4" stroke="#2a50b4" stroke-width="3.0"/>
<ellipse cx="1292.5" cy="2674.7" rx="12.0" ry="14.0" fill="#fff" stroke="#2a50b4" stroke-width="2.4" stroke-opacity="0.82"/><path d="M1292.5 2660.7A12.0 14.0 0 0 0 1292.5 2688.7Z" fill="#2a50b4" stroke="#2a50b4" stroke-width="3.0"/>
<ellipse cx="1298.5" cy="2674.7" rx="12.0" ry="14.0" fill="#fff" stroke="#2a50b4" stroke-width="2.4" stroke-opacity="0.82"/><path d="M1298.5 2660.7A12.0 14.0 0 0 0 1298.5 2688.7Z" fill="#2a50b4" stroke="#2a50b4" stroke-width="3.0"/>
<ellipse cx="1304.6" cy="2674.7" rx="12.0" ry="14.0" fill="#fff" stroke="#2a50b4" stroke-width="2.4" stroke-opacity="0.82"/><path d="M1304.6 2660.7A12.0 14.0 0 0 0 1304.6 2688.7Z" fill="#2a50b4" stroke="#2a50b4" stroke-width="3.0"/>
<ellipse cx="1310.6" cy="2674.7" rx="12.0" ry="14.0" fill="#fff" stroke="#2a50b4" stroke-width="2.4" stroke-opacity="0.82"/><path d="M1310.6 2660.7A12.0 14.0 0 0 0 1310.6 2688.7Z" fill="#2a50b4" stroke="#2a50b4" stroke-width="3.0"/>
<ellipse cx="1316.6" cy="2674.7" rx="12.0" ry="14.0" fill="#fff" stroke="#2a50b4" stroke-width="2.4" stroke-opacity="0.82"/><path d="M1316.6 2660.7A12.0 14.0 0 0 0 1316.6 2688.7Z" fill="#2a50b4" stroke="#2a50b4" stroke-width="3.0"/>
<ellipse cx="1322.6" cy="2674.7" rx="12.0" ry="14.0" fill="#fff" stroke="#2a50b4" stroke-width="2.4" stroke-opacity="0.82"/><path d="M1322.6 2660.7A12.0 14.0 0 0 0 1322.6 2688.7Z" fill="#2a50b4" stroke="#2a50b4" stroke-width="3.0"/>
<ellipse cx="1328.6" cy="2674.7" rx="12.0" ry="14.0" fill="#fff" stroke="#2a50b4" stroke-width="2.4" stroke-opacity="0.82"/><path d="M1328.6 2660.7A12.0 14.0 0 0 0 1328.6 2688.7Z" fill="#2a50b4" stroke="#2a50b4" stroke-width="3.0"/>
<ellipse cx="1358.6" cy="2674.7" rx="12.0" ry="14.0" fill="#fff" stroke="#2a50b4" stroke-width="2.4" stroke-opacity="0.82"/><path d="M1358.6 2660.7A12.0 14.0 0 0 0 1358.6 2688.7Z" fill="#2a50b4" stroke="#2a50b4" stroke-width="3.0"/>
<ellipse cx="1388.7" cy="2672.0" rx="12.0" ry="14.0" fill="#fff" stroke="#2a50b4" stroke-width="2.4" stroke-opacity="0.82"/><path d="M1388.7 2658.0A12.0 14.0 0 0 0 1388.7 2686.0Z" fill="#2a50b4" stroke="#2a50b4" stroke-width="3.0"/>
<ellipse cx="1418.7" cy="2659.4" rx="12.0" ry="14.0" fill="#fff" stroke="#2a50b4" stroke-width="2.4" stroke-opacity="0.82"/><path d="M1418.7 2645.4A12.0 14.0 0 0 0 1418.7 2673.4Z" fill="#2a50b4" stroke="#2a50b4" stroke-width="3.0"/>
<ellipse cx="1448.8" cy="2659.4" rx="12.0" ry="14.0" fill="#fff" stroke="#2a50b4" stroke-width="2.4" stroke-opacity="0.82"/><path d="M1448.8 2645.4A12.0 14.0 0 0 0 1448.8 2673.4Z" fill="#2a50b4" stroke="#2a50b4" stroke-width="3.0"/>
<ellipse cx="1508.9" cy="2659.4" rx="12.0" ry="14.0" fill="#fff" stroke="#2a50b4" stroke-width="2.4" stroke-opacity="0.82"/><path d="M1508.9 2645.4A12.0 14.0 0 0 0 1508.9 2673.4Z" fill="#2a50b4" stroke="#2a50b4" stroke-width="3.0"/>
<ellipse cx="1569.0" cy="2659.4" rx="12.0" ry="14.0" fill="#fff" stroke="#2a50b4" stroke-width="2.4" stroke-opacity="0.82"/><path d="M1569.0 2645.4A12.0 14.0 0 0 0 1569.0 2673.4Z" fill="#2a50b4" stroke="#2a50b4" stroke-width="3.0"/>
<ellipse cx="1629.0" cy="2658.9" rx="12.0" ry="14.0" fill="#fff" stroke="#2a50b4" stroke-width="2.4" stroke-opacity="0.82"/><path d="M1629.0 2644.9A12.0 14.0 0 0 0 1629.0 2672.9Z" fill="#2a50b4" stroke="#2a50b4" stroke-width="3.0"/>
<ellipse cx="1689.1" cy="2671.5" rx="12.0" ry="14.0" fill="#fff" stroke="#2a50b4" stroke-width="2.4" stroke-opacity="0.82"/><path d="M1689.1 2657.5A12.0 14.0 0 0 0 1689.1 2685.5Z" fill="#2a50b4" stroke="#2a50b4" stroke-width="3.0"/>
<ellipse cx="1749.2" cy="2673.6" rx="12.0" ry="14.0" fill="#fff" stroke="#2a50b4" stroke-width="2.4" stroke-opacity="0.82"/><path d="M1749.2 2659.6A12.0 14.0 0 0 0 1749.2 2687.6Z" fill="#2a50b4" stroke="#2a50b4" stroke-width="3.0"/>
<ellipse cx="1809.3" cy="2673.6" rx="12.0" ry="14.0" fill="#fff" stroke="#2a50b4" stroke-width="2.4" stroke-opacity="0.82"/><path d="M1809.3 2659.6A12.0 14.0 0 0 0 1809.3 2687.6Z" fill="#2a50b4" stroke="#2a50b4" stroke-width="3.0"/>
<ellipse cx="1869.4" cy="2673.6" rx="12.0" ry="14.0" fill="#fff" stroke="#2a50b4" stroke-width="2.4" stroke-opacity="0.82"/><path d="M1869.4 2659.6A12.0 14.0 0 0 0 1869.4 2687.6Z" fill="#2a50b4" stroke="#2a50b4" stroke-width="3.0"/>
<text transform="translate(1196.6,3223.9) scale(0.6749,1)" font-size="53.0" textLength="29.48" lengthAdjust="spacing" stroke="#000" stroke-width="0.69" stroke-linejoin="round">0</text>
<text transform="translate(1176.7,3118.6) scale(0.7064,1)" font-size="53.0" textLength="56.33" lengthAdjust="spacing" stroke="#000" stroke-width="0.69" stroke-linejoin="round">20</text>
<text transform="translate(1176.7,3013.3) scale(0.7064,1)" font-size="53.0" textLength="56.33" lengthAdjust="spacing" stroke="#000" stroke-width="0.69" stroke-linejoin="round">40</text>
<text transform="translate(1176.7,2908.0) scale(0.7064,1)" font-size="53.0" textLength="56.33" lengthAdjust="spacing" stroke="#000" stroke-width="0.69" stroke-linejoin="round">60</text>
<text transform="translate(1176.7,2802.7) scale(0.7064,1)" font-size="53.0" textLength="56.33" lengthAdjust="spacing" stroke="#000" stroke-width="0.69" stroke-linejoin="round">80</text>
<text transform="translate(1156.8,2697.4) scale(0.7169,1)" font-size="53.0" textLength="83.26" lengthAdjust="spacing" stroke="#000" stroke-width="0.69" stroke-linejoin="round">100</text>
<text transform="translate(1254.6,3262.0) scale(0.6749,1)" font-size="53.0" textLength="29.48" lengthAdjust="spacing" stroke="#000" stroke-width="0.69" stroke-linejoin="round">0</text>
<text transform="translate(1344.9,3262.0) scale(0.7221,1)" font-size="53.0" textLength="110.20" lengthAdjust="spacing" stroke="#000" stroke-width="0.69" stroke-linejoin="round">2000</text>
<text transform="translate(1465.1,3262.0) scale(0.7221,1)" font-size="53.0" textLength="110.20" lengthAdjust="spacing" stroke="#000" stroke-width="0.69" stroke-linejoin="round">4000</text>
<text transform="translate(1585.3,3262.0) scale(0.7221,1)" font-size="53.0" textLength="110.20" lengthAdjust="spacing" stroke="#000" stroke-width="0.69" stroke-linejoin="round">6000</text>
<text transform="translate(1705.4,3262.0) scale(0.7221,1)" font-size="53.0" textLength="110.20" lengthAdjust="spacing" stroke="#000" stroke-width="0.69" stroke-linejoin="round">8000</text>
<text transform="translate(1815.7,3262.0) scale(0.7252,1)" font-size="53.0" textLength="137.15" lengthAdjust="spacing" stroke="#000" stroke-width="0.69" stroke-linejoin="round">10000</text>
<text transform="translate(1392.7,3336.8) scale(0.8088,1)" font-size="66.0" textLength="473.52" lengthAdjust="spacing" font-weight="bold">Number of cycle</text>
<text transform="translate(1132.5,3090.0) rotate(-90) translate(0.0,0) scale(0.6577,1)" font-size="72.0" textLength="52.00" lengthAdjust="spacing" font-weight="bold">C</text>
<text transform="translate(1155.0,3052.5) rotate(-90) translate(0.0,0) scale(0.7492,1)" font-size="42.0" textLength="23.36" lengthAdjust="spacing" font-weight="bold">s</text>
<text transform="translate(1132.5,3017.5) rotate(-90) translate(0.0,0) scale(0.7200,1)" font-size="72.0" textLength="413.19" lengthAdjust="spacing" font-weight="bold">retention (%)</text>
<text transform="translate(1048.1,2634.8) scale(0.8200,1)" font-size="73.0" textLength="86.22" lengthAdjust="spacing" stroke="#000" stroke-width="2.20" stroke-linejoin="round">(g)</text>
<text transform="translate(1685.3,2809.8) scale(0.7626,1)" font-size="46.5" textLength="212.44" lengthAdjust="spacing" font-weight="bold" stroke="#000" stroke-width="1.40" stroke-linejoin="round">MCFC-900</text>
</g>
</svg>
</body></html>
